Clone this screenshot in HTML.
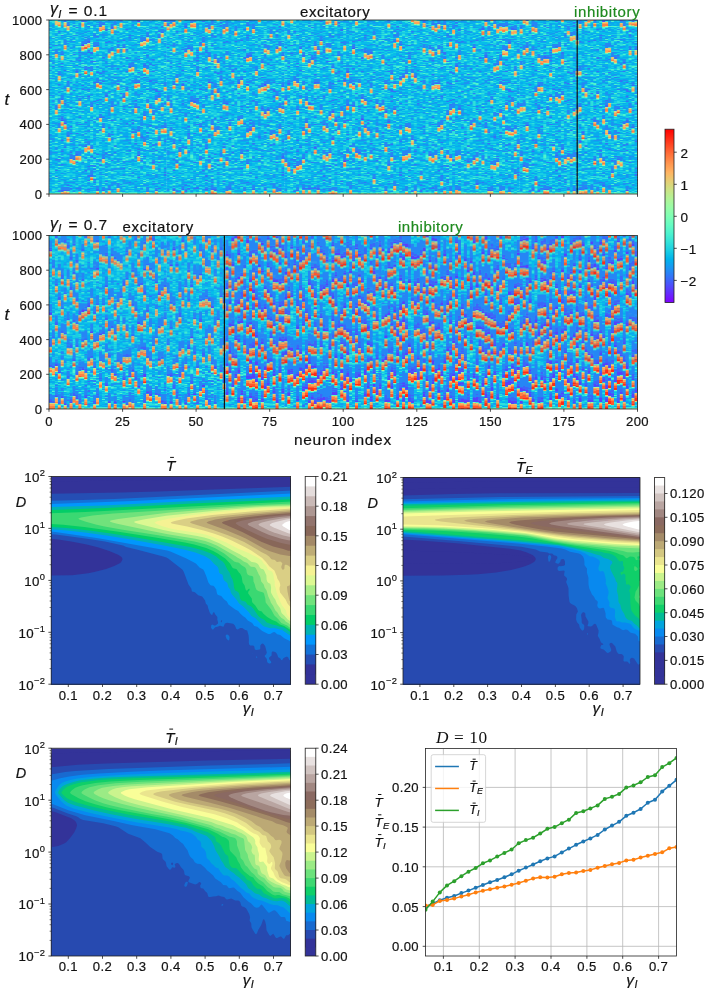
<!DOCTYPE html>
<html><head><meta charset="utf-8"><title>figure</title>
<style>html,body{margin:0;padding:0;background:#fff}svg{display:block}text{font-family:"Liberation Sans",sans-serif;stroke-width:0.2px;paint-order:stroke;letter-spacing:0.35px}</style></head>
<body><svg width="708" height="991" viewBox="0 0 708 991">
<rect width="708" height="991" fill="#fff"/>
<g opacity="0.999">
<defs><g id="nt"><rect x="0" y="0" width="40" height="174" fill="#07bcea"/><g fill="none" stroke-width="1.02"><path stroke="#3472f8" d="M0.5 146v1M1.5 127v1M2.5 17v1m0 5v1m0 10v1m0 105v1m0 7v1M3.5 2v1m0 31v1m0 74v1m0 52v1M4.5 29v1m0 12v1m0 10v1m0 73v1m0 2v1m0 27v1M5.5 46v1m0 43v1m0 32v1m0 20v1M6.5 2v2m0 4v1m0 103v1M7.5 5v1m0 35v1m0 10v1m0 7v1m0 6v1m0 18v1M8.5 14v1m0 88v1m0 35v1M9.5 5v1m0 25v1m0 28v1m0 67v1m0 37v1M10.5 5v2m0 62v1m0 6v1m0 18v1m0 23v1m0 13v1m0 2v1m0 1v1m0 2v1m0 1v1M11.5 104v1m0 3v1M12.5 23v1m0 30v1m0 16v1m0 84v1m0 15v1M13.5 4v1m0 8v1m0 3v2m0 8v1m0 14v1m0 8v1m0 45v1m0 6v1m0 21v1m0 14v1m0 1v1m0 23v1M14.5 28v1m0 8v1m0 94v1m0 2v1m0 4v2M15.5 11v1m0 2v1m0 9v1m0 2v1m0 7v1m0 56v1m0 18v1m0 20v1m0 15v1m0 9v1M16.5 39v1m0 35v1m0 13v1m0 3v1m0 16v1m0 10v1m0 35v1M17.5 28v1m0 4v1m0 29v1m0 7v1m0 22v1m0 25v1M18.5 76v1m0 35v1m0 9v1m0 13v1m0 31v1m0 2v1M19.5 1v1m0 10v1m0 27v1m0 56v1m0 53v1m0 11v2M20.5 66v1m0 35v1m0 49v1M21.5 33v1m0 20v1m0 4v1m0 13v1M22.5 41v1m0 5v1m0 40v1m0 30v1M23.5 104v1m0 20v1m0 26v1M24.5 74v1m0 25v1M25.5 25v1m0 58v1m0 2v1m0 65v1M26.5 70v1m0 51v1m0 12v2m0 7v1m0 19v1M27.5 11v1m0 31v1m0 42v1m0 69v1m0 1v1M28.5 70v1m0 2v1M29.5 50v1m0 10v1m0 31v1M30.5 16v1m0 27v1m0 41v1m0 34v1m0 12v1M31.5 0v1m0 32v1m0 22v2M32.5 37v1m0 42v1m0 35v1M33.5 61v1m0 42v1m0 33v1M34.5 68v1m0 43v2m0 15v1m0 24v1M35.5 48v1m0 55v1m0 17v1m0 5v1m0 5v1M36.5 43v1m0 5v1m0 42v1m0 4v1m0 4v3m0 6v1M37.5 5v1m0 25v1m0 52v1m0 17v1m0 55v1m0 3v1M38.5 83v1m0 80v1m0 2v1M39.5 18v2m0 1v1m0 3v1m0 26v1m0 37v1"/>
<path stroke="#1c92f3" d="M0.5 3v2m0 9v2m0 4v1m0 8v1m0 9v4m0 2v1m0 8v2m0 2v2m0 24v1m0 1v1m0 11v1m0 5v1m0 10v1m0 7v1m0 8v2m0 3v1m0 11v1m0 15v1M1.5 41v1m0 10v1m0 1v2m0 11v1m0 2v1m0 18v1m0 2v2m0 4v1m0 7v1m0 8v1m0 14v2m0 3v1m0 4v1m0 2v1m0 4v1m0 6v1m0 12v1M2.5 0v1m0 29v1m0 2v1m0 7v1m0 2v3m0 17v1m0 5v1m0 9v1m0 3v1m0 27v1m0 25v1m0 2v1m0 16v1M3.5 3v1m0 8v1m0 3v1m0 8v1m0 2v1m0 3v2m0 3v1m0 36v2m0 1v1m0 16v1m0 6v1m0 6v1m0 4v1m0 3v1m0 9v1m0 4v1m0 6v1m0 1v1m0 2v1m0 4v1m0 11v1M4.5 2v1m0 5v1m0 5v1m0 5v1m0 7v1m0 6v2m0 2v1m0 3v2m0 9v1m0 26v1m0 1v1m0 18v1m0 2v1m0 8v1m0 3v2m0 20v1m0 15v1M5.5 0v2m0 7v1m0 1v1m0 1v1m0 15v1m0 17v2m0 17v1m0 14v1m0 2v1m0 3v2m0 2v2m0 11v3m0 38v1m0 7v1m0 7v1M6.5 4v1m0 4v1m0 1v1m0 21v1m0 5v1m0 25v2m0 20v1m0 3v1m0 11v1m0 1v1m0 10v1m0 5v1m0 24v1m0 2v1m0 1v1m0 10v1m0 9v1M7.5 4v1m0 3v1m0 2v1m0 21v1m0 8v1m0 6v1m0 4v1m0 7v1m0 1v1m0 1v1m0 5v1m0 8v1m0 10v1m0 6v2m0 3v3m0 4v1m0 3v1m0 1v1m0 10v1m0 3v1m0 12v1m0 6v1m0 1v1m0 2v1M8.5 2v1m0 8v1m0 16v1m0 3v1m0 12v1m0 2v2m0 3v1m0 2v1m0 23v1m0 10v1m0 17v1m0 7v1m0 14v1m0 8v1m0 4v2m0 4v1m0 2v1m0 2v1m0 8v2m0 1v1M9.5 9v1m0 12v1m0 18v1m0 4v1m0 5v1m0 16v1m0 1v1m0 14v1m0 2v1m0 3v1m0 3v1m0 7v1m0 2v1m0 2v1m0 21v3m0 22v1m0 2v1M10.5 17v1m0 1v1m0 11v1m0 16v2m0 1v1m0 25v1m0 7v1m0 4v1m0 3v1m0 5v1m0 17v1m0 8v1m0 4v1m0 2v1m0 23v1m0 9v1M11.5 0v1m0 7v1m0 12v1m0 9v1m0 5v1m0 5v1m0 3v2m0 9v2m0 9v1m0 12v1m0 8v1m0 4v2m0 7v1m0 7v1m0 3v1m0 8v1m0 3v1m0 8v3m0 1v2m0 12v1m0 2v1M12.5 4v1m0 11v1m0 3v1m0 1v1m0 12v2m0 23v1m0 1v1m0 4v1m0 19v1m0 1v1m0 5v1m0 8v1m0 1v1m0 17v1m0 9v1m0 4v2m0 20v1m0 2v1M13.5 2v1m0 7v1m0 13v2m0 7v1m0 7v1m0 1v1m0 3v1m0 14v2m0 3v2m0 4v1m0 21v2m0 1v1m0 3v1m0 5v1m0 8v2m0 6v1m0 10v2m0 4v1m0 3v2m0 1v1m0 5v1m0 1v1m0 4v1m0 7v1M14.5 5v1m0 1v1m0 4v1m0 10v1m0 12v1m0 16v1m0 12v1m0 6v1m0 2v1m0 22v1m0 6v1m0 8v1m0 1v1m0 9v1m0 3v1M15.5 7v1m0 5v1m0 3v1m0 4v1m0 5v1m0 11v1m0 14v1m0 2v1m0 5v1m0 6v1m0 2v1m0 32v1m0 2v1m0 39v1m0 5v2m0 1v2m0 6v2M16.5 30v1m0 30v1m0 12v1m0 30v1m0 1v1m0 1v1m0 12v1m0 3v2m0 10v1m0 6v1m0 5v1m0 1v1m0 2v1m0 7v1m0 4v1m0 1v1M17.5 11v1m0 7v1m0 1v1m0 7v1m0 4v1m0 38v1m0 13v1m0 19v1m0 1v1m0 7v1m0 3v1m0 3v1m0 20v1m0 12v1m0 7v1m0 4v1M18.5 1v1m0 17v1m0 19v1m0 1v1m0 1v1m0 9v1m0 6v1m0 5v1m0 7v1m0 2v1m0 3v1m0 7v1m0 2v1m0 3v1m0 4v1m0 11v1m0 4v1m0 1v2m0 11v1m0 1v1m0 9v1m0 10v1m0 1v2m0 7v1m0 2v1M19.5 2v1m0 1v1m0 5v1m0 7v1m0 7v2m0 1v2m0 6v1m0 1v1m0 1v1m0 8v1m0 24v1m0 10v1m0 29v1m0 5v1m0 4v1m0 2v3m0 5v2m0 8v1m0 5v1m0 3v1m0 13v1M20.5 29v1m0 6v1m0 1v2m0 13v1m0 11v1m0 7v1m0 1v1m0 2v4m0 1v2m0 3v1m0 20v1m0 4v2m0 3v1m0 7v1m0 23v1m0 20v1M21.5 4v1m0 3v4m0 11v2m0 13v2m0 4v1m0 10v1m0 6v1m0 17v1m0 11v1m0 1v1m0 4v1m0 10v2m0 1v1m0 2v1m0 7v1m0 1v3m0 7v1m0 1v1m0 12v1m0 8v1m0 2v1m0 1v1m0 5v1M22.5 4v1m0 5v2m0 12v2m0 9v1m0 12v1m0 6v1m0 17v1m0 5v1m0 23v1m0 6v3m0 2v2m0 10v2m0 11v1m0 18v1m0 2v1m0 7v1M23.5 0v1m0 7v1m0 16v1m0 3v1m0 2v3m0 29v1m0 3v1m0 21v2m0 24v1m0 7v1m0 36v1M24.5 5v1m0 3v1m0 14v2m0 8v1m0 26v1m0 8v1m0 24v2m0 10v1m0 4v1m0 1v1m0 1v1m0 5v1m0 8v1m0 5v1m0 6v1m0 1v1m0 6v1m0 12v1m0 5v1M25.5 2v1m0 4v1m0 2v1m0 1v2m0 4v2m0 8v1m0 2v2m0 20v1m0 3v1m0 9v1m0 3v1m0 20v1m0 5v1m0 8v1m0 7v1m0 11v2m0 14v1m0 10v1M26.5 10v2m0 20v1m0 7v1m0 2v1m0 3v1m0 5v2m0 2v1m0 9v1m0 1v1m0 18v1m0 7v1m0 12v1m0 23v1m0 9v1M27.5 9v1m0 8v1m0 5v1m0 7v1m0 9v1m0 7v2m0 1v1m0 14v1m0 3v1m0 16v1m0 20v1m0 3v1m0 20v1m0 17v3m0 9v1M28.5 0v1m0 9v1m0 9v2m0 11v1m0 13v1m0 12v2m0 2v2m0 5v1m0 10v3m0 5v1m0 1v1m0 14v1m0 3v3m0 6v1m0 6v1m0 5v1m0 10v1m0 3v1m0 9v1m0 3v1m0 5v2m0 2v2M29.5 6v2m0 4v1m0 11v1m0 7v1m0 3v2m0 7v1m0 3v1m0 2v1m0 9v3m0 7v1m0 19v1m0 6v3m0 8v1m0 2v2m0 2v1m0 8v1m0 6v1m0 1v1m0 5v1m0 7v1m0 5v1m0 9v1m0 6v1M30.5 3v1m0 28v1m0 12v1m0 2v1m0 8v1m0 7v1m0 10v1m0 10v1m0 10v2m0 8v1m0 5v1m0 1v2m0 19v1m0 11v1m0 14v1m0 3v1m0 2v1M31.5 5v1m0 19v3m0 4v1m0 2v1m0 7v1m0 11v1m0 2v2m0 6v1m0 1v4m0 1v2m0 1v1m0 23v1m0 1v1m0 12v1m0 2v1m0 16v1m0 11v2m0 6v1m0 2v1M32.5 1v1m0 6v2m0 21v1m0 3v1m0 7v1m0 5v1m0 5v1m0 13v1m0 9v1m0 26v1m0 1v1m0 10v1m0 6v1m0 14v1m0 2v1m0 4v1m0 6v1M33.5 8v1m0 9v2m0 7v1m0 15v1m0 10v1m0 1v3m0 1v1m0 6v1m0 1v1m0 7v1m0 3v1m0 2v1m0 27v1m0 1v1m0 1v1m0 14v1m0 4v2m0 6v1m0 7v1m0 1v1m0 9v1M34.5 15v1m0 26v1m0 4v1m0 2v1m0 16v1m0 3v1m0 11v1m0 3v1m0 8v1m0 6v1m0 1v1m0 12v1m0 3v1m0 7v1m0 3v1m0 8v1m0 2v1m0 18v1m0 6v1M35.5 9v2m0 1v1m0 2v1m0 4v1m0 11v2m0 6v1m0 1v1m0 1v2m0 3v1m0 5v1m0 7v1m0 8v2m0 11v2m0 23v2m0 1v2m0 18v1m0 9v1m0 3v1m0 5v2m0 2v1m0 8v1M36.5 2v1m0 3v1m0 3v1m0 5v4m0 9v1m0 8v1m0 11v1m0 7v1m0 2v1m0 20v2m0 1v1m0 7v1m0 2v1m0 1v1m0 14v1m0 9v1m0 5v1m0 21v1m0 9v1m0 3v2m0 2v1M37.5 10v1m0 13v2m0 8v4m0 26v1m0 1v1m0 5v1m0 7v1m0 5v2m0 6v1m0 15v1m0 21v1m0 4v1m0 16v1m0 1v2m0 1v1m0 3v1m0 5v1M38.5 8v2m0 27v1m0 10v1m0 14v1m0 2v1m0 11v2m0 7v1m0 5v1m0 8v1m0 7v1m0 4v1m0 35v1m0 2v1m0 6v1m0 4v1m0 6v1M39.5 14v1m0 19v1m0 8v2m0 8v2m0 12v1m0 5v1m0 23v1m0 2v2m0 2v2m0 2v1m0 10v1m0 14v1m0 2v2m0 2v1m0 8v1m0 1v1m0 10v1m0 6v1"/>
<path stroke="#09aaee" d="M0.5 1v1m0 3v1m0 1v1m0 2v1m0 1v2m0 3v2m0 7v2m0 3v1m0 2v3m0 6v1m0 4v2m0 1v1m0 4v2m0 5v1m0 2v1m0 1v1m0 6v2m0 3v1m0 19v2m0 4v2m0 2v2m0 24v1m0 4v1m0 9v1m0 3v2m0 6v2m0 2v2m0 4v1M1.5 1v1m0 4v1m0 3v1m0 1v2m0 2v1m0 3v1m0 5v2m0 2v2m0 1v1m0 1v1m0 4v1m0 12v1m0 3v2m0 9v1m0 2v2m0 23v2m0 2v2m0 2v1m0 12v2m0 2v1m0 3v2m0 5v2m0 17v2m0 11v1m0 1v2m0 1v1M2.5 6v1m0 8v1m0 5v1m0 2v1m0 3v2m0 5v1m0 4v1m0 9v1m0 6v3m0 6v1m0 2v1m0 1v1m0 5v2m0 6v2m0 12v1m0 5v1m0 4v1m0 2v5m0 2v1m0 7v1m0 6v1m0 3v1m0 16v1m0 2v2m0 10v1M3.5 7v1m0 2v1m0 7v1m0 4v1m0 5v1m0 6v1m0 10v1m0 1v1m0 1v1m0 1v1m0 2v1m0 4v1m0 4v3m0 9v1m0 2v1m0 3v1m0 3v1m0 2v1m0 2v1m0 2v1m0 3v1m0 3v1m0 15v1m0 6v1m0 5v1m0 12v1m0 2v2m0 7v1m0 6v1m0 2v1M4.5 3v1m0 3v1m0 32v2m0 6v1m0 1v3m0 3v1m0 2v1m0 2v1m0 14v1m0 1v1m0 2v1m0 1v1m0 3v2m0 1v1m0 3v1m0 1v4m0 8v1m0 2v1m0 4v1m0 2v2m0 2v3m0 5v4m0 5v1m0 6v1m0 6v1m0 6v1m0 3v2m0 4v2M5.5 10v1m0 1v1m0 1v1m0 1v1m0 3v1m0 1v1m0 5v1m0 5v2m0 4v2m0 7v2m0 4v1m0 9v1m0 3v1m0 2v4m0 2v1m0 7v1m0 12v2m0 2v1m0 11v1m0 3v2m0 1v1m0 1v1m0 1v1m0 1v1m0 5v1m0 1v1m0 1v1m0 2v1m0 11v1m0 2v3m0 6v1m0 1v1m0 1v2M6.5 14v1m0 6v1m0 5v1m0 6v3m0 3v1m0 7v2m0 3v1m0 5v2m0 1v1m0 1v1m0 3v2m0 1v2m0 1v1m0 6v1m0 2v1m0 1v1m0 1v2m0 6v2m0 6v1m0 1v1m0 1v1m0 9v1m0 9v1m0 6v1m0 12v1m0 6v1m0 1v1m0 1v3m0 2v1m0 3v2M7.5 1v1m0 5v1m0 4v1m0 2v1m0 8v2m0 1v1m0 6v1m0 8v1m0 4v1m0 1v1m0 10v1m0 1v1m0 4v1m0 2v1m0 2v1m0 5v1m0 2v1m0 1v1m0 4v2m0 1v1m0 1v2m0 19v1m0 16v1m0 4v1m0 4v1m0 2v1m0 4v1m0 1v1m0 9v1m0 7v1m0 1v1M8.5 0v1m0 2v1m0 1v2m0 3v1m0 1v1m0 3v1m0 4v1m0 2v2m0 1v1m0 15v2m0 1v1m0 3v2m0 2v2m0 1v1m0 2v1m0 13v2m0 2v1m0 7v1m0 9v1m0 9v1m0 1v1m0 13v2m0 2v3m0 1v1m0 17v2m0 1v1m0 4v1m0 5v1m0 8v3M9.5 4v1m0 1v1m0 5v1m0 1v5m0 1v1m0 5v1m0 12v1m0 18v1m0 9v1m0 1v1m0 5v2m0 2v1m0 1v2m0 6v1m0 4v2m0 1v1m0 8v1m0 4v1m0 2v1m0 1v1m0 30v1m0 11v1m0 11v1M10.5 2v2m0 3v1m0 19v1m0 2v1m0 4v1m0 2v2m0 1v1m0 2v1m0 13v2m0 2v1m0 8v1m0 6v1m0 3v1m0 9v1m0 12v1m0 3v2m0 5v1m0 6v1m0 5v2m0 3v1m0 2v1m0 1v2m0 3v2m0 2v1m0 8v1m0 2v2m0 1v1m0 1v4m0 1v1m0 2v1M11.5 5v1m0 5v2m0 2v1m0 1v1m0 2v1m0 1v1m0 6v2m0 10v2m0 6v1m0 17v1m0 13v1m0 5v1m0 2v1m0 4v1m0 37v1m0 2v1m0 12v1m0 4v2m0 2v1m0 3v1m0 7v1m0 2v1M12.5 1v1m0 1v1m0 3v2m0 5v2m0 8v1m0 1v3m0 1v1m0 8v1m0 1v1m0 2v1m0 6v3m0 2v2m0 7v2m0 2v2m0 9v1m0 2v2m0 3v1m0 3v1m0 4v1m0 1v1m0 3v1m0 6v2m0 1v1m0 2v2m0 7v1m0 4v3m0 2v1m0 1v1m0 3v1m0 11v2m0 3v1m0 3v1m0 3v4m0 3v1M13.5 3v1m0 1v1m0 2v2m0 1v1m0 2v1m0 1v1m0 3v1m0 5v1m0 1v2m0 1v1m0 2v1m0 3v2m0 8v2m0 2v2m0 2v2m0 11v4m0 2v1m0 5v2m0 6v1m0 3v2m0 8v1m0 1v1m0 4v1m0 2v2m0 8v2m0 5v1m0 3v1m0 3v1m0 5v2m0 5v1m0 1v2m0 10v2m0 2v1m0 1v1m0 1v1M14.5 3v1m0 11v2m0 1v1m0 2v2m0 1v2m0 1v1m0 4v2m0 4v1m0 2v1m0 4v1m0 5v1m0 9v1m0 14v1m0 5v1m0 2v1m0 2v2m0 1v1m0 5v1m0 5v1m0 3v1m0 9v1m0 3v1m0 1v1m0 1v1m0 3v1m0 5v1m0 1v2m0 14v2m0 2v1m0 1v1m0 7v1m0 1v2M15.5 3v1m0 1v1m0 3v1m0 2v1m0 5v1m0 6v1m0 10v1m0 4v1m0 7v1m0 3v2m0 4v1m0 2v2m0 8v1m0 17v1m0 14v2m0 1v1m0 3v1m0 1v1m0 3v2m0 4v1m0 4v1m0 19v1m0 13v1m0 1v1m0 6v1M16.5 0v1m0 1v1m0 11v1m0 8v1m0 2v1m0 5v3m0 5v1m0 6v1m0 8v1m0 5v2m0 3v4m0 5v1m0 8v3m0 3v1m0 2v1m0 3v2m0 3v1m0 2v1m0 4v3m0 16v1m0 1v2m0 5v1m0 4v1m0 1v1m0 1v1m0 5v1m0 5v1m0 1v2m0 1v1M17.5 3v1m0 3v4m0 1v2m0 1v2m0 3v1m0 2v3m0 13v1m0 2v1m0 5v1m0 1v2m0 12v1m0 2v1m0 13v1m0 2v1m0 4v3m0 1v1m0 3v1m0 1v1m0 5v1m0 13v1m0 13v1m0 4v1m0 6v1m0 7v2m0 3v1m0 10v2M18.5 2v1m0 1v1m0 3v1m0 15v2m0 3v2m0 4v2m0 1v1m0 1v1m0 1v1m0 4v1m0 4v1m0 2v1m0 6v1m0 1v1m0 4v1m0 2v1m0 11v2m0 2v1m0 18v1m0 2v1m0 6v1m0 5v3m0 2v1m0 1v1m0 7v4m0 11v1m0 3v1m0 2v1m0 1v1m0 1v1M19.5 0v1m0 4v1m0 3v1m0 3v1m0 5v2m0 1v3m0 6v1m0 12v1m0 2v2m0 12v1m0 10v3m0 2v2m0 1v2m0 7v1m0 5v1m0 4v2m0 3v2m0 3v1m0 1v2m0 12v1m0 7v1m0 2v1m0 7v1m0 4v1m0 1v1m0 3v1m0 2v3m0 3v1m0 1v1M20.5 1v1m0 15v1m0 5v1m0 3v2m0 5v2m0 5v2m0 6v2m0 1v1m0 14v3m0 6v1m0 5v1m0 2v1m0 1v1m0 2v4m0 2v1m0 4v1m0 8v1m0 6v2m0 6v1m0 2v1m0 1v1m0 9v3m0 1v2m0 9v1m0 3v1m0 4v1m0 6v1m0 1v1M21.5 0v4m0 11v5m0 5v1m0 2v1m0 11v1m0 1v1m0 2v1m0 10v1m0 4v1m0 4v1m0 7v1m0 4v1m0 4v1m0 4v1m0 1v1m0 1v1m0 9v1m0 3v3m0 4v1m0 2v1m0 2v1m0 4v1m0 3v3m0 7v3m0 8v1m0 1v1m0 1v1m0 1v3m0 2v2m0 5v2m0 2v1M22.5 9v1m0 2v1m0 2v1m0 2v1m0 3v1m0 7v3m0 1v1m0 5v1m0 1v1m0 25v1m0 5v2m0 2v1m0 4v1m0 9v2m0 2v3m0 2v1m0 2v1m0 16v1m0 11v1m0 3v1m0 4v1m0 3v1m0 5v1m0 7v1m0 5v1m0 1v1M23.5 2v2m0 2v2m0 11v3m0 2v1m0 10v1m0 2v3m0 1v2m0 2v1m0 3v1m0 5v1m0 2v2m0 1v1m0 2v1m0 10v1m0 4v2m0 1v1m0 4v1m0 2v1m0 5v1m0 6v1m0 1v2m0 5v2m0 3v1m0 7v1m0 14v1m0 6v1m0 1v1m0 1v1m0 1v2m0 5v1m0 7v4M24.5 0v4m0 2v2m0 5v2m0 3v1m0 7v1m0 3v1m0 10v1m0 1v2m0 2v1m0 3v3m0 2v2m0 2v1m0 5v2m0 1v1m0 11v1m0 5v1m0 20v1m0 4v1m0 6v1m0 6v1m0 2v1m0 4v1m0 2v2m0 2v2m0 8v1m0 4v1m0 1v2m0 6v3m0 1v1M25.5 1v1m0 9v1m0 2v1m0 7v1m0 1v1m0 1v1m0 3v1m0 10v1m0 2v1m0 1v1m0 2v2m0 1v1m0 5v3m0 2v1m0 5v2m0 1v2m0 6v1m0 1v1m0 3v1m0 1v1m0 4v1m0 1v3m0 7v1m0 5v2m0 3v1m0 6v2m0 9v1m0 2v1m0 6v1m0 3v1m0 6v1m0 1v2m0 1v1m0 5v1m0 1v1m0 2v1M26.5 4v2m0 6v2m0 8v1m0 6v1m0 9v1m0 2v1m0 3v1m0 3v1m0 1v1m0 3v1m0 1v4m0 1v1m0 7v2m0 8v2m0 4v1m0 5v1m0 4v1m0 3v1m0 1v1m0 2v1m0 8v2m0 3v1m0 1v2m0 17v1m0 9v1m0 1v2m0 2v1m0 4v1m0 1v1m0 2v1m0 2v1M27.5 4v1m0 5v1m0 1v1m0 7v1m0 4v1m0 3v1m0 1v1m0 5v1m0 2v1m0 3v1m0 9v1m0 7v1m0 4v1m0 1v1m0 10v2m0 8v1m0 3v1m0 11v1m0 11v2m0 2v1m0 2v1m0 3v1m0 3v1m0 2v1m0 3v1m0 4v2m0 2v1m0 7v1m0 1v1m0 2v1m0 1v1M28.5 1v1m0 2v1m0 1v1m0 2v1m0 1v1m0 5v2m0 9v3m0 1v1m0 1v1m0 10v2m0 1v1m0 5v2m0 10v2m0 1v1m0 4v1m0 5v2m0 5v1m0 1v1m0 3v1m0 1v2m0 3v1m0 2v2m0 10v1m0 3v1m0 2v4m0 2v2m0 1v1m0 6v1m0 4v1m0 1v1m0 7v1m0 1v1m0 7v1m0 2v2m0 3v1M29.5 0v2m0 1v3m0 2v2m0 9v2m0 1v1m0 12v1m0 7v1m0 2v1m0 6v2m0 4v1m0 6v1m0 6v1m0 5v1m0 1v1m0 2v1m0 2v1m0 10v1m0 3v1m0 1v1m0 6v1m0 3v2m0 6v1m0 1v1m0 1v3m0 2v1m0 1v1m0 1v1m0 3v1m0 7v1m0 4v1m0 2v2m0 3v1m0 4v1m0 3v1m0 2v1M30.5 2v1m0 4v2m0 1v1m0 4v1m0 1v1m0 1v1m0 2v1m0 4v1m0 5v2m0 5v1m0 5v1m0 9v1m0 1v1m0 11v1m0 1v2m0 17v1m0 2v1m0 1v2m0 5v1m0 9v1m0 9v1m0 7v2m0 10v3m0 5v2m0 3v2m0 3v1m0 1v1m0 2v1m0 3v1m0 1v1M31.5 4v1m0 2v2m0 1v1m0 2v1m0 5v1m0 4v1m0 15v1m0 3v2m0 7v2m0 5v2m0 3v1m0 6v1m0 6v1m0 11v4m0 4v1m0 6v2m0 1v2m0 3v1m0 4v2m0 1v1m0 7v1m0 13v2m0 7v2m0 2v1m0 2v1m0 1v3m0 4v3M32.5 0v1m0 1v1m0 9v1m0 4v1m0 10v1m0 1v1m0 8v2m0 1v1m0 1v1m0 5v1m0 6v1m0 3v3m0 6v1m0 2v1m0 4v1m0 3v1m0 1v1m0 3v1m0 15v1m0 2v1m0 5v2m0 3v1m0 2v1m0 1v1m0 3v2m0 5v1m0 3v1m0 1v1m0 9v2m0 6v1m0 1v1m0 1v1m0 2v1m0 2v1m0 2v1M33.5 9v2m0 4v1m0 5v1m0 4v1m0 11v1m0 10v1m0 1v1m0 14v1m0 1v1m0 10v2m0 1v1m0 3v1m0 2v1m0 6v1m0 3v1m0 6v1m0 11v2m0 1v1m0 5v1m0 3v1m0 2v1m0 3v1m0 1v1m0 4v1m0 1v1m0 2v1m0 16v4M34.5 2v1m0 3v1m0 2v1m0 4v1m0 2v3m0 5v2m0 4v1m0 3v1m0 1v1m0 5v1m0 7v1m0 1v1m0 1v1m0 4v1m0 2v2m0 4v1m0 3v1m0 1v1m0 1v1m0 24v1m0 1v1m0 1v1m0 1v4m0 2v1m0 9v1m0 6v1m0 3v1m0 11v1m0 5v1m0 2v2m0 3v2m0 4v1m0 3v1M35.5 1v2m0 13v1m0 1v1m0 4v1m0 1v1m0 8v1m0 1v2m0 1v1m0 20v1m0 1v1m0 3v3m0 6v2m0 10v2m0 1v1m0 1v1m0 2v1m0 5v1m0 1v1m0 1v1m0 3v1m0 8v1m0 6v1m0 10v1m0 4v1m0 4v1m0 3v1m0 1v1m0 2v1m0 2v1m0 13v2M36.5 0v1m0 6v1m0 24v1m0 6v1m0 8v1m0 4v2m0 8v1m0 3v1m0 3v1m0 1v1m0 10v1m0 3v1m0 23v1m0 1v2m0 9v3m0 3v1m0 4v1m0 6v1m0 4v1m0 3v1m0 1v1m0 5v1m0 1v1M37.5 1v2m0 3v1m0 4v1m0 1v1m0 1v1m0 1v1m0 1v1m0 2v2m0 3v2m0 9v1m0 2v2m0 11v3m0 1v1m0 1v1m0 6v3m0 1v1m0 3v1m0 2v1m0 2v1m0 7v2m0 5v1m0 4v1m0 6v1m0 10v1m0 11v1m0 20v1m0 11v1M38.5 0v1m0 5v1m0 4v1m0 4v1m0 2v1m0 1v1m0 9v2m0 2v2m0 1v4m0 1v2m0 8v1m0 3v2m0 2v2m0 2v1m0 1v1m0 2v1m0 2v1m0 1v2m0 18v1m0 2v1m0 1v1m0 2v1m0 7v2m0 5v1m0 1v1m0 1v1m0 1v2m0 3v2m0 2v1m0 4v3m0 1v1m0 4v1m0 2v1m0 6v2m0 3v1M39.5 2v1m0 2v1m0 2v1m0 1v1m0 2v1m0 2v1m0 5v3m0 1v1m0 5v1m0 2v2m0 8v1m0 2v4m0 5v2m0 6v1m0 5v1m0 2v1m0 1v1m0 2v2m0 2v2m0 4v1m0 1v1m0 4v1m0 5v1m0 3v1m0 6v2m0 1v2m0 2v1m0 2v1m0 8v1m0 9v1m0 4v3m0 12v1m0 8v2"/>
<path stroke="#18cde4" d="M0.5 16v1m0 2v1m0 2v1m0 1v2m0 4v1m0 13v1m0 15v1m0 3v2m0 1v1m0 1v1m0 2v1m0 8v1m0 1v1m0 1v1m0 2v1m0 1v1m0 3v1m0 2v1m0 4v1m0 2v1m0 7v1m0 2v2m0 3v2m0 1v2m0 3v1m0 5v1m0 2v1m0 3v1m0 5v1m0 3v1m0 7v2M1.5 4v2m0 3v1m0 4v1m0 3v1m0 3v1m0 1v1m0 3v1m0 7v1m0 6v1m0 7v1m0 7v1m0 4v2m0 3v1m0 4v1m0 3v2m0 3v1m0 2v2m0 2v1m0 3v1m0 4v1m0 9v1m0 4v1m0 1v1m0 2v1m0 4v1m0 3v2m0 4v1m0 1v1m0 8v2m0 3v1m0 2v2m0 2v2m0 2v1m0 3v1m0 7v1M2.5 4v1m0 3v1m0 1v1m0 2v1m0 5v1m0 7v1m0 8v2m0 14v1m0 2v1m0 6v1m0 4v1m0 4v2m0 2v1m0 4v1m0 7v2m0 4v1m0 2v1m0 2v2m0 5v1m0 2v1m0 7v1m0 12v3m0 1v2m0 4v2m0 1v3m0 3v1m0 10v1m0 3v2m0 5v1M3.5 4v1m0 4v1m0 7v1m0 13v1m0 11v1m0 4v1m0 8v3m0 10v1m0 2v1m0 6v1m0 6v1m0 2v2m0 1v1m0 5v2m0 2v1m0 1v1m0 1v1m0 10v1m0 6v1m0 5v1m0 1v1m0 2v1m0 1v1m0 8v1m0 2v1m0 6v2m0 5v1m0 7v1M4.5 0v1m0 5v1m0 5v1m0 2v1m0 3v1m0 2v3m0 8v1m0 11v1m0 1v1m0 10v1m0 2v1m0 3v1m0 2v2m0 2v1m0 1v1m0 5v1m0 5v1m0 3v1m0 2v1m0 7v1m0 2v1m0 8v1m0 35v1m0 10v2m0 1v3m0 3v2M5.5 6v1m0 11v1m0 2v1m0 1v1m0 1v1m0 5v1m0 1v1m0 3v1m0 1v1m0 5v1m0 5v1m0 2v1m0 1v3m0 2v2m0 1v1m0 12v1m0 1v1m0 2v1m0 2v1m0 10v1m0 12v1m0 3v2m0 2v1m0 3v1m0 5v1m0 2v2m0 1v1m0 1v1m0 1v1m0 1v1m0 2v2m0 11v1m0 10v1m0 1v1M6.5 0v1m0 12v1m0 2v1m0 1v3m0 2v1m0 2v1m0 3v2m0 5v2m0 3v1m0 1v1m0 1v1m0 5v1m0 17v1m0 2v1m0 4v3m0 9v1m0 1v1m0 5v1m0 2v1m0 8v2m0 2v2m0 3v1m0 1v1m0 3v1m0 3v1m0 6v1m0 6v1m0 1v2m0 4v1m0 1v1m0 4v1m0 6v1m0 4v1M7.5 2v2m0 2v1m0 2v1m0 3v1m0 5v2m0 8v2m0 4v2m0 9v1m0 8v1m0 2v1m0 6v1m0 3v1m0 3v1m0 1v2m0 1v2m0 32v1m0 1v1m0 7v1m0 1v3m0 4v1m0 3v3m0 2v1m0 6v2m0 1v1m0 4v1m0 2v1m0 1v1m0 4v1m0 4v1M8.5 1v1m0 2v1m0 3v2m0 3v1m0 1v1m0 2v2m0 2v2m0 6v1m0 9v2m0 17v1m0 4v1m0 1v1m0 4v2m0 14v2m0 3v1m0 1v2m0 8v2m0 4v3m0 2v1m0 15v1m0 3v1m0 2v1m0 1v1m0 9v1m0 6v1m0 3v1m0 1v1M9.5 1v2m0 5v1m0 2v1m0 12v1m0 5v1m0 1v2m0 1v3m0 5v3m0 1v1m0 1v1m0 1v1m0 9v1m0 1v3m0 1v1m0 4v4m0 5v1m0 2v1m0 2v1m0 14v1m0 13v1m0 8v1m0 3v1m0 14v1m0 4v1m0 4v1m0 1v2m0 1v1m0 2v1m0 1v1m0 5v2M10.5 11v1m0 2v2m0 26v1m0 7v1m0 1v2m0 1v1m0 1v1m0 3v1m0 4v1m0 1v1m0 1v1m0 2v1m0 7v1m0 15v1m0 6v1m0 1v1m0 6v1m0 1v1m0 4v2m0 24v1m0 2v2m0 7v1m0 12v2M11.5 1v2m0 1v1m0 5v1m0 2v2m0 1v1m0 6v1m0 2v3m0 3v2m0 10v1m0 1v1m0 3v1m0 15v1m0 1v1m0 8v1m0 2v1m0 11v1m0 1v1m0 3v2m0 3v1m0 11v1m0 2v1m0 1v1m0 3v2m0 8v1m0 2v2m0 9v1m0 1v1m0 1v1m0 3v1m0 7v2m0 1v1m0 3v1M12.5 5v2m0 2v1m0 15v1m0 7v1m0 3v1m0 4v1m0 3v1m0 1v1m0 1v1m0 8v1m0 1v1m0 2v1m0 3v1m0 4v2m0 11v1m0 3v1m0 10v1m0 6v1m0 3v1m0 7v1m0 6v1m0 14v1m0 2v2m0 1v1m0 1v2m0 5v1m0 2v1m0 10v1M13.5 1v1m0 4v2m0 13v1m0 1v1m0 12v1m0 8v1m0 9v1m0 2v3m0 5v1m0 12v1m0 10v2m0 8v1m0 20v1m0 6v1m0 3v1m0 15v1m0 1v1m0 8v1m0 1v1m0 2v1M14.5 2v1m0 3v1m0 7v1m0 5v1m0 5v1m0 3v1m0 3v1m0 5v1m0 1v1m0 2v1m0 10v1m0 1v1m0 1v1m0 3v2m0 4v3m0 1v1m0 4v1m0 8v1m0 4v1m0 7v3m0 1v1m0 5v1m0 9v1m0 15v1m0 4v3m0 3v1m0 1v1m0 1v2m0 9v1m0 8v2M15.5 0v2m0 18v1m0 2v1m0 9v2m0 2v3m0 2v1m0 2v2m0 1v1m0 30v1m0 1v1m0 1v2m0 2v3m0 4v1m0 1v1m0 1v1m0 1v2m0 1v2m0 16v2m0 3v2m0 7v1m0 3v1m0 30v2M16.5 5v1m0 2v1m0 2v1m0 4v3m0 1v2m0 3v1m0 12v1m0 2v3m0 1v1m0 2v1m0 3v1m0 2v1m0 10v1m0 6v1m0 3v1m0 1v5m0 6v1m0 5v1m0 17v2m0 1v1m0 5v1m0 1v1m0 3v1m0 4v4m0 17v1m0 12v1m0 1v1M17.5 0v2m0 16v1m0 3v1m0 13v1m0 4v1m0 1v1m0 1v1m0 1v1m0 1v1m0 2v1m0 1v1m0 1v1m0 8v1m0 6v1m0 1v1m0 1v1m0 1v1m0 16v2m0 1v1m0 1v1m0 2v1m0 2v1m0 1v1m0 5v1m0 3v1m0 3v2m0 3v4m0 8v2m0 10v2m0 2v2m0 3v1m0 1v1m0 1v1m0 1v1m0 6v1M18.5 0v1m0 6v1m0 3v1m0 1v2m0 1v1m0 3v1m0 1v2m0 3v1m0 28v2m0 10v1m0 10v2m0 10v1m0 3v1m0 1v2m0 9v2m0 1v1m0 3v2m0 9v2m0 3v1m0 10v1m0 3v5m0 1v1m0 1v1m0 10v1m0 3v1m0 2v1M19.5 25v1m0 7v1m0 1v1m0 7v1m0 16v1m0 2v1m0 1v2m0 24v4m0 9v1m0 2v2m0 2v1m0 5v1m0 6v2m0 16v2m0 3v1m0 9v1m0 4v1m0 5v1M20.5 2v1m0 4v1m0 2v1m0 4v1m0 2v1m0 2v1m0 3v2m0 17v4m0 6v1m0 1v1m0 1v2m0 2v2m0 7v1m0 17v1m0 5v1m0 2v1m0 4v1m0 2v3m0 3v1m0 9v2m0 8v2m0 2v2m0 8v2m0 1v1m0 4v1m0 1v1m0 1v1m0 1v1m0 1v1m0 4v4M21.5 5v3m0 6v1m0 7v1m0 6v2m0 17v3m0 12v1m0 3v1m0 8v2m0 4v2m0 1v1m0 2v1m0 1v1m0 7v1m0 2v1m0 4v1m0 8v1m0 5v1m0 10v1m0 1v2m0 1v1m0 5v1m0 3v1m0 1v1m0 9v1m0 7v1M22.5 3v1m0 4v1m0 5v1m0 1v2m0 2v1m0 2v1m0 2v2m0 10v1m0 4v2m0 6v1m0 4v3m0 1v1m0 1v1m0 1v1m0 1v1m0 2v1m0 17v1m0 20v1m0 9v1m0 2v1m0 1v1m0 2v1m0 3v1m0 2v1m0 5v1m0 2v1m0 8v2m0 2v4m0 4v2m0 8v1M23.5 4v1m0 9v1m0 1v1m0 1v1m0 4v1m0 17v1m0 2v1m0 7v2m0 17v3m0 3v2m0 7v1m0 6v1m0 6v1m0 2v1m0 2v1m0 4v1m0 1v1m0 4v1m0 1v1m0 9v1m0 3v2m0 1v1m0 3v1m0 2v1m0 12v1m0 2v1m0 5v1m0 2v1M24.5 8v1m0 1v2m0 4v1m0 4v1m0 1v1m0 3v1m0 1v1m0 3v1m0 2v1m0 5v1m0 2v2m0 1v1m0 5v1m0 7v2m0 4v1m0 2v1m0 4v2m0 5v1m0 1v1m0 11v1m0 1v1m0 1v1m0 3v1m0 3v1m0 7v1m0 1v1m0 5v1m0 2v1m0 7v1m0 12v2m0 7v1m0 2v1m0 2v2m0 7v1M25.5 5v1m0 2v2m0 19v1m0 5v1m0 2v3m0 2v1m0 4v1m0 5v1m0 7v1m0 2v2m0 7v1m0 1v2m0 5v1m0 5v1m0 4v1m0 4v1m0 1v3m0 4v1m0 8v2m0 10v1m0 1v1m0 1v1m0 1v1m0 2v2m0 1v1m0 3v3m0 2v3m0 3v1m0 6v1m0 1v1M26.5 0v1m0 1v1m0 5v2m0 4v1m0 5v1m0 2v1m0 1v1m0 1v1m0 5v1m0 4v1m0 26v1m0 2v1m0 7v1m0 1v1m0 6v1m0 3v1m0 1v2m0 1v1m0 4v1m0 8v1m0 5v1m0 4v1m0 5v2m0 7v1m0 2v4m0 5v1m0 15v1m0 10v1M27.5 0v2m0 1v1m0 1v1m0 9v1m0 1v1m0 1v1m0 10v1m0 3v1m0 1v1m0 4v1m0 13v1m0 2v1m0 4v1m0 1v1m0 4v2m0 3v2m0 1v2m0 3v3m0 6v2m0 1v5m0 1v2m0 2v1m0 1v1m0 4v1m0 2v2m0 9v2m0 4v1m0 8v2m0 4v1m0 4v1m0 10v1m0 3v1m0 1v1M28.5 2v2m0 3v2m0 7v1m0 7v4m0 12v1m0 2v2m0 6v1m0 1v1m0 14v1m0 3v1m0 2v3m0 10v1m0 12v2m0 5v2m0 4v1m0 1v1m0 1v1m0 7v1m0 3v1m0 4v2m0 2v1m0 1v2m0 13v1m0 2v1M29.5 16v1m0 1v1m0 2v1m0 1v1m0 3v1m0 3v1m0 2v1m0 3v2m0 1v2m0 4v1m0 3v1m0 8v1m0 7v3m0 3v2m0 1v1m0 2v1m0 2v1m0 1v1m0 3v3m0 4v2m0 5v1m0 2v1m0 1v2m0 2v1m0 8v2m0 8v1m0 7v1m0 11v1m0 6v1m0 4v2m0 4v1M30.5 1v1m0 11v1m0 9v1m0 1v1m0 2v2m0 6v2m0 1v1m0 2v1m0 6v1m0 1v2m0 1v2m0 4v1m0 1v2m0 3v1m0 7v1m0 2v1m0 9v1m0 1v1m0 2v1m0 10v1m0 1v1m0 3v1m0 11v1m0 2v1m0 3v2m0 7v4m0 5v1m0 5v3M31.5 3v1m0 2v1m0 7v1m0 1v1m0 11v1m0 2v1m0 9v1m0 9v2m0 25v1m0 2v1m0 1v1m0 3v1m0 10v1m0 2v1m0 11v1m0 2v2m0 8v1m0 1v1m0 2v1m0 1v1m0 3v3m0 2v1m0 6v2m0 5v1m0 2v1m0 5v1m0 7v1M32.5 3v2m0 10v1m0 3v1m0 5v1m0 3v1m0 4v1m0 6v1m0 5v1m0 4v1m0 5v1m0 6v1m0 1v1m0 3v2m0 12v2m0 4v2m0 2v1m0 2v2m0 5v1m0 6v1m0 11v1m0 4v1m0 1v1m0 5v1m0 4v1m0 4v1m0 4v1m0 6v1m0 4v1m0 1v1M33.5 13v1m0 8v1m0 1v2m0 2v1m0 3v2m0 2v1m0 9v1m0 15v3m0 10v2m0 6v1m0 6v1m0 2v1m0 1v1m0 1v1m0 1v1m0 2v1m0 14v2m0 8v1m0 1v1m0 4v1m0 5v1m0 1v1m0 7v1m0 7v1m0 1v1m0 1v1m0 9v1M34.5 3v1m0 4v1m0 3v2m0 6v1m0 1v1m0 11v1m0 1v1m0 2v1m0 5v1m0 11v2m0 3v1m0 2v1m0 4v1m0 3v1m0 5v1m0 1v1m0 1v1m0 4v1m0 3v2m0 5v1m0 15v1m0 3v2m0 1v1m0 1v1m0 1v2m0 3v1m0 4v1m0 1v1m0 1v1m0 8v2m0 3v1m0 4v1m0 3v1m0 3v2m0 3v1M35.5 0v1m0 2v1m0 1v1m0 5v1m0 1v1m0 7v2m0 3v1m0 1v2m0 1v1m0 15v1m0 3v2m0 3v1m0 1v2m0 4v1m0 12v1m0 15v1m0 4v1m0 3v1m0 3v2m0 8v1m0 2v3m0 5v1m0 2v1m0 7v1m0 1v1m0 1v1m0 5v1m0 10v1m0 1v1m0 5v1m0 1v1M36.5 3v1m0 1v1m0 6v2m0 1v1m0 4v1m0 9v1m0 11v1m0 2v1m0 5v2m0 9v1m0 2v2m0 1v1m0 1v1m0 3v2m0 1v1m0 1v1m0 28v1m0 1v1m0 5v2m0 2v1m0 9v1m0 1v3m0 5v1m0 9v1m0 2v1m0 10v1m0 3v1m0 4v1M37.5 3v1m0 4v2m0 4v1m0 6v1m0 8v1m0 1v1m0 6v2m0 2v1m0 1v1m0 3v1m0 2v2m0 5v1m0 1v1m0 3v1m0 4v1m0 26v1m0 6v1m0 2v1m0 1v1m0 1v1m0 8v1m0 3v1m0 5v1m0 10v1m0 6v4m0 3v1m0 11v1m0 2v1m0 2v1M38.5 1v1m0 12v1m0 5v1m0 1v3m0 1v1m0 19v2m0 2v2m0 7v2m0 8v1m0 10v1m0 3v2m0 3v1m0 1v1m0 5v1m0 3v1m0 2v1m0 1v2m0 6v1m0 2v1m0 1v1m0 3v1m0 4v1m0 3v1m0 3v2m0 7v1m0 2v1m0 4v1m0 5v2m0 7v2M39.5 6v1m0 21v1m0 12v1m0 5v1m0 14v1m0 5v1m0 1v1m0 6v1m0 3v2m0 2v1m0 38v1m0 3v1m0 4v1m0 6v1m0 2v4m0 7v2m0 2v1m0 2v1m0 6v1"/>
<path stroke="#2fe0db" d="M0.5 23v1m0 8v2m0 13v1m0 2v1m0 2v1m0 24v1m0 16v1m0 18v1m0 11v1m0 3v1m0 13v1m0 13v2m0 2v1m0 3v1m0 5v1M1.5 2v1m0 5v1m0 12v1m0 1v1m0 13v2m0 9v1m0 14v1m0 2v1m0 6v1m0 10v1m0 10v1m0 11v1m0 5v1m0 9v1m0 47v2M2.5 3v1m0 3v1m0 17v1m0 17v1m0 3v2m0 16v1m0 8v1m0 4v1m0 8v1m0 3v2m0 3v1m0 9v1m0 10v1m0 6v1m0 1v1m0 21v2m0 4v1m0 1v1m0 3v1m0 8v1M3.5 5v1m0 5v1m0 12v1m0 5v1m0 7v1m0 1v1m0 3v1m0 9v1m0 8v1m0 15v1m0 2v1m0 5v1m0 7v2m0 14v1m0 2v1m0 7v1m0 18v1m0 3v1m0 12v1m0 6v1m0 1v2M4.5 4v1m0 5v2m0 15v1m0 3v1m0 5v1m0 25v1m0 6v1m0 4v2m0 8v1m0 8v1m0 8v1m0 12v1m0 11v1m0 7v3m0 12v3M5.5 3v1m0 1v1m0 18v1m0 7v1m0 5v1m0 13v1m0 48v2m0 7v1m0 5v1m0 15v1m0 27v1m0 12v1M6.5 17v1m0 4v1m0 20v1m0 1v1m0 1v1m0 3v1m0 5v1m0 5v1m0 11v1m0 1v1m0 7v1m0 14v1m0 19v1m0 11v1m0 1v1m0 2v2m0 3v1m0 11v1M7.5 26v1m0 4v1m0 12v1m0 6v1m0 4v1m0 31v2m0 12v2m0 4v2m0 19v1m0 4v1m0 6v1m0 2v1m0 23v1M8.5 17v1m0 16v2m0 3v1m0 22v1m0 2v1m0 1v3m0 3v1m0 11v1m0 27v2m0 4v2m0 12v2m0 2v1m0 4v1m0 17v1m0 5v1m0 2v1M9.5 0v1m0 6v1m0 17v1m0 2v1m0 5v1m0 15v1m0 4v1m0 22v1m0 12v1m0 9v1m0 16v1m0 4v1m0 13v2m0 3v2m0 2v1m0 8v1m0 9v1m0 1v1m0 1v1M10.5 9v1m0 3v1m0 18v1m0 7v1m0 5v2m0 24v1m0 1v1m0 4v2m0 2v1m0 3v1m0 8v1m0 1v1m0 3v2m0 7v1m0 13v1m0 2v1M11.5 6v1m0 11v1m0 6v1m0 8v2m0 2v1m0 6v1m0 5v1m0 2v1m0 5v1m0 2v1m0 7v2m0 10v1m0 26v1m0 16v2m0 2v1m0 10v1m0 2v1m0 1v1m0 20v1M12.5 11v1m0 6v1m0 15v1m0 5v1m0 17v1m0 37v1m0 3v1m0 1v1m0 23v1m0 2v1m0 6v1m0 6v1m0 5v1m0 5v1M13.5 12v1m0 9v1m0 12v1m0 8v1m0 1v1m0 18v1m0 10v1m0 3v1m0 26v1m0 3v1m0 4v1m0 3v1m0 6v1M14.5 11v1m0 7v1m0 11v1m0 3v1m0 14v1m0 4v1m0 1v1m0 3v1m0 6v1m0 12v2m0 1v1m0 9v2m0 1v1m0 11v2m0 1v1m0 21v1m0 11v2m0 16v1M15.5 2v1m0 5v1m0 6v1m0 3v1m0 9v1m0 2v1m0 33v1m0 6v1m0 1v2m0 3v1m0 44v1m0 2v1m0 4v2m0 8v2m0 1v1m0 4v1m0 10v1M16.5 1v1m0 1v1m0 3v1m0 2v1m0 1v2m0 14v1m0 2v1m0 17v3m0 5v1m0 2v1m0 10v1m0 6v1m0 22v1m0 17v1m0 11v1m0 11v1m0 22v1M17.5 26v2m0 2v2m0 3v1m0 8v1m0 12v1m0 1v4m0 7v1m0 4v1m0 3v2m0 7v1m0 22v1m0 1v1m0 2v1m0 7v1m0 6v2m0 3v1m0 6v1m0 17v1M18.5 18v1m0 7v1m0 10v1m0 29v1m0 3v1m0 10v1m0 7v1m0 52v1m0 7v1M19.5 6v2m0 3v1m0 2v1m0 1v1m0 17v1m0 7v1m0 9v1m0 18v1m0 12v1m0 17v1m0 11v1m0 3v1m0 22v1m0 13v1m0 14v1m0 2v1M20.5 6v1m0 26v1m0 14v1m0 2v1m0 18v1m0 1v1m0 26v1m0 26v1m0 2v1m0 1v1m0 3v1m0 2v1m0 4v1m0 4v1m0 8v1m0 3v1m0 4v1M21.5 13v1m0 6v1m0 5v2m0 8v2m0 9v1m0 9v1m0 10v1m0 1v1m0 4v1m0 29v1m0 12v2m0 3v1M22.5 7v1m0 13v1m0 7v1m0 3v1m0 11v1m0 3v2m0 1v3m0 6v1m0 1v1m0 1v1m0 1v1m0 22v2m0 37v1m0 11v1m0 7v1m0 22v1M23.5 1v1m0 7v1m0 1v1m0 3v1m0 10v1m0 9v1m0 37v2m0 18v1m0 4v1m0 1v2m0 6v1m0 21v1m0 4v1m0 26v3M24.5 17v1m0 13v1m0 17v1m0 5v1m0 3v1m0 24v1m0 1v1m0 1v5m0 5v1m0 4v1m0 7v1m0 12v1m0 8v1m0 6v1m0 6v1m0 15v1M25.5 6v1m0 8v1m0 1v1m0 9v1m0 6v1m0 7v1m0 12v1m0 22v1m0 2v1m0 18v1m0 3v1m0 1v1m0 6v2m0 5v2m0 4v1m0 5v1m0 26v1m0 9v1m0 3v1M26.5 3v1m0 12v2m0 6v1m0 10v1m0 1v1m0 3v1m0 6v1m0 17v1m0 7v1m0 5v1m0 9v1m0 24v1m0 4v1m0 7v1m0 16v1m0 11v1m0 12v1M27.5 7v1m0 6v1m0 1v1m0 4v1m0 1v1m0 4v1m0 6v1m0 9v1m0 2v1m0 12v1m0 29v1m0 8v1m0 2v1m0 24v1m0 1v1m0 6v1m0 1v1m0 3v2m0 26v2M28.5 5v1m0 9v1m0 3v1m0 15v1m0 1v3m0 12v1m0 3v1m0 28v1m0 35v1m0 18v1m0 11v1M29.5 15v1m0 1v1m0 7v1m0 81v1m0 11v1m0 22v1m0 9v1M30.5 24v1m0 43v1m0 5v1m0 4v2m0 26v1m0 3v1m0 3v1m0 2v1m0 5v1m0 21v1m0 3v1m0 11v1M31.5 18v1m0 2v2m0 6v1m0 12v1m0 3v1m0 2v1m0 17v1m0 14v1m0 1v1m0 5v1m0 4v1m0 15v1m0 11v1m0 27v2M32.5 5v2m0 13v1m0 24v2m0 17v1m0 1v1m0 8v3m0 3v1m0 8v1m0 3v1m0 1v1m0 20v1m0 4v1m0 10v1m0 11v1m0 2v1m0 6v1M33.5 4v2m0 8v1m0 15v2m0 3v1m0 17v1m0 5v1m0 31v2m0 5v1m0 2v1m0 1v1m0 5v1m0 1v1m0 13v2m0 22v1m0 5v3m0 1v1m0 1v1m0 1v1m0 1v1m0 1v1M34.5 0v1m0 3v2m0 18v1m0 4v1m0 2v2m0 6v2m0 10v1m0 6v1m0 18v2m0 6v1m0 4v1m0 9v1m0 36v1m0 5v1m0 3v2M35.5 4v1m0 36v1m0 4v1m0 3v1m0 6v1m0 3v1m0 8v1m0 13v1m0 6v1m0 8v1m0 7v1m0 15v1m0 31v1m0 3v1m0 2v1m0 4v1M36.5 11v1m0 10v1m0 4v2m0 4v1m0 3v1m0 2v1m0 23v1m0 15v1m0 28v1m0 8v1m0 3v1m0 32v1m0 15v1M37.5 20v1m0 29v1m0 6v1m0 5v1m0 9v1m0 3v1m0 35v1m0 4v1m0 6v1m0 1v2m0 15v1m0 2v1m0 13v1m0 10v1M38.5 2v1m0 7v1m0 6v1m0 7v1m0 4v1m0 2v1m0 8v1m0 2v1m0 6v1m0 1v2m0 8v1m0 3v1m0 21v1m0 5v1m0 16v1m0 2v1m0 18v1m0 7v1M39.5 0v2m0 1v1m0 33v1m0 21v1m0 1v1m0 13v1m0 2v1m0 7v1m0 1v1m0 4v3m0 13v1m0 1v1m0 6v1m0 3v1m0 2v1m0 25v1m0 1v1m0 13v1m0 1v1"/>
<path stroke="#50f4cd" d="M0.5 77v1m0 41v1m0 11v1M1.5 3v1m0 13v1m0 120v1m0 3v1m0 13v1M2.5 9v1m0 4v1m0 1v1m0 34v1m0 4v1m0 4v1m0 29v1m0 4v1m0 7v1m0 16v1m0 8v1m0 21v1m0 10v1m0 8v1M3.5 27v1m0 7v1m0 19v1m0 97v1m0 19v1M4.5 32v1m0 16v1m0 100v1m0 8v1M5.5 4v1m0 12v1m0 94v1M6.5 24v1m0 30v2m0 19v1m0 18v1m0 27v1m0 3v1m0 28v1M7.5 14v1m0 69v1m0 35v1m0 6v1m0 11v1m0 21v1m0 5v1M8.5 29v1m0 6v3m0 19v1m0 4v1m0 17v1m0 15v1m0 27v1m0 27v1m0 5v1M9.5 53v1m0 12v1m0 21v1m0 3v1m0 37v1m0 16v1m0 25v1M10.5 0v1m0 15v1m0 5v1m0 31v1m0 92v1m0 3v1M11.5 3v1m0 35v1m0 12v1m0 20v1m0 5v1m0 36v1m0 4v1m0 1v1m0 5v1m0 16v1M12.5 31v2m0 16v1m0 44v1m0 33v1M13.5 37v1m0 39v1m0 9v1m0 13v1m0 66v1M14.5 29v1m0 14v1m0 18v1m0 5v1m0 17v1m0 40v1m0 20v1m0 1v1m0 5v1m0 8v2M15.5 16v1m0 9v1m0 4v1m0 12v1m0 78v1m0 7v1m0 29v1M16.5 9v1m0 14v1m0 10v1m0 23v1m0 4v1m0 7v1m0 55v1m0 20v1m0 9v1M17.5 68v1m0 17v1m0 14v1m0 8v1m0 4v1m0 21v1M18.5 9v1m0 48v2m0 3v1M19.5 17v1m0 3v1m0 10v1m0 23v1m0 46v1M20.5 14v1m0 7v1m0 8v1m0 8v1m0 2v1m0 16v1m0 13v1m0 88v1m0 1v1M21.5 21v1m0 47v1m0 26v2m0 2v1m0 32v1M22.5 13v1m0 25v1m0 6v1m0 25v1m0 33v2m0 6v1m0 5v1m0 27v1M23.5 27v1m0 2v1m0 14v1m0 8v2m0 1v1m0 11v1m0 59v1m0 9v1m0 7v1m0 19v1M24.5 15v1m0 42v1m0 23v1m0 27v1m0 7v1m0 26v1m0 9v1m0 6v1M25.5 33v1m0 2v1m0 72v2m0 25v1m0 33v1M26.5 21v1m0 12v1m0 40v1m0 24v1m0 4v1m0 12v1m0 29v1m0 12v1M27.5 26v1m0 37v1m0 17v1m0 5v1M28.5 36v1m0 5v1m0 54v1M29.5 71v1m0 48v1m0 9v1m0 23v1m0 13v1M30.5 6v1m0 54v1m0 33v1m0 16v1m0 29v1m0 15v1m0 8v1M31.5 9v1m0 20v1m0 5v1m0 1v1m0 57v1m0 27v1m0 9v1m0 1v1m0 30v1m0 4v1M32.5 11v1m0 1v1m0 7v1m0 11v1m0 66v1m0 8v1m0 29v1m0 13v1m0 13v1M33.5 2v1m0 9v1m0 16v1m0 14v1m0 2v2m0 1v1m0 37v1m0 17v1m0 17v1m0 28v1M34.5 28v1m0 25v1m0 11v1m0 85v1m0 6v1M35.5 19v1m0 45v1m0 3v1m0 8v2m0 59v1m0 9v1M36.5 4v1m0 18v1m0 17v1m0 15v1m0 11v1m0 36v1m0 56v1M37.5 33v1m0 17v1m0 31v1m0 11v1m0 9v1m0 15v1m0 12v2m0 9v1m0 14v1M38.5 72v1m0 19v1m0 16v1m0 16v2M39.5 40v1m0 25v1m0 32v1m0 27v1m0 3v1m0 25v1"/></g></g></defs>
<clipPath id="hc1"><rect x="49.0" y="20.0" width="588.5" height="174.0"/></clipPath>
<g clip-path="url(#hc1)"><g transform="translate(49.0,194.0) scale(2.94250,-1.00000)">
<use href="#nt" x="0"/>
<use href="#nt" x="40"/>
<use href="#nt" x="80"/>
<use href="#nt" x="120"/>
<use href="#nt" x="160"/>
<g fill="none" stroke-width="1.02"><path stroke="#5542fd" d="M4.5 73v1M5.5 70v1M11.5 148v1M30.5 38v1m0 133v1M54.5 111v1M73.5 80v1m0 28v1M92.5 153v1M100.5 32v1M103.5 145v1M106.5 74v1M143.5 69v1M144.5 146v1M162.5 68v1M188.5 172v1M196.5 3v1"/>
<path stroke="#3d65fa" d="M3.5 119v1M4.5 3v1m0 71v1m0 18v1m0 44v1M5.5 3v1m0 168v1M6.5 3v1m0 54v1m0 109v1M7.5 35v1M8.5 34v1M9.5 39v1m0 82v1M11.5 149v1m0 22v1M12.5 47v1m0 76v1m0 25v1M13.5 151v2M14.5 18v1m0 27v1m0 40v1m0 35v1M15.5 147v1M16.5 3v2m0 106v1m0 36v1M17.5 76v1m0 33v1m0 56v2M18.5 3v1m0 31v1m0 30v1m0 102v1M19.5 97v2M20.5 4v1m0 52v1M21.5 87v1m0 77v2M23.5 109v1M25.5 96v2m0 48v1M26.5 103v1M27.5 126v2M28.5 61v1M29.5 86v1m0 24v1M30.5 63v1m0 47v1m0 61v1M32.5 78v1m0 49v1m0 24v1M33.5 157v1M34.5 86v1M35.5 31v1m0 47v1M36.5 3v1m0 90v1M37.5 53v1m0 43v1m0 58v1M38.5 161v1M39.5 66v1m0 105v2M40.5 93v1m0 74v1M42.5 3v2m0 45v1m0 58v1M43.5 31v1M45.5 4v1m0 103v2M46.5 142v1m0 23v2M47.5 55v1m0 89v1M48.5 93v1m0 49v1M49.5 91v2M50.5 123v1M51.5 34v1m0 32v1M52.5 152v1M53.5 4v1m0 40v1M54.5 137v1m0 27v1M55.5 4v1m0 64v1M56.5 3v2m0 130v1M57.5 101v1m0 29v2M58.5 114v1M59.5 46v1m0 43v1M60.5 33v1m0 56v1M61.5 5v1m0 62v1M62.5 122v1M64.5 74v1m0 35v2M65.5 40v1m0 73v1M67.5 30v1m0 31v1m0 46v1m0 27v2m0 29v1M68.5 63v2m0 73v1M69.5 4v1m0 62v1m0 97v1M70.5 123v1M72.5 85v1m0 21v1m0 23v1M73.5 4v1m0 103v1M74.5 83v2M75.5 59v1M77.5 58v1m0 39v1m0 46v1M78.5 3v1m0 144v1M79.5 36v2m0 47v1m0 21v1m0 30v1M80.5 32v1m0 61v1M81.5 28v1m0 30v1m0 49v2M84.5 3v1m0 24v1m0 55v1m0 26v1M85.5 145v1M86.5 5v1m0 29v1m0 101v2M87.5 71v1m0 22v1M88.5 5v1m0 60v1m0 22v2m0 40v1M89.5 135v1M90.5 45v2m0 63v2m0 36v1M91.5 4v2m0 105v1m0 32v1M93.5 69v1M94.5 38v1m0 27v1M95.5 3v1m0 37v1m0 36v1m0 26v1M96.5 54v2m0 25v2m0 43v1M97.5 3v1m0 68v2M98.5 138v1M100.5 33v1m0 37v1m0 41v1M101.5 89v1m0 31v2M102.5 111v1M103.5 88v1m0 21v1m0 36v1M104.5 42v1m0 130v1M105.5 40v2M106.5 75v1m0 19v2M107.5 67v1m0 25v1m0 48v1M109.5 140v2M110.5 15v1M111.5 62v1m0 27v1M112.5 87v1M114.5 3v1m0 77v2m0 27v1M115.5 29v1m0 41v2M116.5 37v1m0 82v1M117.5 84v1m0 67v1M119.5 115v1m0 33v1M120.5 117v1M121.5 39v1m0 27v1m0 52v1M122.5 66v1m0 68v1M123.5 54v1M124.5 117v1M127.5 172v1M129.5 38v2m0 105v1M130.5 109v1m0 59v1M131.5 3v1m0 106v1M132.5 67v1m0 42v1m0 34v1m0 24v1M133.5 13v1m0 30v1M135.5 79v1M136.5 36v1m0 47v1m0 68v1M138.5 38v1m0 88v2M139.5 4v1m0 79v2M142.5 32v1M144.5 34v2M145.5 9v2M147.5 164v2M148.5 66v1m0 69v3m0 34v1M149.5 3v1M150.5 3v1m0 26v1M151.5 29v1M152.5 32v1m0 96v1M153.5 110v1m0 23v1m0 33v1M154.5 167v1M155.5 64v1m0 24v1m0 53v2m0 23v1M156.5 150v2M157.5 63v1m0 100v2M158.5 20v1m0 22v1m0 120v1M159.5 50v1M160.5 38v1m0 49v1m0 77v1M161.5 27v2M162.5 26v1m0 120v1m0 25v1M164.5 4v1m0 163v1M165.5 13v1m0 37v1m0 50v1M166.5 85v1m0 22v1M167.5 134v1M168.5 4v1m0 131v2M169.5 4v1m0 79v1m0 51v1M170.5 97v1M171.5 48v1M172.5 38v1m0 108v1M173.5 96v1M174.5 45v1m0 53v1M176.5 4v1m0 33v1M177.5 158v1M178.5 3v1m0 33v1m0 45v1M179.5 154v1M180.5 4v1m0 46v2m0 34v1M181.5 61v1m0 44v1M182.5 5v1m0 96v1m0 70v1M185.5 34v1m0 38v1m0 99v1M186.5 100v1M188.5 8v1m0 24v1M189.5 87v2M190.5 60v1M191.5 21v1M192.5 83v1m0 51v2M193.5 34v1m0 50v1M194.5 173v1M195.5 70v1m0 60v1m0 36v1M196.5 72v2M197.5 144v1m0 28v1M198.5 66v1m0 41v1m0 63v1M199.5 144v1m0 28v1"/>
<path stroke="#2686f5" d="M2.5 85v4m0 51v5M3.5 66v5m0 20v4m0 25v3m0 50v1M4.5 2v1m0 1v3m0 67v1m0 1v2m0 17v4m0 41v3M5.5 4v3m0 64v4m0 74v5m0 19v1M6.5 4v3m0 50v1m0 1v3m0 45v5m0 57v3M7.5 36v4M8.5 35v4M9.5 38v1m0 1v3m0 78v1m0 1v2M10.5 3v4m0 32v4m0 50v3m0 1v1M11.5 150v3m0 20v1M12.5 48v2m0 1v1m0 73v3m0 23v4M13.5 49v4m0 100v3M14.5 17v1m0 1v4m0 22v1m0 1v2m0 39v4m0 32v3M15.5 148v4M16.5 5v3m0 104v4m0 33v3M17.5 77v3m0 31v1m0 1v1m0 55v3M18.5 4v3m0 29v4m0 27v4m0 99v2M19.5 99v2M20.5 5v4m0 49v3m0 80v4M21.5 88v5m0 50v4m0 20v3M22.5 169v4M23.5 6v5m0 99v1m0 1v2m0 32v4M24.5 172v2M25.5 98v3m0 46v3M26.5 104v3M27.5 128v3M28.5 62v1m0 1v1m0 62v5M29.5 87v4m0 21v3M30.5 39v4m0 21v4m0 44v2M31.5 152v5M32.5 52v5m0 22v4m0 44v1m0 1v2m0 23v3M33.5 2v5m0 84v4m0 30v4m0 29v4M34.5 87v3M35.5 30v1m0 1v2m0 46v4M36.5 4v2m0 1v1m0 57v3m0 27v4M37.5 54v4m0 40v3m0 56v3M38.5 66v3m0 18v4m0 71v3M39.5 67v4m0 37v4M40.5 94v4m0 71v2m0 1v1M41.5 63v4m0 19v5m0 80v3M42.5 5v1m0 1v1m0 43v4m0 55v3m0 34v4m0 21v2M43.5 32v2m0 82v4M44.5 43v4M45.5 5v3m0 102v1m0 1v1M46.5 45v3m0 29v4m0 62v3m0 22v3M47.5 56v4m0 86v3M48.5 92v1m0 1v4m0 46v3m0 24v3M49.5 93v3m0 76v2M50.5 90v4m0 28v1m0 1v4M51.5 35v3m0 30v3m0 77v4M52.5 86v4m0 63v3M53.5 3v1m0 1v2m0 39v4m0 117v2m0 1v1M54.5 31v4m0 21v4m0 52v3m0 23v4m0 24v4M55.5 5v4m0 61v4m0 25v5m0 65v5M56.5 5v2m0 55v5m0 39v5m0 25v4M57.5 64v4m0 34v4m0 27v3M58.5 37v4m0 72v1m0 1v3M59.5 47v1m0 1v1m0 41v4m0 70v5M60.5 3v5m0 26v3m0 52v1m0 1v2m0 46v4m0 24v5M61.5 4v1m0 1v3m0 60v3M62.5 123v2M63.5 163v5M64.5 75v3m0 34v3M65.5 41v4m0 30v4m0 36v3M66.5 3v4M67.5 31v4m0 28v3m0 42v1m0 2v2m0 23v1m0 2v2m0 28v3M68.5 65v3m0 69v1m0 1v3M69.5 5v4m0 59v4m0 94v4M70.5 88v5m0 31v4M71.5 106v3M72.5 83v2m0 1v2m0 20v3m0 21v3M73.5 5v2m0 74v4m0 25v3m0 33v4M74.5 85v2m0 23v5m0 29v5M75.5 60v4m0 96v5M76.5 6v4m0 51v3M77.5 2v5m0 52v1m0 1v1m0 37v4m0 43v2m0 1v1M78.5 4v2m0 1v1m0 57v5m0 16v5m0 58v4M79.5 35v1m0 2v3m0 45v2m0 1v1m0 18v4m0 27v3m0 31v1M80.5 33v3m0 59v3M81.5 29v3m0 28v4m0 47v3m0 46v4M83.5 26v3m0 1v1m0 82v5M84.5 4v3m0 22v4m0 52v3m0 24v4M85.5 30v4m0 62v3m0 47v2m0 1v1M86.5 6v3m0 27v4m0 23v4m0 42v4m0 26v3M87.5 72v4m0 17v1m0 1v3M88.5 4v1m0 1v3m0 58v3m0 21v1m0 40v3M89.5 89v2m0 43v1m0 1v3M90.5 47v1m0 1v1m0 62v3m0 34v4M91.5 6v3m0 101v1m0 1v3m0 30v3M92.5 84v5m0 65v4M93.5 40v4m0 26v3M94.5 39v3m0 25v4m0 76v4M95.5 4v2m0 36v4m0 33v4m0 23v5m0 35v5M96.5 4v3m0 49v2m0 25v2m0 42v3M97.5 4v3m0 67v3m0 96v1M98.5 64v5m0 70v4M99.5 83v5M100.5 34v4m0 34v2m0 38v1m0 1v2m0 33v4M101.5 41v4m0 43v1m0 1v4m0 29v3M102.5 5v4m0 103v3M103.5 47v4m0 36v1m0 1v3m0 17v1m0 2v2m0 32v1m0 1v2M104.5 41v1m0 1v4M105.5 42v3m0 18v4m0 44v4M106.5 76v3m0 18v3M107.5 37v4m0 25v1m0 1v2m0 24v2m0 1v1m0 43v1m0 1v3M108.5 63v4m0 72v5M109.5 40v4m0 62v5m0 31v3M110.5 16v4m0 139v4M111.5 63v3m0 25v4M112.5 88v3M113.5 89v5m0 41v4M114.5 4v4m0 39v5m0 31v2m0 26v3M115.5 28v1m0 1v3m0 40v2m0 96v3M116.5 38v4m0 79v3M117.5 8v5m0 72v3m0 22v3m0 1v1m0 38v2M118.5 157v4M119.5 65v4m0 45v1m0 1v2m0 32v3M120.5 38v5m0 73v1m0 1v3M121.5 3v5m0 32v4m0 24v3m0 50v4M122.5 41v4m0 22v4m0 65v3M123.5 55v4m0 62v4M124.5 3v5m0 108v1m0 1v3M126.5 19v4M127.5 110v4m0 32v4m0 21v1m0 1v1M129.5 40v3m0 103v3M130.5 37v4m0 69v4m0 29v4m0 23v3M131.5 4v4m0 31v5m0 67v1m0 1v1m0 53v4M132.5 68v4m0 39v4m0 31v3m0 22v3M133.5 14v4m0 27v2m0 22v5M134.5 4v3m0 129v2m0 1v1m0 29v5M135.5 40v4m0 36v4M136.5 3v5m0 29v3m0 45v4m0 65v1m0 1v1M137.5 86v5m0 74v4M138.5 4v5m0 30v4m0 86v2m0 20v3M139.5 5v3m0 31v5m0 42v3m0 50v5M142.5 31v1m0 1v2M143.5 70v4M144.5 36v3m0 33v4m0 71v3M145.5 11v3m0 23v5M146.5 79v4M147.5 34v5m0 127v2M148.5 67v3m0 69v3m0 30v1M149.5 4v3m0 156v5M150.5 4v4m0 23v2m0 61v4M151.5 30v4m0 44v4m0 46v3m0 39v4M152.5 33v3m0 94v4m0 32v4M153.5 3v5m0 73v4m0 26v2m0 1v1m0 20v3m0 31v2M154.5 4v4m0 66v5m0 30v3m0 32v5m0 19v3M155.5 65v3m0 22v2m0 1v1m0 51v3m0 21v3M156.5 2v5m0 56v5m0 84v3M157.5 62v1m0 1v2m0 26v5m0 69v2M158.5 21v4m0 19v3m0 18v4m0 54v5m0 37v4M159.5 51v4m0 31v4m0 51v4M160.5 39v4m0 46v2m0 38v4m0 34v2M161.5 29v3m0 56v4m0 52v5M162.5 27v4m0 38v3m0 74v1m0 1v4M164.5 3v1m0 1v2m0 137v4m0 21v4M165.5 14v4m0 34v3m0 48v4m0 59v6M166.5 60v5m0 21v3m0 18v1m0 1v3m0 24v4M167.5 108v4m0 23v3M168.5 5v4m0 126v1m0 2v1m0 1v1M169.5 5v3m0 77v3m0 47v1m0 1v2M170.5 98v2m0 22v2m0 1v1M171.5 49v1m0 1v1m0 94v4M172.5 36v2m0 1v3m0 55v5m0 44v1m0 1v2M173.5 34v4m0 59v3m0 47v5M174.5 44v1m0 1v4m0 50v3m0 32v5M175.5 35v4M176.5 5v2m0 30v1m0 1v2m0 1v1m0 37v4m0 80v4M177.5 35v5m0 119v3M178.5 4v4m0 30v4m0 42v2m0 73v4M179.5 85v4m0 34v3m0 1v1m0 27v4M180.5 5v2m0 1v1m0 44v1m0 34v3m0 32v5m0 42v4M181.5 4v5m0 51v1m0 1v1m0 44v4M182.5 6v3m0 94v3M184.5 4v5M185.5 33v1m0 1v3m0 34v1m0 1v3m0 94v2M186.5 3v4m0 63v4m0 27v2m0 1v1M187.5 36v5M188.5 7v1m0 1v3m0 22v3m0 38v4m0 94v1M189.5 64v5m0 20v3m0 54v5m0 22v1M190.5 5v4m0 52v2m0 1v1m0 27v4m0 51v4M191.5 22v4m0 111v5M192.5 29v5m0 26v4m0 20v4m0 49v2M193.5 35v3m0 48v2m0 1v1M194.5 33v4m0 135v1M195.5 71v2m0 57v1m0 1v3m0 34v4M196.5 4v4m0 63v1m0 2v2M197.5 86v5m0 54v3M198.5 67v3m0 39v3m0 61v1M199.5 145v3"/>
<path stroke="#18cde4" d="M0.5 1v1M1.5 1v1M2.5 78v1m0 88v1M3.5 60v1m0 57v1M4.5 66v1m0 21v1m0 43v1M5.5 7v1m0 55v1m0 78v1m0 22v1M6.5 7v1m0 42v1m0 111v1m0 9v1M7.5 29v1M8.5 28v1M9.5 32v1m0 82v1m0 9v1M10.5 31v1m0 54v1m0 9v1M11.5 165v1M12.5 40v1m0 9v1m0 67v1M13.5 1v1m0 142v1M14.5 1v1m0 37v1m0 9v1m0 31v1m0 35v1M15.5 1v1m0 138v1M16.5 142v1M17.5 1v1m0 68v1m0 9v1m0 23v1m0 4v1m0 2v1m0 48v1M18.5 7v1m0 21v1m0 29v1m0 102v1m0 9v2M19.5 1v1m0 89v1M20.5 51v1m0 9v1m0 72v1M21.5 1v1m0 78v1m0 55v1m0 10v1m0 10v1M22.5 1v1m0 161v1M23.5 102v1m0 8v1m0 27v1m0 10v1M24.5 165v1m0 5v1M25.5 90v1m0 48v1m0 10v1M26.5 1v1M27.5 120v1M28.5 54v1m0 8v1M29.5 79v1m0 24v1m0 5v1M30.5 1v1m0 29v1m0 24v1m0 5v1m0 51v1m0 51v1M31.5 1v1m0 144v1M32.5 46v1m0 25v1m0 74v1m0 9v1M33.5 84v1m0 10v1m0 22v1M34.5 79v1m0 93v1M35.5 1v1m0 21v1m0 5v1m0 42v1M36.5 6v1m0 51v1m0 9v1m0 19v1M37.5 46v1m0 43v1m0 58v1m0 10v1M38.5 59v1m0 5v1m0 3v1m0 11v1m0 9v1m0 63v1m0 9v1M39.5 59v1m0 106v1M40.5 86v1m0 84v1M41.5 56v1m0 10v1m0 11v1m0 84v1M42.5 6v1m0 96v1m0 9v1m0 26v1M43.5 1v1m0 32v1m0 85v1M44.5 1v1m0 33v1m0 134v1M45.5 102v1m0 8v1M46.5 1v1m0 36v1m0 9v2m0 85v1m0 23v1M47.5 48v1m0 89v1M48.5 1v1m0 84v1m0 49v1M49.5 85v1M50.5 83v1m0 32v1M51.5 27v1m0 5v1m0 26v1m0 5v1m0 74v1M52.5 1v1m0 77v1M53.5 38v1m0 121v1m0 8v1M54.5 1v1m0 22v1m0 90v1m0 43v1M55.5 62v1m0 29v1m0 70v1M56.5 7v1m0 48v1m0 42v1m0 29v1M57.5 1v1m0 56v1m0 9v1m0 55v1m0 46v1M58.5 30v1m0 75v1M59.5 1v1m0 37v1m0 8v1m0 109v1M60.5 26v1m0 10v1m0 44v1m0 50v1M61.5 62v1m0 9v1M62.5 114v1m0 10v1M63.5 1v1m0 154v1M64.5 1v1m0 71v1M65.5 1v1m0 66v1m0 10v1m0 27v1m0 10v1M66.5 7v1M67.5 55v1m0 54v1m0 19v1m0 31v1m0 4v1M68.5 57v1m0 73v1M69.5 60v1m0 98v1M70.5 82v1m0 34v1M71.5 1v1m0 97v1m0 9v2M72.5 76v1m0 34v1M73.5 7v1m0 93v1M74.5 76v1m0 10v1m0 50v1M76.5 5v1m0 48v1m0 9v1M77.5 57v1m0 2v1m0 31v1m0 46v1m0 8v1M78.5 6v1m0 51v1m0 21v1m0 60v1M79.5 1v1m0 27v1m0 49v1m0 8v1m0 12v1m0 30v1m0 9v1M80.5 1v1m0 23v1m0 61v1M81.5 20v1m0 81v1m0 50v1M82.5 1v1m0 167v1M83.5 1v1m0 27v1m0 76v1M84.5 22v1m0 10v1m0 44v1M85.5 1v1m0 86v1m0 10v1m0 48v1M86.5 67v1m0 35v1m0 26v1M87.5 64v1M88.5 59v2m0 9v1m0 11v1m0 9v2m0 31v1m0 9v1M89.5 82v1m0 8v2m0 35v1M90.5 38v1m0 5v1m0 3v1m0 55v1m0 37v1M91.5 104v1m0 33v1m0 9v1M92.5 0v1m0 146v1M93.5 1v1m0 66v1M94.5 31v1m0 10v1m0 17v1m0 85v1m0 21v1M95.5 2v1m0 3v1m0 27v1m0 37v1m0 26v1m0 40v1m0 27v1M96.5 7v1m0 66v1m0 10v1m0 33v1M97.5 7v1m0 58v1M98.5 1v1m0 56v1M99.5 76v1M100.5 25v1m0 38v1m0 9v1m0 31v1m0 9v1M101.5 1v1m0 33v1m0 46v1m0 31v1m0 11v1M102.5 4v1m0 99v1M103.5 40v1m0 39v1m0 30v1m0 26v1M104.5 34v1m0 132v1M105.5 1v1m0 65v1m0 47v1M106.5 68v1m0 4v1m0 15v1M107.5 31v1m0 9v1m0 28v1m0 16v1m0 8v1M108.5 1v1m0 65v1m0 65v1M109.5 99v1m0 34v1M110.5 1v1m0 151v1M111.5 61v1M112.5 81v1m0 9v1M114.5 40v1m0 11v1m0 21v1m0 10v1m0 17v1m0 10v1M115.5 1v1m0 68v1m0 4v1M116.5 31v1m0 80v1M117.5 78v1m0 9v1m0 15v1m0 8v1m0 30v1m0 10v1M118.5 150v1M119.5 1v1m0 55v1m0 6v1m0 77v1M120.5 1v1m0 29v1m0 78v1M121.5 32v1m0 28v1m0 9v1m0 42v1M122.5 1v1m0 32v1m0 24v1m0 69v1M123.5 114v1m0 10v1m0 44v1M124.5 168v1M126.5 1v1m0 21v1M127.5 103v1m0 46v1M129.5 31v1M130.5 1v1m0 134v1m0 10v1m0 14v1M131.5 32v1m0 79v1m0 1v1m0 45v1M132.5 1v1m0 59v1m0 41v1m0 34v1m0 24v1M133.5 7v1m0 30v1m0 8v2M134.5 7v1m0 130v1m0 23v1M135.5 1v1m0 31v1M136.5 30v1m0 9v1m0 36v1m0 67v1m0 6v1m0 2v1M137.5 158v1M138.5 32v1m0 87v1m0 10v1m0 22v1M139.5 78v1m0 53v2M142.5 1v1m0 22v1M143.5 62v1M144.5 1v1m0 69v1m0 68v1m0 9v1M145.5 3v1M146.5 1v1m0 70v1M147.5 28v1m0 128v1m0 10v1M148.5 59v1m0 69v1m0 36v1M149.5 7v1m0 149v1M150.5 23v1m0 9v1m0 64v1M151.5 22v1m0 54v1m0 53v1M152.5 36v1m0 85v1m0 36v1m0 5v1M153.5 75v1m0 9v1m0 18v1m0 8v1m0 47v1m0 9v1M154.5 68v1m0 33v1m0 9v1m0 47v1m0 10v1M155.5 58v1m0 33v1M156.5 155v1M157.5 56v1m0 9v1m0 19v1m0 81v1M158.5 1v1m0 11v1m0 22v1m0 21v1m0 57v1m0 41v1M159.5 133v1m0 6v1M160.5 31v1m0 48v1m0 10v1m0 31v1m0 9v1m0 24v1m0 10v1M161.5 1v1m0 79v1m0 55v1M162.5 1v1m0 18v1m0 40v1m0 10v1m0 67v1m0 26v1M163.5 1v1M165.5 1v1m0 42v1m0 10v1m0 40v1M166.5 54v1m0 46v1m0 10v1m0 16v1m0 10v1M167.5 100v1m0 6v1m0 19v1m0 5v1M168.5 129v1m0 9v1M169.5 8v1m0 68v1m0 51v1m0 9v1M170.5 91v1m0 8v2m0 22v1M171.5 1v1m0 40v1m0 7v1M172.5 30v1m0 60v1m0 48v1m0 9v1M173.5 89v1m0 10v1m0 40v1M174.5 92v1m0 10v1m0 24v1m0 41v1M175.5 1v1m0 26v1m0 10v1M176.5 3v1m0 3v1m0 33v1m0 31v1m0 83v1m0 5v1M177.5 151v1m0 10v1M178.5 31v1m0 44v1m0 9v1m0 65v1M179.5 126v1M180.5 7v1m0 36v1m0 9v1m0 25v1m0 10v1m0 72v1M181.5 63v1m0 36v1M182.5 4v1m0 90v1m0 10v1M183.5 1v1m0 167v1M184.5 171v1M185.5 27v1m0 10v1m0 27v1M186.5 63v1m0 5v1m0 33v1M187.5 29v1M188.5 27v1m0 9v1m0 30v1m0 10v1M189.5 1v1m0 78v1m0 58v1M190.5 54v1m0 8v1m0 21v1m0 54v1M191.5 15v1m0 115v1M192.5 23v1m0 52v1m0 52v1m0 9v1M193.5 38v1m0 45v1m0 3v1M194.5 25v1m0 139v1M195.5 1v1m0 61v1m0 9v2M196.5 65v1m0 10v1M197.5 79v1m0 57v1m0 10v1M198.5 1v1m0 57v1m0 10v1m0 95v1M199.5 137v1m0 10v1m0 17v1"/>
<path stroke="#3dead5" d="M2.5 1v1m0 132v2m0 37v1M3.5 1v1m0 82v1m0 27v1m0 53v1m0 5v1M4.5 133v1M5.5 69v1m0 73v1M6.5 100v1M7.5 1v1M9.5 1v1M10.5 2v1m0 84v1M11.5 1v1m0 140v1M12.5 0v2m0 121v1m0 19v1M13.5 42v1m0 5v1m0 96v1M14.5 12v1m0 27v1m0 81v1M16.5 105v1M17.5 71v1M18.5 60v1M19.5 96v1M20.5 3v1m0 136v1M21.5 137v1m0 21v1M22.5 168v1M23.5 0v1M25.5 1v1m0 138v1M26.5 96v1m0 5v1M27.5 1v1M28.5 1v1m0 58v1m0 60v1M29.5 1v1M30.5 0v1m0 104v1m0 65v1M32.5 0v2m0 45v1m0 25v1m0 46v1M33.5 150v1M34.5 1v1M35.5 73v1M36.5 64v1M37.5 150v1M39.5 1v1m0 100v1M40.5 1v1m0 85v1m0 74v1M41.5 0v2m0 55v1m0 22v1m0 84v1M42.5 44v1m0 59v1m0 61v1M43.5 0v1m0 23v1m0 85v1M44.5 36v1M45.5 3v1m0 99v1M46.5 39v1m0 31v1m0 69v1m0 18v1M47.5 1v1m0 137v1M48.5 137v1m0 27v1M49.5 1v1m0 163v1m0 5v1M50.5 0v2m0 87v1M51.5 147v1M52.5 85v1m0 60v1M53.5 2v1m0 36v1m0 126v1M54.5 0v1m0 29v1m0 19v1m0 4v1m0 48v1m0 26v1M57.5 95v1m0 76v1M58.5 1v1m0 29v1m0 4v1m0 70v1M59.5 45v1m0 37v1m0 5v1m0 69v1M60.5 27v1m0 60v1m0 49v1m0 22v1M62.5 1v1m0 113v1M63.5 157v1M64.5 0v1m0 66v1m0 36v1M65.5 0v1m0 33v1M67.5 1v1m0 22v1m0 77v1m0 28v1M68.5 1v1M69.5 61v1M70.5 1v1M71.5 0v1m0 169v1M72.5 1v1m0 75v1m0 23v1m0 22v1M73.5 74v1m0 32v1m0 32v1m0 4v1M74.5 1v1m0 75v1m0 26v1M75.5 1v1m0 51v1m0 101v1M77.5 52v1m0 40v1M78.5 2v1m0 56v1M79.5 167v1M80.5 26v1m0 66v1M81.5 1v1m0 19v1m0 31v1m0 100v1M83.5 19v1m0 5v1m0 81v1M84.5 2v1m0 80v1m0 21v1M85.5 0v1m0 22v1m0 65v1m0 49v1M86.5 29v1m0 27v1M87.5 1v1m0 85v1M88.5 83v1M89.5 1v1m0 86v1M90.5 1v1M92.5 1v1m0 76v1M93.5 33v1m0 5v1m0 22v1M94.5 1v1m0 138v1M95.5 100v1M96.5 3v1m0 44v1m0 76v1M97.5 167v1M98.5 132v1M99.5 1v1M100.5 1v1m0 63v1m0 76v1M101.5 40v1m0 74v1M102.5 110v1M103.5 1v1m0 39v1m0 4v1m0 56v1M104.5 1v1m0 33v1M105.5 0v1m0 33v1m0 21v1m0 48v1M106.5 1v1M107.5 0v2m0 58v1m0 74v1M108.5 57v1M109.5 1v1m0 32v1M110.5 9v1M111.5 1v1m0 53v1m0 28v1M112.5 1v1M113.5 1v1m0 80v1m0 46v1M114.5 41v1M115.5 22v1m0 41v1m0 100v1m0 4v1M116.5 1v1m0 111v1M117.5 0v3m0 142v1M118.5 1v1M119.5 58v1m0 48v1m0 5v1M122.5 0v1m0 59v1M123.5 47v1M124.5 110v1M125.5 0v1m0 167v1M126.5 13v1m0 4v1M127.5 1v1m0 102v1m0 35v1m0 24v1M128.5 1v1M129.5 1v1m0 137v1m0 4v1M130.5 30v1m0 72v1m0 64v1M131.5 104v1m0 56v1M132.5 0v1m0 143v1m0 19v1M133.5 1v1m0 61v1M134.5 3v1m0 126v1m0 32v1M135.5 34v1m0 37v1M136.5 31v1m0 114v1M137.5 1v1m0 77v1m0 84v1M138.5 144v1m0 5v1M139.5 33v1M140.5 1v1M141.5 1v1M142.5 25v1m0 4v1M143.5 1v1M144.5 28v1m0 37v1M145.5 1v1m0 2v1m0 26v1m0 4v1M146.5 73v1M147.5 1v1m0 31v1M148.5 1v1m0 63v1m0 64v1M150.5 89v1m0 81v1M151.5 1v1m0 70v1m0 48v1m0 5v1m0 36v1M152.5 1v1m0 24v1m0 101v1M153.5 76v1m0 50v1M154.5 3v1m0 104v1m0 28v1M155.5 1v1m0 61v1m0 19v1m0 53v1m0 23v1M156.5 57v1m0 86v1M157.5 1v1m0 55v1m0 100v1M158.5 0v1m0 41v1m0 21v1M159.5 1v1m0 42v1m0 34v1m0 5v1m0 48v1M160.5 1v1m0 35v1m0 43v1m0 77v1M161.5 21v1m0 147v1M163.5 0v1M164.5 2v1m0 134v1m0 23v1M165.5 7v1m0 37v1m0 114v1M166.5 1v1m0 53v1m0 23v1m0 50v1M167.5 1v1m0 99v1m0 26v1M169.5 83v1M170.5 1v1m0 114v1M171.5 47v1m0 92v1M172.5 1v1m0 29v1m0 60v1M173.5 1v1m0 25v1m0 5v1m0 61v1M174.5 1v1m0 37v1M175.5 29v1M176.5 32v1m0 41v1m0 83v1M177.5 1v1m0 28v1M178.5 77v1m0 75v1m0 4v1M179.5 1v1m0 77v1m0 4v1m0 32v1m0 30v1M180.5 50v1m0 30v1m0 35v1M181.5 3v1m0 49v1M182.5 166v1m0 5v1M183.5 170v1M185.5 28v1m0 137v1M186.5 2v1m0 61v1m0 29v1M187.5 1v1m0 28v1M188.5 165v1M189.5 57v2m0 107v1m0 5v1M191.5 0v2M192.5 24v1m0 28v1M193.5 1v1m0 26v1m0 50v1M194.5 1v1m0 24v1m0 5v1M195.5 124v1m0 37v1M197.5 1v1m0 78v1m0 86v1m0 4v1M198.5 65v1m0 35v1m0 5v1m0 59v1M199.5 1v1m0 136v1"/>
<path stroke="#63fbc3" d="M1.5 0v1M2.5 0v1m0 167v1M3.5 0v1M4.5 67v1m0 4v1M6.5 2v1m0 48v1M7.5 0v1m0 29v1M8.5 0v2M9.5 0v1m0 32v1M10.5 32v1M11.5 166v1M12.5 46v1m0 102v1M13.5 0v1M14.5 0v1m0 81v1M15.5 0v1m0 140v1M17.5 0v1M18.5 2v1m0 27v1m0 137v1M20.5 56v1M21.5 0v1m0 80v1m0 60v1M22.5 0v1M23.5 103v1m0 36v1M24.5 1v1M25.5 0v1M27.5 0v1m0 120v1M28.5 0v1M29.5 80v1M30.5 110v1M31.5 147v1M33.5 90v1m0 28v1m0 36v1M34.5 0v1m0 79v1M35.5 0v1M36.5 89v1M37.5 0v2m0 45v1m0 43v1m0 63v1M38.5 0v2m0 80v1M39.5 0v1M40.5 0v1m0 91v1m0 74v1M42.5 141v1M44.5 0v1m0 170v1M46.5 0v1m0 43v1m0 91v1M47.5 0v1m0 53v1M48.5 0v1m0 86v1M49.5 0v1M50.5 84v1m0 32v1M51.5 0v2m0 26v1m0 32v1m0 80v1M52.5 0v1m0 79v1M53.5 161v1M54.5 110v1m0 53v1M55.5 93v1m0 74v1M56.5 2v1m0 54v1m0 42v1m0 4v1M57.5 0v1m0 95v1m0 28v1M58.5 0v1M59.5 0v1M61.5 3v1M63.5 0v1M64.5 68v1M65.5 69v1m0 38v1M66.5 2v1M67.5 0v1m0 28v1M68.5 132v1M70.5 83v1M71.5 105v1m0 65v1M72.5 0v1m0 81v1m0 47v1M73.5 102v1M77.5 140v1M79.5 30v1m0 71v1m0 3v1m0 26v1M80.5 31v1m0 56v1M81.5 0v1M82.5 0v1m0 169v1M83.5 0v1M84.5 23v1m0 82v1M85.5 144v1M86.5 34v1m0 73v1M87.5 0v1m0 64v1M88.5 88v1m0 37v1M89.5 0v1M90.5 0v1m0 38v1M94.5 0v1m0 36v1M95.5 73v1m0 71v1m0 23v1M96.5 53v1m0 21v1M97.5 2v1m0 64v1M98.5 0v1M99.5 77v1M100.5 0v1m0 25v1m0 43v1m0 36v1M101.5 0v1m0 82v1M102.5 105v1M103.5 0v1m0 80v1m0 26v1m0 30v1M104.5 0v1M105.5 62v1m0 43v1M106.5 90v1M107.5 32v1m0 55v1M109.5 0v1m0 38v1m0 60v1m0 4v1M110.5 0v1M112.5 0v1m0 81v1M113.5 134v1M114.5 75v1m0 28v1M115.5 0v1M116.5 0v1M119.5 0v1M120.5 0v1m0 31v1m0 78v1M121.5 2v1m0 30v1m0 4v1m0 80v1M122.5 35v1m0 4v1M123.5 0v2m0 46v1m0 66v1M125.5 1v1M127.5 0v1M128.5 0v1M129.5 32v1M130.5 0v1m0 107v1M131.5 2v1m0 30v1m0 75v1M132.5 109v1M133.5 0v1m0 11v1m0 26v1M135.5 0v1m0 72v1m0 4v1M136.5 78v1M137.5 0v1m0 84v1m0 73v1M138.5 121v1M139.5 38v1M140.5 0v1M142.5 0v1M143.5 0v1m0 62v1M144.5 141v1M145.5 0v1M146.5 0v1M147.5 158v1m0 4v1M148.5 0v1m0 59v1m0 106v1M149.5 158v1M150.5 24v1M151.5 0v1m0 22v1m0 4v1M152.5 0v1m0 159v1M153.5 105v1m0 56v1M154.5 69v1m0 3v1M155.5 0v1M156.5 62v1M157.5 0v1m0 86v1M158.5 14v1m0 4v1m0 39v1m0 57v1m0 41v1M159.5 0v1M160.5 0v1m0 31v1m0 91v1M161.5 0v1m0 137v1M162.5 0v1m0 61v1m0 105v1M165.5 97v1m0 3v1M167.5 0v1M168.5 130v1M169.5 3v1m0 74v1m0 51v1M170.5 92v1M171.5 0v1m0 144v1M173.5 90v1m0 51v1M174.5 0v1m0 92v1m0 77v1M175.5 0v1M177.5 0v1m0 151v1M180.5 3v1m0 41v1M181.5 101v1M182.5 96v1M183.5 0v1M184.5 172v1M185.5 0v2m0 65v1M188.5 0v1m0 5v1m0 62v1m0 96v1M189.5 81v1m0 58v1M190.5 59v1m0 26v1M192.5 0v2m0 75v1M193.5 0v1m0 32v1M194.5 0v1m0 165v1M195.5 0v1m0 128v1M196.5 66v1M197.5 0v1m0 137v1M198.5 0v1m0 59v1M199.5 0v1m0 171v1"/>
<path stroke="#89ffaf" d="M0.5 0v1M2.5 79v1M3.5 61v1M4.5 89v1M5.5 166v1M6.5 101v1m0 4v1m0 56v1M8.5 33v1M9.5 116v1M11.5 0v1M12.5 41v1m0 77v1m0 24v1M13.5 150v1M14.5 118v1M18.5 163v1M19.5 0v1m0 91v1M20.5 52v1m0 82v1M22.5 164v1M23.5 145v1M24.5 0v1M25.5 91v1m0 53v1M26.5 0v1m0 96v1M28.5 55v1M29.5 0v1M30.5 32v1m0 4v1m0 129v1M31.5 0v1M32.5 121v1m0 26v1M33.5 85v1M35.5 24v1M36.5 59v1M37.5 52v1M38.5 60v1m0 95v1M39.5 60v1M40.5 163v1M47.5 49v1M49.5 86v1m0 3v1M54.5 160v1M55.5 63v1M57.5 59v1M59.5 40v1M60.5 83v1m0 50v1M62.5 0v1M64.5 105v1M67.5 25v1m0 30v1m0 50v1M68.5 0v1M69.5 160v1M70.5 0v1M71.5 100v1M74.5 0v1m0 138v1M75.5 0v1M76.5 0v1M78.5 81v1m0 60v1m0 4v1M79.5 0v1m0 79v1M80.5 0v1M81.5 58v1m0 44v1M85.5 140v1M86.5 30v1m0 100v1m0 4v1M88.5 65v1M89.5 83v1M90.5 143v1M91.5 105v1M92.5 148v1M93.5 0v1M94.5 32v1m0 28v1m0 3v1m0 107v1M95.5 40v1M96.5 120v1M98.5 63v1m0 69v1M99.5 0v1M103.5 144v1M104.5 168v1M106.5 0v1M108.5 0v1m0 57v1M111.5 0v1m0 88v1M113.5 0v1M114.5 80v1m0 28v1M116.5 32v1m0 3v1M117.5 79v1m0 25v1M118.5 151v1M119.5 143v1M121.5 62v1m0 52v1M123.5 171v1M124.5 169v1M126.5 0v1M129.5 0v1m0 36v1M130.5 137v1m0 4v1m0 20v1M132.5 66v1m0 72v1m0 29v1M136.5 83v1M137.5 80v1M138.5 33v1m0 3v1m0 107v1M139.5 34v1m0 48v1M141.5 0v1M144.5 0v1m0 32v1M147.5 0v1m0 28v1M150.5 172v1M151.5 165v1M152.5 123v1M154.5 103v1m0 34v1m0 4v1m0 22v1M155.5 59v1m0 102v1M156.5 58v1M158.5 37v1M161.5 26v1m0 55v1M162.5 21v1M165.5 0v1M166.5 0v1M170.5 0v1m0 95v1M172.5 141v1m0 3v1M173.5 0v1M174.5 98v1m0 30v1M178.5 32v1M179.5 0v1m0 152v1M187.5 0v1M189.5 0v1M191.5 20v1M192.5 130v1M195.5 64v1M197.5 143v1"/>
<path stroke="#aff498" d="M3.5 65v1m0 47v1m0 53v1M5.5 64v1m0 106v1M8.5 29v1M11.5 147v1m0 23v1M13.5 43v1M14.5 13v1M15.5 146v1M16.5 2v1m0 103v1m0 3v1m0 32v1M17.5 105v1m0 56v1M18.5 65v1M23.5 1v1m0 3v1m0 102v1M25.5 95v1M27.5 125v1M28.5 122v1M29.5 105v1M30.5 57v1m0 48v1M31.5 151v1M32.5 152v1M33.5 151v1M36.5 2v1m0 90v1M38.5 160v1M39.5 65v1m0 101v1M42.5 2v1m0 42v1m0 3v1m0 58v1m0 58v1M43.5 25v1M46.5 72v1M52.5 147v1M54.5 25v1m0 106v1M55.5 68v1m0 95v1M56.5 130v1M57.5 100v1m0 29v1M61.5 63v1m0 3v1M65.5 39v1m0 34v1m0 38v1M67.5 163v1M68.5 58v1M69.5 3v1m0 58v1M70.5 87v1m0 30v1M72.5 102v1m0 3v1M73.5 75v1m0 3v1M74.5 105v1m0 3v1M75.5 54v1m0 3v1M76.5 55v1M77.5 97v1M79.5 137v1M81.5 54v1M83.5 20v1M84.5 79v1m0 30v1M85.5 24v1M86.5 58v1m0 45v1M88.5 3v1m0 126v1M89.5 129v1M90.5 105v1m0 3v1M91.5 139v1m0 3v1M92.5 79v1m0 72v1M94.5 141v1M95.5 35v1m0 41v1m0 63v1M96.5 49v1m0 30v1M97.5 71v1m0 96v1M98.5 59v1m0 77v1M99.5 82v1M100.5 143v1M101.5 36v1M104.5 172v1M105.5 57v1m0 52v1M106.5 94v1M107.5 140v1M108.5 134v1M109.5 35v1m0 103v1M110.5 14v1m0 139v1M111.5 56v1M113.5 83v1M115.5 23v1m0 142v1M117.5 3v1m0 79v1m0 25v1M118.5 0v1M119.5 59v1M120.5 115v1M121.5 66v1M122.5 65v1m0 64v1M123.5 53v1M124.5 111v1m0 61v1M125.5 169v1M126.5 14v1M127.5 166v1M132.5 62v1m0 41v1M133.5 8v1m0 34v1m0 20v1M134.5 131v1M136.5 32v1M139.5 79v1M143.5 68v1M144.5 29v1M145.5 8v1m0 23v1M150.5 2v1M152.5 31v1M153.5 109v1m0 18v1M154.5 161v1M155.5 142v1M157.5 163v1M159.5 45v1m0 3v1M161.5 22v1m0 120v1M162.5 25v1m0 41v1M165.5 8v1m0 3v1m0 148v1M166.5 80v1m0 21v1M168.5 3v1M170.5 117v1M171.5 43v1M172.5 0v1M173.5 28v1M177.5 157v1M178.5 36v1M179.5 80v1m0 37v1m0 30v1M180.5 118v1m0 3v1m0 42v1M181.5 54v1M182.5 101v1M186.5 95v1m0 3v1M188.5 1v1m0 26v1M189.5 167v1M190.5 55v1m0 85v1M191.5 16v1m0 115v1M192.5 82v1m0 51v1M193.5 29v1m0 50v1M194.5 27v1M195.5 69v1m0 93v1m0 3v1M196.5 2v1M197.5 85v1m0 82v1M199.5 143v1m0 23v1"/>
<path stroke="#d4dd80" d="M2.5 136v1M3.5 85v1M4.5 93v1m0 43v1M5.5 2v1m0 141v1m0 3v1M6.5 167v1M7.5 34v1M9.5 120v1M10.5 33v1m0 58v1M11.5 143v1M14.5 41v1m0 44v1M17.5 75v1M18.5 34v1m0 26v1M20.5 139v1M21.5 86v1m0 51v1M23.5 107v1M24.5 166v1M25.5 141v1M28.5 126v1M29.5 85v1M32.5 48v1m0 28v1M33.5 155v1M38.5 86v1M39.5 103v1m0 67v1M41.5 58v1m0 3v1m0 22v1m0 80v1M42.5 145v1M43.5 111v1m0 3v1M45.5 107v1M46.5 43v1M47.5 140v1M48.5 166v1m0 3v1M49.5 166v1M53.5 40v1M54.5 51v1m0 53v1m0 30v1M55.5 3v1m0 94v1M56.5 134v1M57.5 63v1M58.5 32v1M59.5 84v1m0 79v1M60.5 28v1m0 3v1m0 129v1M63.5 162v1M65.5 35v1M67.5 103v1m0 62v1M68.5 62v1M69.5 66v1m0 97v1M70.5 122v1M72.5 125v1M73.5 141v1M74.5 82v1m0 60v1M75.5 156v1M77.5 1v1m0 51v1M78.5 60v1M79.5 34v1m0 49v1m0 83v1m0 3v1M80.5 27v1M81.5 22v1m0 132v1M83.5 112v1M84.5 27v1M85.5 28v1m0 64v1M87.5 70v1m0 17v1m0 3v1M88.5 61v1M89.5 133v1M90.5 147v1M91.5 3v1M92.5 83v1M93.5 34v1m0 28v1M94.5 145v1m0 23v1M95.5 104v1m0 65v1M100.5 31v1m0 34v1M103.5 82v1m0 3v1m0 17v1M105.5 35v1M106.5 69v1M107.5 61v1m0 30v1m0 43v1M108.5 62v1M109.5 135v1M110.5 10v1M111.5 85v1M112.5 86v1M113.5 130v1M114.5 2v1M115.5 65v1M116.5 114v1M119.5 108v1M122.5 61v1M123.5 116v1m0 3v1M127.5 141v1m0 3v1M129.5 140v1M130.5 31v1m0 72v1M131.5 38v1m0 66v1M132.5 143v1M136.5 147v1M139.5 134v1M142.5 26v1M144.5 67v1m0 77v1M146.5 77v1M149.5 2v1M150.5 90v1M151.5 73v1m0 48v1m0 46v1M152.5 27v1M155.5 84v1m0 3v1m0 49v1M156.5 1v1m0 143v1m0 3v1M157.5 61v1m0 97v1M158.5 41v1m0 80v1m0 40v1M159.5 135v1m0 3v1M160.5 82v1m0 45v1m0 31v1M161.5 86v1m0 83v1M162.5 141v1m0 30v1M164.5 1v1m0 136v1m0 23v1M165.5 46v1M166.5 59v1m0 75v1M167.5 102v1m0 3v1M171.5 141v1M172.5 96v1M174.5 40v1m0 93v1M176.5 33v1m0 2v1m0 38v1m0 83v1M177.5 31v1M178.5 2v1m0 75v1M180.5 49v1m0 36v1m0 82v1M182.5 3v1m0 163v1M185.5 167v1M186.5 65v1M187.5 31v1m0 3v1M188.5 32v1m0 138v1M189.5 86v1M192.5 28v1m0 25v1M194.5 31v1M195.5 125v1M198.5 64v1m0 37v1m0 3v1m0 64v1"/>
<path stroke="#f1c36c" d="M2.5 82v2m0 55v1m0 29v4M3.5 64v1m0 24v1m0 25v3m0 52v2M4.5 1v1m0 69v1m0 63v2M5.5 68v1m0 100v2M6.5 1v1m0 50v1m0 2v2m0 47v2m0 60v1M9.5 37v1m0 81v1M10.5 1v1m0 34v2m0 50v1m0 2v1M11.5 167v1m0 2v1M12.5 147v2M13.5 47v1m0 98v1M14.5 16v1m0 27v1m0 38v1m0 37v1M15.5 145v1M17.5 72v1m0 1v1m0 33v1m0 57v1M18.5 1v1m0 31v1m0 29v2m0 102v1M19.5 95v1M20.5 2v1m0 135v1M21.5 85v1m0 55v1m0 18v1m0 3v1M22.5 167v1M24.5 170v1M26.5 101v1M27.5 124v1M28.5 58v2m0 65v1M29.5 84v1m0 24v1M30.5 61v1m0 47v1m0 60v1M31.5 150v1M32.5 51v1m0 22v1m0 50v1m0 23v1m0 1v1M33.5 0v2m0 87v1m0 32v2M34.5 81v1m0 1v2M35.5 28v1m0 45v1m0 2v1M36.5 63v1m0 26v3M37.5 48v1m0 2v1m0 40v1m0 1v2m0 55v1m0 2v1M38.5 63v1m0 19v1m0 75v1M39.5 64v1m0 41v1M40.5 88v1m0 2v1m0 74v1M41.5 61v1m0 19v1m0 2v1m0 84v1M42.5 48v1m0 95v1m0 26v1M43.5 29v1m0 84v1M44.5 41v1m0 130v1M45.5 2v1m0 101v1m0 1v1M46.5 40v1m0 1v1m0 32v1m0 64v1m0 20v1M47.5 53v1m0 87v3M48.5 91v1m0 46v1m0 2v1M49.5 89v1m0 80v1M50.5 85v1m0 2v1m0 29v1m0 2v1M51.5 29v1m0 1v2m0 29v1m0 2v1M53.5 1v1m0 41v1m0 118v1m0 2v1M54.5 29v1m0 24v1m0 54v1m0 25v1M55.5 67v1m0 26v1m0 2v1M56.5 1v1m0 59v1M57.5 62v1m0 36v1m0 28v1m0 44v1M58.5 34v2m0 72v1m0 3v1M59.5 88v1m0 71v1M60.5 2v1m0 134v1m0 27v2M61.5 2v1m0 63v1M62.5 116v1m0 2v2M63.5 158v1m0 2v1M64.5 72v1m0 36v1M65.5 38v1m0 34v1m0 35v1m0 1v2M66.5 1v1M67.5 27v2m0 30v2m0 45v1m0 25v1m0 2v1M68.5 136v1M69.5 2v1M71.5 103v2M72.5 78v1m0 1v2m0 23v1m0 23v1M73.5 2v1m0 141v1M74.5 81v1m0 26v1m0 32v2M75.5 159v1M76.5 4v1m0 53v2M77.5 56v1m0 37v1m0 46v1m0 2v1M78.5 1v1m0 61v2m0 19v2m0 60v1M79.5 33v1m0 49v1m0 19v1m0 67v1M80.5 89v1m0 2v1M81.5 26v1m0 79v2m0 49v2M82.5 172v2M83.5 23v1m0 84v1m0 1v1M84.5 1v1M85.5 90v1m0 3v1m0 48v1M86.5 3v1m0 29v1m0 28v1m0 44v1m0 26v2M87.5 69v1M88.5 2v1m0 61v1m0 19v1m0 42v1M89.5 87v1m0 44v1M91.5 108v2M93.5 38v1m0 27v2M94.5 36v1m0 26v2m0 77v1m0 1v1m0 27v1M95.5 1v1m0 74v1m0 24v1m0 42v1m0 27v2M96.5 2v1m0 49v1m0 23v1m0 46v1M97.5 1v1m0 68v1m0 101v1M98.5 61v2m0 73v1M100.5 69v1m0 38v1m0 1v2m0 34v2M101.5 39v1m0 80v1M102.5 3v1m0 105v1M103.5 42v1m0 2v1m0 39v1m0 57v1M104.5 40v1M105.5 38v1m0 21v2M106.5 72v1m0 18v1m0 1v1M107.5 33v1m0 2v1m0 28v1m0 73v1M108.5 138v1M109.5 38v1m0 65v1m0 33v1M110.5 11v1m0 145v1M111.5 59v2m0 27v1M113.5 87v1m0 45v1M114.5 42v1m0 3v1m0 32v1m0 28v1M115.5 26v2m0 141v1M116.5 35v1m0 81v2M117.5 6v2m0 74v1m0 63v1m0 3v1M118.5 154v2M119.5 62v2m0 48v1m0 34v1M120.5 37v1m0 74v3M121.5 1v1m0 35v1m0 26v2m0 52v1M122.5 36v1m0 1v2m0 24v1m0 68v1M123.5 49v1m0 1v2m0 66v1M124.5 1v2m0 111v2m0 56v1M125.5 172v1M127.5 105v1m0 2v1m0 35v1m0 25v1M129.5 36v1m0 106v1M130.5 35v1m0 71v1m0 59v1M131.5 1v1m0 34v2m0 69v1m0 54v1m0 2v1M132.5 141v2m0 22v1m0 2v1M133.5 11v1m0 56v1M134.5 164v1m0 2v2M135.5 35v1m0 2v1m0 38v1M136.5 2v1m0 32v1m0 115v1M137.5 84v1m0 75v1M138.5 122v1m0 2v2m0 21v2M139.5 1v2m0 135v1M142.5 28v1M144.5 70v1m0 73v1M145.5 35v1M147.5 32v1M148.5 64v1m0 66v1m0 3v1m0 35v1M149.5 1v1m0 159v2M150.5 1v1m0 26v1m0 64v1M151.5 24v1m0 51v1m0 91v1M152.5 30v1m0 96v1m0 36v1M153.5 2v1m0 74v1m0 1v2m0 51v1m0 32v1M154.5 1v2m0 69v1m0 33v2m0 33v2m0 22v1M155.5 62v1m0 24v1m0 53v1m0 23v2M156.5 61v1M157.5 58v1m0 32v1m0 70v1M158.5 15v1m0 47v1m0 54v1m0 2v1m0 38v1M159.5 80v1m0 2v2m0 53v1M160.5 86v1m0 40v1m0 35v2M161.5 83v1m0 1v1m0 56v1M162.5 66v1m0 78v1m0 23v1m0 1v1M164.5 0v1m0 165v1M165.5 165v1M166.5 56v1m0 1v1m0 24v1m0 22v1m0 24v1m0 2v1M167.5 104v1M168.5 134v1M169.5 2v1m0 131v1M170.5 93v1m0 26v1M171.5 45v2m0 97v1M172.5 35v1m0 57v1M173.5 32v1m0 61v1M174.5 43v1m0 53v1m0 35v1M175.5 30v1m0 1v3M176.5 2v1m0 75v1M177.5 34v1m0 121v1M178.5 1v1m0 33v1m0 45v1m0 72v1m0 1v2M179.5 83v1m0 37v2m0 29v1M180.5 1v2m0 79v1m0 2v1M181.5 2v1m0 54v2m0 46v1M182.5 97v1m0 2v1m0 69v2M183.5 171v1m0 1v1M184.5 3v1M185.5 32v1m0 38v1m0 98v1M186.5 1v1m0 66v1M187.5 34v1M188.5 5v1m0 64v1m0 2v2M189.5 59v1m0 1v3m0 77v1m0 2v2m0 25v1M190.5 3v1m0 53v2m0 31v1m0 53v2M191.5 135v2M192.5 25v1m0 32v1m0 22v1m0 49v1m0 1v1M193.5 31v2m0 50v1M194.5 30v1m0 139v1M195.5 67v2m0 59v1m0 37v1M196.5 67v1m0 2v1M197.5 141v1m0 29v1M198.5 105v1m0 62v1M199.5 139v1m0 1v2m0 28v1"/>
<path stroke="#ffa457" d="M2.5 80v2m0 55v2M3.5 62v2m0 23v2m0 25v1m0 54v1M4.5 0v1m0 67v1m0 1v1m0 20v2m0 41v1M5.5 0v2m0 65v1m0 78v2m0 19v2M6.5 0v1m0 52v1m0 48v1m0 61v2M7.5 31v3M8.5 31v2M9.5 36v1m0 80v2M10.5 0v1m0 33v2m0 53v2M11.5 144v1m0 1v1m0 21v2M12.5 42v4m0 76v1M13.5 44v1m0 1v1m0 101v2M14.5 42v2m0 40v2m0 33v2M15.5 142v3M16.5 1v1m0 107v1m0 34v3M17.5 73v1m0 33v1m0 56v2M18.5 0v1m0 30v2m0 132v2M19.5 94v1M20.5 0v2m0 51v3m0 80v2M21.5 82v1m0 1v1m0 54v2m0 21v2M22.5 165v2M23.5 3v2m0 139v1M24.5 167v3M25.5 94v1m0 47v3M26.5 98v3M27.5 122v1M28.5 123v2M29.5 82v2m0 24v1M30.5 34v3m0 23v1m0 46v1M31.5 149v1M32.5 50v1m0 25v1m0 47v1m0 25v1M33.5 87v2m0 31v2m0 32v1M34.5 82v1M35.5 25v3m0 48v1M36.5 0v2m0 58v3M37.5 49v2m0 42v1m0 58v2M38.5 61v1m0 2v1m0 19v2m0 71v2M39.5 63v1m0 40v2m0 63v2M40.5 90v1m0 74v1M41.5 59v2m0 22v1m0 83v2M42.5 0v2m0 44v2m0 57v1m0 1v1m0 34v2m0 26v1M43.5 28v1m0 84v1M44.5 37v1m0 1v2m0 132v1M45.5 1v1m0 103v1M46.5 41v1m0 31v1m0 65v1m0 24v1M47.5 50v3M48.5 88v3m0 48v2m0 28v1M49.5 88v1m0 79v2M50.5 86v2m0 31v2M51.5 30v1m0 33v1m0 78v4M52.5 81v4m0 65v1M53.5 163v2M54.5 26v3m0 24v1m0 53v2m0 24v2m0 27v2M55.5 2v1m0 61v1m0 1v1m0 28v2m0 68v3M56.5 59v2m0 42v2m0 26v3M57.5 60v2m0 35v2m0 27v2m0 1v1M58.5 110v2M59.5 42v3m0 42v1m0 73v1m0 1v1M60.5 0v2m0 28v2m0 52v4m0 48v1M61.5 1v1m0 63v1M62.5 117v2M64.5 69v3m0 35v2M65.5 36v2m0 33v2m0 37v1M66.5 0v1M67.5 26v1m0 30v2m0 46v1m0 28v1m0 29v2M68.5 59v3m0 71v3M69.5 0v2m0 61v3m0 96v2M70.5 84v3m0 32v3M71.5 101v2m0 70v1M72.5 79v1m0 23v2m0 22v2M73.5 0v2m0 74v3m0 24v1m0 1v2m0 36v1M74.5 78v3m0 26v1m0 32v1M75.5 56v2m0 100v1M76.5 3v1m0 52v2M77.5 0v1m0 54v1m0 40v1m0 45v2M78.5 0v1m0 61v1m0 20v1M79.5 31v2m0 49v1m0 21v2m0 28v1m0 1v1m0 33v1M80.5 29v2m0 60v1M81.5 24v2m0 31v1m0 98v1M82.5 171v1M83.5 21v2m0 1v1m0 84v1m0 1v1M84.5 0v1m0 25v1m0 53v3m0 24v3M85.5 25v3m0 63v2m0 49v1M86.5 0v3m0 29v1m0 28v1m0 44v1m0 25v2M87.5 67v2m0 20v3M88.5 0v2m0 61v1m0 23v1m0 40v2M89.5 84v1m0 1v1m0 44v1M90.5 40v1m0 1v2m0 62v3m0 36v2M91.5 1v2m0 103v2m0 33v2M92.5 80v1m0 1v1m0 67v2M93.5 35v3M94.5 33v3m0 26v1m0 80v1M95.5 0v1m0 35v4m0 34v2m0 27v1m0 67v1M96.5 1v1m0 49v1m0 26v2m0 41v1m0 2v1M97.5 0v1m0 169v2M98.5 135v1M99.5 78v4M100.5 27v1m0 2v1m0 37v1m0 40v1m0 34v2M101.5 37v1m0 48v2m0 28v1m0 2v1M102.5 0v3m0 103v1m0 1v1M103.5 43v2m0 39v1m0 21v2m0 34v1M104.5 36v1m0 2v1m0 129v3M105.5 36v2m0 20v1m0 48v3M106.5 71v1M107.5 35v1m0 26v3m0 24v3m0 45v2M108.5 59v3m0 74v2M109.5 101v3M110.5 12v2m0 141v2M111.5 58v1m0 27v2M112.5 85v1M113.5 85v1m0 46v1M114.5 0v2m0 42v2m0 30v3m0 27v2M115.5 24v2m0 41v1m0 1v1m0 97v2M116.5 33v2m0 81v1M117.5 5v1m0 100v3m0 38v3M119.5 60v2m0 47v1m0 1v1m0 32v3M120.5 33v1m0 1v2M121.5 0v1m0 33v3m0 79v2M122.5 37v1m0 24v2M123.5 50v1m0 67v1m0 54v1M124.5 0v1m0 111v2m0 56v2M125.5 170v2M126.5 15v3M127.5 106v2m0 34v1m0 25v2M129.5 33v3m0 105v2M130.5 34v1m0 70v2m0 33v2m0 23v2M131.5 0v1m0 33v2m0 70v1m0 1v1m0 55v1M132.5 63v3m0 40v3m0 31v1m0 26v1M133.5 9v2m0 29v3m0 23v2M134.5 1v2m0 129v3m0 31v1M135.5 36v2m0 36v1m0 1v1M136.5 0v2m0 31v2m0 46v2m0 66v2M137.5 81v3m0 77v3M138.5 0v4m0 30v3m0 87v1m0 21v2M139.5 0v1m0 34v3m0 44v1m0 52v3M142.5 27v1m0 1v1M143.5 67v1M144.5 31v2m0 35v2m0 72v2M145.5 5v1m0 1v1m0 26v1M146.5 74v1m0 1v1M147.5 30v2m0 130v1M148.5 61v1m0 1v1m0 70v1m0 33v3M149.5 0v1m0 158v2M150.5 0v1m0 24v3m0 63v2M151.5 25v3m0 47v1m0 47v4m0 39v2M152.5 28v2m0 96v1m0 34v3M153.5 0v2m0 76v1m0 28v2m0 20v3m0 31v2m0 1v1M154.5 0v1m0 69v2m0 32v2m0 34v1m0 23v1M155.5 60v1m0 25v1m0 52v2m0 22v2M156.5 0v1m0 59v1m0 86v2M157.5 60v1m0 27v3m0 69v2M158.5 16v3m0 20v2m0 19v1m0 1v1m0 56v2m0 40v2M159.5 47v2m0 87v2M160.5 35v2m0 46v3m0 39v2m0 35v1M161.5 24v2m0 58v1m0 56v1m0 30v2M162.5 24v1m0 39v2m0 77v2m0 25v1M164.5 139v4m0 22v1M165.5 11v1m0 37v1m0 50v1m0 62v2M166.5 105v1m0 26v2M167.5 103v1m0 1v1m0 23v1m0 1v2M168.5 2v1m0 128v1m0 1v1M169.5 79v4m0 48v3M170.5 95v1m0 22v2M171.5 44v1m0 97v2M172.5 34v1m0 59v2m0 46v3M173.5 91v3m0 50v3M174.5 42v1m0 87v1m0 1v1m0 39v2M175.5 31v1M176.5 1v1m0 33v1m0 40v2m0 82v3M177.5 33v1m0 119v3M178.5 0v1m0 32v2m0 44v2m0 74v1M179.5 81v2m0 67v2M180.5 46v3m0 35v1m0 34v3m0 45v2M181.5 0v2m0 100v3M182.5 0v1m0 1v1m0 95v2m0 69v1M184.5 0v1m0 1v1m0 170v1M185.5 29v1m0 1v1m0 38v1M186.5 0v1m0 66v1m0 28v1m0 1v1M187.5 32v2M188.5 3v2m0 24v1m0 1v1m0 39v2m0 94v1m0 2v1M189.5 60v1m0 21v1m0 2v1m0 56v2m0 26v1M190.5 0v3m0 53v1m0 30v3m0 53v1M191.5 18v2m0 114v1M192.5 26v2m0 27v3m0 21v2m0 51v1M193.5 30v1m0 51v1M194.5 28v2m0 137v3M195.5 65v2M196.5 0v2m0 67v1M197.5 81v1m0 1v2m0 54v2m0 1v1m0 26v2M198.5 61v1m0 1v1m0 39v2m0 65v1M199.5 140v1m0 29v1"/>
<path stroke="#ff8042" d="M3.5 86v1m0 81v1M4.5 69v1m0 20v1M5.5 65v2m0 78v1M6.5 54v1m0 48v1M8.5 30v1M9.5 34v2M11.5 145v1M12.5 121v1M13.5 45v1m0 101v1M14.5 15v1M16.5 0v1m0 106v2M17.5 106v1m0 56v1M18.5 62v1m0 101v1M19.5 93v1M21.5 83v1m0 77v1M23.5 2v1m0 101v3m0 34v3M25.5 92v2M27.5 123v1M28.5 56v2M29.5 81v1m0 24v2M30.5 33v1m0 24v2m0 48v1m0 59v2M31.5 148v1M32.5 49v1m0 25v1m0 46v2M33.5 86v1m0 65v2M35.5 75v1M38.5 62v1M39.5 61v2m0 105v1M40.5 89v1m0 74v1M41.5 82v1M42.5 106v1m0 61v2M43.5 26v2m0 84v1M44.5 38v1M45.5 0v1M46.5 74v1m0 62v2m0 23v2M48.5 167v2M49.5 87v1m0 79v1M51.5 63v1M52.5 148v2M53.5 0v1m0 40v2M54.5 52v1m0 53v1m0 54v1M55.5 0v2m0 63v1M56.5 0v1m0 57v1m0 42v2M58.5 33v1m0 75v1M59.5 41v1m0 43v2m0 75v1M60.5 29v1m0 105v1m0 27v2M61.5 0v1m0 63v1M63.5 159v2M64.5 106v1M65.5 70v1M67.5 104v1m0 28v1M69.5 161v1M71.5 172v1M72.5 126v1M73.5 142v1M74.5 106v1M75.5 55v1m0 101v1M76.5 1v2M77.5 54v1m0 40v1M78.5 61v1m0 20v1m0 60v3M79.5 81v1m0 53v1m0 33v1M80.5 28v1m0 61v1M81.5 23v1m0 31v2m0 47v2M84.5 24v2M85.5 141v1M86.5 31v1m0 27v2m0 44v1M87.5 66v1M88.5 62v1m0 22v2M89.5 85v1m0 44v1M90.5 41v1m0 102v1M91.5 0v1m0 139v1M92.5 81v1m0 67v1M93.5 64v2M94.5 170v2M95.5 102v1m0 39v2M96.5 0v1m0 49v1m0 26v1m0 44v1M97.5 68v2m0 99v1M98.5 60v1m0 73v1M100.5 28v2m0 37v1M101.5 38v1m0 45v2m0 31v2M102.5 107v1M103.5 83v1m0 21v1m0 34v2M104.5 37v2M105.5 59v1M106.5 70v1m0 21v1M107.5 34v1M108.5 135v1M109.5 36v2m0 98v2M111.5 57v1M112.5 83v2M113.5 86v1m0 44v1M114.5 43v1m0 61v1M115.5 66v1m0 1v1M116.5 115v1M117.5 4v1m0 75v2M118.5 152v2M119.5 110v1M120.5 34v1M121.5 63v1M122.5 131v2M123.5 117v1m0 54v1M127.5 143v1m0 23v1M130.5 32v2m0 104v2m0 24v1M131.5 163v1M132.5 105v1m0 60v1M133.5 65v1M134.5 0v1m0 164v1M135.5 75v1M136.5 79v2m0 67v1M138.5 123v1M139.5 80v2M143.5 64v1m0 1v1M144.5 30v1M145.5 6v1m0 26v1M146.5 75v1M147.5 159v3M148.5 62v1m0 69v2M150.5 173v1M151.5 74v1M152.5 124v2M153.5 106v1M154.5 139v1m0 22v2M155.5 61v1m0 23v1M156.5 59v1m0 86v1M157.5 59v1M158.5 38v1m0 22v1M159.5 46v1m0 34v2M160.5 33v2m0 126v1M161.5 139v2m0 30v1M162.5 22v2m0 39v1m0 78v1M164.5 163v2M165.5 9v2m0 36v2m0 49v2m0 62v1M166.5 57v1m0 23v2m0 20v2M167.5 130v1M168.5 0v2m0 130v1M169.5 0v2M170.5 94v1M172.5 32v2M173.5 29v3m0 111v1M174.5 41v1m0 52v3m0 34v1M176.5 0v1m0 33v1M177.5 32v1M179.5 119v2M180.5 0v1m0 82v1m0 82v1M181.5 56v1M182.5 1v1m0 166v1M183.5 172v1M184.5 1v1M185.5 68v2m0 98v2M186.5 66v1m0 30v1M188.5 2v1m0 27v1m0 137v2M189.5 83v2m0 83v2M190.5 142v1M191.5 17v1m0 115v1M192.5 78v1M195.5 126v2m0 36v2M196.5 68v1M197.5 82v1M198.5 62v1m0 106v1M199.5 168v2"/>
<path stroke="#ff572c" d="M12.5 120v1m0 24v2M14.5 14v1M73.5 104v1M113.5 84v1M143.5 65v1M161.5 23v1M181.5 55v1M185.5 30v1M193.5 81v1"/></g>
</g></g>
<clipPath id="hc2"><rect x="49.0" y="235.5" width="588.5" height="173.5"/></clipPath>
<g clip-path="url(#hc2)"><g transform="translate(49.0,409.0) scale(2.94250,-0.99713)">
<use href="#nt" x="0"/>
<use href="#nt" x="40"/>
<use href="#nt" x="80"/>
<use href="#nt" x="120"/>
<use href="#nt" x="160"/>
<g fill="none" stroke-width="1.02"><path stroke="#5542fd" d="M0.5 7v1m0 55v1m0 30v3m0 61v2M1.5 141v1M2.5 12v1m0 30v2m0 39v1m0 39v1M3.5 36v1m0 73v1M4.5 11v1m0 64v1m0 55v1m0 34v1M5.5 4v1m0 70v1m0 90v1M6.5 62v1M7.5 6v1m0 112v1m0 29v1M8.5 48v1M9.5 10v1m0 135v1M10.5 95v1M11.5 39v1m0 28v1m0 28v3M12.5 11v1m0 86v1m0 73v1M13.5 49v1m0 52v2M14.5 52v1m0 23v2M16.5 140v2M17.5 74v2m0 79v1M18.5 75v1m0 78v1M19.5 23v1m0 98v1m0 31v1M20.5 6v1m0 71v1m0 31v1m0 30v1M22.5 6v1m0 27v1M23.5 48v1m0 59v1M24.5 45v1m0 66v1m0 33v1M25.5 7v1m0 21v1M26.5 52v1m0 1v1m0 99v1M27.5 32v1m0 76v1M28.5 38v1M30.5 22v1m0 62v2m0 36v1M31.5 84v1M32.5 32v3m0 54v1m0 25v1m0 23v2m0 24v1M33.5 16v1m0 35v1m0 120v1M34.5 13v2m0 34v1m0 89v1M36.5 71v1m0 54v1m0 25v1M37.5 49v2m0 63v2m0 29v1M38.5 7v1m0 43v1m0 31v1m0 35v1m0 41v1M39.5 5v1m0 84v1m0 63v1M40.5 116v1M41.5 6v1m0 26v1m0 47v1m0 24v1m0 36v2M42.5 159v2M44.5 32v1m0 59v1m0 62v1M45.5 61v1M46.5 5v1m0 116v1M47.5 60v2M48.5 71v2m0 49v1M49.5 14v1m0 40v1m0 34v1m0 45v1M50.5 131v1M51.5 87v1m0 46v2M52.5 22v2m0 85v1M53.5 167v1M54.5 108v1m0 62v1M55.5 101v2m0 54v1M56.5 41v1m0 42v1m0 48v1M57.5 89v1m0 60v1M58.5 112v1m0 48v1M60.5 14v3m0 26v3m0 22v1m0 3v1m0 26v2m0 19v2m0 18v2m0 11v3M61.5 36v2m0 18v3m0 24v3m0 19v3m0 22v1m0 2v1m0 17v1m0 1v1M62.5 22v2m0 28v2m0 1v1m0 27v2m0 1v1m0 32v2m0 2v1m0 19v3m0 22v4M63.5 31v1m0 1v2m0 16v2m0 16v2m0 33v1m0 1v1m0 20v1m0 43v3M64.5 7v2m0 1v1m0 25v3m0 28v3m0 16v2m0 17v3m0 2v1m0 19v3m0 21v3M65.5 14v2m0 1v1m0 68v3m0 21v1m0 1v1m0 20v2M66.5 6v1m0 2v1m0 54v2m0 33v3m0 18v1m0 1v1M67.5 30v3m0 22v2m0 25v3m0 23v2m0 56v4M68.5 11v2m0 17v3m0 13v3m0 12v1m0 1v1m0 21v2m0 40v3m0 23v2M69.5 7v1m0 23v4m0 27v2m0 16v2m0 1v1m0 16v1m0 2v1m0 12v4m0 18v1m0 2v1M70.5 9v1m0 17v3m0 14v4m0 24v3m0 35v2m0 19v1m0 22v1m0 2v1M71.5 40v2m0 18v3m0 37v1m0 41v3m0 22v1m0 1v2M72.5 7v1m0 1v1m0 19v3m0 33v3m0 29v3m0 35v1m0 1v2m0 25v3M73.5 20v3m0 16v3m0 17v1m0 2v1m0 37v3m0 17v2m0 37v1M74.5 24v2m0 20v1m0 1v1m0 41v2m0 24v3m0 23v2m0 2v1m0 23v2M75.5 48v2m0 21v2m0 16v2m0 21v2m0 24v1m0 21v1M76.5 16v2m0 15v2m0 2v1m0 27v2m0 16v2m0 20v2m0 1v1m0 18v3m0 27v3M77.5 6v3m0 54v2m0 30v2m0 30v3m0 25v2m0 14v2M78.5 36v1m0 1v1m0 29v3m0 16v1m0 14v3m0 20v3m0 17v2m0 15v2M79.5 16v2m0 1v1m0 34v2m0 12v2m0 1v1m0 13v1m0 1v1m0 15v1m0 1v1m0 20v1m0 1v1m0 30v2M80.5 55v3m0 10v3m0 24v2m0 13v3m0 22v3m0 13v3M81.5 13v3m0 19v4m0 20v3m0 33v1m0 22v2m0 1v1m0 19v1m0 1v1M82.5 35v1m0 1v1m0 1v1m0 18v4m0 50v2m0 1v1m0 20v1m0 2v1m0 21v2M83.5 30v3m0 19v3m0 89v2M84.5 8v2m0 23v2m0 25v2m0 18v3m0 20v2m0 32v1m0 1v1m0 19v2M85.5 39v2m0 14v3m0 41v1m0 1v1m0 17v1m0 1v1m0 26v2M86.5 18v2m0 1v1m0 14v2m0 46v2m0 22v3m0 39v1m0 1v1m0 12v1M87.5 20v2m0 19v4m0 10v1m0 40v2m0 55v1M88.5 6v2m0 18v2m0 17v3m0 16v2m0 1v1m0 22v3m0 31v3m0 31v1m0 1v1M89.5 10v2m0 14v3m0 12v3m0 19v2m0 55v2m0 19v2m0 1v1m0 25v1M90.5 5v3m0 19v1m0 13v2m0 19v1m0 1v1m0 17v1m0 17v2m0 9v2m0 29v1M91.5 9v1m0 20v4m0 44v2m0 59v1m0 1v1m0 21v1m0 1v1M92.5 8v3m0 23v3m0 25v2m0 27v2m0 25v3m0 36v2M93.5 9v3m0 26v1m0 39v3m0 39v3m0 32v2m0 1v1M94.5 7v2m0 32v1m0 1v1m0 1v1m0 32v2m0 42v1m0 1v2m0 22v2M95.5 6v3m0 51v3m0 51v1M96.5 14v3m0 18v2m0 34v1m0 16v3m0 20v3m0 13v4m0 16v3m0 13v2M97.5 14v3m0 14v1m0 2v1m0 16v3m0 25v2m0 22v2m0 26v1m0 1v2m0 19v3M98.5 82v2m0 44v2m0 24v3M99.5 19v2m0 2v1m0 12v3m0 11v3m0 12v2m0 1v1m0 1v1m0 12v2m0 10v2m0 31v1m0 1v1m0 20v3M100.5 17v1m0 11v2m0 32v2m0 15v1m0 20v3m0 31v2m0 15v2M101.5 7v2m0 24v3m0 18v4m0 19v2m0 43v3m0 37v1m0 1v1M102.5 27v3m0 44v1m0 1v1m0 31v1m0 1v2m0 24v3m0 20v1m0 1v1M103.5 66v2m0 1v1m0 25v1m0 1v1m0 24v1m0 1v1m0 23v2M104.5 7v1m0 23v1m0 24v1m0 1v1m0 15v2m0 25v2m0 1v1m0 18v2m0 35v2M105.5 32v3m0 26v2m0 2v1m0 27v1m0 1v1m0 14v1m0 1v2m0 19v2m0 1v1m0 16v3M106.5 56v1m0 29v1m0 1v1m0 18v1m0 19v2m0 2v1m0 17v1M107.5 13v2m0 19v5m0 46v2m0 18v3m0 49v1m0 15v1M108.5 21v2m0 24v1m0 16v3m0 11v1m0 1v3m0 20v3m0 10v2M109.5 8v2m0 1v1m0 37v2m0 12v2m0 53v1m0 25v1m0 15v2M110.5 23v2m0 11v1m0 51v1m0 10v1m0 13v3m0 19v4m0 23v1m0 1v1M111.5 14v2m0 1v1m0 32v2m0 36v2m0 37v1m0 2v1m0 20v2M112.5 20v2m0 1v1m0 106v3m0 30v2m0 1v1M113.5 47v3m0 40v2m0 27v3m0 2v1m0 33v3M114.5 7v2m0 40v4m0 18v3m0 18v3m0 33v3M115.5 7v2m0 20v2m0 1v1m0 61v3m0 23v1m0 20v2m0 13v3M116.5 21v2m0 14v2m0 17v1m0 2v1m0 1v1m0 22v2m0 37v2m0 16v2m0 18v3M117.5 33v2m0 1v1m0 43v2m0 15v3m0 18v2m0 23v2m0 21v2m0 1v1M118.5 9v3m0 41v4m0 16v3m0 13v2m0 76v1M119.5 19v2m0 47v4m0 11v4m0 12v4m0 26v3m0 20v2m0 13v2m0 1v1M120.5 8v3m0 11v2m0 1v1m0 24v2m0 35v3m0 15v3m0 18v2m0 21v4m0 11v2M121.5 20v2m0 32v3m0 23v2m0 20v1m0 1v1m0 57v4M122.5 8v3m0 26v1m0 24v3m0 61v3m0 32v1m0 3v1M123.5 6v2m0 27v2m0 1v2m0 16v3m0 50v1m0 40v4M124.5 37v1m0 43v1m0 22v3m0 16v3m0 24v3M125.5 29v3m0 18v2m0 29v1m0 2v1m0 22v1m0 1v1m0 16v2m0 23v3M126.5 38v3m0 35v2m0 38v2m0 1v1m0 34v2M127.5 12v3m0 1v1m0 30v1m0 12v3m0 14v1m0 16v1m0 27v3m0 33v4M128.5 6v3m0 19v2m0 38v1m0 25v3m0 17v1m0 19v1m0 37v2M129.5 6v2m0 10v3m0 33v2m0 27v4m0 36v3m0 21v3M130.5 10v1m0 14v2m0 1v1m0 16v4m0 19v3m0 15v2m0 19v3m0 12v3m0 16v2m0 26v3M131.5 36v1m0 1v2m0 39v3m0 18v1m0 1v1m0 21v1m0 1v2m0 18v1m0 21v3M132.5 17v2m0 20v2m0 2v1m0 36v3m0 16v2m0 58v2M133.5 33v2m0 1v1m0 39v1m0 1v1m0 25v3m0 24v2M134.5 9v3m0 34v3m0 45v2m0 33v2m0 22v3M135.5 17v3m0 38v3m0 43v3m0 27v2M136.5 11v1m0 17v4m0 21v4m0 27v3m0 21v2m0 1v1m0 16v4m0 14v2m0 1v1M137.5 6v3m0 24v2m0 31v3m0 51v1M138.5 29v2m0 15v1m0 15v1m0 1v1m0 18v2m0 25v1m0 1v1m0 18v3m0 16v1m0 15v2m0 2v1M139.5 7v1m0 16v2m0 10v1m0 1v1m0 11v2m0 1v1m0 23v2m0 10v1m0 1v1m0 63v2M140.5 7v3m0 15v1m0 11v1m0 1v1m0 17v1m0 1v1m0 30v1m0 9v2m0 1v1m0 25v1M141.5 6v3m0 39v1m0 2v1m0 19v3m0 18v3m0 53v3M142.5 7v2m0 20v1m0 56v2m0 49v3M143.5 66v1m0 20v2m0 30v4m0 23v3M144.5 7v4m0 20v2m0 1v1m0 64v1m0 34v4m0 28v3M145.5 7v5m0 15v2m0 15v1m0 35v3m0 16v2m0 21v3M146.5 6v2m0 55v2m0 15v3m0 15v2m0 35v1M147.5 23v3m0 31v3m0 18v1m0 1v2m0 14v2m0 29v2m0 26v3M148.5 11v4m0 16v2m0 22v2m0 3v1m0 13v3m0 16v3m0 18v2m0 14v1m0 39v3M149.5 7v3m0 31v3m0 16v1m0 14v3m0 13v3m0 35v3m0 22v2m0 4v1M150.5 18v4m0 33v3m0 14v1m0 17v2m0 1v1m0 14v2m0 13v3m0 34v1m0 1v1M151.5 34v1m0 1v1m0 26v2m0 23v2m0 1v1m0 44v1m0 22v1M152.5 10v2m0 41v1m0 1v1m0 27v2m0 33v4m0 17v2m0 18v2M153.5 59v2m0 20v2m0 2v1m0 19v2m0 18v1m0 45v2M154.5 32v2m0 28v4m0 16v1m0 2v1m0 44v1m0 1v1m0 17v2M155.5 23v4m0 11v2m0 49v2m0 52v1M156.5 6v3m0 15v4m0 27v1m0 20v2m0 17v1m0 1v1m0 16v4m0 23v2M157.5 5v3m0 18v1m0 14v3m0 11v2m0 20v2m0 18v1m0 1v1m0 14v1m0 2v1m0 23v1M158.5 6v2m0 27v3m0 25v1m0 1v1m0 38v3m0 1v1m0 12v3m0 18v2M159.5 21v2m0 16v3m0 11v1m0 1v1m0 49v2m0 2v1m0 13v1m0 1v1m0 28v3M160.5 6v2m0 10v3m0 42v2m0 16v2m0 36v2m0 21v2m0 24v2M161.5 18v2m0 22v2m0 42v2m0 4v1m0 17v1m0 31v2m0 25v2M162.5 17v2m0 24v2m0 18v4m0 24v2m0 1v1m0 1v1m0 26v2m0 16v4m0 24v3M163.5 12v3m0 1v1m0 18v1m0 2v1m0 17v2m0 28v3m0 17v3m0 17v3M164.5 7v3m0 16v1m0 36v1m0 17v3m0 76v2M165.5 30v2m0 39v1m0 15v3m0 39v2m0 36v2M166.5 6v2m0 65v5m0 23v1m0 1v1m0 46v2m0 1v1M167.5 7v1m0 2v1m0 18v3m0 32v1m0 1v1m0 14v3m0 18v1m0 24v2m0 1v2m0 14v2m0 16v1M168.5 26v2m0 41v1m0 13v3m0 16v3m0 23v3m0 1v1m0 12v4m0 17v1M169.5 46v2m0 22v2m0 1v1m0 16v3m0 32v3m0 31v3M170.5 9v2m0 18v1m0 15v4m0 10v4m0 17v2m0 24v1m0 1v1m0 21v2m0 32v2M171.5 31v4m0 37v2m0 21v2m0 40v2m0 1v1m0 1v1m0 24v1M172.5 18v2m0 26v2m0 2v1m0 24v3m0 22v3m0 18v2m0 1v1m0 46v2M173.5 10v4m0 23v2m0 1v1m0 26v1m0 1v1m0 45v2m0 1v1M174.5 12v1m0 2v1m0 33v1m0 2v1m0 23v3m0 27v2m0 29v3m0 31v3M175.5 31v2m0 23v2m0 2v1m0 18v2m0 1v1m0 11v2m0 1v1m0 55v3M176.5 9v1m0 16v3m0 12v2m0 2v1m0 46v2m0 20v2m0 14v3M177.5 23v1m0 20v2m0 23v3m0 23v3m0 1v1m0 15v3m0 18v2m0 27v2m0 1v1M178.5 6v1m0 25v3m0 37v3m0 39v1m0 1v2m0 10v1m0 1v1m0 12v2m0 23v2M179.5 29v4m0 13v3m0 12v3m0 13v2m0 19v2m0 69v1m0 2v1M180.5 7v4m0 13v3m0 53v1m0 12v1m0 27v3m0 12v3m0 10v2m0 19v2M181.5 39v1m0 26v2m0 25v2m0 68v3M182.5 23v1m0 33v3m0 1v1m0 16v2m0 27v2m0 31v2m0 2v1M183.5 7v2m0 27v2m0 16v2m0 1v1m0 43v2m0 24v2m0 18v3M184.5 7v2m0 42v3m0 19v3m0 23v1m0 1v1m0 20v1m0 18v2m0 22v3M185.5 22v3m0 20v1m0 1v1m0 21v1m0 1v1m0 15v2m0 20v4m0 29v4m0 14v2M186.5 23v1m0 21v3m0 22v3m0 14v3m0 30v2m0 17v3m0 13v1M187.5 7v4m0 23v2m0 18v3m0 19v2m0 47v1m0 39v3M188.5 27v3m0 13v3m0 25v2m0 55v2m0 1v2m0 21v2m0 14v1m0 1v1M189.5 7v3m0 10v4m0 20v3m0 46v2m0 26v2m0 17v2m0 2v1m0 22v1m0 1v1M190.5 13v3m0 13v2m0 10v2m0 20v1m0 1v1m0 1v1m0 24v2m0 18v2m0 12v2m0 18v2m0 1v1M191.5 12v1m0 1v1m0 31v1m0 29v2m0 2v1m0 45v2m0 17v3M192.5 27v2m0 33v3m0 19v4m0 16v2m0 17v2m0 32v3M193.5 6v2m0 26v3m0 19v2m0 28v2m0 1v1m0 15v1m0 1v1m0 40v3m0 16v2M194.5 15v2m0 17v3m0 16v2m0 32v2m0 39v1m0 1v1m0 18v3M195.5 8v2m0 20v2m0 16v2m0 15v2M196.5 21v2m0 17v3m0 40v4m0 27v3m0 38v3M197.5 90v1m0 21v3m0 24v3m0 27v2M198.5 12v3m0 14v1m0 22v2m0 1v1m0 32v2m0 35v4m0 15v1m0 18v3M199.5 17v2m0 37v1m0 1v1m0 61v2m0 31v2"/>
<path stroke="#3d65fa" d="M0.5 8v2m0 32v3m0 19v2m0 32v1m0 61v2M1.5 6v2m0 33v2m0 28v2m0 69v2M2.5 13v1m0 31v1m0 2v1m0 36v3m0 37v1m0 45v3M3.5 5v2m0 31v1m0 33v1m0 36v1m0 1v2m0 27v1m0 25v2m0 1v1M4.5 12v1m0 37v1m0 26v2m0 21v2m0 1v1m0 26v2m0 1v2M5.5 5v1m0 70v1m0 38v2m0 50v3M6.5 31v2m0 32v1m0 23v2m0 40v1m0 29v4M7.5 7v3m0 51v4m0 55v3m0 27v3M8.5 13v3m0 33v2m0 1v1m0 34v3m0 22v1m0 22v3m0 26v2M9.5 11v3m0 20v3m0 25v3m0 20v2m0 1v1m0 19v3m0 16v1m0 19v3M10.5 7v1m0 1v1m0 29v1m0 1v1m0 2v1m0 51v3M11.5 40v2m0 27v1m0 1v1m0 28v1m0 27v3m0 27v3M12.5 12v2m0 23v3m0 29v2m0 28v1m0 1v2m0 68v1m0 1v1M13.5 50v2m0 52v3M14.5 51v1m0 60v1M15.5 5v3m0 33v3m0 24v2m0 25v3m0 46v1m0 22v1M16.5 12v1m0 1v1m0 53v2m0 34v2m0 33v1m0 27v3M17.5 28v1m0 1v1m0 17v2m0 1v1m0 104v1M18.5 47v1m0 28v2m0 26v2M19.5 24v2m0 31v1m0 31v3m0 31v2m0 28v1m0 1v2M20.5 7v1m0 44v3m0 24v2m0 31v1m0 31v1m0 26v2M21.5 37v3m0 41v3m0 29v1m0 39v3M22.5 7v1m0 67v2m0 23v2m0 1v1m0 46v3M23.5 49v1m0 35v1m0 1v1m0 19v1m0 3v1m0 36v2M24.5 46v2m0 1v1m0 61v1M25.5 6v1m0 23v2m0 21v2m0 31v1m0 1v1m0 34v5m0 45v1M26.5 4v2m0 47v1m0 24v2m0 50v2m0 23v1m0 1v2M27.5 8v2m0 25v1m0 17v2m0 57v1m0 47v1M28.5 6v1m0 32v1m0 33v2m0 1v1m0 26v3m0 32v2M29.5 29v3m0 66v3m0 32v2m0 34v3M30.5 21v1m0 36v1m0 28v1m0 1v1m0 34v2m0 26v1M31.5 60v3m0 22v1m0 38v3m0 32v2m0 1v1M32.5 6v3m0 50v4m0 27v1m0 25v3m0 23v1m0 23v2M33.5 17v1m0 33v1m0 1v1m0 43v3m0 44v2M34.5 15v3m0 32v1m0 32v1m0 1v1m0 54v2M35.5 63v2m0 72v1m0 2v1m0 27v4M36.5 14v2m0 58v1m0 52v1M37.5 13v2m0 66v3m0 32v2m0 30v1M38.5 6v1m0 1v1m0 43v1m0 67v1m0 2v1M39.5 6v2m0 84v1m0 29v3m0 31v1M40.5 33v2m0 29v2m0 51v1m0 1v1m0 41v1M41.5 5v1m0 1v1m0 26v2m0 44v1m0 26v1m0 37v1M42.5 20v4m0 21v1m0 1v1m0 56v2m0 1v1m0 53v2M43.5 11v3m0 2v1m0 30v2m0 39v1m0 54v3M44.5 4v1m0 1v1m0 26v2m0 1v1m0 21v3m0 32v4m0 21v1m0 1v1m0 35v1m0 1v1M45.5 38v2m0 1v1m0 67v2m0 1v1m0 54v3M46.5 6v1m0 1v1m0 36v2m0 76v1m0 34v2M47.5 13v3m0 46v3m0 43v3m0 26v3M48.5 25v3m0 95v2m0 1v1M49.5 15v1m0 40v2m0 33v1m0 43v1m0 28v1M50.5 5v2m0 34v2m0 89v1M51.5 18v2m0 68v3m0 17v2m0 1v1m0 46v2M52.5 53v4m0 95v2M53.5 9v2m0 1v1m0 58v2m0 39v2m0 29v2m0 23v2m0 1v1M54.5 5v1m0 1v2m0 46v1m0 3v1m0 16v1m0 32v3m0 60v1M55.5 45v2m0 25v2m0 29v1m0 54v1m0 1v1M56.5 5v2m0 33v1m0 1v1m0 43v1m0 48v1m0 30v1M57.5 90v1m0 60v2M58.5 37v2m0 22v1m0 1v1m0 49v1m0 45v2m0 1v1M59.5 26v3m0 36v2m0 39v4M60.5 17v4m0 25v1m0 22v3m0 1v1m0 24v1m0 2v2m0 1v1m0 17v5m0 12v1m0 2v1m0 13v3M61.5 38v4m0 1v1m0 15v4m0 23v1m0 1v1m0 19v2m0 19v1m0 1v2m0 1v1m0 17v1m0 1v2M62.5 24v4m0 23v1m0 2v1m0 30v1m0 1v2m0 1v1m0 30v1m0 3v1m0 20v2m0 24v1M63.5 32v1m0 3v1m0 16v2m0 1v1m0 14v3m0 1v1m0 29v1m0 1v3m0 18v4M64.5 9v1m0 1v1m0 27v2m0 29v1m0 1v2m0 11v1m0 2v1m0 2v2m0 15v2m0 23v1m0 2v1m0 20v3m0 1v1M65.5 16v1m0 1v1m0 70v2m0 2v1m0 17v1m0 1v5m0 17v2m0 3v1M66.5 7v2m0 1v2m0 2v1m0 51v4m0 32v2m0 17v1m0 2v1m0 1v1m0 14v4M67.5 33v3m0 21v4m0 24v2m0 23v3m0 57v2M68.5 13v3m0 17v2m0 10v1m0 3v1m0 12v1m0 1v2m0 21v1m0 1v2m0 39v2m0 20v1m0 2v4m0 2v1M69.5 8v5m0 22v4m0 25v4m0 14v1m0 1v1m0 16v2m0 1v2m0 14v1m0 1v1m0 14v1m0 1v2m0 2v1m0 12v4M70.5 8v1m0 1v2m0 1v1m0 1v1m0 15v2m0 15v1m0 26v3m0 31v1m0 2v3m0 3v1m0 13v2m0 1v1m0 1v2m0 16v2m0 1v2M71.5 42v1m0 1v1m0 1v1m0 16v3m0 35v6m0 2v1m0 35v1m0 1v1m0 20v1m0 2v1m0 1v1M72.5 8v1m0 1v1m0 1v2m0 18v1m0 1v1m0 2v1m0 30v3m0 1v1m0 3v1m0 23v2m0 1v1m0 32v1m0 2v2m0 26v2M73.5 23v3m0 16v1m0 1v1m0 15v2m0 2v1m0 38v3m0 2v1m0 13v2m0 1v1m0 32v1m0 1v3m0 2v1M74.5 26v4m0 1v1m0 15v1m0 1v2m0 41v3m0 1v1m0 22v2m0 23v2m0 2v1m0 23v2M75.5 50v2m0 21v5m0 13v2m0 1v1m0 19v2m0 21v1m0 1v4m0 16v1m0 1v3m0 2v1M76.5 18v4m0 13v2m0 1v2m0 27v3m0 1v1m0 13v1m0 1v2m0 15v1m0 2v1m0 1v1m0 1v1m0 18v2m0 1v1m0 26v1m0 1v2M77.5 9v2m0 2v1m0 51v3m0 29v5m0 4v1m0 23v1m0 26v4m0 12v1M78.5 37v1m0 1v4m0 1v1m0 26v2m0 1v1m0 13v4m0 13v3m0 20v3m0 13v1m0 2v1m0 1v1m0 14v4M79.5 18v1m0 33v2m0 2v2m0 12v1m0 1v1m0 1v1m0 11v1m0 1v4m0 12v1m0 1v3m0 18v1m0 1v5m0 27v4M80.5 54v1m0 3v1m0 12v2m0 1v1m0 22v4m0 12v3m0 18v1m0 4v2m0 13v3M81.5 16v1m0 2v1m0 19v1m0 22v2m0 1v1m0 28v1m0 1v3m0 21v1m0 1v1m0 1v1m0 17v1m0 1v3M82.5 36v1m0 1v1m0 25v1m0 49v1m0 2v2m0 18v2m0 24v2M83.5 33v2m0 20v3m0 88v5M84.5 10v3m0 22v2m0 25v3m0 2v1m0 15v2m0 20v5m0 26v1m0 1v1m0 1v1m0 1v3m0 16v2m0 1v1M85.5 38v1m0 2v1m0 1v1m0 14v3m0 1v1m0 37v1m0 1v3m0 15v1m0 1v2m0 1v1m0 21v1m0 2v3M86.5 20v1m0 1v1m0 15v3m0 42v1m0 2v2m0 1v1m0 1v2m0 19v3m0 34v1m0 1v1m0 1v2m0 11v3m0 2v1M87.5 22v3m0 1v1m0 18v1m0 10v2m0 1v2m0 37v3m0 53v4m0 2v1M88.5 8v2m0 1v1m0 16v3m0 17v4m0 14v1m0 2v1m0 23v2m0 32v4m0 26v1m0 1v1m0 2v3M89.5 12v2m0 1v1m0 13v2m0 14v1m0 19v1m0 56v4m0 14v1m0 2v1m0 3v1m0 23v3M90.5 8v3m0 15v1m0 1v3m0 12v3m0 17v1m0 1v4m0 14v5m0 25v4m0 1v1m0 22v1m0 1v3m0 1v1M91.5 8v1m0 1v2m0 3v1m0 19v2m0 43v2m0 1v1m0 56v1m0 1v2m0 20v1m0 1v2M92.5 7v1m0 3v4m0 22v2m0 25v5m0 24v3m0 1v1m0 23v4m0 34v2m0 1v2M93.5 39v4m0 2v2m0 35v3m0 38v2m0 1v1m0 2v1m0 24v1m0 4v1M94.5 9v3m0 30v1m0 1v1m0 35v2m0 41v1m0 2v4m0 17v1m0 2v3M95.5 10v1m0 1v1m0 46v1m0 3v3m0 47v1m0 1v5M96.5 18v1m0 1v1m0 16v2m0 33v3m0 3v1m0 12v3m0 1v2m0 13v1m0 3v3m0 14v2m0 17v2m0 13v3M97.5 17v2m0 1v1m0 11v2m0 1v1m0 1v1m0 16v2m0 2v1m0 22v4m0 20v2m0 1v1m0 23v1m0 2v3m0 19v2m0 1v1M98.5 84v5m0 41v2m0 25v4M99.5 21v2m0 1v2m0 13v1m0 13v3m0 11v1m0 17v1m0 11v3m0 3v1m0 25v1m0 1v3m0 2v1m0 17v2m0 1v1M100.5 31v3m0 31v3m0 11v1m0 1v4m0 19v3m0 27v1m0 2v2m0 2v1m0 12v4M101.5 9v5m0 18v1m0 3v2m0 1v1m0 18v1m0 1v1m0 18v2m0 1v1m0 42v2m0 36v1m0 2v2m0 1v1M102.5 30v2m0 41v1m0 1v1m0 1v3m0 29v1m0 6v1m0 22v2m0 1v1m0 4v1m0 12v1m0 1v1m0 1v2M103.5 68v1m0 1v1m0 1v1m0 23v1m0 1v3m0 22v1m0 1v2m0 1v1m0 21v5M104.5 8v3m0 1v1m0 19v5m0 20v1m0 1v1m0 3v1m0 12v5m0 22v1m0 1v2m0 18v3m0 34v4M105.5 35v2m0 2v1m0 23v2m0 1v2m0 26v1m0 1v4m0 11v1m0 2v1m0 17v1m0 2v1m0 21v2M106.5 57v3m0 1v1m0 25v1m0 1v1m0 2v1m0 13v1m0 1v5m0 16v2m0 2v1m0 16v3m0 1v2m0 2v1M107.5 15v2m0 22v1m0 47v4m0 17v2m0 1v1m0 43v2m0 1v4M108.5 23v4m0 21v4m0 15v2m0 10v1m0 3v1m0 3v1m0 18v1m0 11v1m0 1v2M109.5 10v1m0 1v1m0 38v2m0 12v3m0 49v1m0 2v1m0 1v1m0 22v4m0 13v4M110.5 22v1m0 14v3m0 60v3m0 13v3m0 20v3m0 21v1m0 1v2m0 2v1M111.5 16v1m0 1v4m0 30v3m0 1v1m0 33v4m0 1v1m0 32v2m0 1v2m0 2v1m0 17v5M112.5 22v1m0 1v2m0 4v1m0 102v1m0 1v1m0 26v1m0 2v1m0 1v2M113.5 50v1m0 2v2m0 37v2m0 1v1m0 1v1m0 24v2m0 37v1m0 1v1M114.5 9v5m0 39v1m0 22v1m0 18v1m0 35v3m0 1v1M115.5 9v2m0 20v1m0 3v1m0 20v5m0 36v2m0 1v4m0 17v5m0 17v5m0 11v3m0 1v1m0 2v1M116.5 20v1m0 2v3m0 13v3m0 15v2m0 1v1m0 25v1m0 1v2m0 35v2m0 2v1m0 14v1m0 1v1m0 1v1m0 15v4M117.5 35v1m0 1v2m0 1v1m0 38v1m0 2v2m0 16v3m0 4v1m0 9v1m0 2v3m0 3v1m0 15v1m0 2v1m0 1v2m0 19v1m0 1v1m0 1v1M118.5 12v3m0 42v3m0 16v4m0 11v4m0 71v1m0 1v2M119.5 21v3m0 1v1m0 46v2m0 13v2m0 14v3m0 26v3m0 1v1m0 17v3m0 12v1m0 1v3M120.5 7v1m0 3v1m0 12v1m0 1v1m0 25v5m0 33v3m0 15v1m0 3v1m0 2v1m0 12v1m0 24v1m0 12v2m0 2v1M121.5 19v1m0 2v3m0 32v3m0 1v1m0 20v3m0 1v2m0 15v1m0 62v1m0 1v1M122.5 7v1m0 3v4m0 21v1m0 1v1m0 1v1m0 1v1m0 22v2m0 62v2m0 2v1m0 28v3M123.5 8v3m0 2v1m0 23v1m0 2v2m0 17v3m0 46v1m0 1v2m0 1v1m0 40v4M124.5 38v5m0 36v2m0 1v3m0 2v1m0 19v2m0 1v1m0 15v2m0 1v1m0 23v3M125.5 32v5m0 15v2m0 2v1m0 25v2m0 1v2m0 21v1m0 1v4m0 14v4m0 22v1m0 1v1M126.5 41v3m0 31v1m0 2v2m0 1v1m0 2v1m0 33v1m0 1v1m0 35v4M127.5 15v1m0 30v1m0 1v3m0 12v2m0 11v1m0 1v3m0 2v1m0 11v5m0 25v2m0 15v4m0 16v1m0 1v1M128.5 9v2m0 1v1m0 17v3m0 5v1m0 30v6m0 22v2m0 1v2m0 11v1m0 1v5m0 13v1m0 1v5M129.5 8v1m0 12v2m0 1v1m0 31v1m0 1v2m0 3v1m0 23v2m0 37v4m0 20v4M130.5 11v3m0 13v1m0 1v2m0 13v1m0 4v1m0 21v3m0 14v1m0 21v1m0 14v4m0 14v2m0 1v1m0 25v2M131.5 37v1m0 44v2m0 2v1m0 14v1m0 1v3m0 1v1m0 17v1m0 2v1m0 18v5m0 19v1m0 1v1M132.5 16v1m0 2v3m0 19v2m0 1v1m0 38v4m0 14v2m0 1v1m0 56v5m0 1v1M133.5 35v1m0 1v1m0 39v1m0 1v2m0 26v2m0 24v1m0 1v1m0 1v1M134.5 12v2m0 1v1m0 33v3m0 44v1m0 1v2m0 3v1m0 27v3m0 1v1m0 1v1m0 18v4M135.5 20v1m0 1v2m0 37v2m0 1v1m0 42v3m0 26v4M136.5 12v2m0 2v1m0 16v3m0 22v2m0 1v2m0 25v2m0 2v2m0 17v1m0 2v1m0 18v1m0 3v1m0 11v1m0 3v1m0 1v1M137.5 9v2m0 1v1m0 22v4m0 2v1m0 27v3m0 49v4M138.5 31v1m0 15v4m0 10v1m0 1v1m0 1v2m0 18v4m0 22v1m0 1v2m0 19v2m0 15v4m0 1v1m0 11v2M139.5 8v3m0 15v1m0 8v1m0 1v1m0 1v2m0 11v1m0 1v3m0 33v1m0 1v2m0 63v2m0 1v1M140.5 10v1m0 12v2m0 1v1m0 11v1m0 1v1m0 1v2m0 11v2m0 1v1m0 1v2m0 40v1m0 1v2m0 24v3M141.5 9v1m0 39v2m0 1v1m0 1v1m0 1v1m0 19v1m0 18v1m0 1v1m0 53v2m0 2v1M142.5 9v3m0 1v2m0 15v4m0 2v2m0 50v3m0 1v1m0 1v1m0 15v4m0 26v3m0 4v1M143.5 67v3m0 4v1m0 14v4m0 30v4m0 22v3m0 1v1m0 1v1M144.5 11v1m0 21v1m0 1v1m0 62v1m0 1v3m0 35v2m0 1v1m0 27v3M145.5 14v1m0 14v4m0 12v6m0 32v2m0 1v1m0 14v5m0 19v2m0 1v1M146.5 8v4m0 53v5m0 13v1m0 1v1m0 14v3m0 1v1m0 29v1m0 1v4m0 5v1M147.5 22v1m0 3v3m0 31v4m0 15v1m0 2v2m0 2v1m0 11v3m0 2v1m0 25v4m0 25v3m0 1v1M148.5 15v2m0 16v2m0 22v3m0 17v3m0 1v1m0 14v2m0 18v4m0 11v6m0 36v1M149.5 10v2m0 1v1m0 26v1m0 3v1m0 1v1m0 14v5m0 12v3m0 13v3m0 35v1m0 1v1m0 21v4m0 1v1M150.5 23v3m0 33v1m0 11v1m0 1v3m0 16v1m0 1v3m0 10v1m0 2v3m0 13v2m0 1v1m0 31v1m0 1v3m0 1v1M151.5 35v1m0 1v1m0 27v5m0 20v1m0 1v3m0 42v5m0 16v1m0 1v2m0 1v1m0 1v1M152.5 12v3m0 39v1m0 1v3m0 26v3m0 34v3m0 16v4m0 16v3m0 2v1M153.5 61v3m0 2v1m0 16v2m0 2v1m0 19v4m0 16v1m0 45v1M154.5 34v1m0 1v1m0 2v1m0 26v1m0 16v2m0 1v3m0 42v1m0 1v1m0 1v1m0 16v3m0 2v1M155.5 28v1m0 11v4m0 47v3m0 50v3m0 2v2M156.5 9v2m0 2v1m0 14v1m0 4v1m0 22v6m0 16v2m0 1v1m0 14v1m0 1v1m0 1v1m0 17v1m0 24v4m0 1v1M157.5 8v4m0 15v4m0 13v2m0 11v3m0 19v2m0 2v1m0 14v1m0 1v2m0 13v2m0 1v1m0 21v1m0 1v1m0 1v1M158.5 8v3m0 27v4m0 22v1m0 1v2m0 39v1m0 1v2m0 13v2m0 18v3m0 1v1M159.5 23v2m0 1v1m0 27v1m0 1v3m0 48v2m0 1v1m0 13v1m0 1v1m0 30v3M160.5 5v1m0 15v1m0 40v1m0 2v2m0 1v1m0 14v4m0 34v2m0 1v2m0 15v1m0 2v4m0 22v3M161.5 20v3m0 21v6m0 38v3m0 20v4m0 1v2m0 23v1m0 2v1m0 1v1m0 24v3M162.5 16v1m0 2v3m0 23v2m0 20v1m0 2v1m0 22v1m0 1v1m0 29v2m0 2v3m0 14v1m0 25v1M163.5 15v1m0 4v1m0 15v2m0 1v1m0 3v1m0 14v4m0 1v1m0 25v3m0 17v2m0 18v3M164.5 10v1m0 1v1m0 14v5m0 30v1m0 1v5m0 15v3m0 75v4m0 1v1M165.5 29v1m0 2v3m0 37v3m0 11v1m0 3v4m0 37v4m0 34v5M166.5 8v4m0 66v2m0 22v1m0 1v3m0 45v1m0 1v2M167.5 8v2m0 1v1m0 20v2m0 1v2m0 28v1m0 1v2m0 15v2m0 2v1m0 12v1m0 1v5m0 21v1m0 18v5m0 12v4M168.5 28v2m0 1v2m0 37v1m0 1v2m0 12v2m0 17v2m0 1v1m0 22v1m0 1v1m0 16v2m0 2v1m0 10v1m0 1v4M169.5 48v3m0 21v1m0 1v2m0 17v1m0 1v2m0 27v1m0 3v3m0 31v4M170.5 11v4m0 12v2m0 1v3m0 1v1m0 28v2m0 14v1m0 2v4m0 1v1m0 19v1m0 1v2m0 21v2m0 1v3m0 28v4M171.5 35v2m0 3v1m0 34v3m0 16v1m0 2v5m0 37v1m0 1v1m0 24v1m0 1v3m0 1v1M172.5 17v1m0 2v1m0 27v1m0 2v1m0 22v1m0 3v4m0 21v1m0 19v1m0 1v1m0 2v1m0 44v1M173.5 14v1m0 24v1m0 2v2m0 24v1m0 1v1m0 46v1m0 1v1M174.5 13v2m0 1v2m0 32v2m0 2v1m0 24v2m0 1v1m0 25v3m0 3v1m0 25v1m0 1v1M175.5 30v1m0 2v2m0 1v1m0 21v2m0 21v1m0 1v1m0 12v1m0 1v4m0 21v3m0 2v1m0 27v1m0 1v1m0 2v1M176.5 10v3m0 1v1m0 14v2m0 12v2m0 1v2m0 46v3m0 1v1m0 17v3m0 14v3m0 1v1M177.5 22v1m0 1v3m0 1v1m0 17v5m0 21v1m0 25v1m0 2v1m0 1v1m0 14v2m0 18v3m0 26v1M178.5 7v3m0 25v1m0 1v1m0 37v2m0 36v1m0 1v1m0 13v1m0 1v2m0 12v2m0 1v1m0 21v2M179.5 34v1m0 14v2m0 13v3m0 12v4m0 17v4m0 66v2m0 1v1M180.5 11v2m0 14v3m0 51v1m0 10v1m0 1v3m0 27v2m0 13v1m0 11v4m0 17v2M181.5 38v1m0 1v2m0 26v4m0 23v3m0 1v1m0 66v2m0 1v1M182.5 24v2m0 1v1m0 3v1m0 28v1m0 3v1m0 12v1m0 2v1m0 1v3m0 2v1m0 21v1m0 1v2m0 29v2m0 2v1M183.5 9v2m0 1v2m0 1v2m0 18v1m0 2v3m0 15v1m0 46v1m0 25v2m0 3v2m0 14v3m0 1v2M184.5 9v5m0 40v2m0 20v3m0 21v1m0 1v3m0 1v1m0 16v3m0 1v1m0 15v3m0 22v1M185.5 25v3m0 18v1m0 1v2m0 20v1m0 1v3m0 1v1m0 12v5m0 19v2m0 31v1m0 15v3M186.5 22v1m0 1v5m0 19v2m0 1v1m0 21v4m0 13v1m0 1v3m0 27v2m0 18v3m0 11v4m0 1v2M187.5 11v1m0 21v1m0 2v2m0 19v2m0 19v2m0 1v1m0 44v5m0 37v2m0 1v1M188.5 30v2m0 14v1m0 1v1m0 24v2m0 1v1m0 53v1m0 22v1m0 2v2m0 2v1m0 10v1m0 1v1M189.5 10v2m0 14v1m0 1v1m0 18v4m0 41v1m0 2v2m0 26v4m0 15v2m0 2v1m0 21v1m0 1v3M190.5 16v2m0 25v5m0 16v1m0 1v1m0 27v2m0 1v2m0 15v3m0 11v3m0 17v1m0 1v3M191.5 13v1m0 1v1m0 1v2m0 28v3m0 1v1m0 26v2m0 1v2m0 16v6m0 1v1m0 2v1m0 15v1m0 2v3m0 17v2m0 1v1m0 1v1M192.5 29v4m0 5v1m0 26v3m0 20v1m0 1v2m0 14v3m0 1v1m0 1v1m0 12v4m0 31v4m0 1v1M193.5 8v4m0 1v1m0 23v4m0 17v2m0 1v1m0 26v1m0 1v1m0 1v1m0 13v1m0 1v2m0 41v1m0 2v1m0 14v3M194.5 17v3m0 17v1m0 2v2m0 13v4m0 30v3m0 35v1m0 1v1m0 1v3m0 18v2M195.5 10v3m0 19v5m0 13v4m0 13v5m0 100v2M196.5 20v1m0 2v2m0 18v4m0 40v2m0 28v4m0 11v4m0 22v1m0 1v2M197.5 91v2m0 2v1m0 19v4m0 23v5m0 24v2M198.5 11v1m0 3v3m0 12v5m0 19v1m0 2v3m0 30v3m0 36v1m0 13v1m0 1v4m0 17v3M199.5 19v2m0 36v1m0 1v2m0 25v6m0 2v1m0 27v3m0 30v4"/>
<path stroke="#2686f5" d="M0.5 6v1m0 3v5m0 30v7m0 10v1m0 3v6m0 1v1m0 23v1m0 1v6m0 57v7M1.5 8v6m0 29v4m0 26v7m0 64v6M2.5 14v8m0 24v2m0 1v1m0 1v1m0 36v6m0 29v1m0 2v5M3.5 7v8m0 22v1m0 1v7m0 25v1m0 1v8m0 32v4m0 1v1m0 20v1m0 1v5m0 1v1m0 20v1m0 1v2m0 1v1M4.5 13v4m0 1v3m0 28v1m0 1v3m0 1v3m0 21v7m0 16v1m0 1v5m0 26v6m0 27v6M5.5 6v7m0 64v8m0 32v5m0 2v1m0 45v4M6.5 30v1m0 2v5m0 1v1m0 21v1m0 1v2m0 1v5m0 20v7m0 32v1m0 1v8m0 25v3m0 1v2M7.5 10v2m0 1v3m0 49v2m0 1v2m0 53v4m0 1v1m0 24v6M8.5 16v7m0 28v1m0 1v4m0 1v1m0 31v6m0 17v9m0 16v4m0 2v1m0 21v8M9.5 14v4m0 1v1m0 17v7m0 21v6m0 16v1m0 1v5m0 17v6m0 11v8m0 14v6M10.5 6v1m0 1v1m0 1v5m0 23v1m0 1v1m0 1v2m0 1v3m0 46v1m0 4v7M11.5 42v6m0 22v1m0 1v6m0 23v5m0 1v1m0 23v6m0 24v5m0 1v1M12.5 14v7m0 15v1m0 3v6m0 25v8m0 21v1m0 2v3m0 1v1M13.5 52v7m0 48v5M14.5 53v8m0 17v8m0 25v1m0 1v8M15.5 8v6m0 30v4m0 1v2m0 16v1m0 2v6m0 22v5m0 1v1m0 34v5m0 1v3m0 20v6M16.5 11v1m0 1v1m0 1v6m0 49v7m0 29v8m0 28v6m0 2v1m0 19v4M17.5 29v1m0 1v5m0 1v1m0 12v1m0 1v6m0 18v4m0 2v2m0 73v7M18.5 48v7m0 23v5m0 1v1m0 21v6m0 43v9M19.5 26v6m0 26v8m0 26v3m0 2v2m0 26v8m0 24v6M20.5 8v8m0 35v1m0 3v2m0 1v3m0 20v7m0 23v1m0 1v7m0 22v2m0 1v6m0 22v1M21.5 36v1m0 3v4m0 1v1m0 38v5m0 1v1m0 23v7m0 35v6M22.5 5v1m0 2v5m0 1v1m0 18v1m0 1v5m0 1v2m0 34v8m0 17v1m0 1v2m0 1v2m0 44v6M23.5 47v1m0 2v7m0 29v1m0 1v6m0 15v2m0 1v5m0 33v7M24.5 48v1m0 1v6m0 57v8m0 26v8M25.5 8v6m0 18v5m0 1v1m0 13v1m0 2v4m0 1v1m0 24v1m0 1v1m0 1v3m0 1v1m0 34v3m0 1v1M26.5 6v6m0 1v1m0 41v5m0 1v1m0 18v5m0 47v6m0 18v1m0 2v4M27.5 7v1m0 2v7m0 16v2m0 1v6m0 10v1m0 2v7m0 48v2m0 1v4m0 1v1m0 42v8M28.5 7v7m0 1v1m0 21v1m0 2v7m0 28v1m0 1v6m0 23v7m0 24v1m0 2v7M29.5 32v6m0 63v7m0 27v7m0 26v1m0 3v2M30.5 23v8m0 28v6m0 1v1m0 21v1m0 1v5m0 31v6m0 19v1m0 1v4m0 1v1M31.5 63v7m0 16v7m0 34v6m0 28v1m0 1v6M32.5 9v7m0 19v8m0 20v4m0 24v8m0 15v1m0 4v5m0 17v1m0 1v7m0 18v6M33.5 15v1m0 2v7m0 29v7m0 39v5m0 41v7M34.5 18v5m0 25v1m0 2v7m0 24v1m0 1v1m0 1v5m0 51v5m0 1v1M35.5 65v8m0 56v1m0 8v2m0 1v6m0 25v2M36.5 16v7m0 49v2m0 1v6m0 19v5m0 1v1m0 1v1m0 19v8m0 17v9M37.5 15v5m0 28v1m0 2v7m0 26v7m0 27v7m0 21v2m0 1v4M38.5 5v1m0 3v6m0 35v1m0 2v5m0 1v1m0 24v9m0 28v2m0 1v4m0 1v1m0 30v1m0 1v6M39.5 8v7m0 76v1m0 1v4m0 1v2m0 25v7m0 23v1m0 1v3m0 1v3M40.5 35v7m0 24v5m0 47v1m0 1v7m0 32v2m0 1v6M41.5 8v6m0 18v1m0 3v3m0 1v1m0 41v7m0 16v1m0 2v9m0 29v4M42.5 24v4m0 1v1m0 16v1m0 1v3m0 1v2m0 52v1m0 1v5m0 50v6M43.5 10v1m0 3v2m0 1v3m0 29v6m0 34v7m0 50v2m0 1v4M44.5 5v1m0 1v5m0 1v1m0 21v1m0 1v5m0 19v7m0 29v6m0 14v1m0 1v1m0 1v6m0 30v1m0 1v6M45.5 37v1m0 2v1m0 1v5m0 15v7m0 1v1m0 40v1m0 1v6m0 51v4M46.5 7v1m0 1v6m0 32v6m0 71v7m0 29v7M47.5 12v1m0 3v6m0 43v4m0 1v1m0 40v7m0 22v7M48.5 28v7m0 38v8m0 44v1m0 1v4M49.5 16v8m0 34v6m0 1v1m0 26v5m0 1v1m0 38v8m0 20v8M50.5 7v6m0 1v1m0 28v6m0 81v1m0 2v7M51.5 20v8m0 63v6m0 13v1m0 1v2m0 2v1m0 19v8m0 16v6M52.5 24v2m0 1v4m0 21v1m0 4v4m0 49v7m0 1v1m0 32v1m0 2v7M53.5 11v1m0 1v6m0 54v8m0 29v2m0 2v6m0 25v7m0 18v1m0 1v2M54.5 4v1m0 1v1m0 2v1m0 1v3m0 42v3m0 1v4m0 13v8m0 27v1m0 1v1m0 1v1m0 26v7m0 1v1m0 21v1M55.5 47v6m0 1v1m0 19v8m0 22v7m0 48v1m0 1v4M56.5 7v7m0 29v7m0 35v1m0 1v6m0 41v1m0 1v5m0 1v1m0 21v2m0 1v4m0 1v1M57.5 91v8m0 50v1m0 3v7M58.5 39v6m0 1v1m0 15v1m0 1v7m0 43v7m0 42v8M59.5 29v7m0 31v6m0 1v1m0 35v3m0 1v2M60.5 21v10m0 16v11m0 16v9m0 20v1m0 1v5m0 17v2m0 30v11M61.5 42v1m0 1v2m0 9v1m0 7v6m0 1v1m0 11v1m0 4v1m0 1v7m0 14v8m0 17v6m0 15v8m0 1v1M62.5 28v10m0 18v11m0 22v1m0 1v7m0 1v1m0 18v1m0 3v1m0 1v1m0 1v6m0 16v9m0 16v1M63.5 35v1m0 1v4m0 14v1m0 1v3m0 14v1m0 1v9m0 18v1m0 6v7m0 15v12M64.5 6v1m0 5v9m0 1v1m0 12v1m0 5v10m0 20v1m0 2v1m0 14v2m0 2v1m0 17v8m0 1v1m0 13v2m0 1v7m0 16v1m0 1v6M65.5 19v11m0 61v2m0 1v6m0 18v5m0 14v3m0 1v9M66.5 12v2m0 1v3m0 1v4m0 47v5m0 1v4m0 24v6m0 9v1m0 3v1m0 1v1m0 1v4m0 14v9m0 1v1M67.5 36v7m0 1v2m0 15v10m0 16v7m0 1v2m0 16v7m0 1v3m0 48v2M68.5 16v3m0 47v8m0 14v1m0 2v8m0 1v1m0 31v8m0 19v2m0 1v7M69.5 13v7m0 10v1m0 8v8m0 21v3m0 14v4m0 17v1m0 14v1m0 1v4m0 15v1m0 1v2m0 14v11M70.5 7v1m0 4v1m0 1v1m0 1v2m0 12v1m0 2v2m0 14v11m0 11v1m0 6v10m0 27v3m0 1v2m0 13v1m0 1v1m0 2v5m0 16v7M71.5 43v1m0 1v1m0 1v3m0 16v10m0 31v2m0 1v3m0 1v3m0 29v1m0 1v8m0 16v1M72.5 11v1m0 2v4m0 15v1m0 1v2m0 1v8m0 25v1m0 1v3m0 1v5m0 20v1m0 1v6m0 2v2m0 27v8m0 1v2m0 17v5M73.5 26v3m0 14v1m0 1v3m0 10v1m0 4v1m0 1v10m0 31v2m0 16v1m0 1v4m0 1v5m0 27v2m0 1v8M74.5 23v1m0 6v1m0 1v4m0 15v8m0 2v2m0 26v1m0 5v1m0 1v8m0 16v7m0 1v2m0 16v1m0 1v7m0 1v1m0 11v1M75.5 47v1m0 4v5m0 1v2m0 18v1m0 9v1m0 4v1m0 1v6m0 15v7m0 1v2m0 17v6m0 9v1m0 5v2m0 1v5M76.5 15v1m0 24v10m0 20v1m0 1v1m0 13v1m0 2v6m0 15v1m0 1v6m0 14v1m0 1v10m0 17v1m0 2v6M77.5 11v2m0 1v6m0 1v2m0 39v1m0 5v9m0 1v1m0 23v4m0 1v1m0 1v1m0 21v10M78.5 43v1m0 1v6m0 1v1m0 20v1m0 1v2m0 15v1m0 15v7m0 16v4m0 13v1m0 1v3m0 8v1m0 6v6M79.5 15v1m0 4v11m0 36v1m0 5v1m0 18v1m0 16v8m0 17v8M80.5 73v1m0 1v8m0 26v1m0 6v8m0 14v1m0 2v2m0 14v11M81.5 17v2m0 1v4m0 10v1m0 5v9m0 15v1m0 1v8m0 1v1m0 23v10m0 14v1m0 1v6m0 16v11M82.5 40v8m0 14v2m0 1v8m0 1v1m0 41v1m0 2v8m0 13v10m0 10v1m0 4v9M83.5 35v8m0 15v11m0 82v9M84.5 13v10m0 14v9m0 1v2m0 10v1m0 5v2m0 1v3m0 14v9m0 16v10m0 21v1m0 3v3m0 10v1m0 4v1m0 1v7M85.5 42v1m0 1v2m0 15v1m0 1v9m0 33v4m0 15v1m0 1v10m0 17v11M86.5 23v3m0 15v11m0 36v1m0 1v1m0 2v5m0 9v1m0 3v1m0 3v7m0 1v1m0 45v2m0 1v2M87.5 25v1m0 1v4m0 9v1m0 13v1m0 3v1m0 2v9m0 31v11m0 46v2m0 1v6M88.5 10v1m0 1v4m0 15v3m0 18v3m0 8v1m0 4v1m0 1v6m0 1v2m0 16v10m0 26v8m0 22v1m0 3v8M89.5 9v1m0 4v1m0 25v1m0 3v1m0 1v7m0 13v9m0 1v3m0 47v3m0 10v1m0 5v2m0 1v8M90.5 11v6m0 29v7m0 8v1m0 7v4m0 15v2m0 27v1m0 1v3m0 1v5m0 18v1m0 1v9M91.5 7v1m0 4v3m0 1v3m0 1v1m0 13v1m0 2v7m0 1v1m0 36v1m0 1v6m0 1v3m0 50v9m0 15v6M92.5 15v5m0 1v2m0 16v8m0 1v2m0 19v8m0 19v1m0 1v9m0 18v5m0 2v3m0 26v1m0 2v9M93.5 12v9m0 2v2m0 18v2m0 2v7m0 27v1m0 3v10m0 30v1m0 1v2m0 1v7m0 20v1m0 2v11M94.5 6v1m0 5v11m0 23v11m0 25v12m0 36v8m0 15v10M95.5 9v1m0 1v1m0 1v10m0 43v10m0 44v9M96.5 17v1m0 1v1m0 1v3m0 15v12m0 19v1m0 4v3m0 16v1m0 2v2m0 18v1m0 15v4m0 15v2m0 14v6M97.5 19v1m0 16v1m0 1v2m0 16v2m0 1v9m0 17v8m0 14v1m0 1v10m0 19v7m0 14v1m0 1v6m0 1v1m0 1v1M98.5 81v1m0 7v9m0 34v11m0 18v8m0 1v1M99.5 26v1m0 42v1m0 1v1m0 28v3m0 1v4m0 1v1m0 24v2m0 1v4m0 15v1m0 1v6M100.5 28v1m0 5v11m0 23v2m0 15v6m0 16v8m0 24v2m0 17v5m0 1v3M101.5 14v9m0 15v1m0 1v5m0 14v1m0 1v6m0 14v1m0 1v9m0 1v1m0 33v11m0 23v1m0 3v1m0 2v1m0 1v4M102.5 32v10m0 1v1m0 36v10m0 22v4m0 1v8m0 16v1m0 1v4m0 16v1m0 2v4m0 1v2M103.5 71v1m0 1v4m0 1v3m0 1v1m0 18v11m0 15v1m0 1v3m0 2v4m0 17v9M104.5 11v1m0 1v8m0 16v8m0 15v3m0 1v1m0 16v10m0 16v7m0 14v10m0 1v1m0 26v8M105.5 37v2m0 1v5m0 1v2m0 20v10m0 22v1m0 14v8m0 14v5m0 10v1m0 3v1m0 2v10M106.5 60v1m0 1v9m0 19v2m0 1v5m0 15v3m0 16v1m0 1v5m0 14v1m0 2v2m0 1v6M107.5 12v1m0 4v8m0 15v6m0 1v3m0 41v5m0 14v1m0 1v9m0 41v1M108.5 27v9m0 16v2m0 30v3m0 1v1m0 1v2m0 23v1m0 3v1m0 2v10M109.5 7v1m0 5v9m0 1v1m0 24v1m0 13v1m0 5v11m0 40v1m0 1v1m0 1v9m0 34v4M110.5 35v1m0 4v11m0 47v1m0 20v6m0 17v8m0 17v2m0 1v4M111.5 22v7m0 1v1m0 18v1m0 5v1m0 1v9m0 28v1m0 1v6m0 1v1m0 29v2m0 1v4m0 18v10M112.5 26v4m0 1v5m0 98v1m0 1v11m0 22v5M113.5 51v2m0 2v6m0 1v1m0 31v1m0 1v1m0 1v6m0 1v2m0 18v8m0 1v2m0 26v1m0 1v10M114.5 14v9m0 31v7m0 13v2m0 1v5m0 14v8m0 1v1m0 2v1m0 25v1m0 1v3m0 1v5M115.5 11v8m0 14v2m0 1v7m0 1v2m0 15v8m0 30v1m0 4v5m0 10v1m0 6v4m0 32v1m0 1v2m0 1v4M116.5 26v3m0 13v4m0 9v1m0 6v6m0 1v2m0 12v1m0 3v1m0 2v6m0 1v1m0 1v1m0 27v2m0 1v1m0 12v1m0 1v1m0 1v1m0 1v2m0 17v6M117.5 39v1m0 1v4m0 1v4m0 34v4m0 15v4m0 16v3m0 1v6m0 13v1m0 2v6m0 16v1m0 1v1M118.5 15v11m0 34v2m0 10v1m0 22v7m0 1v2m0 60v1m0 4v3M119.5 18v1m0 5v1m0 1v6m0 1v2m0 54v1m0 16v6m0 2v2m0 12v1m0 6v1m0 1v4m0 10v1M120.5 12v1m0 14v11m0 19v9m0 27v1m0 15v3m0 1v2m0 1v1m0 12v12m0 13v1m0 8v1m0 4v2m0 1v3M121.5 25v11m0 24v1m0 1v7m0 16v1m0 2v3m0 10v1m0 3v13m0 49v1m0 1v5M122.5 15v7m0 1v1m0 15v1m0 1v1m0 1v8m0 16v5m0 1v6m0 52v2m0 1v9m0 23v8M123.5 11v2m0 1v8m0 20v4m0 16v9m0 1v1m0 39v1m0 1v8m0 1v1m0 34v8M124.5 43v11m0 31v2m0 1v5m0 16v1m0 1v2m0 15v1m0 1v9m0 17v7m0 1v1M125.5 37v3m0 9v1m0 4v2m0 1v9m0 21v6m0 1v3m0 17v1m0 17v9m0 14v1m0 1v10M126.5 44v10m0 26v1m0 1v2m0 1v7m0 29v12m0 27v10M127.5 17v11m0 37v2m0 14v2m0 17v10m0 17v6m0 13v4m0 13v1m0 1v4M128.5 11v1m0 1v6m0 14v5m0 1v5m0 31v6m0 2v1m0 15v1m0 2v1m0 17v4m0 16v6m0 1v2M129.5 23v1m0 1v9m0 23v1m0 2v3m0 1v5m0 1v1m0 18v10m0 31v6m0 18v6m0 2v2M130.5 14v2m0 15v4m0 15v8m0 16v2m0 13v7m0 33v2m0 14v1m0 1v6m0 1v3M131.5 40v12m0 32v2m0 1v3m0 16v1m0 1v5m0 1v1m0 14v8m0 15v6m0 14v1M132.5 22v6m0 17v10m0 32v3m0 13v1m0 1v8m0 53v1m0 1v6M133.5 38v7m0 1v4m0 31v9m0 1v2m0 16v11m0 14v1m0 1v1m0 1v7m0 1v1M134.5 14v1m0 1v8m0 21v1m0 6v3m0 1v4m0 1v1m0 35v1m0 2v3m0 1v5m0 1v1m0 23v1m0 1v1m0 1v6m0 16v10M135.5 21v1m0 2v8m0 1v1m0 29v1m0 1v10m0 35v6m0 1v1m0 1v2m0 19v11M136.5 14v2m0 1v2m0 9v1m0 7v7m0 17v1m0 2v3m0 2v3m0 19v2m0 2v4m0 15v1m0 1v4m0 15v3m0 14v2m0 1v1m0 1v6m0 1v1M137.5 11v1m0 1v9m0 17v2m0 1v6m0 1v1m0 22v11m0 42v11M138.5 32v4m0 9v1m0 21v7m0 15v10m0 16v6m0 15v5m0 14v1m0 15v2M139.5 11v3m0 9v1m0 33v9m0 22v1m0 5v9m0 51v1m0 4v1m0 1v9M140.5 11v2m0 28v1m0 2v2m0 16v10m0 34v9m0 1v1m0 16v11m0 1v1M141.5 10v7m0 1v2m0 1v2m0 30v1m0 1v1m0 1v4m0 13v2m0 1v6m0 8v1m0 4v1m0 1v10m0 45v2m0 1v9M142.5 12v1m0 2v4m0 15v2m0 2v3m0 1v3m0 46v1m0 1v1m0 1v5m0 14v7m0 1v1m0 20v4m0 1v4M143.5 70v4m0 1v2m0 16v11m0 23v5m0 1v3m0 16v1m0 1v1m0 1v7M144.5 12v8m0 16v5m0 1v2m0 1v2m0 56v12m0 25v1m0 1v6m0 2v1m0 21v2M145.5 12v2m0 1v3m0 15v2m0 16v10m0 24v1m0 1v1m0 18v5m0 10v1m0 5v1m0 1v9M146.5 12v9m0 1v1m0 61v1m0 1v3m0 14v1m0 1v7m0 1v1m0 26v5m0 1v3M147.5 29v3m0 1v3m0 1v1m0 26v5m0 15v2m0 15v2m0 1v9m0 13v1m0 6v10m0 18v1m0 1v1M148.5 17v5m0 13v11m0 15v4m0 15v1m0 1v1m0 15v6m0 9v1m0 23v9m0 23v1M149.5 12v1m0 1v3m0 1v3m0 1v1m0 22v1m0 1v4m0 46v8m0 1v2m0 25v1m0 1v10m0 17v7m0 1v1M150.5 22v1m0 3v5m0 1v3m0 23v1m0 17v4m0 17v1m0 30v1m0 1v6m0 3v1m0 26v1m0 1v6M151.5 38v13m0 19v10m0 15v9m0 38v7m0 13v1m0 1v1m0 1v8M152.5 9v1m0 5v11m0 33v8m0 1v1m0 19v12m0 25v3m0 17v3m0 16v2m0 1v3M153.5 64v2m0 1v5m0 14v1m0 1v7m0 9v1m0 6v4m0 9v1m0 1v1m0 1v11m0 31v1M154.5 31v1m0 3v1m0 1v2m0 1v6m0 1v1m0 19v5m0 17v6m0 39v1m0 1v5m0 14v2m0 1v8M155.5 22v1m0 4v1m0 16v10m0 34v1m0 5v11m0 42v2m0 2v8M156.5 11v2m0 1v1m0 14v4m0 1v3m0 2v2m0 21v5m0 13v1m0 1v4m0 13v1m0 1v2m0 16v11m0 17v1m0 1v9M157.5 12v4m0 9v1m0 14v1m0 13v1m0 5v8m0 13v2m0 1v4m0 14v2m0 15v11m0 9v1m0 3v1m0 1v7m0 1v1m0 1v1M158.5 5v1m0 5v8m0 1v2m0 20v6m0 1v3m0 16v10m0 1v1m0 46v6m0 15v1m0 1v10M159.5 25v1m0 1v1m0 24v1m0 6v10m0 42v1m0 10v1m0 4v10m0 23v10M160.5 17v1m0 4v9m0 36v1m0 1v3m0 15v6m0 1v4m0 25v1m0 2v5m0 17v9m0 16v1M161.5 23v9m0 18v3m0 1v5m0 26v1m0 5v1m0 1v7m0 9v1m0 5v1m0 2v5m0 1v1m0 20v1m0 1v10M162.5 22v11m0 14v6m0 15v2m0 1v6m0 1v1m0 18v11m0 19v2m0 16v1m0 1v11m0 15v1M163.5 17v3m0 1v5m0 14v3m0 1v2m0 16v1m0 1v7m0 21v5m0 14v6m0 15v11M164.5 11v1m0 1v4m0 15v9m0 28v3m0 15v10m0 69v1m0 1v6M165.5 35v11m0 24v1m0 4v3m0 16v9m0 32v8m0 1v1M166.5 12v8m0 2v1m0 57v4m0 1v2m0 1v1m0 18v8m0 41v9m0 1v1M167.5 12v8m0 14v1m0 2v7m0 25v3m0 8v1m0 5v2m0 1v3m0 16v7m0 17v5m0 16v2m0 14v2M168.5 30v1m0 2v7m0 1v1m0 26v1m0 2v1m0 16v3m0 16v1m0 1v6m0 1v1m0 17v1m0 14v1m0 2v2m0 1v2m0 14v1M169.5 51v8m0 17v5m0 13v1m0 2v10m0 24v10m0 25v8M170.5 15v2m0 16v1m0 1v1m0 29v6m0 15v1m0 1v4m0 1v1m0 1v1m0 15v9m0 14v1m0 3v4m0 1v4m0 23v4M171.5 37v3m0 1v3m0 1v3m0 23v1m0 2v1m0 3v6m0 18v9m0 32v8m0 1v2m0 17v1m0 1v1M172.5 16v1m0 4v8m0 1v1m0 1v1m0 16v1m0 2v9m0 1v1m0 19v8m0 14v7m0 15v2m0 1v6m0 1v2m0 32v1M173.5 15v12m0 14v1m0 2v9m0 13v1m0 4v12m0 37v12M174.5 18v11m0 24v1m0 1v10m0 16v1m0 1v9m0 19v3m0 1v4m0 1v1m0 20v1m0 1v11M175.5 35v1m0 1v8m0 1v1m0 14v7m0 10v1m0 23v8m0 16v2m0 1v8m0 20v1m0 1v2m0 1v4m0 1v2M176.5 13v1m0 34v9m0 40v1m0 1v5m0 9v1m0 5v1m0 16v1m0 1v5m0 1v2M177.5 27v1m0 1v4m0 18v6m0 1v1m0 14v10m0 17v1m0 1v1m0 1v1m0 15v7m0 8v1m0 5v9m0 1v1m0 17v5M178.5 5v1m0 4v9m0 1v1m0 10v1m0 4v1m0 1v9m0 30v10m0 31v1m0 14v1m0 13v1m0 1v10m0 8v1m0 4v2M179.5 33v1m0 49v4m0 10v1m0 6v9M180.5 13v1m0 16v7m0 2v2m0 38v1m0 17v9m0 1v1m0 18v1m0 21v1m0 6v5m0 9v1M181.5 42v6m0 1v3m0 20v8m0 1v1m0 16v1m0 1v5m0 1v1m0 1v2m0 58v1m0 1v4M182.5 22v1m0 3v1m0 1v3m0 1v7m0 23v2m0 1v2m0 14v1m0 3v2m0 1v6m0 16v1m0 2v11m0 21v1m0 1v9M183.5 11v1m0 2v1m0 2v7m0 17v4m0 13v13m0 33v11m0 16v3m0 2v2m0 15v1m0 2v6m0 1v1M184.5 14v10m0 32v7m0 16v9m0 10v1m0 6v1m0 1v5m0 14v1m0 1v5m0 13v8m0 10v1m0 4v5M185.5 28v8m0 14v9m0 16v1m0 1v1m0 16v6m0 15v5m0 1v1m0 1v3m0 21v3m0 15v9M186.5 29v6m0 15v1m0 1v8m0 17v1m0 13v1m0 3v9m0 20v5m0 16v1m0 14v1m0 2v5m0 2v1M187.5 12v12m0 14v7m0 14v6m0 15v1m0 1v11m0 31v1m0 6v10m0 23v1m0 5v1m0 1v2M188.5 42v1m0 4v1m0 1v6m0 1v3m0 16v1m0 1v8m0 1v2m0 39v1m0 5v6m0 1v3m0 15v2m0 1v1M189.5 24v2m0 1v1m0 1v4m0 18v7m0 1v2m0 36v5m0 1v4m0 1v1m0 18v2m0 16v1m0 1v6m0 1v2m0 17v1M190.5 18v1m0 9v1m0 19v5m0 15v12m0 11v1m0 4v1m0 2v2m0 1v1m0 28v6m0 16v7m0 1v1M191.5 16v1m0 2v10m0 16v1m0 4v1m0 1v9m0 22v6m0 16v1m0 1v2m0 1v5m0 16v5m0 14v1m0 1v1m0 1v6m0 1v1M192.5 33v5m0 1v1m0 1v1m0 26v5m0 16v1m0 2v2m0 15v1m0 1v1m0 17v9m0 1v1m0 24v1m0 1v3M193.5 12v1m0 1v9m0 10v1m0 7v5m0 9v1m0 4v1m0 1v5m0 1v4m0 19v1m0 1v1m0 16v12m0 30v2m0 1v3m0 14v2M194.5 20v4m0 14v2m0 2v2m0 15v10m0 17v1m0 5v10m0 32v6m0 8v1m0 5v9m0 1v1M195.5 7v1m0 5v8m0 16v1m0 9v1m0 6v2m0 16v9M196.5 25v6m0 16v10m0 32v9m0 1v1m0 21v1m0 14v9m0 14v1m0 2v4m0 1v4M197.5 93v2m0 1v6m0 17v4m0 1v4m0 19v9m0 12v1m0 4v1M198.5 18v2m0 15v8m0 13v1m0 3v9m0 24v10m0 27v3m0 16v4m0 16v1M199.5 16v1m0 4v10m0 1v1m0 22v1m0 5v5m0 1v5m0 13v1m0 6v2m0 1v5m0 25v7m0 1v2m0 1v1m0 22v9"/>
<path stroke="#18cde4" d="M0.5 15v1m0 18v1m0 20v1m0 16v1m0 13v1M1.5 14v2m0 31v3m0 12v1m0 7v1m0 9v1m0 51v1m0 17v1M2.5 1v1m0 33v2m0 13v1m0 1v1m0 23v1m0 38v1m0 15v2m0 28v1M3.5 4v1m0 23v1m0 34v1m0 53v1m0 13v1m0 14v1m0 10v1m0 7v1m0 6v1M4.5 3v1m0 13v1m0 23v1m0 12v1m0 13v1m0 23v1m0 16v1M5.5 13v1m0 108v2M6.5 1v1m0 20v1m0 15v1m0 14v1m0 27v1m0 16v1m0 22v1m0 31v1m0 6v1m0 7v1M7.5 12v1m0 39v1m0 14v1m0 42v1m0 16v1m0 12v1m0 7v1M8.5 1v1m0 2v1m0 52v1m0 20v1m0 17v1m0 6v1m0 24v1m0 13v2M9.5 1v2m0 15v1m0 7v1m0 28v1m0 15v1m0 4v1m0 17v1m0 4v1m0 7v1m0 9v2m0 18v1M10.5 15v1m0 70v1m0 84v1M11.5 48v1m0 29v1m0 27v1m0 13v1m0 16v1m0 11v1m0 16v1M12.5 1v1m0 26v1m0 32v1m0 29v1m0 14v1m0 55v1M13.5 1v1m0 91v1m0 18v1m0 56v1M14.5 68v1m0 17v1m0 78v1M15.5 14v1m0 17v1m0 15v1m0 9v1m0 17v1m0 26v1m0 26v1M16.5 77v1m0 17v1m0 36v1m0 15v2m0 9v1M17.5 36v1m0 29v1m0 13v2m0 64v1m0 17v1M18.5 39v1m0 15v1m0 27v1m0 28v1m0 32v1m0 7v1m0 15v1M19.5 49v1m0 30v1m0 14v2m0 16v1m0 30v1M20.5 42v1m0 14v1m0 11v1m0 32v1m0 6v1m0 23v1m0 29v1M21.5 44v1m0 27v1m0 16v1m0 14v1m0 39v1m0 17v1M22.5 13v1m0 12v1m0 13v1m0 50v1m0 14v1m0 2v1m0 49v1M23.5 40v1m0 35v1m0 64v1M24.5 1v1m0 101v1m0 34v1M25.5 14v2m0 4v1m0 16v1m0 7v1m0 13v1m0 1v1m0 15v1m0 14v1m0 22v1m0 15v1m0 33v1m0 6v1M26.5 12v1m0 47v1m0 24v2m0 35v1m0 40v1M27.5 23v1m0 77v1m0 15v1m0 52v1M28.5 14v1m0 50v1m0 28v1m0 35v1M29.5 20v1m0 7v1m0 61v1m0 33v1m0 7v1m0 9v1M30.5 13v1m0 6v1m0 29v1m0 14v1m0 1v1m0 8v1m0 18v1m0 19v1m0 6v1m0 18v1m0 15v1M31.5 52v1m0 6v1m0 16v1m0 16v1m0 21v1m0 17v1m0 17v1M32.5 51v1m0 15v2m0 37v1m0 24v1M33.5 42v1m0 46v1m0 15v2m0 30v1m0 15v1M34.5 6v1m0 16v1m0 108v1m0 14v1m0 19v1M35.5 159v1M36.5 1v1m0 5v1m0 55v1m0 41v1m0 1v1m0 9v1m0 26v1M37.5 4v1m0 7v1m0 7v1m0 20v1m0 31v1m0 32v1m0 46v1M38.5 43v1m0 14v1m0 15v1m0 36v1m0 6v1m0 9v1m0 23v1m0 15v1M39.5 82v1m0 14v1m0 15v1m0 31v1m0 14v1M40.5 1v1m0 22v1m0 31v1m0 14v2m0 34v1m0 43v1M41.5 14v1m0 24v1m0 1v1m0 30v1m0 6v1m0 9v1m0 7v1m0 52v3M42.5 1v1m0 10v1m0 15v1m0 22v1m0 61v1m0 55v2M43.5 1v1m0 37v1m0 6v1m0 8v2m0 23v1m0 15v1m0 38v1m0 12v1M44.5 12v1m0 11v1m0 17v1m0 8v1m0 58v1m0 36v1m0 22v1M45.5 29v1m0 23v1m0 15v1m0 30v1M46.5 53v1m0 61v1m0 15v1m0 18v1M47.5 1v1m0 3v1m0 63v1m0 30v1m0 27v1m0 37v1M48.5 18v1m0 44v1m0 49v1m0 17v2m0 35v1M49.5 1v1m0 4v1m0 6v1m0 32v1m0 17v1m0 32v1m0 29v1m0 27v1M50.5 13v1m0 18v1m0 16v1M51.5 11v1m0 66v1m0 21v1m0 13v2m0 35v1m0 14v1M52.5 14v1m0 6v1m0 4v1m0 4v1m0 29v1m0 38v1m0 16v1m0 24v1m0 22v1M53.5 0v2m0 156v1M54.5 10v1m0 56v1m0 17v1m0 14v1m0 12v1m0 1v1m0 1v1m0 15v1m0 8v1m0 7v1m0 12v1M55.5 1v1m0 51v1m0 9v1m0 28v1m0 55v1m0 16v2M56.5 14v1m0 18v1m0 41v1m0 17v1m0 30v1m0 16v1m0 13v1m0 15v1M57.5 80v1m0 59v1m0 19v1m0 10v1M58.5 1v1m0 43v1m0 6v1m0 51v1M59.5 1v1m0 16v1m0 54v1m0 24v1m0 14v1M60.5 5v1m0 52v1m0 8v1m0 15v1m0 5v1m0 20v1m0 18v1M61.5 25v1m0 20v1m0 22v1m0 1v2m0 23v1m0 21v1m0 22v1m0 22v1m0 1v2M62.5 11v1m0 26v1m0 2v1m0 25v1m0 6v1m0 23v1m0 33v1m0 24v2M63.5 1v1m0 39v1m0 18v1m0 24v1m0 9v1M64.5 21v1m0 4v1m0 24v1m0 5v1m0 8v1m0 8v1m0 18v1m0 24v1m0 1v1m0 7v1m0 14v1m0 23v1M65.5 30v1m0 45v1m0 46v1m0 42v1M66.5 18v1m0 34v1m0 21v1m0 4v1m0 7v1m0 21v1m0 43v1M67.5 21v1m0 21v1m0 50v1m0 2v1m0 22v1m0 35v1M68.5 19v1m0 9v1m0 20v1m0 23v2m0 8v1m0 14v1m0 40v4m0 25v1M69.5 20v1m0 30v1m0 37v1m0 37v1m0 44v1M70.5 18v1m0 24v1m0 17v1m0 38v1m0 20v1m0 45v1M71.5 29v1m0 20v1m0 38v1m0 23v1m0 19v1m0 22v2M72.5 18v1m0 36v1m0 31v1m0 22v2m0 12v1m0 24v1m0 13v1M73.5 1v1m0 8v1m0 18v1m0 18v1m0 41v1m0 18v1m0 20v1m0 5v1M74.5 14v1m0 21v1m0 22v2m0 18v1m0 25v1m0 22v1m0 2v1m0 24v1m0 1v1M75.5 1v1m0 35v1m0 19v1m0 2v1m0 18v1m0 21v1m0 21v1m0 2v2m0 21v1m0 22v1M76.5 1v1m0 4v1m0 15v1m0 31v1m0 18v1m0 21v1m0 51v1M77.5 20v1m0 32v1m0 23v1m0 8v1m0 21v1m0 1v2m0 6v1m0 22v2m0 2v1m0 8v1M78.5 25v1m0 25v1m0 5v1m0 19v1m0 15v1m0 21v1m0 19v1M79.5 31v1m0 26v1m0 16v1m0 8v1m0 32v1m0 24v1m0 7v1M80.5 44v1m0 14v1m0 23v2m0 39v1M81.5 1v1m0 1v1m0 20v1m0 24v1m0 24v1m0 9v1m0 24v1m0 21v1M82.5 1v1m0 23v1m0 22v2m0 23v1m0 53v1m0 22v1M83.5 1v1m0 41v1m0 90v1m0 25v1m0 9v1M84.5 46v1m0 4v1m0 19v1m0 54v1m0 21v1m0 23v2M85.5 46v1m0 43v1m0 78v1M86.5 1v1m0 6v1m0 17v1m0 71v2m0 22v1m0 16v1m0 15v1M87.5 1v1m0 8v1m0 20v1m0 38v1m0 14v1m0 26v1m0 30v1M88.5 16v1m0 17v1m0 20v1m0 20v1m0 2v2m0 24v2m0 8v1m0 23v2m0 32v1M89.5 16v1m0 8v1m0 5v1m0 21v1m0 21v1m0 53v1m0 29v1M90.5 31v1m0 21v1m0 36v1m0 11v1m0 19v1m0 34v1M91.5 19v1m0 1v1m0 22v1m0 1v1m0 22v1m0 20v1m0 3v1m0 34v1m0 23v1M92.5 20v1m0 2v1m0 9v1m0 13v1m0 5v1m0 23v2m0 2v1m0 25v2m0 21v2m0 15v1M93.5 21v2m0 4v1m0 26v1m0 89v1M94.5 31v1m0 25v1m0 36v1m0 17v1M95.5 49v1m0 53v1m0 25v1M96.5 5v1m0 18v1m0 9v1m0 26v1m0 17v1m0 19v2m0 17v1m0 18v1m0 16v1M97.5 4v1m0 35v1m0 29v1m0 51v1m0 22v1m0 21v1m0 1v1M98.5 72v1m0 45v1m0 8v1m0 15v1m0 25v1M99.5 1v1m0 7v1m0 17v1m0 28v1m0 15v1m0 13v1m0 21v1m0 1v2m0 7v1M100.5 1v1m0 16v1m0 35v1m0 15v1m0 44v3m0 6v1m0 38v1m0 3v1M101.5 23v1m0 21v1m0 21v1m0 24v1m0 45v1m0 13v1M102.5 42v1m0 20v1m0 35v1m0 25v1m0 44v1M103.5 77v1m0 3v1m0 2v1m0 47v2M104.5 21v1m0 43v1m0 48v1m0 23v1M105.5 1v1m0 19v1m0 23v1m0 2v1m0 52v1M106.5 1v1m0 44v1m0 24v2m0 2v1m0 40v1m0 22v1m0 8v1m0 16v1M107.5 2v1m0 22v1m0 20v1m0 3v1m0 24v1m0 45v1m0 41v1M108.5 1v1m0 8v1m0 25v1m0 17v1m0 14v1m0 19v1m0 2v1m0 14v1M109.5 22v1m0 16v1m0 13v1m0 52v1m0 27v1m0 14v1m0 9v1m0 10v1M110.5 25v1m0 25v1m0 26v1m0 10v1m0 13v1m0 8v1m0 12v1m0 24v2m0 1v1M111.5 1v1m0 27v1m0 10v1m0 37v1m0 23v1m0 1v1m0 11v1m0 23v2M112.5 10v1m0 25v1m0 116v1M113.5 1v1m0 59v1m0 1v1m0 17v1m0 22v1m0 4v1m0 23v1M114.5 23v1m0 16v1m0 29v1m0 11v1m0 21v1m0 1v2m0 31v1m0 32v1M115.5 43v1m0 2v1m0 8v1m0 13v2m0 38v1m0 20v1m0 40v2M116.5 10v1m0 57v1m0 2v1m0 2v1m0 21v1m0 1v1m0 13v1m0 18v1m0 19v1M117.5 24v1m0 20v1m0 25v1m0 36v1m0 24v1m0 21v1M118.5 44v1m0 35v1m0 21v1m0 2v1m0 67v1M119.5 9v1m0 22v1m0 24v1m0 9v1m0 6v1m0 15v1m0 21v2m0 4v1m0 22v2m0 14v1M120.5 13v1m0 7v1m0 18v1m0 25v1m0 10v1m0 16v1m0 22v1m0 23v1m0 13v1M121.5 1v1m0 8v1m0 33v1m0 24v1m0 21v1M122.5 22v1m0 28v3m0 18v1m0 43v1m0 34v1M123.5 24v1m0 21v1m0 24v1m0 26v1m0 23v1m0 1v1m0 16v1m0 24v1M124.5 1v1m0 91v1m0 9v1m0 9v1m0 25v1m0 23v1m0 1v1M125.5 1v1m0 78v1m0 12v1m0 4v1m0 16v2m0 24v1m0 8v1m0 20v1M126.5 27v1m0 26v1m0 10v1m0 40v1m0 36v1m0 26v1M127.5 3v1m0 24v1m0 6v1m0 15v1m0 15v1m0 16v1m0 25v1m0 2v1m0 19v1m0 35v1M128.5 19v1m0 24v1m0 36v2m0 1v2m0 17v1m0 20v1m0 21v1m0 2v1m0 13v1M129.5 9v1m0 24v1m0 9v1m0 24v1m0 2v1m0 26v1m0 36v3m0 21v2M130.5 1v1m0 33v1m0 40v1m0 19v1m0 14v1m0 41v1m0 4v1M131.5 1v1m0 23v1m0 26v1m0 15v1m0 21v1m0 22v1m0 1v1m0 7v1m0 13v1m0 20v2M132.5 1v1m0 5v1m0 20v1m0 26v1m0 13v1m0 28v1m0 14v2m0 35v1M133.5 23v1m0 21v1m0 21v1m0 22v1m0 4v1m0 25v1m0 23v1M134.5 24v2m0 10v1m0 18v1m0 4v1m0 24v1m0 23v1m0 34v1M135.5 1v1m0 4v1m0 25v1m0 14v1m0 47v1m0 20v1m0 1v1M136.5 1v1m0 17v1m0 23v3m0 20v2m0 7v1m0 22v1m0 9v1m0 10v1m0 18v1m0 23v1m0 1v1M137.5 24v1m0 23v1m0 8v1m0 52v1M138.5 1v1m0 16v1m0 17v1m0 93v1m0 10v1m0 7v1M139.5 14v1m0 12v1m0 38v1m0 12v1m0 23v2m0 39v1m0 25v1M140.5 13v1m0 13v1m0 18v1m0 32v1m0 11v1m0 23v1m0 2v1m0 25v1M141.5 17v1m0 2v1m0 17v1m0 22v1m0 77v1M142.5 19v1m0 21v1m0 35v1m0 22v1m0 20v1m0 1v2m0 1v1m0 9v1m0 15v1m0 15v1M143.5 1v1m0 55v1m0 19v1m0 54v1m0 34v1M144.5 20v1m0 9v1m0 10v1m0 2v1m0 45v1m0 34v1m0 22v2M145.5 18v1m0 7v1m0 43v1m0 17v1m0 22v1m0 53v1M146.5 21v1m0 48v1m0 41v1m0 12v1m0 23v2M147.5 1v1m0 10v1m0 19v1m0 3v1m0 1v1m0 48v1m0 28v1m0 47v1m0 8v1M148.5 1v1m0 20v1m0 23v1m0 18v1m0 17v1m0 36v1m0 8v1m0 29v1M149.5 17v1m0 3v1m0 29v1m0 7v1m0 21v1m0 23v1m0 39v1m0 23v1M150.5 1v1m0 6v1m0 22v1m0 14v1m0 7v1m0 5v1m0 19v1m0 17v1m0 37v3m0 11v1M151.5 24v1m0 27v1m0 51v1m0 20v1m0 9v1m0 13v1M152.5 67v1m0 1v1m0 3v1m0 33v1m0 20v1m0 19v1m0 21v1M153.5 1v1m0 47v1m0 22v1m0 87v1M154.5 21v1m0 24v1m0 5v1m0 19v1m0 22v4m0 20v1m0 21v1m0 24v1M155.5 12v1m0 65v1m0 55v1m0 34v1M156.5 15v1m0 21v2m0 7v1m0 20v1m0 18v1m0 16v1m0 26v2M157.5 16v1m0 14v1m0 36v1m0 19v1m0 41v1m0 21v1m0 1v1M158.5 19v1m0 5v1m0 22v1m0 4v1m0 24v1m0 14v1m0 17v1m0 8v1M159.5 10v1m0 17v1m0 13v1m0 53v1m0 15v1m0 24v2m0 4v1m0 9v1m0 16v1m0 1v1M160.5 8v1m0 22v3m0 19v1m0 39v1m0 15v1m0 21v2m0 24v2M161.5 1v1m0 5v1m0 45v1m0 23v1m0 45v1m0 1v1m0 31v1m0 1v1M162.5 1v1m0 5v1m0 25v1m0 19v1m0 23v1m0 1v1m0 32v1m0 19v1m0 25v1M163.5 2v1m0 23v1m0 19v1m0 8v1m0 15v1m0 3v1m0 21v1m0 19v1M164.5 17v1m0 23v2m0 10v1m0 43v1m0 51v1M165.5 19v1m0 58v1m0 39v1m0 24v1m0 12v1M166.5 20v2m0 50v1m0 11v1m0 2v1m0 3v1m0 23v2m0 48v1m0 7v1M167.5 20v1m0 23v2m0 9v1m0 36v1m0 22v2m0 20v1m0 17v1m0 15v1M168.5 1v1m0 14v2m0 22v1m0 1v1m0 15v1m0 32v1m0 23v1m0 1v1m0 17v1m0 36v1M169.5 59v1m0 55v1m0 32v1M170.5 17v1m0 31v1m0 21v1m0 20v1m0 1v1m0 2v1m0 22v1m0 21v1M171.5 21v1m0 22v1m0 16v1m0 22v1m0 42v1m0 23v1m0 4v1M172.5 8v1m0 20v1m0 1v1m0 5v1m0 23v1m0 3v1m0 24v1m0 20v1m0 23v1m0 25v1M173.5 27v1m0 25v1M174.5 1v2m0 35v1m0 26v2m0 8v1m0 20v1m0 22v1m0 1v1m0 5v1m0 33v1M175.5 21v1m0 23v1m0 22v1m0 15v1m0 8v1m0 43v1m0 4v1m0 23v1M176.5 15v1m0 15v1m0 8v1m0 63v1m0 15v1m0 22v1m0 2v1M177.5 1v1m0 9v1m0 21v1m0 23v1m0 25v1m0 21v1m0 21v1m0 22v1m0 3v1m0 9v1M178.5 19v1m0 1v1m0 25v1m0 14v1m0 8v1m0 15v1m0 16v1m0 14v1m0 14v1m0 24v1M179.5 20v1m0 14v1m0 31v1m0 19v2m0 24v1m0 45v1M180.5 14v1m0 22v2m0 43v1m0 23v1m0 1v1m0 2v1m0 48v1M181.5 1v1m0 26v1m0 19v1m0 3v2m0 3v1m0 22v1m0 1v1m0 22v1m0 1v1m0 45v1M182.5 46v1m0 109v1M183.5 26v1m0 18v1m0 44v1m0 24v2m0 21v1m0 23v1m0 9v1M184.5 41v1m0 91v1M185.5 13v1m0 22v1m0 41v1m0 21v1m0 19v1m0 1v1m0 10v1M186.5 11v1m0 48v1m0 17v1m0 31v1m0 18v1m0 24v1m0 13v2M187.5 24v1m0 20v1m0 19v1m0 50v1m0 38v1M188.5 1v1m0 16v1m0 7v1m0 5v1m0 22v1m0 5v1m0 23v1m0 32v1m0 20v1m0 3v1M189.5 33v1m0 24v1m0 23v1m0 19v1m0 4v1m0 31v1m0 13v1m0 2v1M190.5 3v1m0 15v1m0 11v1m0 69v1m0 15v1m0 19v1m0 22v1m0 1v1m0 7v1M191.5 1v2m0 58v1m0 4v1m0 22v1m0 25v1m0 20v1m0 23v1M192.5 17v1m0 22v1m0 1v2m0 29v1m0 29v1m0 9v1m0 24v1m0 30v1M193.5 23v1m0 22v1m0 20v1m0 7v1m0 18v1m0 63v1M194.5 1v1m0 4v1m0 69v1m0 25v1m0 14v1m0 22v1m0 22v1M195.5 21v1m0 34v1m0 105v1M196.5 31v1m0 66v1m0 67v1m0 4v1M197.5 81v1m0 41v1M198.5 20v1m0 7v1m0 14v1m0 33v1m0 25v2m0 10v1m0 37v1m0 16v1M199.5 1v1m0 4v1m0 24v1m0 13v1m0 20v1m0 9v1m0 23v2m0 9v1m0 20v1m0 2v1m0 6v1m0 9v1m0 15v1"/>
<path stroke="#3dead5" d="M0.5 35v1m0 5v1m0 45v1m0 63v1M1.5 32v1m0 30v1M2.5 4v1m0 72v1m0 84v1m0 7v1M3.5 35v1m0 28v1m0 36v1m0 56v1M4.5 0v2m0 67v1m0 53v1m0 34v1M5.5 67v1m0 6v1m0 32v1m0 49v1M6.5 82v1M7.5 53v1m0 87v1M8.5 0v1m0 4v1m0 35v1m0 44v1m0 24v1m0 44v1M9.5 9v1m0 67v1m0 22v1m0 37v1M10.5 30v1M11.5 1v1m0 28v1m0 29v1m0 28v1m0 37v1m0 29v1M12.5 2v1m0 7v1m0 51v1M13.5 41v1M14.5 1v1m0 40v1m0 60v1M15.5 87v1m0 6v1m0 43v1m0 20v1M16.5 1v1m0 1v1m0 56v1m0 99v1M17.5 1v1m0 17v1m0 21v1m0 25v1M18.5 1v1m0 65v1m0 28v1m0 6v1m0 42v1M19.5 1v1m0 14v1m0 39v1M20.5 43v1M21.5 1v1m0 26v1m0 44v1m0 71v1M22.5 67v1m0 6v1m0 68v1m0 5v1M23.5 1v1m0 98v1M24.5 0v1m0 36v1m0 130v1M25.5 5v1m0 110v1M26.5 44v1m0 25v1m0 76v1M27.5 31v1m0 13v1m0 106v1M28.5 30v1m0 71v1M29.5 1v1m0 159v1M30.5 1v1m0 12v1m0 155v1M31.5 1v1M32.5 24v1m0 55v1m0 7v1m0 49v1m0 18v1M33.5 1v1m0 5v1m0 88v1m0 69v1M34.5 1v1m0 38v1m0 34v1m0 92v1M35.5 1v1m0 53v1m0 74v1m0 29v1M36.5 0v1m0 63v1m0 27v1m0 32v1M37.5 1v1m0 72v1m0 62v1M38.5 75v1M39.5 153v1M40.5 108v1m0 6v1M41.5 25v1m0 110v1M42.5 19v1m0 18v1m0 57v1m0 54v1M43.5 0v1m0 1v1m0 84v1M44.5 84v1m0 63v1m0 22v1M45.5 1v1m0 99v1m0 57v1M46.5 38v1M47.5 53v1m0 113v1M48.5 1v1m0 62v1m0 49v1m0 6v1m0 47v1M49.5 47v1m0 35v1m0 44v1m0 5v1m0 21v1M50.5 123v1M51.5 1v1m0 77v1m0 21v1m0 24v1M52.5 0v2m0 43v1m0 55v1m0 6v1m0 34v1m0 22v1M53.5 63v1m0 38v1m0 32v1m0 23v1M54.5 46v1m0 87v1M55.5 36v1m0 27v1m0 28v1M56.5 83v1m0 41v1m0 30v1M57.5 1v1M58.5 29v1m0 6v1m0 16v1m0 97v1M59.5 56v1m0 42v1M60.5 1v1m0 4v1m0 26v1m0 8v1m0 47v1m0 52v1M61.5 1v1m0 45v1m0 56v1m0 14v1m0 22v1M62.5 1v1m0 10v1m0 29v1m0 67v1m0 22v1m0 25v1M63.5 22v2m0 18v1m0 7v1m0 66v1m0 42v2M64.5 76v1m0 18v1m0 8v1M65.5 1v1m0 2v1m0 8v1m0 63v1m0 22v1M66.5 5v1m0 48v1m0 34v1m0 41v1M67.5 1v1m0 44v1m0 7v1m0 18v1m0 83v1M68.5 1v1m0 8v1m0 9v1m0 14v1m0 15v1m0 64v1m0 9v1m0 17v1M69.5 71v1m0 18v1m0 16v1m0 38v1M70.5 35v1m0 26v1m0 59v1m0 7v1m0 13v1m0 8v1M71.5 1v1m0 28v1m0 8v1m0 11v1m0 7v1m0 39v1m0 34v1m0 23v1M72.5 19v1m0 44v1m0 69v1m0 20v1M73.5 148v1M74.5 1v1m0 104v1m0 34v1m0 18v1M75.5 61v1m0 40v1m0 8v1m0 38v1m0 22v1M76.5 7v1m0 56v1m0 31v1m0 21v1m0 51v1M77.5 126v1m0 34v1M78.5 1v1m0 24v1m0 89v1m0 7v1m0 18v1m0 9v1M79.5 1v1m0 5v1m0 35v1m0 15v1m0 33v1m0 71v1M80.5 85v1m0 15v1m0 41v1M81.5 167v1M82.5 50v1m0 51v1m0 8v1m0 16v1M83.5 21v1m0 113v1M84.5 23v1m0 70v1m0 32v1M85.5 1v1m0 28v1m0 16v1m0 61v1m0 8v1m0 19v1M86.5 0v1m0 26v1m0 47v1m0 88v1M87.5 0v1m0 18v1m0 12v1m0 13v1m0 39v1m0 65v1m0 14v1M88.5 17v1m0 17v1m0 45v1m0 7v1m0 57v1M89.5 1v1m0 60v1m0 47v1m0 58v1M90.5 17v1m0 22v1m0 32v1m0 25v1m0 32v1M91.5 154v1m0 7v1M92.5 148v1M93.5 8v1m0 19v1m0 39v1m0 8v1m0 34v1m0 32v1m0 25v1M94.5 40v1m0 28v1m0 7v1m0 35v1m0 7v1m0 16v1m0 29v1M95.5 104v1m0 7v1m0 54v1M96.5 1v1m0 78v1M97.5 1v1m0 3v1m0 15v2m0 7v1m0 10v1m0 51v1m0 8v1m0 43v1M98.5 1v1m0 117v1m0 24v1m0 27v1M99.5 10v1m0 29v1m0 8v1m0 37v1m0 53v1m0 22v1M100.5 7v1m0 8v1m0 2v1m0 71v1m0 50v1m0 8v1M101.5 112v1m0 8v1M102.5 17v1m0 46v1m0 61v1m0 8v1m0 12v2m0 23v1M103.5 56v1m0 28v1m0 27v1m0 25v1m0 7v1M104.5 6v1m0 38v1m0 9v1m0 36v1m0 57v1m0 8v1M105.5 0v1m0 52v1m0 31v1m0 37v2m0 17v1M106.5 47v1m0 50v1m0 41v1m0 31v1M107.5 1v1m0 1v1m0 92v1m0 49v1M108.5 37v1m0 17v1m0 37v1M109.5 54v1m0 88v1m0 6v1M110.5 1v1m0 12v1m0 75v1m0 35v1M111.5 6v1m0 34v1m0 37v1m0 37v1M112.5 0v2m0 9v1m0 109v1M113.5 37v1m0 72v1m0 36v1m0 9v1M114.5 41v1m0 19v1m0 57v1m0 7v1M115.5 6v1m0 12v1m0 65v1m0 7v1m0 46v1m0 7v1M116.5 1v1m0 27v1m0 16v1m0 66v1m0 18v1M117.5 1v1m0 30v1m0 55v1m0 20v1m0 24v1m0 21v1M118.5 0v1m0 7v1m0 36v1m0 16v1m0 92v1M119.5 1v1m0 8v1m0 64v1m0 15v1m0 51v1M121.5 0v1m0 52v1m0 16v1m0 8v1m0 12v1m0 58v1m0 9v1M122.5 26v1m0 27v1m0 62v1m0 42v1M123.5 25v1m0 116v1M124.5 27v1m0 43v1m0 68v1m0 8v1M125.5 19v1m0 20v1m0 31v1m0 33v1m0 35v1m0 29v1M126.5 1v1m0 26v1m0 115v1m0 8v1M127.5 0v2m0 34v1m0 22v1m0 8v1m0 16v1m0 7v1m0 20v1m0 26v1m0 8v1m0 19v1M128.5 20v1m0 38v1m0 44v1M129.5 10v1m0 34v1m0 7v1m0 59v1M130.5 0v1m0 1v1m0 13v1m0 41v1m0 38v1m0 14v1m0 8v1m0 9v1M132.5 0v1m0 37v1m0 51v1m0 67v1M133.5 1v1m0 73v1m0 46v1M134.5 37v1m0 83v1M135.5 7v1m0 49v1m0 67v1m0 7v1M136.5 2v1m0 17v1m0 144v1M137.5 5v1m0 105v1m0 7v1M138.5 28v1m0 22v1m0 22v1m0 25v1m0 20v1m0 35v1m0 15v1M139.5 6v1m0 34v1m0 25v1m0 103v1M140.5 6v1m0 21v1m0 18v1m0 32v1m0 11v1m0 35v1M141.5 39v1m0 43v1m0 56v1M142.5 101v1m0 67v1M143.5 109v1m0 27v1m0 7v1M144.5 21v1m0 104v1m0 30v1m0 7v1M145.5 6v1m0 28v1m0 53v1m0 76v1M146.5 5v1m0 48v1m0 34v1m0 7v1M147.5 47v1m0 21v1m0 7v1m0 68v1M148.5 104v1m0 16v1M149.5 32v1m0 33v1m0 7v1m0 7v1m0 36v1m0 26v1M150.5 9v1m0 37v1m0 13v1m0 8v1m0 18v1m0 23v1m0 8v1M151.5 1v1m0 23v1m0 27v1m0 8v1m0 17v1m0 69v1M152.5 44v1m0 7v1m0 29v1m0 25v1m0 20v1m0 19v1M153.5 50v1m0 44v1m0 19v1M154.5 1v1m0 51v1m0 19v1m0 68v1m0 6v1M155.5 1v1m0 27v1m0 7v1M156.5 47v1m0 27v1m0 28v1m0 64v1M157.5 32v1m0 13v1m0 22v1m0 26v1m0 7v1m0 26v1M158.5 26v1m0 27v1m0 77v1M159.5 0v2m0 9v1m0 8v1m0 22v1m0 69v1M160.5 72v1m0 60v1M161.5 0v1m0 7v1m0 23v1m0 67v1m0 31v1M162.5 0v1m0 7v1m0 45v1m0 27v1m0 57v1M163.5 1v1m0 74v1m0 28v1m0 19v1M164.5 18v1m0 53v1m0 7v1m0 69v1m0 8v1M165.5 1v1m0 18v1m0 41v1m0 65v1m0 37v1M166.5 63v1m0 28v1m0 47v1M167.5 6v1m0 21v1m0 43v1m0 90v1M168.5 25v1m0 48v1m0 82v1m0 15v1M169.5 1v1m0 36v1m0 21v1m0 20v1M170.5 36v1m0 61v1m0 22v1m0 7v1m0 25v1M171.5 0v2m0 60v1m0 22v1M172.5 1v1m0 43v1m0 45v1m0 20v1M173.5 57v1m0 47v1M175.5 1v1m0 20v1m0 24v1m0 7v1m0 57v1M176.5 16v1m0 15v1m0 50v1m0 37v1M177.5 12v1m0 21v1m0 8v1m0 15v1m0 8v1m0 15v1m0 29v1m0 40v1M178.5 127v1M179.5 1v1m0 49v1m0 24v1m0 12v1m0 70v1m0 7v1M180.5 69v1m0 57v1m0 7v1m0 4v1M181.5 58v1m0 24v1m0 70v1M182.5 1v1m0 12v1m0 32v1m0 19v1m0 30v1m0 32v1m0 40v1M183.5 46v1M184.5 63v1m0 24v1m0 23v1m0 8v1m0 32v1M185.5 1v1m0 57v1m0 19v1m0 21v1m0 48v1M186.5 0v2m0 10v1m0 22v1m0 25v1m0 57v1m0 26v1M187.5 6v1m0 59v1m0 8v1M188.5 33v1m0 28v1m0 99v1M189.5 12v1m0 98v1m0 17v1m0 36v1M190.5 1v1m0 30v1m0 20v1m0 29v1m0 19v1m0 14v1m0 6v1M191.5 3v1m0 7v1m0 23v1m0 80v1m0 20v1M192.5 1v1m0 24v1m0 26v1m0 20v1m0 19v1m0 54v1m0 20v1M193.5 76v1m0 18v1m0 8v1m0 34v1m0 19v1M194.5 0v1m0 6v1m0 16v1m0 19v1M195.5 38v1m0 132v1M196.5 1v1m0 10v1m0 26v1m0 35v1m0 28v1m0 17v1m0 22v1m0 8v1M197.5 1v1m0 80v1m0 19v1m0 26v1m0 8v1m0 21v1M198.5 1v2m0 75v1m0 8v1m0 45v1M199.5 46v1m0 72v1"/>
<path stroke="#63fbc3" d="M1.5 40v1m0 99v1M2.5 0v1m0 10v1m0 104v1M3.5 70v1m0 31v1M4.5 4v1m0 88v1m0 72v1M5.5 68v1m0 96v1M6.5 0v1m0 53v1m0 33v1m0 33v1m0 31v1M8.5 47v1M9.5 0v1m0 2v1M10.5 172v1M11.5 38v1m0 82v1M12.5 0v1m0 169v1M13.5 170v1M14.5 0v1m0 49v1m0 53v1m0 61v1M15.5 4v1m0 28v1m0 25v1m0 106v1M16.5 0v1m0 66v1m0 28v1M17.5 0v1m0 19v1M18.5 0v1m0 39v1m0 5v1M19.5 0v1m0 49v1m0 30v1m0 6v1m0 25v1m0 30v1M20.5 70v1m0 32v1m0 30v1m0 29v1m0 5v1M21.5 80v1m0 24v1M22.5 27v1M24.5 139v1M25.5 21v1m0 24v1M26.5 123v1M27.5 0v1M28.5 95v1M29.5 0v1m0 20v1m0 69v1m0 5v1M30.5 57v1m0 58v1m0 25v1M31.5 0v1m0 115v1m0 35v1m0 5v1M32.5 52v1m0 54v1m0 50v1M33.5 43v1m0 46v1M35.5 0v1M36.5 118v1m0 26v1M37.5 0v1m0 41v1m0 64v1M38.5 82v1M39.5 83v1m0 30v1m0 31v1M40.5 25v1m0 37v1m0 88v1M41.5 73v1m0 24v1M42.5 0v1m0 12v1m0 138v1M43.5 40v1m0 40v1m0 54v1M44.5 31v1m0 122v1M45.5 0v1m0 53v1m0 5v1m0 47v1m0 57v1M46.5 121v1m0 29v1M47.5 0v1m0 5v1m0 94v1m0 27v1M48.5 0v1m0 69v1M49.5 7v1m0 155v1M50.5 33v1M51.5 0v1m0 106v1M53.5 2v1m0 67v1M54.5 47v1M56.5 76v1M57.5 141v1M58.5 0v1m0 59v1m0 50v1m0 40v1M59.5 0v1m0 18v1m0 5v1M60.5 0v1m0 151v1M61.5 0v1m0 25v1m0 8v1m0 37v1m0 76v1M63.5 61v1m0 34v1m0 73v1M64.5 122v1m0 22v1m0 23v1M65.5 0v1m0 84v1m0 38v1M66.5 111v1M67.5 0v1m0 97v1M68.5 0v1m0 59v1m0 56v1m0 52v1M69.5 21v1m0 30v1m0 75v1m0 26v1M70.5 19v1m0 81v1m0 66v1M71.5 0v1m0 89v1M72.5 56v1m0 68v1M73.5 0v1m0 48v1m0 41v1M74.5 0v1m0 14v1m0 29v1m0 34v1M75.5 38v1m0 41v1m0 47v1M76.5 23v1m0 50v1M77.5 54v1m0 91v1M78.5 58v1m0 19v1m0 7v1M79.5 44v1m0 57v1m0 48v1M80.5 0v2m0 58v1m0 64v1M81.5 0v1m0 3v1m0 20v1m0 24v1m0 59v1M82.5 0v1m0 25v1M83.5 0v1m0 43v1m0 126v1M84.5 72v1M85.5 0v1m0 90v1M86.5 9v1m0 130v1m0 15v1M87.5 11v1m0 156v1M88.5 116v1m0 6v1M89.5 0v1m0 31v1m0 86v1m0 40v1M91.5 22v1m0 47v1m0 6v1m0 52v1M92.5 24v1m0 84v1M96.5 0v1m0 12v1m0 11v1m0 36v1m0 38v1m0 36v1m0 16v1M97.5 13v1m0 109v1M98.5 0v1m0 72v1M99.5 0v1m0 56v1m0 92v1m0 22v1M100.5 0v1m0 99v1M101.5 68v1m0 84v1M102.5 0v2m0 24v1M103.5 0v2m0 55v1m0 36v1M104.5 22v1m0 7v1m0 42v1M105.5 22v1m0 8v1m0 70v1M106.5 0v1m0 116v1M107.5 76v1M108.5 0v1m0 10v1m0 34v1m0 61v1M109.5 107v1m0 27v1m0 35v1M110.5 0v1m0 153v1m0 6v1M114.5 173v1M115.5 47v1m0 83v1M116.5 152v1M117.5 0v1m0 71v1m0 92v1M118.5 88v1M119.5 0v1m0 57v1M120.5 14v1m0 26v1m0 36v1m0 25v1m0 13v1m0 6v1M121.5 45v1M122.5 27v1M123.5 47v1m0 51v1M124.5 0v1m0 113v1M126.5 0v1m0 106v1M127.5 134v1M128.5 60v1m0 6v1m0 18v1m0 38v1M129.5 73v1m0 8v1m0 56v1m0 6v1M130.5 9v1M131.5 0v1m0 25v1m0 42v1m0 21v1m0 7v1M132.5 8v1m0 20v1m0 61v1m0 59v1M133.5 0v1m0 23v1M135.5 0v1m0 47v1M136.5 53v1m0 30v1m0 14v1M137.5 25v1m0 32v1M138.5 0v1m0 36v1m0 63v1M139.5 15v1m0 129v1M140.5 14v1m0 7v1m0 96v1M141.5 5v1m0 56v1M142.5 109v1m0 17v1M143.5 58v1m0 19v1m0 89v1M145.5 79v1m0 32v1M146.5 71v1m0 7v1m0 46v1M147.5 88v1m0 76v1M148.5 0v1m0 22v1M149.5 52v1m0 75v1M150.5 0v1m0 98v1M151.5 0v1m0 125v1M152.5 0v1m0 73v1m0 42v1m0 20v1m0 32v1M153.5 0v1m0 72v1m0 6v1M155.5 30v1m0 139v1M156.5 16v1m0 37v1m0 13v1m0 44v1M157.5 89v1M158.5 94v1m0 8v1m0 8v1M159.5 29v1m0 67v1m0 6v1m0 39v1m0 28v1M160.5 9v1m0 44v1M161.5 17v1m0 15v1m0 126v1M162.5 42v1m0 70v1m0 19v1m0 25v1M163.5 0v1m0 2v1m0 43v1m0 37v1m0 12v1m0 19v1M165.5 0v1m0 118v1M166.5 149v1M167.5 117v1m0 38v1M168.5 0v1m0 58v1m0 22v1m0 9v1m0 25v1m0 17v1m0 7v1M169.5 0v1m0 148v1M170.5 50v1m0 105v1M171.5 30v1M172.5 0v1m0 37v1m0 27v1m0 32v1m0 20v1m0 41v1M174.5 0v1m0 10v1m0 27v1m0 8v1M175.5 0v1m0 84v1m0 36v1m0 20v1M176.5 0v1m0 104v1M177.5 0v1m0 84v1M178.5 63v1m0 41v1m0 29v1m0 6v1m0 17v1M179.5 0v1m0 27v1m0 7v1M180.5 15v1m0 7v1m0 88v1m0 48v1M181.5 65v1M182.5 0v1M183.5 91v1m0 25v1m0 55v1M184.5 50v1m0 21v1m0 16v1M185.5 14v1m0 22v1m0 6v1m0 15v1m0 73v1M186.5 130v1M187.5 117v1m0 38v1M188.5 0v1m0 18v1M189.5 34v1m0 48v1m0 73v1M190.5 0v1m0 110v1m0 26v1m0 32v1M191.5 0v1M192.5 0v1m0 17v1m0 42v1M194.5 25v1m0 7v1m0 43v1m0 40v1M195.5 22v1m0 16v1m0 17v1M196.5 0v1M197.5 0v1m0 88v1M198.5 116v1m0 37v1m0 7v1M199.5 77v1m0 34v1"/>
<path stroke="#89ffaf" d="M1.5 133v1M3.5 29v1m0 102v1M4.5 10v1m0 31v1m0 56v1M5.5 3v1m0 104v1m0 5v1M6.5 23v1M7.5 60v1m0 50v1M9.5 27v1m0 33v1m0 57v1M10.5 31v1m0 55v1M11.5 0v1m0 30v1M12.5 97v1M13.5 0v1m0 100v1M15.5 131v1m0 28v1M16.5 103v1m0 29v1M17.5 147v1M18.5 74v1M19.5 121v1M21.5 0v1m0 151v1M23.5 0v1m0 76v1M24.5 169v1M25.5 84v1m0 81v1M26.5 153v1M27.5 46v1m0 55v1m0 68v1M28.5 31v1M30.5 0v1m0 76v1M31.5 53v1m0 23v1m0 5v1M32.5 5v1M33.5 0v1m0 137v1m0 33v1M34.5 0v1M36.5 151v1M37.5 5v1M38.5 44v1m0 67v1M39.5 89v1M40.5 0v1m0 56v1M41.5 142v1M44.5 25v1m0 85v1M46.5 44v1m0 112v1M47.5 59v1M49.5 0v1M51.5 86v1m0 65v1M52.5 15v1M53.5 136v1m0 29v1M54.5 54v1m0 13v1m0 6v1m0 25v1m0 5v1m0 56v1M55.5 0v1m0 148v1M56.5 4v1m0 127v1M57.5 0v1m0 80v1m0 6v1m0 83v1M58.5 105v1M60.5 59v1m0 59v1M62.5 0v1m0 110v1M63.5 0v1m0 29v1m0 95v1M64.5 58v1M66.5 98v1M67.5 22v1M69.5 6v1M70.5 123v1M71.5 141v1m0 24v1M72.5 6v1m0 81v1M73.5 19v1m0 10v1m0 79v1m0 8v1M74.5 115v1m0 16v1m0 28v1M75.5 0v1M76.5 0v1m0 31v1m0 22v1m0 26v1m0 65v1m0 7v1M77.5 87v1m0 31v1M78.5 0v1m0 66v1m0 26v1m0 6v1m0 34v1M79.5 0v1m0 75v1m0 89v1m0 6v1M80.5 45v1m0 48v1M81.5 12v1m0 72v1m0 46v1m0 7v1M82.5 34v1m0 116v1M83.5 29v1M84.5 52v1m0 42v1M85.5 98v1M87.5 144v1M88.5 25v1m0 18v1M89.5 17v1m0 36v1M90.5 32v1m0 48v1m0 9v1M92.5 54v1M93.5 0v1M94.5 32v1m0 106v1M96.5 6v1m0 119v1M97.5 0v1m0 70v1M99.5 73v1M100.5 55v1m0 15v1m0 53v1M101.5 6v1m0 17v1m0 21v1M102.5 100v1m0 57v1M103.5 140v1M104.5 46v1m0 75v1M106.5 55v1m0 20v1M107.5 0v1m0 163v1m0 7v1M108.5 63v1M110.5 26v1M111.5 0v1m0 125v1m0 23v1M112.5 19v1M113.5 0v1m0 45v1m0 35v1m0 65v1M114.5 83v1m0 36v1M115.5 28v1M116.5 0v1m0 10v1m0 110v1M117.5 25v1M118.5 1v1m0 79v1M119.5 158v1m0 7v1M120.5 95v1m0 60v1M121.5 152v1M122.5 152v1M123.5 55v1M124.5 36v1m0 57v1M125.5 0v1m0 98v1M126.5 66v1M127.5 45v1m0 75v1M128.5 164v1M129.5 17v1m0 96v1M130.5 36v1m0 30v1m0 91v1M131.5 138v1m0 21v1M132.5 70v1M133.5 32v1m0 35v1m0 27v1M134.5 0v1m0 92v1M135.5 16v1M136.5 0v1m0 45v1M137.5 65v1M138.5 19v1M139.5 80v1M140.5 36v1m0 52v1M141.5 84v1m0 62v1M142.5 20v1m0 57v1M143.5 0v1M144.5 6v1m0 126v1M145.5 36v1m0 6v1m0 27v1M147.5 0v1m0 94v1M148.5 47v1m0 36v1m0 7v1m0 67v1M150.5 151v1M153.5 161v1M154.5 0v1m0 80v1m0 38v1M155.5 0v1m0 78v1m0 55v1M156.5 5v1M157.5 17v1m0 29v1M158.5 141v1M160.5 110v1m0 48v1M161.5 78v1M162.5 34v1m0 27v1M163.5 27v1M164.5 6v1M165.5 79v1m0 77v1M167.5 56v1m0 6v1m0 29v1m0 32v1M168.5 101v1M170.5 0v2m0 6v1m0 28v1M171.5 157v1M173.5 0v2m0 7v1m0 18v1m0 85v1M174.5 3v1m0 63v1m0 94v1m0 7v1M176.5 8v1M178.5 22v1m0 97v1M179.5 21v1m0 46v1M180.5 70v1m0 12v1m0 36v1M181.5 0v1m0 28v1m0 62v1m0 69v1M183.5 34v1m0 104v1M184.5 6v1m0 35v1M185.5 0v1m0 140v1m0 9v1M186.5 44v1m0 66v1M187.5 46v1M188.5 119v1m0 24v1M189.5 6v1M190.5 40v1m0 13v1m0 7v1M191.5 75v1m0 14v1m0 53v1M192.5 114v1M193.5 24v1M196.5 76v1M197.5 103v1m0 57v1M198.5 0v1m0 20v1m0 22v1m0 89v1m0 36v1M199.5 0v1m0 142v1"/>
<path stroke="#aff498" d="M0.5 56v1m0 36v1m0 58v1M1.5 33v1M2.5 42v1m0 40v1M3.5 138v1M4.5 159v1M5.5 158v1M7.5 118v1M8.5 12v1m0 66v1m0 24v1m0 24v1m0 4v1M9.5 56v1m0 69v1M11.5 96v1m0 53v1M12.5 3v1m0 25v1m0 38v1m0 23v1m0 70v1M13.5 42v1m0 51v1M14.5 69v1m0 5v1M15.5 40v1M17.5 47v1m0 106v1M18.5 68v1m0 28v1M19.5 22v1M20.5 5v1M22.5 68v1m0 23v1M23.5 41v1m0 42v1m0 16v1m0 4v1m0 35v1m0 4v1M24.5 145v1M25.5 28v1M26.5 3v1m0 41v1m0 31v1M27.5 24v1m0 83v1m0 50v1M28.5 5v1m0 60v1m0 64v1M29.5 125v1m0 36v1M30.5 84v1M32.5 31v1m0 49v1m0 50v1M33.5 143v1M34.5 7v1m0 4v1m0 28v1m0 91v1M35.5 56v1m0 79v1M36.5 8v1m0 4v1m0 56v1M37.5 113v1m0 30v1M38.5 153v1M39.5 4v1M40.5 32v1M41.5 4v1m0 21v1M42.5 97v1M44.5 3v1m0 81v1m0 5v1M45.5 160v1M47.5 54v1M48.5 19v1m0 4v1M49.5 89v1M50.5 40v1m0 83v1M51.5 12v1m0 4v1m0 115v1M53.5 103v1M54.5 170v1M55.5 37v1m0 62v1m0 55v1M56.5 34v1m0 4v1M59.5 57v1M60.5 34v1m0 76v1m0 18v1M61.5 97v1M62.5 21v1m0 53v1m0 66v1m0 24v1M63.5 68v1m0 49v1M65.5 101v1m0 30v1M66.5 63v1m0 68v1m0 7v1M67.5 47v1m0 26v1m0 6v1M69.5 79v1m0 35v1m0 57v1M70.5 36v1M72.5 28v1M73.5 38v1m0 110v1M75.5 70v1M76.5 171v1M77.5 94v1m0 67v1m0 7v1M78.5 154v1M79.5 118v1m0 6v1M80.5 150v1M81.5 117v1m0 50v1M82.5 57v1M83.5 22v1m0 28v1M84.5 24v1m0 124v1M85.5 54v1M86.5 76v1m0 23v1M87.5 47v1M88.5 5v1m0 50v1M89.5 111v1m0 18v1M90.5 54v1m0 48v1M91.5 29v1m0 108v1M92.5 61v1m0 28v1m0 26v1M93.5 1v1m0 67v1m0 49v1M95.5 5v1m0 44v1M96.5 87v1m0 31v1m0 42v1M97.5 94v1m0 58v1M98.5 153v1M99.5 64v1m0 29v1m0 25v1M100.5 92v1M101.5 53v1m0 22v1M102.5 18v1M103.5 65v1M104.5 93v1m0 6v1m0 14v1M105.5 60v1m0 31v1M107.5 26v1m0 57v1m0 19v1m0 42v1M108.5 70v1m0 31v1M109.5 40v1M110.5 87v1m0 16v1m0 29v1M111.5 13v1m0 128v1M113.5 38v1m0 50v1M114.5 48v1m0 13v1m0 28v1M115.5 20v1m0 65v1m0 23v1M116.5 160v1M118.5 52v1M119.5 98v1m0 20v1M120.5 49v1m0 17v1M121.5 11v1M122.5 61v1m0 63v1M123.5 34v1M124.5 72v1m0 49v1M125.5 28v1m0 12v1m0 31v1m0 51v1M126.5 37v1M127.5 11v1m0 139v1M128.5 5v1m0 21v1m0 65v1m0 77v1M129.5 122v1M130.5 59v1M131.5 35v1m0 80v1m0 50v1M134.5 8v1m0 77v1m0 35v1m0 5v1m0 16v1M135.5 96v1M136.5 120v1m0 18v1m0 6v1M137.5 32v1M138.5 52v1m0 56v1m0 32v1M139.5 42v1m0 6v1M143.5 118v1M144.5 91v1m0 66v1M145.5 19v1m0 78v1M146.5 62v1M147.5 13v1m0 34v1m0 68v1m0 36v1M148.5 2v1m0 51v1M149.5 33v1m0 56v1m0 62v1M150.5 81v1M151.5 33v1M152.5 158v1M156.5 87v1m0 44v1m0 7v1M157.5 113v1M158.5 34v1M159.5 38v1M160.5 73v1m0 6v1m0 37v1M163.5 34v1M164.5 25v1m0 28v1M166.5 5v1M167.5 73v1m0 64v1m0 33v1M168.5 75v1m0 51v1M169.5 39v1m0 29v1m0 46v1M170.5 18v1m0 53v1m0 32v1m0 57v1M171.5 22v1m0 105v1M172.5 9v1M173.5 106v1M174.5 97v1m0 38v1M176.5 25v1M177.5 94v1m0 11v1M179.5 52v1M180.5 6v1m0 121v1M182.5 99v1m0 6v1m0 25v1M183.5 6v1m0 20v1m0 25v1m0 72v1M184.5 155v1M185.5 21v1m0 46v1m0 17v1m0 72v1M186.5 21v1m0 57v1m0 6v1m0 51v1M187.5 25v1M188.5 70v1M189.5 130v1M190.5 12v1m0 7v1m0 124v1M191.5 36v1m0 30v1M192.5 54v1m0 28v1m0 72v1M193.5 5v1m0 41v1m0 99v1m0 18v1M194.5 45v1M195.5 29v1m0 133v1M196.5 32v1M198.5 124v1"/>
<path stroke="#d4dd80" d="M0.5 5v1m0 30v1m0 120v1M1.5 5v1M2.5 5v1m0 31v1M3.5 108v1m0 50v1M4.5 75v1m0 53v1M6.5 29v1M7.5 5v1M8.5 42v1m0 114v1M9.5 84v1m0 60v1M10.5 37v1M11.5 61v1M12.5 63v1M14.5 43v1m0 66v1m0 62v1M16.5 4v1m0 56v1M17.5 42v1m0 30v1M18.5 170v1M19.5 17v1m0 134v1M20.5 77v1m0 62v1m0 28v1M21.5 29v1m0 44v1M22.5 32v1m0 111v1M24.5 38v1m0 5v1m0 59v1m0 5v1M25.5 78v1M26.5 51v1m0 19v1m0 76v1M27.5 153v1M28.5 136v1M29.5 27v1M30.5 51v1m0 119v1M31.5 123v1M32.5 25v1m0 138v1M33.5 8v1m0 158v1M34.5 47v1m0 28v1m0 4v1m0 56v1M35.5 62v1M36.5 93v1m0 5v1M37.5 75v1m0 4v1m0 57v1M39.5 121v1M41.5 31v1m0 105v1M42.5 39v1m0 4v1M43.5 3v1M44.5 52v1m0 4v1M45.5 30v1M46.5 3v1m0 35v1m0 76v1M48.5 65v1M49.5 84v1M51.5 127v1m0 29v1M52.5 46v1m0 120v1M53.5 8v1m0 55v1m0 77v1M54.5 3v1m0 131v1M56.5 126v1M58.5 158v1M60.5 13v1m0 130v1M61.5 120v1M62.5 50v1m0 31v1M64.5 27v1m0 56v1m0 68v1M65.5 5v1m0 103v1m0 57v1M67.5 165v1M68.5 2v1M69.5 147v1m0 6v1M70.5 26v1m0 43v1M72.5 96v1m0 59v1M73.5 11v1m0 87v1m0 57v1M74.5 37v1m0 102v1M76.5 126v1M77.5 5v1M78.5 35v1M79.5 8v1m0 85v1M80.5 53v1m0 13v1m0 34v1m0 30v1m0 10v1M81.5 58v1m0 34v1M82.5 135v1M83.5 143v1M84.5 58v1m0 20v1m0 22v1M85.5 37v1m0 72v1M86.5 82v1m0 65v1M87.5 95v1M88.5 148v1M90.5 4v1m0 13v1m0 91v1m0 29v1M92.5 82v1M93.5 37v1M94.5 169v1M95.5 168v1M96.5 109v1M97.5 50v1m0 50v1m0 28v1M98.5 173v1M99.5 18v1m0 9v1m0 6v1m0 5v1m0 123v1M100.5 133v1m0 9v1M102.5 107v1M104.5 66v1m0 84v1M105.5 86v1m0 22v1m0 33v1M106.5 99v1M107.5 33v1M108.5 77v1M110.5 15v1m0 18v1m0 44v1M111.5 87v1M112.5 122v1m0 6v1m0 24v1M114.5 6v1M115.5 149v1m0 5v1M116.5 19v1m0 10v1m0 5v1m0 38v1M117.5 89v1M118.5 63v1m0 92v1M119.5 17v1m0 64v1m0 67v1M120.5 86v1m0 55v1m0 5v1M121.5 71v1M123.5 149v1M126.5 115v1M127.5 4v1m0 47v1m0 39v1m0 64v1M128.5 132v1M130.5 24v1m0 18v1m0 33v1M131.5 122v1M135.5 103v1m0 22v1M136.5 76v1m0 51v1M138.5 122v1m0 35v1m0 6v1M139.5 28v1m0 47v1M140.5 99v1M141.5 47v1M142.5 6v1m0 78v1M143.5 86v1m0 23v1M146.5 90v1M147.5 21v1m0 34v1m0 13v1M148.5 10v1m0 55v1m0 38v1m0 6v1m0 55v1M149.5 67v1m0 52v1M150.5 17v1m0 88v1m0 52v1M151.5 87v1M153.5 96v1m0 19v1M155.5 13v1M156.5 23v1m0 146v1M157.5 24v1m0 51v1M158.5 62v1m0 70v1M160.5 167v1M161.5 41v1m0 59v1m0 66v1M162.5 15v1m0 74v1M163.5 11v1M164.5 73v1M165.5 69v1M166.5 64v1m0 76v1M167.5 145v1M169.5 82v1m0 6v1m0 68v1M170.5 26v1m0 17v1m0 13v1m0 63v1M171.5 136v1M173.5 36v1M174.5 128v1M175.5 69v1m0 44v1M176.5 91v1m0 37v1M177.5 21v1m0 38v1M178.5 30v1M179.5 45v1m0 14v1M181.5 36v1M182.5 15v1m0 40v1m0 82v1m0 33v1M183.5 146v1M184.5 64v1m0 69v1m0 5v1m0 22v1M185.5 108v1M186.5 147v1M187.5 163v1M188.5 163v1m0 5v1M189.5 43v1m0 76v1M190.5 4v1m0 99v1M192.5 122v1m0 27v1M193.5 32v1m0 107v1M194.5 14v1m0 70v1m0 40v1m0 14v1M195.5 46v1M196.5 13v1m0 91v1m0 7v1m0 9v1m0 22v1M197.5 130v1m0 36v1M198.5 10v1M199.5 7v1m0 143v1"/>
<path stroke="#f1c36c" d="M0.5 39v1m0 21v1M1.5 38v2m0 29v1m0 69v1M2.5 10v1m0 110v2m0 40v1m0 5v1M3.5 2v2m0 30v1m0 30v1m0 3v1m0 67v1m0 25v2M4.5 9v1m0 37v2m0 49v1m0 25v1m0 3v1m0 34v1m0 1v1M5.5 2v1m0 70v1m0 38v2m0 49v2M6.5 27v2m0 30v2m0 22v1m0 3v1m0 41v1m0 29v1M7.5 54v1m0 4v1m0 57v1m0 24v1m0 3v2M8.5 46v1m0 38v1m0 24v1m0 22v1m0 28v1M9.5 8v1m0 23v2m0 26v1m0 45v1m0 18v1m0 13v1m0 4v1M10.5 93v1M11.5 37v1m0 27v2m0 23v1m0 35v1m0 28v2M12.5 9v1m0 24v2m0 31v1m0 28v1m0 72v1M13.5 46v2m0 52v1M14.5 49v1m0 117v1m0 4v1M15.5 3v1m0 34v2m0 26v1m0 21v1m0 4v1m0 41v3M16.5 10v1m0 86v1m0 40v1m0 22v1m0 3v2M17.5 25v2m0 19v1m0 21v1m0 84v1M18.5 45v1m0 56v1m0 44v1m0 4v1M19.5 21v1m0 33v1m0 30v1m0 64v1M20.5 4v1m0 39v1m0 5v1m0 20v1m0 4v1m0 62v1M21.5 33v1m0 1v1m0 43v1m0 31v1m0 34v1M22.5 4v1m0 68v1m0 23v2M23.5 46v1m0 36v1m0 62v1M24.5 144v1m0 28v1M25.5 3v2m0 46v1m0 31v1m0 38v1m0 48v1M26.5 2v1m0 46v2m0 25v1m0 51v1m0 23v1M27.5 1v1m0 4v1m0 23v1m0 20v1m0 55v1m0 50v1M28.5 4v1m0 31v1m0 35v1m0 27v2M29.5 130v2m0 35v1M30.5 19v1m0 36v1m0 64v1m0 26v2M31.5 58v1m0 63v1m0 34v1M32.5 58v1m0 27v2m0 24v2m0 23v1m0 25v1M33.5 14v1m0 34v2m0 44v1m0 75v1M34.5 46v1m0 33v1m0 56v1M35.5 135v1m0 25v1m0 5v1M36.5 12v1m0 83v1m0 1v1m0 25v1M37.5 11v1m0 35v1m0 31v1m0 62v2M38.5 3v2m0 44v1m0 30v2m0 75v1m0 1v1M39.5 3v1m0 84v1m0 31v1m0 31v1M40.5 31v1m0 30v1m0 51v1m0 43v1M41.5 3v1m0 26v1m0 73v1M42.5 18v1m0 24v1m0 58v1m0 55v1M43.5 9v1m0 35v1m0 39v1M44.5 90v1m0 25v1m0 36v1m0 18v1M45.5 36v1m0 65v1m0 62v1M46.5 2v1m0 117v1M47.5 11v1m0 94v1m0 23v1m0 4v2m0 31v1m0 4v1M48.5 23v1m0 45v1m0 50v1M49.5 12v1m0 35v1m0 39v1m0 40v1m0 3v1m0 23v1m0 3v2M50.5 3v1m0 34v2m0 89v1M51.5 80v1m0 25v1m0 25v1m0 23v1M52.5 50v2m0 55v1m0 36v1m0 4v2m0 21v2M53.5 7v1m0 61v1m0 38v1m0 32v1m0 18v1m0 4v1M54.5 53v1m0 20v1m0 66v1m0 27v1M55.5 43v1m0 21v1m0 4v1m0 28v1m0 55v1M56.5 3v1m0 78v1m0 48v1m0 25v1m0 5v1M57.5 86v2m0 60v1M58.5 30v1m0 4v1m0 18v1m0 4v1m0 49v2M59.5 24v1m0 37v2m0 40v2M60.5 41v1m0 24v1m0 30v1m0 20v1m0 18v2M61.5 34v1m0 13v1m0 5v1m0 25v2m0 21v1m0 23v2M62.5 13v1m0 6v1m0 22v1m0 73v1m0 16v1m0 6v1M63.5 29v1m0 19v1m0 52v1m0 22v1m0 43v1M64.5 5v1m0 27v2m0 30v1m0 17v1m0 44v1M65.5 12v1m0 65v1m0 5v1m0 88v1M66.5 4v1m0 50v1m0 6v1m0 34v1m0 20v1m0 20v1M67.5 28v1m0 24v1m0 51v2m0 51v1M68.5 9v1m0 18v1m0 7v1m0 7v1m0 7v1m0 6v1m0 16v1m0 6v1m0 41v1m0 25v1M69.5 4v2m0 23v1m0 29v2m0 30v1m0 5v2m0 36v2M70.5 6v1m0 35v1m0 26v1m0 38v1m0 20v1m0 15v1m0 6v1M71.5 38v1m0 19v1m0 39v1m0 36v1m0 23v1m0 5v1M72.5 5v1m0 57v1m0 69v1m0 28v1M73.5 18v1m0 38v1m0 60v1m0 37v1M74.5 22v1m0 21v1m0 43v1m0 25v1m0 53v1M75.5 46v1m0 22v1m0 17v1m0 22v1m0 25v1m0 20v1M76.5 14v1m0 16v1m0 49v1m0 20v2m0 15v1m0 35v1M77.5 93v1m0 58v1M78.5 34v1m0 31v1m0 33v1m0 16v1m0 42v1M79.5 14v1m0 36v1m0 31v1m0 17v1m0 22v1m0 32v1M80.5 86v1m0 6v1m0 14v1m0 40v1M81.5 33v1m0 105v1M82.5 33v1m0 69v1m0 6v1m0 48v1M83.5 28v1M84.5 31v1m0 103v1m0 20v2M85.5 31v1m0 64v1m0 20v1m0 21v1m0 6v1m0 23v1M86.5 16v1m0 11v1m0 5v1m0 112v1m0 15v1M87.5 18v1m0 20v1m0 47v1m0 63v1M88.5 4v1m0 13v1m0 17v1m0 6v1m0 18v1m0 59v1m0 33v1M89.5 2v1m0 5v1m0 30v1m0 21v1m0 75v2m0 28v1M90.5 24v2m0 13v1m0 20v1m0 13v1m0 5v1m0 17v1m0 10v1m0 23v1m0 5v1M91.5 6v1m0 69v1m0 60v1m0 17v1m0 5v1M92.5 5v2m0 25v1m0 27v1m0 55v1M93.5 7v1m0 28v1m0 39v1m0 36v1m0 32v1m0 6v1m0 18v1M94.5 5v1m0 33v1m0 30v1m0 3v1m0 1v1m0 37v1m0 30v1M95.5 58v1M96.5 33v1m0 34v2m0 11v1m0 26v1m0 36v1m0 15v1M97.5 12v1m0 16v1m0 12v1m0 34v1m0 74v1M98.5 80v1m0 45v1M99.5 17v1m0 16v1m0 13v1m0 32v1m0 44v1m0 15v1m0 6v1m0 22v1M100.5 8v1m0 6v1m0 11v1m0 33v1m0 16v1m0 71v1M101.5 5v1m0 25v1m0 20v1m0 22v1m0 37v1m0 6v1m0 39v1M102.5 25v1m0 46v1m0 61v1m0 22v1M103.5 64v1m0 21v1m0 6v1m0 20v1m0 5v1m0 25v1M104.5 29v1m0 24v1m0 17v1m0 48v1M105.5 30v1m0 23v1m0 4v1m0 71v1m0 18v2M106.5 54v1m0 29v1m0 20v1m0 19v1m0 21v1m0 25v1M107.5 4v1m0 6v1m0 20v1m0 64v1m0 5v1m0 50v1m0 16v1M108.5 45v1m0 48v1m0 5v2m0 12v1M109.5 6v1m0 40v1m0 7v1m0 4v2m0 53v1m0 26v1m0 8v1m0 6v1M110.5 21v1m0 69v1m0 5v1m0 13v1m0 15v1m0 32v1M111.5 7v1m0 40v1m0 76v1m0 23v1M112.5 12v1m0 148v1M113.5 45v1m0 42v1m0 22v1m0 6v1m0 37v1M114.5 42v1m0 26v1m0 20v1m0 35v1M115.5 5v1m0 21v1m0 26v1m0 37v1m0 25v1m0 20v1M116.5 18v1m0 28v1m0 6v1m0 26v1m0 57v1m0 19v1M117.5 31v1m0 46v1m0 31v1m0 5v1m0 24v1m0 22v1M118.5 7v1m0 63v1m0 91v2M119.5 65v2m0 14v1m0 10v1m0 4v1m0 27v3M120.5 6v1m0 13v1m0 27v1m0 26v1m0 27v1m0 20v1m0 37v1M121.5 17v2m0 32v2m0 25v1m0 14v1m0 5v2M122.5 35v1m0 123v1M123.5 4v1m0 28v1m0 73v1M124.5 28v1m0 49v1m0 23v1m0 38v1m0 6v1M125.5 20v1m0 6v1m0 20v1m0 29v2m0 25v1m0 11v1m0 6v1M126.5 74v1m0 70v1M127.5 44v1m0 13v1m0 16v1m0 10v1m0 4v1m0 47v2m0 15v1M128.5 21v1m0 43v2m0 25v1m0 19v1m0 18v1m0 38v1M129.5 4v1m0 41v1m0 5v1m0 28v1m0 39v1m0 23v1M130.5 8v1m0 33v1m0 23v1m0 16v2m0 20v1m0 26v1m0 6v1m0 27v1M131.5 77v1m0 20v1m0 45v1m0 21v1M132.5 14v2m0 21v1m0 40v1m0 18v1M133.5 31v1m0 70v1m0 20v1m0 5v1M134.5 7v1m0 84v1m0 59v1M135.5 15v1m0 40v1M136.5 27v1m0 24v1m0 30v1m0 23v1m0 37v1m0 20v1m0 5v1M137.5 4v1M138.5 27v1m0 16v1m0 15v1m0 14v1m0 5v1m0 26v1m0 39v1M139.5 21v2m0 11v1m0 40v1m0 11v1m0 64v1m0 19v1M140.5 5v1m0 15v1m0 13v1m0 12v1m0 5v1m0 38v1M141.5 4v1m0 63v2m0 20v1M142.5 27v1m0 56v1m0 17v1m0 5v1m0 26v1m0 34v1M143.5 64v1m0 20v1m0 31v1m0 20v1m0 5v1M144.5 29v1m0 67v1m0 66v1M145.5 5v1m0 19v1m0 16v1m0 35v1m0 11v1m0 6v1m0 22v1m0 52v1M146.5 4v1m0 50v1m0 22v1m0 17v1m0 35v2M147.5 20v1m0 34v1m0 20v1m0 17v1m0 30v1m0 21v1m0 24v1M148.5 30v1m0 97v1M149.5 5v1m0 33v1m0 18v1m0 30v1m0 57v1M150.5 53v1m0 8v1m0 6v1m0 18v1m0 25v1m0 6v1M151.5 26v1m0 34v1m0 19v1m0 52v1m0 16v1m0 5v1M152.5 8v1m0 36v1m0 5v1m0 57v1m0 6v1m0 40v1M153.5 51v1m0 5v1m0 45v1m0 18v2m0 44v2M154.5 22v1m0 7v1m0 29v1m0 66v2M155.5 21v1m0 65v1m0 53v1M156.5 4v1m0 17v1m0 51v1m0 18v1m0 18v1m0 26v1M157.5 4v1m0 34v1m0 12v2m0 41v1m0 9v1m0 6v1m0 19v1m0 5v1M158.5 4v1m0 22v1m0 5v1m0 21v1m0 5v1m0 40v1m0 36v2M159.5 19v1m0 16v1m0 14v1m0 69v1m0 30v1M160.5 4v1m0 11v1m0 44v1m0 72v1m0 5v1m0 25v1M161.5 108v1m0 24v1m0 6v1M162.5 14v1m0 46v1m0 21v1m0 37v1m0 45v1M163.5 33v1m0 20v1m0 29v1m0 19v1M164.5 61v1m0 16v2m0 78v1M165.5 21v1m0 5v2m0 34v1m0 4v1m0 16v1m0 41v1m0 37v1M166.5 71v1m0 21v1m0 4v2M167.5 5v1m0 15v1m0 5v1m0 34v1m0 16v1m0 19v2m0 24v1m0 36v1M168.5 66v2m0 32v1m0 42v1m0 14v1m0 5v1M169.5 45v1m0 22v1m0 53v2m0 33v1M170.5 7v1m0 17v1m0 52v1M171.5 29v1m0 40v1m0 15v1m0 5v2m0 70v1M172.5 15v1m0 28v1m0 28v1m0 45v1m0 49v1M173.5 8v1m0 49v1m0 6v1M174.5 47v1m0 26v1m0 60v1m0 33v1M175.5 23v1m0 5v1m0 18v1m0 28v1m0 14v1m0 27v2m0 28v2M176.5 7v1m0 16v1m0 8v1m0 50v1m0 27v1M177.5 13v1m0 28v1m0 24v1m0 45v1m0 14v1m0 4v2m0 28v1M178.5 4v1m0 106v2m0 13v1m0 39v1M179.5 27v1m0 31v1m0 15v1m0 20v1m0 64v1M180.5 77v2m0 12v1m0 42v1m0 6v1m0 5v1m0 20v1M181.5 64v1m0 26v1m0 69v1M182.5 21v1m0 26v1m0 19v1m0 7v1m0 28v1M183.5 5v1m0 93v1m0 25v1M184.5 49v1m0 20v1m0 26v1m0 15v1m0 6v1m0 18v1m0 22v1M185.5 42v1m0 97v1M186.5 36v1m0 6v1m0 25v1m0 15v1M187.5 5v1m0 26v1m0 19v1m0 21v1m0 48v1M188.5 25v1m0 15v1m0 27v1m0 56v1m0 25v1M189.5 13v1m0 5v1m0 71v1m0 20v1m0 25v1m0 26v1M190.5 11v1m0 15v1m0 11v1m0 44v1m0 5v1m0 19v1m0 13v1m0 14v1m0 4v1M191.5 43v2m0 29v1m0 23v1m0 18v1m0 6v1M192.5 25v1m0 34v1m0 14v1m0 6v1M193.5 54v1m0 29v1m0 11v1m0 5v2m0 42v1M194.5 32v1m0 51v1m0 62v1M195.5 6v1m0 38v1m0 17v1m0 105v2M196.5 18v2m0 61v2m0 29v1m0 16v2M197.5 88v1m0 21v1m0 26v1M198.5 8v1m0 18v1m0 23v1m0 33v2m0 36v1m0 17v2M199.5 15v1m0 38v1m0 29v1"/>
<path stroke="#ffa457" d="M0.5 3v2m0 35v1m0 19v1m0 27v1m0 3v1m0 63v1M1.5 3v2m0 30v3m0 26v1m0 2v2m0 69v1M2.5 7v3m0 31v1m0 36v1m0 2v2m0 36v2m0 45v1m0 1v1M3.5 33v1m0 34v1m0 37v2m0 25v1m0 1v2M4.5 8v1m0 34v1m0 1v2m0 23v1m0 2v2m0 22v1m0 66v1M5.5 1v1m0 69v2m0 89v1M6.5 26v1m0 28v1m0 2v1m0 27v1m0 36v1m0 2v3m0 26v1m0 2v1M7.5 3v2m0 50v1m0 1v2m0 57v1M8.5 6v1m0 3v2m0 72v1m0 23v2m0 22v1m0 27v2M9.5 31v1m0 27v1m0 18v1m0 3v2m0 17v1m0 2v2m0 15v1m0 1v2m0 17v2M10.5 3v2m0 30v2m0 55v1M11.5 35v2m0 57v2m0 29v1m0 27v2M12.5 7v2m0 23v2m0 32v1m0 28v1m0 70v3M13.5 45v1m0 53v1m0 73v1M14.5 47v2m0 24v2m0 34v1m0 59v3M15.5 2v1m0 31v1m0 2v1m0 22v1m0 2v3m0 25v2m0 41v1m0 29v2M16.5 7v3m0 56v1m0 33v1m0 1v1m0 34v1m0 26v1M17.5 21v1m0 2v1m0 20v1m0 25v2m0 79v1M18.5 41v1m0 2v1m0 27v2m0 27v1m0 48v2M19.5 20v1m0 30v1m0 1v2m0 32v1m0 32v1m0 29v1M20.5 3v1m0 44v2m0 24v2m0 31v2m0 26v1m0 29v4M21.5 34v1m0 42v2m0 27v1m0 2v2m0 40v1M22.5 2v1m0 28v1m0 40v1m0 23v1m0 50v2M23.5 45v1m0 35v2m0 21v2m0 38v2M24.5 42v2m0 63v3m0 30v1m0 1v2m0 28v1M25.5 22v1m0 3v2m0 21v2m0 30v2m0 34v1m0 3v1m0 47v2M26.5 1v1m0 123v3m0 23v1M27.5 5v1m0 23v1m0 19v2m0 54v2m0 50v1M28.5 3v1m0 31v1m0 34v2m0 27v1m0 35v1M29.5 22v1m0 1v2m0 69v2m0 69v1M30.5 15v1m0 2v1m0 35v2m0 27v1m0 33v1m0 1v2m0 22v1m0 3v1M31.5 57v1m0 24v1m0 38v1m0 34v1M32.5 3v2m0 25v1m0 25v2m0 26v2m0 25v1m0 24v1m0 25v1M33.5 12v2m0 30v1m0 2v2m0 45v1m0 45v3m0 27v1M34.5 11v1m0 32v2m0 31v2m0 57v1M35.5 60v2m0 69v1m0 33v2M36.5 9v3m0 53v1m0 3v1m0 24v2m0 1v1m0 24v2m0 25v2M37.5 8v3m0 32v1m0 2v1m0 31v1m0 33v1m0 26v1m0 1v1M38.5 48v1m0 27v1m0 2v1m0 37v1m0 38v1m0 1v1M39.5 87v1m0 27v1m0 2v2m0 27v1m0 3v1M40.5 26v1m0 1v3m0 29v2m0 47v1m0 2v2m0 39v1m0 2v2M41.5 2v1m0 26v1m0 47v2m0 20v1m0 3v1m0 36v2M42.5 17v1m0 82v2m0 55v1M43.5 7v2m0 34v2m0 37v1m0 1v1m0 1v1m0 53v2M44.5 1v2m0 26v2m0 24v2m0 58v1m0 33v1M45.5 35v1m0 19v1m0 2v2m0 45v3m0 55v2M46.5 42v2m0 75v1m0 32v5M47.5 9v2m0 46v2m0 43v1m0 1v2m0 65v2M48.5 67v1m0 47v1m0 3v1m0 50v1m0 2v1M49.5 11v1m0 40v2m0 32v2m0 72v1M50.5 2v1m0 31v1m0 92v2M51.5 15v2m0 67v2m0 16v1m0 1v2m0 25v1M52.5 19v2m0 27v1m0 53v1m0 3v1m0 40v1m0 22v1M53.5 3v1m0 1v2m0 61v1m0 36v1m0 1v1m0 1v1m0 29v2m0 23v1M54.5 1v2m0 46v1m0 1v2m0 20v1m0 31v2m0 30v1m0 1v2M55.5 42v1m0 25v2m0 24v1m0 3v1m0 55v1M56.5 1v2m0 34v2m0 38v1m0 2v2m0 76v1m0 1v3M57.5 146v2M58.5 34v1m0 22v2m0 47v3m0 48v1M59.5 22v2m0 37v1m0 38v1M60.5 12v1m0 26v2m0 24v1m0 25v1m0 4v1m0 19v2m0 18v1m0 12v3M61.5 33v1m0 19v1m0 48v1m0 22v1m0 17v1m0 4v2M62.5 19v1m0 28v2m0 31v1m0 33v2m0 22v1m0 20v1m0 5v1M63.5 48v1m0 13v1m0 3v2m0 33v1m0 21v2m0 43v1M64.5 4v1m0 59v1m0 17v1m0 13v1m0 5v2m0 23v1m0 23v2M65.5 11v1m0 71v1m0 23v2m0 21v2m0 40v1M66.5 61v1m0 28v1m0 5v1m0 40v2M67.5 52v1m0 27v1m0 23v1m0 58v2M68.5 8v1m0 12v1m0 4v2m0 13v1m0 1v1m0 14v1m0 23v1m0 41v1m0 20v1m0 4v1M69.5 28v1m0 43v1m0 4v2m0 29v1m0 5v1m0 19v1m0 17v2M70.5 4v2m0 19v1m0 15v1m0 21v1m0 4v1m0 37v2m0 20v1m0 21v2m0 21v1M71.5 31v1m0 4v2m0 19v1m0 39v1m0 41v2M72.5 4v1m0 15v1m0 5v2m0 34v1m0 32v1m0 36v1m0 28v1M73.5 36v2m0 17v2m0 40v2m0 18v1m0 37v1M74.5 43v1m0 37v1m0 5v1m0 24v2m0 23v3m0 27v1M75.5 45v1m0 16v1m0 5v1m0 40v1m0 24v2m0 15v1m0 4v1M76.5 12v2m0 14v3m0 31v2m0 16v1m0 20v1m0 22v2m0 28v1M77.5 4v1m0 55v2m0 30v1m0 31v2m0 25v1m0 1v1m0 13v3M78.5 33v1m0 31v1m0 18v2m0 13v1m0 22v2m0 17v2m0 16v1M79.5 12v1m0 37v1m0 14v2m0 15v1m0 17v1m0 70v2M80.5 52v1m0 8v1m0 4v1m0 24v2m0 14v1m0 40v1M81.5 10v2m0 19v2m0 18v1m0 5v1m0 33v2m0 23v1m0 21v1M82.5 32v1m0 18v1m0 4v1m0 52v1m0 19v1m0 4v1m0 22v2M83.5 27v1m0 22v1m0 91v1M84.5 5v2m0 50v1m0 19v2m0 22v1m0 26v1m0 5v1M85.5 36v1m0 11v1m0 4v1m0 43v1m0 18v1m0 28v1M86.5 14v2m0 17v1m0 47v1m0 24v1m0 55v1M87.5 17v1m0 15v1m0 4v1m0 13v2m0 40v1m0 55v1M88.5 3v1m0 20v1m0 17v1m0 17v2m0 25v2m0 32v1m0 32v2M89.5 7v1m0 15v2m0 8v1m0 3v2m0 21v1m0 56v2m0 17v1m0 29v1m0 1v1M90.5 2v2m0 19v1m0 14v1m0 40v1m0 16v2M91.5 5v1m0 21v2m0 131v1M92.5 4v1m0 26v1m0 55v3m0 59v1m0 3v3M93.5 6v1m0 22v1m0 5v1m0 39v1m0 42v1m0 32v2M94.5 4v1m0 33v1m0 36v1m0 43v2m0 23v1M95.5 3v2m0 52v1m0 47v1m0 4v2m0 61v1M96.5 12v1m0 18v2m0 52v2m0 37v2m0 18v1m0 15v1M97.5 6v1m0 4v1m0 11v1m0 3v2m0 20v1m0 26v1m0 23v1m0 27v2m0 17v1M98.5 79v1m0 40v1m0 4v1m0 19v1m0 5v2M99.5 16v1m0 16v1m0 13v1m0 15v1m0 15v2m0 7v1m0 3v1m0 32v1m0 22v1m0 22v1M100.5 13v2m0 5v1m0 5v1m0 33v1m0 15v2m0 21v1m0 32v1m0 16v1M101.5 30v1m0 20v1m0 67v1m0 38v2M102.5 24v1m0 40v1m0 3v1m0 1v1m0 34v1m0 20v1m0 5v1m0 16v1m0 5v1M103.5 62v2m0 55v1m0 25v1M104.5 4v2m0 22v1m0 24v1m0 17v1m0 27v1m0 20v1m0 37v1M105.5 29v1m0 61v1m0 16v1m0 20v2m0 17v2M106.5 48v1m0 4v1m0 28v2m0 18v1m0 1v1m0 36v1m0 4v1M107.5 31v1m0 51v1m0 69v1m0 16v1M108.5 18v2m0 18v1m0 5v1m0 11v1m0 5v1m0 12v2m0 36v1M109.5 4v2m0 40v1m0 12v1m0 53v2m0 41v2M110.5 20v1m0 11v2m0 51v2m0 9v1m0 13v1m0 20v3m0 25v1M111.5 12v1m0 34v1m0 32v1m0 4v2m0 37v1M112.5 18v1m0 108v2m0 30v2M113.5 44v1m0 42v1m0 29v1m0 37v1M114.5 5v1m0 41v1m0 20v1m0 20v1m0 35v1M115.5 3v2m0 21v1m0 25v2m0 36v2m0 24v2m0 20v1m0 15v1M116.5 15v1m0 1v1m0 16v2m0 17v1m0 28v1m0 31v1m0 5v2m0 11v1m0 24v1M117.5 30v1m0 46v1m0 16v2m0 18v2m0 19v1m0 3v2m0 16v1m0 5v1M118.5 6v1m0 44v1m0 17v2m0 15v2m0 74v1M119.5 11v1m0 4v1m0 47v1m0 11v1m0 3v1m0 15v1m0 47v1m0 4v1m0 14v2M120.5 5v1m0 13v1m0 27v1m0 26v1m0 9v2m0 16v1m0 20v1m0 23v1m0 13v1M121.5 77v1m0 80v3M122.5 4v3m0 26v2m0 20v1m0 4v1m0 57v1m0 5v1m0 33v1M123.5 3v1m0 22v1m0 5v1m0 20v2m0 50v2m0 41v1M124.5 33v3m0 41v1m0 22v2m0 18v2m0 25v1M125.5 26v1m0 20v1m0 75v1m0 19v1m0 5v1M126.5 34v3m0 35v2m0 40v1m0 36v2M127.5 9v2m0 26v1m0 19v1m0 11v1m0 4v1m0 44v2m0 14v1m0 35v1M128.5 3v2m0 20v2m0 64v1m0 19v1M129.5 3v1m0 7v1m0 4v1m0 34v1m0 26v3M130.5 7v1m0 9v1m0 4v2m0 58v1m0 15v1m0 5v1m0 8v1m0 5v2m0 17v1m0 26v2M131.5 33v2m0 41v1m0 20v1m0 23v1m0 21v1m0 21v1M132.5 76v2m0 18v1m0 60v1M133.5 73v2m0 26v1m0 26v1M134.5 44v1m0 46v1m0 34v2m0 23v1M135.5 14v1m0 39v2m0 45v2m0 28v2M136.5 3v1m0 4v2m0 16v1m0 55v1m0 23v1m0 20v1m0 43v1M137.5 3v1m0 27v1m0 32v1m0 52v2M138.5 42v2m0 15v1m0 20v1m0 47v2m0 17v1m0 15v2M139.5 4v2m0 14v1m0 12v1m0 34v1m0 5v1m0 9v1m0 1v1m0 66v1M140.5 4v1m0 14v2m0 8v1m0 4v1m0 17v2m0 27v1m0 6v1m0 9v1m0 28v1M141.5 3v1m0 41v2m0 42v1m0 51v1m0 4v1M142.5 5v1m0 20v1m0 80v1m0 26v1M143.5 63v1m0 20v1m0 31v1m0 26v1m0 29v1M144.5 4v2m0 16v1m0 5v1m0 102v2M145.5 4v1m0 19v1m0 16v1m0 35v1m0 17v2m0 22v1m0 47v1M146.5 3v1m0 56v2m0 15v1m0 16v2m0 35v1M147.5 19v1m0 34v1m0 20v1m0 47v2m0 28v1m0 17v1M148.5 9v1m0 18v2m0 23v1m0 18v1m0 17v2m0 19v1m0 10v1m0 4v1m0 38v2M149.5 4v1m0 33v1m0 18v1m0 15v1m0 9v1m0 4v1m0 38v1m0 24v1M150.5 16v1m0 51v1m0 18v1m0 17v1m0 14v1m0 37v1M151.5 31v2m0 21v1m0 5v1m0 25v1m0 45v2m0 21v2M152.5 6v2m0 42v1m0 29v2m0 32v2m0 20v2m0 12v1M153.5 56v1m0 22v1m0 22v1m0 17v1M154.5 28v2m0 24v1m0 4v1m0 14v1m0 4v2m0 45v1m0 20v2M155.5 20v1m0 14v2m0 49v1m0 53v1M156.5 21v1m0 26v1m0 3v2m0 19v1m0 18v1m0 17v2m0 25v2M157.5 2v2m0 19v1m0 13v2m0 36v1m0 14v1m0 3v1m0 16v1m0 25v1M158.5 2v2m0 28v1m0 27v1m0 39v2m0 17v1M159.5 12v1m0 5v1m0 18v1m0 12v1m0 47v1m0 4v1m0 10v1m0 4v2m0 29v2M160.5 3v1m0 56v1m0 17v2m0 36v2m0 47v1M161.5 9v1m0 5v2m0 22v2m0 42v2m0 21v2m0 31v1m0 21v1m0 5v1M162.5 40v2m0 13v1m0 3v1m0 29v1m0 30v1m0 17v2m0 26v1M163.5 9v2m0 21v1m0 20v1m0 29v1m0 18v2m0 20v1M164.5 4v2m0 13v1m0 4v1m0 35v1m0 95v2M165.5 84v1m0 40v2m0 37v1M166.5 3v2m0 65v1m0 26v1m0 49v2M167.5 4v1m0 21v1m0 34v1m0 16v1m0 19v1m0 25v1m0 19v1m0 16v1M168.5 18v1m0 4v2m0 40v1m0 14v2m0 17v1m0 25v2m0 15v1m0 20v1M169.5 44v1m0 42v2m0 61v1m0 5v1M170.5 6v1m0 17v1m0 18v1m0 12v2m0 19v1m0 25v2m0 22v2m0 33v1M171.5 28v1m0 40v1m0 21v1m0 42v2m0 26v1M172.5 14v1m0 28v1m0 28v1m0 24v2m0 69v1M173.5 7v1m0 26v2m0 28v1m0 48v1M174.5 8v3m0 34v2m0 26v1m0 29v2m0 29v1m0 33v1M175.5 28v1m0 24v2m0 20v2m0 14v1m0 27v1M176.5 1v1m0 21v1m0 14v2m0 49v2m0 19v2m0 15v2M177.5 20v1m0 20v1m0 24v1m0 26v1m0 17v2m0 49v1M178.5 3v1m0 24v2m0 39v2m0 54v1m0 14v2m0 23v1M179.5 26v1m0 10v1m0 5v2m0 13v1m0 15v1m0 20v1m0 70v2M180.5 4v2m0 10v1m0 5v1m0 52v2m0 13v1m0 27v2m0 13v1m0 12v1m0 20v1M181.5 34v2m0 53v2m0 64v1M182.5 20v1m0 33v2m0 18v2m0 28v1m0 33v1M183.5 33v1m0 13v1m0 4v1m0 44v2m0 46v1M184.5 5v1m0 41v1m0 21v1m0 1v1m0 23v2m0 22v1m0 41v1M185.5 15v1m0 4v1m0 22v1m0 22v2m0 12v1m0 4v1m0 16v1m0 4v1m0 49v2M186.5 19v2m0 21v1m0 25v1m0 15v1m0 32v2m0 17v2m0 14v2M187.5 4v1m0 26v1m0 35v1m0 4v2m0 48v1m0 39v1M188.5 24v1m0 9v1m0 4v2m0 27v1m0 55v2m0 23v1m0 1v1m0 15v2M189.5 5v1m0 36v1m0 46v2m0 27v2m0 17v1m0 25v2M190.5 26v1m0 6v1m0 27v1m0 27v1m0 19v1m0 9v1m0 23v1M191.5 9v2m0 86v1m0 25v1m0 18v2M192.5 24v1m0 56v1m0 13v1m0 5v2m0 18v1m0 32v2M193.5 3v2m0 26v1m0 21v1m0 28v2m0 17v1m0 58v1m0 4v1M194.5 8v1m0 4v1m0 17v1m0 18v2m0 67v1m0 4v2M195.5 5v1m0 21v2m0 33v1M196.5 38v1m0 72v1m0 16v1m0 23v2M197.5 87v1m0 21v1m0 25v2m0 29v1M198.5 3v1m0 5v1m0 16v1m0 23v1m0 33v1m0 37v1m0 37v2M199.5 14v1m0 38v1m0 63v2m0 31v1"/>
<path stroke="#ff8042" d="M0.5 0v3m0 34v2m0 20v1m0 29v3m0 63v1M1.5 0v3m0 31v1m0 31v1m0 68v3M2.5 6v1m0 31v3m0 39v1m0 36v1m0 49v1M3.5 0v2m0 28v1m0 1v1m0 33v2m0 35v3m0 28v1m0 26v2M4.5 5v3m0 36v1m0 27v1m0 21v3m0 30v1m0 32v3M5.5 0v1m0 68v2m0 38v3m0 47v3M6.5 25v1m0 30v2m0 26v2m0 38v2m0 30v2M7.5 0v3m0 53v1m0 56v3m0 27v3M8.5 7v3m0 35v1m0 34v4m0 21v3m0 22v2m0 26v2M9.5 4v4m0 20v1m0 1v1m0 27v1m0 21v2m0 21v1m0 16v1m0 1v1m0 18v1M10.5 1v2m0 30v2m0 56v1m0 81v1M11.5 32v3m0 29v1m0 28v1m0 28v1m0 1v1m0 26v2M12.5 5v2m0 24v1m0 33v1m0 27v2m0 69v2M13.5 43v2m0 53v1m0 72v2M14.5 44v3m0 24v1m0 33v1m0 1v2m0 59v1M15.5 0v2m0 33v2m0 25v1m0 27v1m0 41v2m0 27v1m0 1v1M16.5 5v2m0 57v2m0 33v1m0 1v1m0 34v1m0 26v1M17.5 22v2m0 19v2m0 24v2m0 78v3M18.5 42v2m0 25v3m0 26v3m0 47v2m0 21v3M19.5 18v2m0 32v1m0 29v4m0 29v1m0 2v2m0 26v1m0 1v2M20.5 0v3m0 42v3m0 24v2m0 31v2m0 29v3M21.5 30v3m0 42v2m0 30v2m0 39v3M22.5 1v1m0 1v1m0 24v3m0 40v1m0 21v3m0 49v2M23.5 42v3m0 33v3m0 21v2m0 39v1M24.5 41v1m0 63v2m0 34v1m0 28v2M25.5 0v3m0 21v2m0 21v2m0 30v2m0 37v3m0 47v1M26.5 0v1m0 45v3m0 24v3m0 48v1m0 24v2M27.5 3v2m0 22v2m0 18v2m0 54v2m0 49v3m0 15v2M28.5 0v3m0 30v2m0 32v3m0 26v3m0 35v1M29.5 23v1m0 2v1m0 65v1m0 1v1m0 32v3m0 33v3M30.5 16v2m0 63v2m0 35v1m0 26v2m0 26v1M31.5 54v3m0 23v2m0 35v4m0 32v1m0 1v1M32.5 1v2m0 25v2m0 23v3m0 27v1m0 24v3m0 23v1m0 24v3M33.5 9v3m0 33v2m0 44v1m0 1v1m0 45v1m0 28v2M34.5 10v1m0 31v2m0 35v1m0 54v1m0 34v1m0 2v2M35.5 58v2m0 73v2m0 29v1M36.5 66v1m0 1v1m0 50v3m0 24v3M37.5 6v2m0 37v1m0 30v2m0 30v1m0 2v1m0 28v1M38.5 0v3m0 43v2m0 29v2m0 36v2m0 37v2M39.5 1v2m0 81v3m0 29v2m0 30v3M40.5 27v1m0 30v2m0 50v2m0 42v2M41.5 0v2m0 25v2m0 45v1m0 1v1m0 25v1m0 35v2M42.5 14v3m0 23v3m0 56v1m0 53v1m0 2v1M43.5 4v3m0 35v1m0 40v1m0 53v1m0 1v1M44.5 0v1m0 27v1m0 24v2m0 33v2m0 23v2m0 36v2M45.5 31v4m0 21v2m0 46v1m0 56v2M46.5 0v2m0 38v2m0 75v2M47.5 7v2m0 47v1m0 46v1m0 29v2m0 34v2M48.5 21v2m0 43v1m0 1v1m0 49v1m0 53v1M49.5 10v1m0 39v2m0 33v1m0 45v2m0 26v1M50.5 0v2m0 33v3m0 87v2M51.5 14v1m0 68v1m0 19v1m0 24v3m0 22v3M52.5 17v2m0 28v1m0 1v1m0 53v3m0 40v1m0 1v1m0 19v2m0 1v1M53.5 4v1m0 61v2m0 36v1m0 1v1m0 30v2m0 22v3M54.5 0v1m0 47v1m0 1v1m0 18v4m0 29v1m0 1v1m0 31v1m0 1v1m0 27v3M55.5 38v1m0 1v2m0 25v1m0 28v2m0 53v3M56.5 0v1m0 35v1m0 41v2m0 48v3m0 28v1M57.5 82v1m0 1v2m0 56v1m0 1v2m0 27v1M58.5 32v2m0 21v2m0 96v1m0 1v2M59.5 20v2m0 37v2m0 40v3M60.5 7v1m0 2v2m0 26v1m0 25v1m0 30v1m0 38v2M61.5 27v1m0 3v2m0 19v1m0 25v2m0 20v2m0 22v1m0 1v1m0 20v1M62.5 18v1m0 61v1m0 33v1m0 25v1m0 23v2M63.5 24v1m0 3v1m0 18v1m0 17v1m0 34v1m0 21v1m0 39v1m0 3v2M64.5 2v2m0 28v1m0 30v1m0 13v1m0 2v2m0 19v1m0 21v1m0 2v1m0 23v1M65.5 9v1m0 72v1m0 23v1m0 22v1m0 41v1M66.5 1v3m0 54v3m0 34v1m0 20v2m0 18v1M67.5 26v2m0 23v1m0 26v2m0 81v2M68.5 7v1m0 17v1m0 16v1m0 13v2m0 63v1m0 1v1M69.5 3v1m0 21v1m0 1v1m0 25v1m0 3v2m0 35v3m0 16v1m0 19v1m0 15v3M70.5 20v1m0 2v2m0 15v1m0 85v1m0 22v1m0 22v1M71.5 56v1m0 39v1m0 66v2M72.5 3v1m0 20v2m0 31v1m0 36v1m0 31v1m0 3v2m0 27v2M73.5 15v3m0 14v1m0 2v1m0 18v1m0 41v1m0 19v1M74.5 16v1m0 3v2m0 20v1m0 42v2m0 20v1m0 57v2M75.5 42v3m0 21v2m0 17v2m0 16v1m0 3v2m0 20v1m0 3v1m0 21v1M76.5 8v1m0 15v1m0 2v1m0 33v1m0 13v1m0 2v2m0 17v1m0 2v1m0 20v3m0 29v1M77.5 3v1m0 54v2m0 30v2m0 31v1m0 41v2M78.5 27v1m0 4v1m0 30v2m0 18v1m0 37v1m0 18v1m0 17v1M79.5 11v1m0 1v1m0 33v1m0 12v1m0 2v2m0 15v2m0 16v1m0 23v2m0 31v2m0 13v1M80.5 50v2m0 11v3m0 22v3m0 14v2m0 19v1m0 3v3M81.5 9v1m0 20v1m0 24v2m0 33v1m0 24v1m0 57v1M82.5 31v1m0 22v2m0 51v2m0 24v1m0 22v1M83.5 26v1m0 18v1m0 2v2m0 86v1m0 4v1M84.5 0v1m0 2v2m0 24v2m0 24v2m0 42v2m0 31v2m0 19v3M85.5 35v1m0 15v2m0 39v1m0 2v1m0 19v1m0 28v1M86.5 13v1m0 66v1m0 22v3m0 35v1m0 3v2m0 14v1M87.5 16v1m0 20v1m0 54v2m0 54v2m0 19v1m0 3v1M88.5 2v1m0 19v2m0 16v2m0 40v1m0 2v2m0 33v1m0 30v3M89.5 6v1m0 15v1m0 13v1m0 22v1m0 56v1m0 17v2m0 25v1m0 2v1M90.5 21v2m0 14v1m0 20v2m0 18v1m0 15v1m0 12v2m0 28v2M91.5 4v1m0 18v1m0 50v2m0 60v1m0 21v2M92.5 3v1m0 21v1m0 3v2m0 26v3m0 26v1m0 27v2m0 36v1M93.5 5v1m0 27v2m0 38v2m0 42v1m0 32v1M94.5 2v2m0 32v2m0 35v1m0 43v2m0 23v2M95.5 1v2m0 52v2m0 52v1m0 62v1M96.5 10v2m0 14v1m0 3v1m0 36v1m0 16v1m0 21v2m0 14v2m0 18v2m0 12v1m0 1v2M97.5 9v2m0 36v2m0 26v1m0 21v3m0 24v1m0 26v1M98.5 78v1m0 45v1m0 24v2M99.5 11v1m0 3v1m0 16v1m0 13v1m0 15v1m0 15v1m0 14v1m0 30v1m0 22v1m0 22v1M100.5 12v1m0 12v1m0 33v1m0 15v1m0 21v2m0 31v2m0 16v1M101.5 3v2m0 23v2m0 20v1m0 18v1m0 3v2m0 42v2M102.5 23v1m0 46v1m0 32v3m0 23v2m0 1v1m0 20v2M103.5 61v1m0 29v2m0 25v1m0 25v1M104.5 3v1m0 19v1m0 1v3m0 22v1m0 1v1m0 17v1m0 26v2m0 20v1m0 35v3M105.5 28v1m0 28v2m0 30v2m0 14v3m0 17v1M106.5 51v2m0 28v1m0 18v2m0 1v1m0 19v2m0 19v2M107.5 8v3m0 19v1m0 46v1m0 4v1m0 18v2m0 48v2m0 15v2M108.5 16v2m0 25v1m0 17v1m0 12v1m0 21v1m0 1v2m0 9v1m0 2v1M109.5 45v1m0 12v1m0 49v1m0 1v3m0 26v3m0 12v2M110.5 19v1m0 9v3m0 52v1m0 10v1m0 12v2m0 48v1M111.5 11v1m0 30v1m0 2v2m0 37v1m0 33v1m0 3v2m0 23v2M112.5 16v2m0 140v1M113.5 42v2m0 42v1m0 28v2m0 37v1M114.5 3v2m0 40v2m0 18v1m0 1v1m0 20v1m0 34v2M115.5 2v1m0 22v1m0 22v1m0 1v2m0 61v1m0 1v1m0 16v1m0 4v1M116.5 16v1m0 15v1m0 19v1m0 27v1m0 38v1m0 17v2m0 17v2M117.5 29v1m0 46v1m0 16v1m0 67v2M118.5 5v1m0 40v1m0 3v1m0 16v1m0 93v1M119.5 14v2m0 47v1m0 14v2m0 14v2m0 27v2m0 23v1m0 14v1M120.5 3v2m0 13v1m0 25v3m0 26v1m0 5v1m0 2v2m0 17v1m0 17v1m0 26v1m0 13v1M121.5 15v2m0 33v1m0 23v3m0 20v2m0 58v1M122.5 3v1m0 24v1m0 1v1m0 1v1m0 25v2m0 63v1M123.5 2v1m0 28v1m0 16v1m0 1v3m0 47v1m0 3v1m0 38v1m0 2v2M124.5 75v2m0 21v2m0 15v1m0 2v2m0 25v2M125.5 23v3m0 19v2m0 30v1m0 24v3m0 16v2m0 24v2m0 24v1M126.5 29v1m0 3v1m0 36v2m0 36v1m0 4v1m0 34v1m0 1v1M127.5 41v3m0 12v1m0 15v2m0 14v3m0 24v1m0 2v1m0 17v3m0 16v1M128.5 2v1m0 21v1m0 38v2m0 40v1m0 3v2m0 15v1m0 2v2m0 37v2M129.5 2v1m0 11v2m0 34v1m0 23v1m0 44v2m0 23v1M130.5 3v1m0 2v1m0 14v1m0 19v1m0 22v2m0 14v2m0 19v3m0 13v2m0 45v1M131.5 27v1m0 4v1m0 40v3m0 16v1m0 2v2m0 23v1m0 21v1m0 21v1M132.5 12v2m0 16v1m0 4v2m0 37v1m0 19v2m0 56v1m0 1v3M133.5 29v2m0 40v2m0 27v1m0 25v2M134.5 4v3m0 31v1m0 3v2m0 46v1m0 34v1m0 23v2M135.5 8v1m0 3v2m0 35v1m0 3v1m0 46v1m0 28v2M136.5 7v1m0 13v1m0 2v2m0 25v1m0 29v1m0 23v1m0 18v3m0 17v1m0 24v2M137.5 2v1m0 27v1m0 31v2m0 48v1m0 3v1M138.5 25v2m0 14v1m0 14v3m0 20v1m0 25v3m0 18v2m0 18v1m0 15v1M139.5 3v1m0 12v1m0 2v1m0 12v1m0 13v3m0 24v1m0 11v1m0 65v1M140.5 3v1m0 11v1m0 2v1m0 13v2m0 16v2m0 33v3m0 9v1m0 26v3M141.5 2v1m0 37v1m0 3v1m0 22v1m0 20v1m0 55v2M142.5 2v1m0 1v1m0 20v1m0 57v1m0 20v3m0 26v1m0 39v1M143.5 115v1m0 26v1m0 26v1m0 2v1M144.5 3v1m0 22v2m0 66v3m0 33v1m0 31v2M145.5 3v1m0 19v1m0 70v1m0 23v1m0 52v2M146.5 2v1m0 56v1m0 12v1m0 2v2m0 16v1m0 33v1m0 2v1M147.5 18v1m0 33v2m0 20v1m0 17v2m0 28v1m0 28v2m0 17v1M148.5 8v1m0 15v1m0 1v2m0 24v1m0 17v2m0 15v1m0 1v1m0 19v2m0 54v1M149.5 3v1m0 33v1m0 15v1m0 2v1m0 14v2m0 13v2m0 36v3m0 24v1M150.5 10v1m0 4v1m0 35v2m0 14v1m0 17v2m0 16v2m0 13v2m0 36v2M151.5 30v1m0 27v2m0 25v1m0 45v1m0 20v2M152.5 5v1m0 43v1m0 29v1m0 32v2m0 16v1m0 3v2m0 20v1m0 15v1M153.5 55v1m0 18v1m0 3v1m0 22v1m0 15v3m0 1v1m0 44v2M154.5 27v1m0 50v1m0 45v2m0 17v1m0 2v1M155.5 19v1m0 64v2m0 53v1M156.5 2v2m0 16v1m0 30v1m0 20v1m0 18v1m0 13v1m0 2v2m0 25v2m0 36v1M157.5 1v1m0 20v1m0 27v2m0 22v1m0 35v1m0 24v2M158.5 1v1m0 29v1m0 27v1m0 35v1m0 2v2m0 18v1m0 19v1M159.5 16v2m0 16v2m0 8v1m0 3v2m0 51v2m0 15v1m0 30v1M160.5 1v2m0 10v3m0 39v1m0 2v2m0 15v1m0 1v1m0 37v1m0 21v3m0 23v2M161.5 14v1m0 23v1m0 43v1m0 22v1m0 32v1m0 26v2M162.5 9v1m0 2v2m0 24v2m0 18v1m0 1v1m0 26v2m0 28v3m0 14v1m0 29v2M163.5 8v1m0 22v1m0 20v1m0 24v1m0 2v3m0 16v1m0 1v1m0 17v1m0 3v1M164.5 3v1m0 19v1m0 34v2m0 16v2m0 73v1m0 3v1M165.5 24v3m0 40v1m0 15v1m0 40v1m0 36v3M166.5 2v1m0 66v1m0 25v1m0 50v1M167.5 3v1m0 20v1m0 52v1m0 18v2m0 25v1m0 19v1m0 15v2M168.5 22v1m0 37v1m0 1v3m0 14v1m0 18v1m0 23v3m0 12v1m0 2v2m0 20v1M169.5 43v1m0 17v1m0 3v3m0 18v1m0 33v2m0 31v1m0 1v1M170.5 5v1m0 17v1m0 18v1m0 8v1m0 24v1m0 22v1m0 2v1m0 23v1m0 34v1M171.5 26v2m0 35v1m0 3v2m0 21v1m0 42v1m0 27v1m0 1v1M172.5 13v1m0 28v1m0 27v2m0 24v1m0 16v1m0 3v2m0 48v1M173.5 6v1m0 26v1m0 28v2m0 48v1M174.5 44v1m0 27v1m0 28v2m0 29v2m0 32v2M175.5 25v3m0 24v1m0 18v1m0 2v1m0 11v1m0 3v1m0 24v4m0 28v3M176.5 4v3m0 10v1m0 3v2m0 13v2m0 68v1m0 2v1m0 12v1m0 3v1M177.5 17v3m0 20v1m0 22v3m0 25v2m0 38v2m0 23v1m0 4v1M178.5 0v1m0 1v1m0 24v1m0 40v1m0 37v1m0 2v2m0 13v1m0 39v1M179.5 42v1m0 13v2m0 15v1m0 16v1m0 3v1m0 70v1M180.5 20v2m0 52v1m0 14v1m0 23v1m0 1v1m0 1v1m0 13v2m0 12v1m0 20v1M181.5 32v2m0 25v1m0 2v2m0 20v1m0 2v2m0 70v2M182.5 19v1m0 32v2m0 18v1m0 30v1m0 33v1M183.5 3v2m0 26v2m0 18v1m0 40v1m0 3v1m0 21v1m0 5v1m0 18v2M184.5 3v2m0 41v1m0 1v1m0 18v2m0 21v1m0 3v1m0 22v2m0 19v1m0 21v1M185.5 18v2m0 21v1m0 23v1m0 17v2m0 21v1m0 31v2m0 16v1M186.5 13v1m0 27v1m0 20v1m0 3v2m0 14v2m0 32v1m0 14v1m0 3v1m0 15v1M187.5 3v1m0 25v2m0 19v2m0 19v1m0 48v2m0 35v1m0 3v1M188.5 23v1m0 13v2m0 28v1m0 54v2m0 26v1m0 15v1M189.5 3v2m0 12v2m0 16v1m0 4v2m0 42v1m0 3v1m0 47v1m0 25v1M190.5 10v1m0 13v2m0 10v3m0 20v2m0 26v2m0 18v2m0 14v1m0 16v3M191.5 8v1m0 31v3m0 30v1m0 20v1m0 1v1m0 25v1M192.5 23v1m0 34v2m0 19v2m0 18v2m0 18v2m0 32v1M193.5 29v2m0 21v1m0 28v1m0 17v1m0 43v3m0 18v1M194.5 11v2m0 16v2m0 17v2m0 28v1m0 3v2m0 38v1m0 22v2M195.5 3v2m0 35v1m0 2v2m0 16v1m0 106v1M196.5 17v1m0 18v2m0 42v1m0 29v1m0 14v1m0 1v1M197.5 83v1m0 2v1m0 19v3m0 56v1M198.5 24v2m0 23v1m0 29v1m0 3v1m0 33v1m0 2v2m0 16v3m0 14v1m0 3v1M199.5 13v1m0 36v3m0 28v3m0 32v1m0 31v2"/>
<path stroke="#ff572c" d="M0.5 57v2m0 94v2M1.5 65v1m0 68v1M2.5 79v1m0 38v1m0 45v2M3.5 31v1m0 128v1M4.5 71v1m0 53v2M6.5 24v1M7.5 112v1M8.5 43v2M9.5 29v1m0 27v1m0 21v1m0 22v1m0 37v1M10.5 0v1m0 31v1m0 55v3M11.5 63v1m0 27v2m0 30v1M12.5 4v1m0 25v1m0 33v1M13.5 96v2M14.5 70v1m0 1v1m0 33v1M15.5 61v1m0 100v1M16.5 62v2m0 34v1m0 35v2m0 26v1M17.5 148v1M19.5 116v2m0 29v1M20.5 104v1M21.5 147v1M22.5 0v1m0 68v2M24.5 40v1M25.5 23v1m0 143v1M26.5 72v1M27.5 2v1m0 22v2M28.5 32v1m0 99v2M29.5 93v1m0 32v1M30.5 52v2m0 25v2m0 63v1m0 27v1M31.5 78v2m0 74v1M32.5 0v1m0 26v1m0 54v1m0 50v1m0 1v1M33.5 92v1M34.5 8v2m0 125v1m0 35v1M35.5 57v1m0 74v1m0 29v2M36.5 67v1M37.5 44v1m0 64v2M38.5 45v1m0 67v2M39.5 0v1M41.5 75v1m0 24v2M42.5 98v1m0 55v2M43.5 41v1m0 96v1M44.5 26v2m0 58v2m0 24v1m0 37v1m0 22v1M45.5 103v1M47.5 55v1m0 75v2M48.5 20v1m0 95v2m0 53v1M49.5 8v2m0 39v1m0 80v1m0 27v1M51.5 13v1m0 67v2M52.5 16v1m0 128v1M53.5 65v1M54.5 103v1m0 61v1M55.5 39v1m0 26v1m0 28v1m0 54v1M56.5 35v1m0 91v1M57.5 83v1m0 59v1M58.5 31v1m0 122v1M59.5 58v1M60.5 8v2m0 50v4m0 29v2m0 18v3m0 16v2m0 12v3M61.5 29v2m0 18v3m0 23v3m0 20v2m0 21v1m0 1v1m0 21v2M62.5 16v2m0 27v3m0 64v2m0 22v3m0 22v3M63.5 25v3m0 15v1m0 2v1m0 16v2m0 32v1m0 1v1m0 20v2m0 42v2M64.5 1v1m0 26v4m0 29v2m0 16v1m0 20v1m0 23v2m0 20v1m0 2v1m0 20v1m0 2v1M65.5 7v2m0 1v1m0 68v3m0 21v3m0 19v1m0 2v1m0 41v1M66.5 56v2m0 35v2m0 17v1m0 2v1m0 17v3M67.5 23v3m0 24v1m0 24v3m0 21v1m0 2v2m0 55v2M68.5 3v1m0 1v2m0 16v2m0 14v2m0 12v3m0 23v3m0 40v1m0 26v1m0 21v1m0 1v1M69.5 0v3m0 19v3m0 1v1m0 28v2m0 19v1m0 16v1m0 18v1m0 17v3m0 15v1M70.5 0v1m0 1v2m0 18v1m0 15v2m0 24v1m0 1v2m0 34v1m0 1v2m0 18v2m0 1v1m0 19v2m0 20v3M71.5 34v2m0 16v1m0 1v2m0 35v1m0 2v2m0 40v3m0 22v2M72.5 0v3m0 20v1m0 35v3m0 29v3m0 33v3m0 28v1M73.5 13v2m0 18v2m0 18v1m0 38v1m0 1v2m0 15v1m0 1v3m0 34v5M74.5 18v2m0 21v1m0 41v2m0 23v4m0 21v4m0 25v3M75.5 41v1m0 22v2m0 18v1m0 21v1m0 24v2m0 21v1M76.5 10v2m0 14v1m0 29v1m0 1v3m0 16v1m0 20v2m0 49v4M77.5 0v3m0 52v2m0 32v1m0 30v3m0 24v4m0 13v1M78.5 31v1m0 27v1m0 1v2m0 16v1m0 1v2m0 13v3m0 20v2m0 18v1m0 16v2M79.5 9v2m0 34v1m0 2v2m0 11v2m0 15v2m0 16v1m0 2v1m0 21v1m0 30v3m0 12v3M80.5 49v1m0 12v1m0 40v2m0 23v2m0 16v2M81.5 5v1m0 20v1m0 1v2m0 22v3m0 34v1m0 23v2m0 19v4m0 33v2M82.5 27v1m0 1v2m0 22v1m0 50v1m0 1v1m0 25v1M83.5 23v3m0 20v2m0 92v1m0 31v1M84.5 1v2m0 23v3m0 24v2m0 18v4m0 19v3m0 31v2m0 19v1M85.5 33v2m0 58v2m0 17v3m0 28v1m0 29v1M86.5 10v1m0 1v1m0 17v3m0 44v3m0 21v2m0 40v2m0 12v1m0 1v2M87.5 14v2m0 18v3m0 14v1m0 38v2m0 53v3m0 23v2M88.5 0v2m0 17v1m0 1v1m0 16v2m0 18v2m0 23v2m0 32v3m0 29v2M89.5 4v2m0 15v1m0 13v1m0 19v4m0 54v3m0 15v3m0 29v1m0 1v1M90.5 0v2m0 17v1m0 16v1m0 18v1m0 1v1m0 18v2m0 17v1m0 10v1m0 27v3M91.5 0v1m0 2v1m0 20v3m0 44v1m0 1v1m0 57v1m0 2v2m0 20v2M92.5 2v1m0 24v2m0 26v2m0 26v1m0 1v1m0 24v1m0 2v1m0 37v1M93.5 2v3m0 27v1m0 38v2m0 43v1m0 31v2M94.5 0v2m0 32v2m0 35v2m0 42v2m0 23v2m0 30v2M95.5 53v2m0 114v1m0 1v1M96.5 7v1m0 1v1m0 19v1m0 33v1m0 1v2m0 15v2m0 19v1m0 1v1m0 15v1m0 17v1m0 1v1m0 15v1M97.5 7v2m0 16v2m0 18v2m0 25v1m0 1v1m0 20v2m0 29v2m0 22v1M98.5 74v1m0 1v2m0 43v3m0 23v2M99.5 12v1m0 1v1m0 14v3m0 10v4m0 12v1m0 1v2m0 15v1m0 13v1m0 30v2m0 21v2m0 22v1M100.5 9v3m0 11v2m0 33v1m0 13v3m0 20v2m0 31v2m0 16v2M101.5 1v2m0 22v3m0 20v2m0 22v1m0 42v2m0 37v1m0 1v2M102.5 21v2m0 44v2m0 32v1m0 26v1m0 2v1m0 19v2m0 2v1M103.5 58v3m0 26v4m0 25v2m0 25v1M104.5 0v3m0 46v1m0 1v1m0 16v2m0 26v1m0 20v2m0 34v2M105.5 23v1m0 1v3m0 27v2m0 31v1m0 14v1m0 22v1m0 1v1m0 15v4M106.5 50v1m0 29v1m0 37v1m0 1v3m0 20v1M107.5 6v2m0 19v3m0 51v1m0 18v1m0 49v1m0 14v3M108.5 12v1m0 2v1m0 26v1m0 16v2m0 11v2m0 23v1m0 12v2M109.5 2v2m0 40v1m0 11v2m0 78v1m0 15v2M110.5 17v2m0 8v2m0 52v3m0 8v3m0 10v3m0 20v3m0 24v3M111.5 10v1m0 32v2m0 38v1m0 36v1m0 24v2M112.5 13v3m0 108v3m0 29v2M113.5 40v2m0 41v3m0 28v1m0 37v2M114.5 1v2m0 41v1m0 21v1m0 17v1m0 1v2m0 33v2M115.5 0v2m0 19v1m0 2v1m0 24v1m0 37v3m0 21v2m0 1v1m0 19v3m0 15v2M116.5 12v3m0 16v1m0 1v1m0 16v2m0 26v2m0 38v1m0 16v2m0 16v1m0 1v1M117.5 27v2m0 44v3m0 15v2m0 20v1m0 23v2m0 20v2M118.5 4v1m0 44v1m0 14v3m0 1v1m0 14v3m0 74v1M119.5 12v2m0 45v2m0 1v1m0 14v1m0 42v3m0 23v2m0 12v3M120.5 2v1m0 12v1m0 1v1m0 24v2m0 27v2m0 7v2m0 17v2m0 21v1m0 22v1m0 12v2M121.5 48v2m0 23v1m0 20v3m0 58v2M122.5 0v1m0 1v1m0 26v1m0 1v1m0 25v1m0 64v1m0 30v5M123.5 0v2m0 26v3m0 18v1m0 51v3M124.5 31v2m0 40v2m0 20v3m0 19v1m0 25v2M125.5 21v2m0 20v2m0 29v3m0 41v1m0 1v1m0 24v2M126.5 32v1m0 34v3m0 40v3m0 36v1M127.5 7v2m0 31v1m0 12v3m0 15v1m0 15v1m0 29v1m0 36v1m0 18v1M128.5 0v2m0 21v1m0 37v1m0 25v1m0 1v2m0 17v1m0 18v2m0 36v1m0 1v1M129.5 0v2m0 10v2m0 35v1m0 25v3m0 39v2m0 21v1m0 1v2M130.5 5v1m0 12v3m0 16v1m0 1v2m0 20v1m0 1v1m0 14v2m0 19v2m0 15v1m0 17v4m0 24v1M131.5 31v1m0 38v1m0 1v1m0 20v2m0 22v1m0 1v1m0 21v1m0 19v1m0 1v1M132.5 9v1m0 24v1m0 38v1m0 1v1m0 16v1M133.5 25v4m0 68v1m0 1v1M134.5 40v2m0 45v3m0 33v2m0 23v1M135.5 10v2m0 39v2m0 44v1m0 1v1m0 27v2M136.5 6v1m0 15v2m0 23v4m0 29v1m0 19v1m0 3v1m0 17v2m0 17v1m0 1v1m0 24v1M137.5 0v2m0 24v1m0 2v1m0 29v3m0 51v3M138.5 23v2m0 13v2m0 14v2m0 21v2m0 23v1m0 1v1m0 20v1m0 18v2m0 14v2M139.5 0v3m0 15v1m0 11v2m0 13v1m0 24v3m0 9v2m0 62v1m0 2v2M140.5 1v2m0 13v2m0 12v2m0 17v1m0 34v1m0 10v2m0 23v1m0 1v2M141.5 0v2m0 40v2m0 22v1m0 20v1m0 54v2M142.5 1v1m0 1v1m0 19v2m0 57v1m0 20v1m0 27v2M143.5 61v2m0 16v1m0 1v3m0 30v1m0 26v1m0 28v2M144.5 1v2m0 22v1m0 101v1m0 1v1m0 30v2M145.5 0v3m0 18v2m0 14v1m0 1v2m0 34v2m0 14v3m0 19v1m0 1v3m0 51v2M146.5 0v2m0 56v1m0 14v2m0 16v2m0 35v2M147.5 16v2m0 31v3m0 19v3m0 15v3m0 26v1m0 1v2m0 28v1m0 15v1m0 1v2M148.5 6v2m0 42v2m0 16v2m0 16v1m0 1v1m0 19v1m0 17v1m0 34v4M149.5 0v3m0 33v1m0 17v2m0 13v2m0 13v2m0 64v1M150.5 13v2m0 33v1m0 16v2m0 15v1m0 1v1m0 15v1m0 1v1m0 13v2m0 36v2M151.5 28v2m0 26v2m0 26v1m0 42v1m0 1v2m0 23v1M152.5 1v2m0 1v1m0 41v3m0 29v1m0 31v2m0 21v1m0 19v3m0 17v1M153.5 52v3m0 21v2m0 21v2m0 61v1m0 1v2M154.5 24v3m0 28v4m0 18v1m0 43v3m0 21v1M155.5 15v4m0 15v1m0 103v1m0 32v1m0 1v1M156.5 1v1m0 15v2m0 30v2m0 18v3m0 18v1m0 15v2m0 25v2m0 37v1M157.5 0v1m0 19v2m0 11v4m0 33v1m0 2v1m0 18v2m0 14v2m0 23v2M158.5 29v2m0 25v3m0 37v2m0 18v2m0 18v2M159.5 15v1m0 14v1m0 1v2m0 13v1m0 52v1m0 15v2m0 27v4M160.5 0v1m0 9v3m0 43v2m0 16v1m0 1v1m0 36v2m0 20v2m0 25v1M161.5 11v3m0 20v2m0 1v1m0 43v1m0 22v1m0 31v2m0 26v1M162.5 11v1m0 23v1m0 1v1m0 19v1m0 27v2m0 27v1m0 1v1m0 18v3m0 22v1M163.5 4v1m0 1v2m0 21v2m0 17v1m0 1v2m0 27v1m0 20v1m0 21v1M164.5 0v3m0 19v1m0 33v2m0 16v2m0 77v2M165.5 64v3m0 13v1m0 1v1m0 37v4m0 34v1m0 1v1M166.5 1v1m0 65v2m0 25v1m0 1v1m0 45v1m0 1v2M167.5 2v1m0 20v1m0 1v1m0 33v2m0 14v2m0 17v2m0 22v1m0 1v3m0 19v1m0 14v1m0 15v1M168.5 21v1m0 39v1m0 15v1m0 15v1m0 2v2m0 40v2m0 20v2M169.5 42v1m0 20v2m0 20v1m0 33v1m0 31v1m0 2v1M170.5 2v3m0 17v1m0 15v1m0 2v1m0 12v2m0 19v1m0 24v2m0 22v2m0 34v1M171.5 65v2m0 21v2m0 41v2m0 26v2M172.5 39v3m0 25v1m0 24v1m0 1v2m0 19v2m0 46v1m0 1v2M173.5 2v4m0 24v3m0 28v1m0 48v2M174.5 7v1m0 32v4m0 26v2m0 26v3m0 30v1m0 31v3M175.5 24v1m0 26v1m0 18v1m0 2v1m0 14v2m0 54v3M176.5 2v2m0 16v1m0 13v2m0 51v2m0 19v1m0 15v1M177.5 16v1m0 18v1m0 2v2m0 21v2m0 23v1m0 3v1m0 18v2m0 19v1m0 29v1M178.5 1v1m0 22v1m0 1v1m0 37v4m0 54v2m0 12v1m0 2v1m0 23v1M179.5 23v3m0 12v4m0 12v2m0 15v2m0 20v1m0 69v2M180.5 1v3m0 15v1m0 51v3m0 13v2m0 27v1m0 12v1m0 13v2m0 17v1m0 1v2M181.5 30v2m0 54v1m0 71v1M182.5 17v2m0 30v1m0 1v1m0 19v1m0 1v1m0 26v3m0 30v4M183.5 0v1m0 1v1m0 25v1m0 21v1m0 43v2m0 26v2m0 18v1M184.5 0v3m0 40v3m0 19v2m0 24v3m0 41v3m0 18v4M185.5 16v2m0 20v3m0 20v1m0 2v1m0 17v1m0 20v3m0 48v2M186.5 16v3m0 18v1m0 1v2m0 23v2m0 15v1m0 32v2m0 16v3m0 13v1m0 1v1M187.5 1v2m0 24v2m0 18v1m0 1v1m0 20v1m0 47v2m0 40v1M188.5 20v3m0 12v2m0 26v1m0 1v2m0 81v1m0 15v2M189.5 2v1m0 36v1m0 47v1m0 28v2m0 13v2m0 1v2m0 22v1m0 1v2M190.5 8v2m0 13v1m0 11v1m0 22v1m0 27v1m0 18v2m0 15v1m0 49v2M191.5 4v4m0 31v1m0 31v2m0 18v1m0 1v1m0 1v1m0 22v4m0 16v1m0 2v1M192.5 21v2m0 34v1m0 18v1m0 1v1m0 19v1m0 19v1m0 32v2m0 18v1M193.5 1v2m0 47v2m0 25v1m0 1v2m0 17v1m0 1v1m0 40v2m0 19v2M194.5 9v1m0 16v2m0 19v1m0 33v1m0 38v1m0 2v1m0 20v1M195.5 0v3m0 20v1m0 1v2m0 14v2m0 15v1m0 1v1m0 103v1m0 1v2M196.5 15v2m0 18v1m0 42v2m0 28v2m0 14v1m0 1v1m0 20v5M197.5 85v1m0 18v2m0 26v3m0 28v2M198.5 5v3m0 14v2m0 21v4m0 32v2m0 36v1m0 15v2m0 20v2m0 14v1M199.5 11v2m0 34v2m0 30v2m0 66v1"/>
<path stroke="#ff2c16" d="M11.5 62v1M13.5 95v1M15.5 89v1M24.5 39v1M30.5 78v1M32.5 26v1M34.5 170v1M60.5 35v3m0 54v1m0 19v1m0 18v1m0 13v1M61.5 28v1m0 45v1m0 47v1m0 21v1M62.5 14v2m0 28v1m0 31v4m0 55v1M63.5 44v2m0 52v1m0 20v1m0 43v1M64.5 0v1m0 58v2m0 17v1m0 18v3m0 47v2m0 22v2M65.5 6v1m0 95v1m0 23v2m0 40v2M66.5 0v1m0 90v2m0 20v2M67.5 48v2m0 50v2M68.5 4v1m0 17v1m0 14v2m0 38v2m0 39v3m0 25v3m0 23v1M69.5 54v1m0 18v3m0 16v1m0 16v3m0 17v1M70.5 1v1m0 19v1m0 15v1m0 27v1m0 37v1m0 42v1M71.5 32v2m0 19v1m0 38v2m0 66v1M72.5 21v2m0 35v1m0 30v2m0 66v1M73.5 12v1m0 18v1m0 18v3m0 40v1m0 18v1M74.5 17v1m0 20v3m0 41v1M75.5 39v2m0 22v1m0 17v3m0 20v2m0 24v1m0 21v2M76.5 9v1m0 15v1m0 31v1m0 18v1m0 43v1m0 51v2M77.5 57v1m0 30v1m0 74v1M78.5 28v3m0 29v1m0 19v1m0 14v1m0 22v1m0 18v2m0 16v1M79.5 46v1m0 30v1m0 17v1m0 1v1m0 21v2M80.5 46v3m0 38v1m0 39v1m0 17v1M81.5 6v3m0 18v1m0 58v3m0 22v2m0 20v1m0 35v2M82.5 28v1m0 23v1m0 52v1m0 24v2m0 20v4M83.5 137v3m0 33v1M84.5 25v1m0 103v1m0 20v1m0 1v1M85.5 32v1m0 16v2m0 60v1m0 28v3m0 28v2M86.5 11v1m0 17v1m0 112v1m0 15v1M87.5 12v2m0 34v3m0 37v2m0 80v1M88.5 20v1m0 16v1m0 19v1M89.5 3v1m0 14v3m0 13v1m0 77v1m0 49v1M90.5 20v1m0 12v3m0 20v1m0 18v1m0 16v2m0 10v2M91.5 1v2m0 69v1m0 59v2M92.5 0v2m0 24v1m0 57v1m0 26v2m0 37v1M93.5 30v2m0 38v1m0 43v2m0 31v1m0 25v1M94.5 33v1m0 136v2M95.5 0v1m0 50v2m0 53v3m0 61v1M96.5 8v1m0 18v2m0 35v1m0 37v1m0 1v1m0 15v1m0 19v1M97.5 24v1m0 18v2m0 28v1m0 51v1m0 22v2M98.5 75v1m0 70v1M99.5 13v1m0 45v1m0 14v3m0 12v2m0 30v1m0 21v2m0 21v3M100.5 21v2m0 33v2m0 35v2m0 31v2m0 16v2M101.5 0v1m0 46v1m0 22v2m0 42v1m0 40v1M102.5 19v2m0 45v1m0 35v1M103.5 115v1m0 25v2M104.5 24v1m0 22v2m0 18v1m0 26v2m0 20v1m0 35v1M105.5 24v1m0 62v1m0 16v1m0 22v1M106.5 49v1m0 27v3m0 39v1m0 22v1M107.5 5v1m0 72v3m0 17v2m0 48v2M108.5 13v2m0 24v3m0 15v2m0 12v1m0 23v1M109.5 0v2m0 39v3m0 65v1m0 27v2m0 33v2M110.5 16v1m0 63v1M111.5 8v2m0 71v2m0 36v1m0 1v1m0 21v2M112.5 123v1m0 31v1M113.5 39v1m0 72v2m0 35v3M114.5 0v1m0 42v1m0 19v2m0 20v1M115.5 22v2m0 109v1m0 16v2M116.5 48v2m0 26v2m0 37v3m0 16v1m0 19v1M117.5 26v1m0 63v1m0 20v2m0 23v1m0 21v1M118.5 2v2m0 43v2m0 33v1m0 74v3M119.5 61v1m0 31v1m0 51v1m0 13v1M120.5 0v2m0 14v1m0 51v3m0 25v3m0 21v2m0 21v2m0 12v1M121.5 12v3m0 31v2m0 24v1m0 80v2M122.5 1v1m0 54v1m0 62v3M123.5 27v1m0 116v2M124.5 29v2m0 85v1m0 25v1M125.5 42v1m0 57v2m0 17v1m0 24v1M126.5 30v2m0 77v1m0 36v2M127.5 5v2m0 31v2m0 30v1m0 45v1m0 35v2m0 18v1M128.5 22v1m0 39v1m0 25v1m0 17v2m0 58v1M129.5 47v2m0 66v2m0 24v1M130.5 4v1m0 33v1m0 21v1m0 1v1m0 51v2m0 17v1m0 26v2m0 1v1M131.5 28v3m0 40v1m0 46v1m0 20v2m0 21v1M132.5 10v2m0 19v3m0 37v2m0 20v1m0 59v1M133.5 69v2m0 27v1m0 25v2M134.5 1v3m0 35v1m0 106v2M135.5 9v1m0 40v1m0 47v1M136.5 4v2m0 71v3m0 21v3m0 17v1m0 18v1m0 1v1m0 24v1M137.5 27v2M138.5 20v3m0 17v1m0 12v1m0 22v1m0 26v1m0 19v2m0 18v1m0 15v1M139.5 17v1m0 11v1m0 13v2m0 24v1m0 11v1m0 65v2m0 24v1M140.5 0v1m0 81v2m0 10v1m0 26v1M141.5 41v1m0 21v3m0 19v2M142.5 0v1m0 20v2m0 56v3m0 46v3m0 40v2M143.5 59v2m0 19v1m0 30v3m0 25v2M144.5 0v1m0 22v2m0 67v2m0 34v1m0 30v1M145.5 20v1m0 17v1m0 33v3m0 39v1m0 53v1M146.5 56v2M147.5 14v2m0 103v1m0 28v2m0 17v1M148.5 3v3m0 19v1m0 22v2m0 17v1m0 17v1m0 20v2m0 15v3M149.5 34v2m0 32v1m0 52v3m0 24v2M150.5 11v2m0 36v2m0 12v2m0 18v1m0 17v1m0 13v1m0 36v2M151.5 27v1m0 27v1m0 26v2m0 44v1M152.5 3v1m0 71v3m0 53v2m0 18v2M153.5 75v1m0 21v2m0 64v1M154.5 23v1m0 51v2m0 67v1M155.5 14v1m0 16v3m0 46v4m0 52v2m0 34v1M156.5 0v1m0 18v1m0 68v2m0 81v1M157.5 18v2m0 28v2m0 21v2m0 18v1m0 14v2M158.5 0v1m0 27v1m0 84v3m0 18v2M159.5 13v2m0 16v1m0 13v2m0 52v1m0 15v1M160.5 111v2m0 47v2M161.5 10v1m0 25v1m0 42v2m0 21v2m0 30v2m0 26v2M162.5 10v1m0 25v1m0 19v1m0 27v1m0 30v1m0 45v3M163.5 5v1m0 22v1m0 20v1m0 28v1m0 41v2M164.5 20v2m0 33v1m0 96v1M165.5 22v2m0 57v1m0 77v1M166.5 0v1m0 64v2m0 76v1M167.5 0v2m0 20v1m0 34v2m0 15v1m0 44v1m0 19v3m0 16v1M168.5 19v2m0 55v1m0 1v1m0 15v2m0 23v3m0 37v1M169.5 40v2m0 20v1m0 20v2m0 32v2m0 33v1M170.5 19v3m0 17v2m0 11v2m0 19v2m0 48v1m0 33v3M171.5 23v3m0 38v1m0 22v1m0 41v2m0 27v1M172.5 10v3m0 55v2m0 23v1m0 20v1m0 49v1M173.5 29v1m0 29v2m0 46v3M174.5 4v3m0 61v2m0 59v2M175.5 49v2m0 21v1m0 14v1M176.5 18v2m0 65v2m0 20v1m0 15v1m0 1v1M177.5 14v2m0 20v2m0 49v3m0 17v2m0 20v1m0 27v3M178.5 23v1m0 1v1m0 81v2m0 12v1m0 15v2m0 22v2M179.5 22v1m0 30v1m0 15v2m0 20v2m0 69v1M180.5 0v1m0 16v2m0 65v3m0 27v1m0 15v1m0 11v1m0 20v1M181.5 60v2m0 23v1m0 70v2M182.5 16v1m0 33v1m0 18v2M183.5 1v1m0 27v2m0 17v2m0 43v1m0 25v3m0 18v2M184.5 114v3M185.5 62v2m0 17v1m0 53v3m0 14v2M186.5 14v2m0 22v1m0 24v1m0 16v1m0 31v2m0 35v1M187.5 0v1m0 25v1m0 21v1m0 19v2m0 88v2M188.5 64v1m0 55v2m0 23v3M189.5 0v2m0 12v3m0 19v3m0 46v2m0 26v3m0 17v1m0 25v1M190.5 5v3m0 13v2m0 11v1m0 20v3m0 27v1m0 34v2M191.5 37v2m0 29v3m0 21v1m0 46v2M192.5 19v2m0 34v2m0 20v1m0 18v2m0 17v3m0 54v2M193.5 0v1m0 24v4m0 19v2m0 28v1m0 18v1m0 63v1M194.5 10v1m0 17v1m0 17v1m0 32v2m0 40v1m0 20v2M195.5 24v1m0 34v1m0 105v1M196.5 14v1m0 18v2m0 42v1m0 28v2M197.5 84v1m0 46v1m0 30v1M198.5 4v1m0 75v1m0 37v1m0 18v1m0 18v1m0 15v1M199.5 8v3m0 38v1m0 28v1m0 34v3m0 28v3"/></g>
</g></g>
<rect x="49.0" y="20.0" width="588.5" height="174.0" stroke="#222" stroke-width="0.8" fill="none"/>
<path d="M46.2 194.0L49.0 194.0" stroke="#222" stroke-width="0.8" fill="none"/>
<text x="42.5" y="198.9" font-size="13.1" text-anchor="end" fill="#111" stroke="#111" >0</text>
<path d="M46.2 159.2L49.0 159.2" stroke="#222" stroke-width="0.8" fill="none"/>
<text x="42.5" y="164.1" font-size="13.1" text-anchor="end" fill="#111" stroke="#111" >200</text>
<path d="M46.2 124.4L49.0 124.4" stroke="#222" stroke-width="0.8" fill="none"/>
<text x="42.5" y="129.3" font-size="13.1" text-anchor="end" fill="#111" stroke="#111" >400</text>
<path d="M46.2 89.6L49.0 89.6" stroke="#222" stroke-width="0.8" fill="none"/>
<text x="42.5" y="94.5" font-size="13.1" text-anchor="end" fill="#111" stroke="#111" >600</text>
<path d="M46.2 54.8L49.0 54.8" stroke="#222" stroke-width="0.8" fill="none"/>
<text x="42.5" y="59.7" font-size="13.1" text-anchor="end" fill="#111" stroke="#111" >800</text>
<path d="M46.2 20.0L49.0 20.0" stroke="#222" stroke-width="0.8" fill="none"/>
<text x="42.5" y="24.9" font-size="13.1" text-anchor="end" fill="#111" stroke="#111" >1000</text>
<path d="M49.0 194.0L49.0 196.8" stroke="#222" stroke-width="0.8" fill="none"/>
<path d="M122.6 194.0L122.6 196.8" stroke="#222" stroke-width="0.8" fill="none"/>
<path d="M196.1 194.0L196.1 196.8" stroke="#222" stroke-width="0.8" fill="none"/>
<path d="M269.7 194.0L269.7 196.8" stroke="#222" stroke-width="0.8" fill="none"/>
<path d="M343.2 194.0L343.2 196.8" stroke="#222" stroke-width="0.8" fill="none"/>
<path d="M416.8 194.0L416.8 196.8" stroke="#222" stroke-width="0.8" fill="none"/>
<path d="M490.4 194.0L490.4 196.8" stroke="#222" stroke-width="0.8" fill="none"/>
<path d="M563.9 194.0L563.9 196.8" stroke="#222" stroke-width="0.8" fill="none"/>
<path d="M637.5 194.0L637.5 196.8" stroke="#222" stroke-width="0.8" fill="none"/>
<text x="4.5" y="104.5" font-size="17" text-anchor="start" fill="#111" stroke="#111" font-style="italic" >t</text>
<rect x="49.0" y="235.5" width="588.5" height="173.5" stroke="#222" stroke-width="0.8" fill="none"/>
<path d="M46.2 409.0L49.0 409.0" stroke="#222" stroke-width="0.8" fill="none"/>
<text x="42.5" y="413.9" font-size="13.1" text-anchor="end" fill="#111" stroke="#111" >0</text>
<path d="M46.2 374.3L49.0 374.3" stroke="#222" stroke-width="0.8" fill="none"/>
<text x="42.5" y="379.2" font-size="13.1" text-anchor="end" fill="#111" stroke="#111" >200</text>
<path d="M46.2 339.6L49.0 339.6" stroke="#222" stroke-width="0.8" fill="none"/>
<text x="42.5" y="344.5" font-size="13.1" text-anchor="end" fill="#111" stroke="#111" >400</text>
<path d="M46.2 304.9L49.0 304.9" stroke="#222" stroke-width="0.8" fill="none"/>
<text x="42.5" y="309.8" font-size="13.1" text-anchor="end" fill="#111" stroke="#111" >600</text>
<path d="M46.2 270.2L49.0 270.2" stroke="#222" stroke-width="0.8" fill="none"/>
<text x="42.5" y="275.1" font-size="13.1" text-anchor="end" fill="#111" stroke="#111" >800</text>
<path d="M46.2 235.5L49.0 235.5" stroke="#222" stroke-width="0.8" fill="none"/>
<text x="42.5" y="240.4" font-size="13.1" text-anchor="end" fill="#111" stroke="#111" >1000</text>
<path d="M49.0 409.0L49.0 411.8" stroke="#222" stroke-width="0.8" fill="none"/>
<text x="49.0" y="426.4" font-size="13.1" text-anchor="middle" fill="#111" stroke="#111" >0</text>
<path d="M122.6 409.0L122.6 411.8" stroke="#222" stroke-width="0.8" fill="none"/>
<text x="122.6" y="426.4" font-size="13.1" text-anchor="middle" fill="#111" stroke="#111" >25</text>
<path d="M196.1 409.0L196.1 411.8" stroke="#222" stroke-width="0.8" fill="none"/>
<text x="196.1" y="426.4" font-size="13.1" text-anchor="middle" fill="#111" stroke="#111" >50</text>
<path d="M269.7 409.0L269.7 411.8" stroke="#222" stroke-width="0.8" fill="none"/>
<text x="269.7" y="426.4" font-size="13.1" text-anchor="middle" fill="#111" stroke="#111" >75</text>
<path d="M343.2 409.0L343.2 411.8" stroke="#222" stroke-width="0.8" fill="none"/>
<text x="343.2" y="426.4" font-size="13.1" text-anchor="middle" fill="#111" stroke="#111" >100</text>
<path d="M416.8 409.0L416.8 411.8" stroke="#222" stroke-width="0.8" fill="none"/>
<text x="416.8" y="426.4" font-size="13.1" text-anchor="middle" fill="#111" stroke="#111" >125</text>
<path d="M490.4 409.0L490.4 411.8" stroke="#222" stroke-width="0.8" fill="none"/>
<text x="490.4" y="426.4" font-size="13.1" text-anchor="middle" fill="#111" stroke="#111" >150</text>
<path d="M563.9 409.0L563.9 411.8" stroke="#222" stroke-width="0.8" fill="none"/>
<text x="563.9" y="426.4" font-size="13.1" text-anchor="middle" fill="#111" stroke="#111" >175</text>
<path d="M637.5 409.0L637.5 411.8" stroke="#222" stroke-width="0.8" fill="none"/>
<text x="637.5" y="426.4" font-size="13.1" text-anchor="middle" fill="#111" stroke="#111" >200</text>
<text x="4.5" y="319.75" font-size="17" text-anchor="start" fill="#111" stroke="#111" font-style="italic" >t</text>
<path d="M577.2 20.0L577.2 194.0" stroke="#111" stroke-width="1.2" fill="none"/>
<path d="M224.4 235.5L224.4 409.0" stroke="#111" stroke-width="1.2" fill="none"/>
<text x="50" y="14.0" font-size="16" fill="#111" stroke="#111" font-style="italic">γ<tspan font-size="11.2" dy="3.5">I</tspan></text>
<text x="68.5" y="15.5" font-size="15.5" text-anchor="start" fill="#111" stroke="#111"  textLength="39" lengthAdjust="spacing">= 0.1</text>
<text x="300" y="17" font-size="15" text-anchor="start" fill="#111" stroke="#111"  textLength="70" lengthAdjust="spacing">excitatory</text>
<text x="574" y="17" font-size="15" text-anchor="start" fill="#1e8a1e" stroke="#1e8a1e"  textLength="66" lengthAdjust="spacing">inhibitory</text>
<text x="50" y="228.5" font-size="16" fill="#111" stroke="#111" font-style="italic">γ<tspan font-size="11.2" dy="3.5">I</tspan></text>
<text x="68.5" y="230" font-size="15.5" text-anchor="start" fill="#111" stroke="#111"  textLength="39" lengthAdjust="spacing">= 0.7</text>
<text x="122.5" y="231.5" font-size="15" text-anchor="start" fill="#111" stroke="#111"  textLength="71" lengthAdjust="spacing">excitatory</text>
<text x="398" y="231.5" font-size="15" text-anchor="start" fill="#1e8a1e" stroke="#1e8a1e"  textLength="65" lengthAdjust="spacing">inhibitory</text>
<text x="294" y="444.5" font-size="15.5" text-anchor="start" fill="#111" stroke="#111"  textLength="97.5" lengthAdjust="spacing">neuron index</text>
<defs><linearGradient id="rb" x1="0" y1="0" x2="0" y2="1"><stop offset="0.00" stop-color="#ff0000"/><stop offset="0.05" stop-color="#ff2814"/><stop offset="0.10" stop-color="#ff4f28"/><stop offset="0.15" stop-color="#ff743c"/><stop offset="0.20" stop-color="#ff964f"/><stop offset="0.25" stop-color="#ffb462"/><stop offset="0.30" stop-color="#e5ce74"/><stop offset="0.35" stop-color="#cce385"/><stop offset="0.40" stop-color="#b2f396"/><stop offset="0.45" stop-color="#99fca6"/><stop offset="0.50" stop-color="#80ffb4"/><stop offset="0.55" stop-color="#66fcc2"/><stop offset="0.60" stop-color="#4df3ce"/><stop offset="0.65" stop-color="#33e3d9"/><stop offset="0.70" stop-color="#1acee3"/><stop offset="0.75" stop-color="#00b4ec"/><stop offset="0.80" stop-color="#1a96f3"/><stop offset="0.85" stop-color="#3374f8"/><stop offset="0.90" stop-color="#4d4ffc"/><stop offset="0.95" stop-color="#6628fe"/><stop offset="1.00" stop-color="#8000ff"/></linearGradient></defs>
<rect x="665.0" y="129.2" width="9.0" height="173.40000000000003" stroke="#222" stroke-width="0.8" fill="url(#rb)"/>
<path d="M674.0 152.2L676.8 152.2" stroke="#222" stroke-width="0.8" fill="none"/>
<text x="680.5" y="157.8" font-size="13.5" text-anchor="start" fill="#111" stroke="#111" >2</text>
<path d="M674.0 184.3L676.8 184.3" stroke="#222" stroke-width="0.8" fill="none"/>
<text x="680.5" y="189.9" font-size="13.5" text-anchor="start" fill="#111" stroke="#111" >1</text>
<path d="M674.0 216.3L676.8 216.3" stroke="#222" stroke-width="0.8" fill="none"/>
<text x="680.5" y="221.9" font-size="13.5" text-anchor="start" fill="#111" stroke="#111" >0</text>
<path d="M674.0 248.3L676.8 248.3" stroke="#222" stroke-width="0.8" fill="none"/>
<text x="680.5" y="253.9" font-size="13.5" text-anchor="start" fill="#111" stroke="#111" >−1</text>
<path d="M674.0 280.4L676.8 280.4" stroke="#222" stroke-width="0.8" fill="none"/>
<text x="680.5" y="286.0" font-size="13.5" text-anchor="start" fill="#111" stroke="#111" >−2</text>
<clipPath id="cc1"><rect x="51.2" y="476.5" width="239.40000000000003" height="207.70000000000005"/></clipPath>
<g clip-path="url(#cc1)">
<rect x="51.2" y="476.5" width="239.40000000000003" height="207.70000000000005" fill="#333399"/>
<path fill="#333399" fill-rule="evenodd" d="M292.2 685.5 49.2 685.5 49.2 481.2 152.2 480.4 292.2 478.6 292.2 685.5Z"/>
<path fill="#254eb4" fill-rule="evenodd" d="M292.2 685.5 49.2 685.5 49.2 575.4 72.2 575.2 88.2 573.2 94.2 572.1 106.2 569.1 114.2 566.1 120.2 563.1 121.2 562.1 122.5 559.5 122.2 557.9 121.2 556.7 118.2 554.8 109.2 550.9 98.6 547.5 86.8 544.5 71.2 541.5 58.3 539.5 49.2 538.7 49.2 493.8 121.5 492.5 158.4 491.5 292.2 486.8 292.2 685.5Z"/>
<path fill="#1372d8" fill-rule="evenodd" d="M270.2 663.6 269.0 663.5 267.5 662.5 267.1 661.5 266.9 659.5 266.5 658.5 264.8 656.5 264.8 655.5 266.2 654.2 266.8 652.5 265.2 646.3 264.2 644.7 263.2 643.8 262.2 643.6 261.2 644.3 260.3 645.5 260.3 648.5 259.7 649.5 256.2 650.0 254.8 649.5 254.3 646.5 253.2 645.5 250.2 645.4 249.2 644.5 248.8 642.5 248.9 639.5 248.6 635.5 247.2 630.5 245.2 630.1 242.2 627.9 240.2 628.1 238.2 629.2 237.2 629.4 236.2 628.8 234.9 625.5 233.2 623.8 227.2 622.8 226.2 622.9 224.9 623.5 223.6 626.5 223.2 626.8 220.2 625.7 219.2 625.9 218.1 626.5 215.2 627.3 213.2 629.5 212.2 629.4 211.0 627.5 211.2 625.2 212.2 624.4 214.2 625.4 215.2 625.5 216.2 625.1 218.0 623.5 218.1 622.5 217.3 619.5 217.4 617.5 217.0 616.5 215.3 614.5 214.2 612.3 213.1 612.5 212.2 615.0 211.0 614.5 209.7 612.5 208.3 608.5 207.6 605.5 205.8 603.5 205.1 600.5 202.2 596.6 198.2 595.2 195.2 592.5 194.2 592.0 191.9 591.5 191.3 588.5 188.5 584.5 184.2 573.0 183.2 570.7 182.3 569.5 168.2 558.5 166.5 557.5 163.3 556.5 136.7 549.5 126.2 547.1 123.1 545.5 105.0 541.5 92.2 539.4 70.9 536.5 55.6 534.5 49.2 534.0 49.2 500.8 82.2 500.1 114.2 499.1 292.2 490.6 292.2 652.9 291.1 653.5 290.4 654.5 290.3 655.5 290.5 656.5 292.2 658.3 292.2 660.5 290.1 660.5 289.0 659.5 288.3 657.5 287.2 656.7 286.2 656.7 284.2 657.7 283.1 658.5 282.2 660.3 281.2 660.1 280.4 658.5 278.2 657.3 277.3 654.5 276.2 652.8 275.2 652.0 273.2 651.4 272.2 651.6 271.7 652.5 271.6 655.5 269.2 657.5 269.0 658.5 269.4 659.5 271.0 661.5 271.3 662.5 270.2 663.6ZM221.9 621.5 222.2 620.5 221.2 620.3 220.8 621.5 221.2 622.4 221.9 621.5ZM229.2 640.1 228.2 640.4 226.4 638.5 225.7 636.5 225.7 635.5 226.2 634.7 227.2 634.6 228.2 635.0 229.2 636.0 229.6 637.5 229.2 640.1ZM252.2 654.2 252.0 653.5 252.2 652.9 252.2 654.2ZM257.2 657.7 256.0 657.5 256.1 656.5 257.2 656.7 257.2 657.7Z"/>
<path fill="#0197fd" fill-rule="evenodd" d="M292.2 642.9 288.8 640.5 284.2 638.2 280.2 635.1 277.2 634.2 275.2 632.5 274.2 632.1 273.2 632.2 270.2 634.1 268.2 634.0 262.2 630.9 257.2 626.8 254.2 625.9 252.2 623.0 247.8 620.5 245.2 617.4 243.2 616.2 240.2 613.6 238.2 610.9 235.2 609.4 228.4 604.5 226.9 601.5 224.2 599.4 221.2 595.9 218.2 595.0 217.5 594.5 217.0 593.5 216.2 589.6 214.2 586.5 213.2 585.7 211.2 585.4 210.2 584.9 208.4 582.5 206.2 576.1 204.2 571.3 203.2 569.6 199.5 567.5 195.9 563.5 186.4 558.5 170.4 551.5 167.2 550.5 98.2 538.2 55.2 531.9 49.2 531.3 49.2 504.1 132.2 501.1 292.2 493.4 292.2 642.9Z"/>
<path fill="#00b3b2" fill-rule="evenodd" d="M292.2 636.4 289.2 635.0 282.2 630.0 274.2 628.0 270.2 628.2 264.2 626.6 262.5 625.5 255.2 618.1 252.2 616.6 251.2 615.7 249.1 612.5 243.2 606.5 239.1 603.5 236.4 599.5 232.0 594.5 230.8 592.5 230.2 589.4 228.2 587.1 227.5 583.5 226.7 582.5 224.2 580.6 223.5 579.5 222.7 575.5 222.2 574.6 220.2 573.7 219.1 572.5 218.4 568.5 217.3 566.5 214.2 563.9 210.2 559.4 205.2 556.2 195.4 552.5 183.8 549.5 163.9 545.5 131.0 539.5 106.4 535.5 84.8 532.5 67.3 530.5 49.2 529.0 49.2 507.1 104.2 505.4 200.5 500.5 292.2 496.5 292.2 636.4Z"/>
<path fill="#03cd67" fill-rule="evenodd" d="M292.2 631.8 290.2 631.7 289.2 631.3 285.5 628.5 283.2 627.2 279.2 626.4 276.2 625.2 272.2 624.4 266.7 622.5 264.2 619.7 260.2 617.7 258.2 615.7 253.2 608.5 251.3 606.5 247.3 604.5 246.2 602.5 245.2 601.5 242.2 600.8 241.2 600.2 240.1 598.5 239.4 594.5 238.6 592.5 237.4 591.5 235.2 590.4 234.7 589.5 234.0 587.5 233.6 583.5 232.6 579.5 230.9 576.5 229.6 572.5 227.4 569.5 224.4 563.5 222.6 561.5 219.2 559.2 216.3 556.5 210.9 553.5 203.2 550.5 190.2 546.9 139.2 537.9 114.2 534.0 91.2 530.8 66.2 528.1 49.2 526.8 49.2 510.0 106.2 508.1 192.2 503.5 292.2 499.2 292.2 631.8Z"/>
<path fill="#3ad872" fill-rule="evenodd" d="M292.2 630.0 290.2 629.7 284.2 626.1 279.9 624.5 276.2 621.5 272.2 620.1 267.2 617.1 263.2 613.5 261.8 611.5 259.2 610.7 258.2 610.0 255.3 605.5 252.4 602.5 252.0 601.5 251.8 598.5 248.2 593.5 248.2 591.8 249.4 590.5 249.7 589.5 249.2 588.5 248.2 589.2 247.2 590.6 246.2 590.4 245.6 589.5 244.6 585.5 242.6 582.5 241.6 576.5 240.2 573.7 238.9 572.5 236.8 569.5 236.2 569.1 233.2 568.2 232.3 567.5 230.0 563.5 225.2 558.6 217.7 553.5 213.2 550.9 206.2 547.9 194.2 544.4 184.9 542.5 155.5 537.5 116.8 531.5 84.2 527.0 63.2 524.8 49.2 523.9 49.2 513.3 85.2 512.1 199.2 505.9 292.2 501.5 292.2 630.0Z"/>
<path fill="#70e27c" fill-rule="evenodd" d="M292.2 628.2 290.2 627.9 287.2 625.6 281.2 622.9 278.6 619.5 274.2 615.2 271.1 609.5 265.7 602.5 265.3 598.5 264.0 593.5 263.2 592.4 258.2 591.1 256.3 589.5 255.5 587.5 254.8 584.5 253.5 581.5 253.2 577.0 252.2 576.1 249.2 575.6 247.6 574.5 246.7 572.5 246.3 569.5 245.2 567.4 241.2 565.1 239.2 563.1 238.2 562.5 236.2 562.3 234.2 561.4 224.2 553.6 215.2 548.3 206.2 544.5 194.4 541.5 158.2 535.2 121.4 529.5 104.6 526.5 95.7 524.5 85.1 521.5 79.4 519.5 78.3 518.5 81.1 517.5 92.6 515.5 113.3 513.5 240.2 505.8 292.2 503.5 292.2 628.2Z"/>
<path fill="#a7ed87" fill-rule="evenodd" d="M292.2 625.9 291.0 625.5 288.2 622.9 285.7 621.5 284.1 619.5 281.2 617.7 279.2 615.5 277.4 612.5 275.2 610.3 273.2 605.9 270.8 602.5 270.2 600.4 268.2 596.3 266.6 590.5 264.6 587.5 263.7 584.5 261.2 581.5 260.2 576.8 258.8 574.5 256.0 568.5 255.2 567.5 254.2 567.0 251.2 566.7 250.2 566.2 247.2 563.0 243.7 561.5 241.0 559.5 237.3 557.5 235.2 556.0 217.2 545.8 210.2 542.8 205.2 541.1 195.2 538.8 169.2 534.5 149.0 530.5 117.2 523.7 112.4 522.5 109.8 521.5 110.5 520.5 118.2 519.1 155.2 514.2 170.2 512.6 207.6 509.5 243.2 507.0 266.2 505.8 292.2 505.0 292.2 625.9Z"/>
<path fill="#ddf892" fill-rule="evenodd" d="M292.2 622.2 287.7 619.5 284.2 615.5 282.0 613.5 281.4 612.5 280.2 608.3 276.8 603.5 275.3 599.5 273.7 597.5 271.2 592.9 270.9 591.5 271.1 587.5 270.5 584.5 270.2 583.8 268.2 582.7 267.2 581.5 266.6 579.5 266.4 575.5 264.2 570.5 263.2 569.3 261.2 568.7 260.2 568.0 258.3 564.5 257.2 563.4 255.2 562.5 252.2 562.1 251.2 561.7 246.2 557.8 243.2 556.4 240.2 554.4 234.2 551.6 219.8 543.5 209.2 539.0 204.2 537.5 197.2 536.0 173.2 532.1 163.2 530.0 137.2 523.5 134.4 522.5 134.4 521.5 143.4 519.5 166.2 515.8 212.2 510.9 254.4 507.5 274.2 506.6 292.2 506.2 292.2 622.2Z"/>
<path fill="#f5f293" fill-rule="evenodd" d="M292.2 618.9 290.7 618.5 289.2 617.5 287.2 615.0 286.6 613.5 286.0 610.5 282.1 605.5 280.2 601.5 276.6 592.5 275.8 588.5 274.7 585.5 274.8 581.5 273.9 578.5 273.6 575.5 272.6 572.5 271.2 570.9 268.2 569.9 266.2 565.9 263.7 563.5 261.8 560.5 260.2 559.2 255.8 556.5 252.2 555.1 249.2 553.3 237.7 548.5 226.2 542.5 212.2 536.7 206.2 534.8 198.2 533.1 174.9 529.5 169.2 528.3 160.2 525.5 155.6 523.5 154.5 522.5 157.2 521.2 169.6 518.5 191.2 515.3 214.4 512.5 234.1 510.5 256.2 508.8 275.2 507.8 292.2 507.3 292.2 618.9Z"/>
<path fill="#dacf85" fill-rule="evenodd" d="M292.2 609.2 287.5 603.5 285.6 599.5 280.1 592.5 279.5 589.5 279.6 587.5 280.3 585.5 280.0 583.5 279.3 581.5 277.3 578.5 276.9 576.5 274.4 570.5 269.2 566.3 266.2 562.3 262.2 558.0 251.2 550.6 245.2 547.3 231.7 540.5 222.1 536.5 213.7 533.5 203.6 530.5 187.2 526.5 171.7 523.5 170.7 522.5 173.0 521.5 176.8 520.5 186.4 518.5 212.2 515.0 256.2 510.9 292.2 508.6 292.2 609.2Z"/>
<path fill="#beac76" fill-rule="evenodd" d="M283.2 569.8 282.2 569.4 281.3 567.5 281.3 566.5 282.4 563.5 281.2 562.1 280.2 561.6 277.2 561.9 276.2 561.5 275.2 560.2 274.2 559.7 272.2 559.4 271.2 558.9 269.1 556.5 266.3 554.5 261.2 552.0 257.2 549.4 244.2 542.1 237.2 538.9 227.2 534.9 213.2 530.1 192.0 523.5 190.0 522.5 190.8 521.5 198.2 519.5 217.4 516.5 248.2 513.4 292.2 510.0 292.2 568.4 291.2 568.0 288.2 565.5 286.2 564.7 285.2 564.7 284.6 565.5 284.4 568.5 284.2 569.1 283.2 569.8ZM292.2 602.3 290.2 601.6 289.4 600.5 287.5 591.5 287.0 587.5 287.2 586.3 289.5 585.5 290.3 583.5 292.2 581.3 292.2 602.3Z"/>
<path fill="#a38967" fill-rule="evenodd" d="M292.2 556.1 289.2 556.1 280.2 554.5 269.2 551.0 264.2 548.7 246.2 538.8 240.2 535.9 225.2 529.7 207.9 523.5 206.5 522.5 208.2 521.5 215.2 519.6 227.7 517.5 254.6 514.5 292.2 511.4 292.2 556.1Z"/>
<path fill="#886759" fill-rule="evenodd" d="M292.2 550.8 288.2 550.7 283.2 549.1 273.2 546.6 261.2 541.7 242.2 532.1 222.7 523.5 221.9 522.5 223.7 521.5 230.2 519.8 244.5 517.5 269.2 514.8 292.2 512.9 292.2 550.8Z"/>
<path fill="#92746d" fill-rule="evenodd" d="M292.2 544.9 288.2 544.5 280.2 542.8 266.2 538.6 260.2 536.1 248.3 530.5 238.5 525.5 235.7 523.5 236.2 522.5 238.8 521.5 242.5 520.5 253.2 518.6 269.4 516.5 292.2 514.3 292.2 544.9Z"/>
<path fill="#ad9792" fill-rule="evenodd" d="M292.2 540.5 288.2 540.2 281.2 538.7 269.2 535.1 262.2 532.0 249.0 525.5 247.7 524.5 248.0 523.5 253.1 521.5 262.7 519.5 279.2 517.1 292.2 515.8 292.2 540.5Z"/>
<path fill="#c9b9b6" fill-rule="evenodd" d="M292.2 537.1 289.2 536.8 283.4 535.5 273.2 532.3 269.0 530.5 261.1 526.5 259.2 525.5 258.4 524.5 259.6 523.5 262.0 522.5 270.2 520.5 281.6 518.5 292.2 517.2 292.2 537.1Z"/>
<path fill="#e4dcdb" fill-rule="evenodd" d="M292.2 534.2 288.2 533.3 273.7 527.5 269.9 525.5 269.8 524.5 272.2 523.1 277.7 521.5 286.1 519.5 292.2 518.6 292.2 534.2Z"/>
<path fill="#ffffff" fill-rule="evenodd" d="M292.2 530.8 289.2 529.9 283.4 526.5 282.2 525.5 282.4 524.5 285.2 522.5 287.6 521.5 292.2 520.5 292.2 530.8Z"/>
</g>
<clipPath id="cc2"><rect x="403.0" y="477.6" width="237.0" height="206.60000000000002"/></clipPath>
<g clip-path="url(#cc2)">
<rect x="403.0" y="477.6" width="237.0" height="206.60000000000002" fill="#333399"/>
<path fill="#333399" fill-rule="evenodd" d="M642.0 685.6 401.0 685.6 401.0 475.6 642.0 475.6 642.0 685.6Z"/>
<path fill="#333399" fill-rule="evenodd" d="M642.0 685.6 401.0 685.6 401.0 482.5 497.0 481.6 642.0 481.6 642.0 685.6Z"/>
<path fill="#333399" fill-rule="evenodd" d="M642.0 685.6 401.0 685.6 401.0 563.7 470.0 563.9 497.0 563.3 511.0 562.5 524.0 561.3 532.0 559.7 532.4 559.6 533.0 558.6 531.0 557.5 525.0 556.3 508.0 554.8 454.0 552.1 401.0 550.4 401.0 489.2 497.0 487.5 642.0 487.4 642.0 685.6Z"/>
<path fill="#274ab0" fill-rule="evenodd" d="M642.0 685.6 401.0 685.6 401.0 575.7 443.0 575.4 468.0 574.7 478.0 574.3 496.0 572.4 511.0 570.0 519.0 568.1 525.0 566.2 530.0 564.2 534.0 562.1 535.0 561.0 535.7 559.6 535.7 558.6 535.0 557.2 533.0 555.3 527.0 552.4 520.8 550.6 510.0 548.8 459.1 543.6 420.6 540.6 401.0 539.5 401.0 495.6 454.0 494.0 498.0 493.2 642.0 492.9 642.0 685.6Z"/>
<path fill="#186ad0" fill-rule="evenodd" d="M640.0 663.7 639.0 664.5 638.0 664.4 634.1 658.6 632.0 657.8 631.0 658.0 629.9 659.6 629.8 660.6 630.3 662.6 630.0 663.7 629.0 663.5 628.0 661.9 627.0 661.4 624.0 661.5 623.4 660.6 623.8 656.6 623.3 655.6 622.0 654.2 621.0 653.9 619.0 654.0 618.0 653.6 616.7 651.6 615.3 646.6 612.0 643.0 611.0 642.8 609.7 643.6 609.5 644.6 609.7 645.6 611.2 649.6 611.2 650.6 610.6 651.6 609.0 652.5 608.0 653.0 607.0 652.8 604.0 649.7 600.6 648.6 600.3 647.6 601.0 645.4 602.0 644.8 603.0 644.9 603.3 644.6 602.7 643.6 601.0 642.6 599.4 638.6 598.1 636.6 597.8 635.6 598.5 632.6 598.6 630.6 596.1 624.6 595.0 623.8 594.0 624.1 592.0 626.0 591.0 626.4 588.0 626.2 587.5 625.6 588.3 623.6 588.4 621.6 585.5 616.6 585.3 613.6 585.0 613.0 584.0 612.3 583.0 612.3 582.0 613.0 581.2 614.6 581.1 615.6 581.7 619.6 581.7 622.6 582.2 623.6 583.6 624.6 584.3 625.6 584.2 628.6 583.9 629.6 583.0 630.6 582.0 630.5 580.4 628.6 579.7 627.6 579.1 624.6 577.0 622.2 576.1 619.6 576.3 614.6 577.9 611.6 577.0 608.6 576.0 606.7 575.0 605.7 571.0 603.8 569.8 602.6 569.4 601.6 568.6 595.6 568.5 588.6 568.0 586.6 566.3 582.6 566.2 581.6 567.0 579.7 567.0 578.6 566.4 577.6 564.1 575.6 564.2 573.6 564.7 571.6 564.0 570.6 559.0 570.9 558.0 570.3 557.6 569.6 557.6 567.6 559.0 565.9 561.0 566.3 562.0 566.1 564.0 565.7 565.0 564.8 565.0 561.5 564.0 559.2 563.0 558.9 560.8 559.6 560.4 561.6 559.0 563.6 558.0 563.8 557.0 563.6 555.1 562.6 556.0 560.3 557.2 558.6 557.4 557.6 557.1 556.6 556.0 555.8 554.0 555.2 552.1 553.6 549.0 553.4 547.7 552.6 540.0 551.5 535.8 549.6 521.0 546.8 458.0 541.0 401.0 536.4 401.0 499.2 501.0 497.0 642.0 496.1 642.0 650.7 641.0 651.2 640.5 652.6 641.0 654.6 642.0 655.5 642.0 661.8 640.0 663.7ZM549.0 561.8 548.6 561.6 548.3 560.6 548.0 557.6 548.1 556.6 549.0 554.7 550.0 554.9 550.6 555.6 551.2 556.6 551.3 557.6 550.0 561.2 549.0 561.8ZM588.0 634.6 586.9 634.6 587.0 633.2 588.0 633.6 588.0 634.6Z"/>
<path fill="#0889ef" fill-rule="evenodd" d="M641.0 640.9 640.0 641.3 639.0 641.2 638.4 640.6 637.9 636.6 635.0 633.7 631.0 632.7 630.0 632.2 628.0 630.2 627.0 629.7 625.9 629.6 623.0 630.2 622.0 629.8 619.0 627.8 617.0 627.3 612.4 624.6 612.1 621.6 611.6 620.6 611.0 620.1 607.5 619.6 606.0 617.8 605.6 616.6 605.6 613.6 604.0 608.3 603.0 607.7 600.0 608.4 599.0 608.2 598.0 607.4 597.2 605.6 597.8 602.6 597.6 601.6 597.0 600.7 595.3 599.6 594.0 596.8 592.0 594.6 589.3 588.6 588.5 584.6 588.4 577.6 586.9 572.6 587.0 568.6 584.7 565.6 584.4 564.6 584.4 561.6 584.0 558.8 583.0 556.6 581.0 554.6 579.0 553.6 570.0 551.8 565.2 549.6 561.6 548.6 546.1 546.6 517.6 543.6 401.0 534.2 401.0 501.6 464.0 500.0 515.0 499.1 642.0 498.0 642.0 638.6 641.7 640.6 641.0 640.9Z"/>
<path fill="#00a4dd" fill-rule="evenodd" d="M642.0 630.9 639.0 630.8 635.0 629.1 633.3 627.6 631.1 624.6 629.3 623.6 625.0 622.5 622.0 622.4 619.0 621.2 617.0 621.5 616.0 620.4 614.8 616.6 615.1 611.6 614.9 609.6 614.0 608.4 611.0 607.8 610.0 607.2 609.1 605.6 609.5 602.6 607.6 598.6 607.5 597.6 608.5 593.6 608.6 591.6 607.0 586.4 605.6 583.6 605.9 581.6 605.8 579.6 604.4 573.6 604.0 572.4 603.0 571.1 600.0 571.5 598.9 570.6 598.5 569.6 598.4 567.6 599.7 563.6 599.8 561.6 599.0 560.0 596.7 558.6 592.5 556.6 590.0 556.4 585.2 553.6 580.0 551.3 559.0 546.3 519.8 542.6 401.0 533.0 401.0 503.1 520.0 500.6 642.0 499.2 642.0 630.9Z"/>
<path fill="#00bc96" fill-rule="evenodd" d="M642.0 628.0 640.0 628.2 639.0 627.9 636.8 625.6 634.0 623.6 632.0 621.1 631.0 620.4 628.0 619.7 626.5 618.6 625.6 617.6 624.0 613.5 622.0 610.5 621.0 608.0 620.3 604.6 619.0 603.0 618.5 601.6 618.1 595.6 616.8 590.6 617.3 586.6 617.4 583.6 617.0 582.5 616.0 581.6 615.1 578.6 611.4 571.6 610.0 567.6 610.5 565.6 612.1 563.6 612.3 562.6 612.1 561.6 611.0 560.4 608.0 558.9 604.0 558.0 600.3 555.6 596.0 554.5 590.0 552.5 573.0 548.1 559.0 545.2 513.0 541.0 401.0 532.0 401.0 504.4 527.0 501.8 642.0 500.4 642.0 628.0Z"/>
<path fill="#0fcf69" fill-rule="evenodd" d="M642.0 621.7 640.5 620.6 638.0 617.8 635.0 615.4 632.0 611.6 631.0 609.6 630.3 603.6 630.1 593.6 629.2 590.6 630.6 587.6 630.5 586.6 629.0 584.4 628.0 584.3 627.0 584.8 626.0 583.7 626.0 581.6 625.3 579.6 625.5 575.6 625.0 574.5 624.0 573.7 623.0 573.7 622.0 574.7 621.0 574.8 620.5 573.6 620.6 572.6 621.0 572.1 623.0 571.4 624.2 568.6 624.0 567.0 623.1 565.6 623.0 561.6 622.0 561.0 620.0 561.5 619.0 560.9 615.5 556.6 612.2 554.6 609.0 553.5 605.0 552.9 601.0 551.8 595.0 551.1 590.0 549.7 584.0 548.9 561.0 544.4 549.0 543.0 519.0 540.0 481.0 536.9 418.0 531.9 401.0 530.9 401.0 505.9 505.0 503.8 642.0 501.7 642.0 621.7Z"/>
<path fill="#3ed872" fill-rule="evenodd" d="M642.0 569.8 640.0 569.5 639.2 568.6 640.6 564.6 640.8 562.6 640.0 560.7 639.0 559.7 638.1 559.6 639.0 559.2 639.2 558.6 640.3 557.6 640.0 556.6 639.0 556.2 637.7 556.6 637.2 557.6 638.0 559.6 636.0 560.3 634.7 557.6 633.0 556.8 629.9 556.6 627.0 558.2 626.0 557.9 624.0 555.9 623.0 555.3 620.0 554.5 616.0 552.8 610.0 551.0 604.0 549.9 577.0 546.1 553.0 542.3 533.1 538.6 517.7 536.6 482.9 533.6 453.6 531.6 433.3 530.6 401.0 529.7 401.0 508.3 506.0 505.3 642.0 503.0 642.0 569.8ZM634.0 564.9 633.3 564.6 634.0 564.5 634.0 564.9ZM636.0 570.9 635.0 571.0 634.1 569.6 634.2 566.6 635.0 566.2 636.0 566.8 637.7 568.6 637.8 569.6 636.0 570.9ZM642.0 608.9 641.0 608.4 640.3 607.6 638.5 603.6 635.5 600.6 634.5 597.6 635.6 591.6 637.0 589.5 639.0 585.6 639.2 584.6 639.0 581.5 639.9 580.6 642.0 580.2 642.0 608.9Z"/>
<path fill="#6ce27c" fill-rule="evenodd" d="M642.0 552.8 639.0 551.9 633.0 552.6 627.0 552.3 623.0 551.1 610.0 548.7 592.0 546.4 583.0 545.6 567.0 543.5 553.0 541.2 529.5 536.6 522.4 535.6 488.0 532.6 458.9 530.6 427.0 529.2 401.0 528.8 401.0 509.7 504.0 506.7 642.0 504.3 642.0 552.8ZM642.0 597.9 640.0 598.3 638.9 597.6 638.9 596.6 640.0 595.0 641.0 594.4 642.0 594.2 642.0 597.9Z"/>
<path fill="#9beb85" fill-rule="evenodd" d="M642.0 548.4 630.0 548.1 620.0 547.4 576.0 543.6 556.0 540.8 527.0 535.2 503.0 532.9 473.3 530.6 448.0 529.1 424.0 528.3 401.0 528.0 401.0 510.9 498.0 508.2 642.0 505.6 642.0 548.4Z"/>
<path fill="#caf48e" fill-rule="evenodd" d="M642.0 546.6 615.0 545.4 575.0 542.3 554.4 539.6 526.0 534.1 503.0 531.9 476.0 529.9 446.0 528.2 423.0 527.4 401.0 527.2 401.0 512.0 496.9 509.6 642.0 506.8 642.0 546.6Z"/>
<path fill="#f9fe98" fill-rule="evenodd" d="M642.0 545.3 615.0 544.0 572.0 540.6 555.5 538.6 533.0 534.2 525.0 532.9 493.0 530.1 463.0 528.1 443.0 527.1 401.0 526.2 401.0 513.5 477.4 511.6 642.0 508.3 642.0 545.3Z"/>
<path fill="#eae58e" fill-rule="evenodd" d="M642.0 543.8 615.0 542.4 575.0 539.2 557.0 537.0 523.0 531.7 482.0 528.0 438.0 525.3 401.0 524.4 401.0 516.6 516.0 513.0 642.0 510.1 642.0 543.8Z"/>
<path fill="#d3c781" fill-rule="evenodd" d="M642.0 542.6 615.0 541.1 573.0 537.4 555.0 535.3 522.0 530.6 441.0 521.5 435.5 520.6 435.0 519.6 441.6 518.6 454.9 517.6 513.0 514.9 570.0 513.2 642.0 512.0 642.0 542.6Z"/>
<path fill="#bca975" fill-rule="evenodd" d="M642.0 541.6 610.0 539.6 576.1 536.6 563.0 535.2 471.9 522.6 466.3 521.6 464.0 520.6 468.0 519.6 477.0 518.7 518.0 516.2 563.0 514.8 642.0 513.2 642.0 541.6Z"/>
<path fill="#a48b68" fill-rule="evenodd" d="M642.0 540.6 611.0 538.4 558.4 533.6 543.1 531.6 510.5 526.6 492.4 523.6 487.4 522.6 484.7 521.6 487.5 520.6 494.0 519.8 522.0 517.6 596.0 515.2 642.0 514.2 642.0 540.6Z"/>
<path fill="#8d6d5b" fill-rule="evenodd" d="M642.0 539.5 554.9 531.6 541.1 529.6 524.5 526.6 515.0 524.6 511.2 523.6 509.0 522.6 511.0 521.6 518.6 520.6 553.0 518.1 600.0 516.0 642.0 515.0 642.0 539.5Z"/>
<path fill="#8a6962" fill-rule="evenodd" d="M642.0 538.3 606.6 534.6 570.0 530.1 543.0 526.2 533.9 524.6 530.7 523.6 531.9 522.6 537.0 521.6 555.0 519.6 570.0 518.5 602.0 516.9 642.0 515.8 642.0 538.3Z"/>
<path fill="#a18781" fill-rule="evenodd" d="M642.0 537.1 638.0 536.8 561.0 526.2 551.2 524.6 549.0 523.6 551.2 522.6 556.7 521.6 574.7 519.6 609.3 517.6 642.0 516.6 642.0 537.1Z"/>
<path fill="#b9a5a1" fill-rule="evenodd" d="M642.0 535.6 639.0 535.5 602.6 529.6 573.8 525.6 567.9 524.6 567.1 523.6 571.1 522.6 576.0 521.9 594.0 520.1 625.0 518.1 642.0 517.4 642.0 535.6Z"/>
<path fill="#d0c3c0" fill-rule="evenodd" d="M642.0 534.1 637.0 533.6 587.8 525.6 583.4 524.6 584.3 523.6 596.0 521.9 620.8 519.6 642.0 518.2 642.0 534.1Z"/>
<path fill="#e8e1e0" fill-rule="evenodd" d="M642.0 532.5 638.0 532.0 610.3 526.6 605.8 525.6 603.7 524.6 605.6 523.6 610.7 522.6 625.9 520.6 642.0 519.2 642.0 532.5Z"/>
<path fill="#ffffff" fill-rule="evenodd" d="M642.0 530.0 638.5 529.6 627.0 526.6 623.7 525.6 622.5 524.6 624.2 523.6 628.2 522.6 633.6 521.6 642.0 520.7 642.0 530.0Z"/>
</g>
<clipPath id="cc3"><rect x="51.2" y="748.2" width="239.40000000000003" height="207.79999999999995"/></clipPath>
<g clip-path="url(#cc3)">
<rect x="51.2" y="748.2" width="239.40000000000003" height="207.79999999999995" fill="#333399"/>
<path fill="#333399" fill-rule="evenodd" d="M292.2 957.2 49.2 957.2 49.2 753.6 77.2 752.7 119.2 752.0 292.2 750.4 292.2 957.2Z"/>
<path fill="#274ab0" fill-rule="evenodd" d="M292.2 957.2 49.2 957.2 49.2 847.1 54.2 846.8 58.2 845.9 64.2 843.6 66.2 842.3 69.9 838.2 74.2 832.6 76.2 828.2 77.1 825.2 76.2 822.5 75.2 821.0 73.2 819.4 71.2 818.3 55.7 812.2 52.2 811.2 49.2 810.9 49.2 767.3 78.2 764.7 106.2 763.4 207.2 760.6 292.2 758.8 292.2 957.2Z"/>
<path fill="#186ad0" fill-rule="evenodd" d="M284.2 938.7 283.2 938.7 281.2 936.6 280.2 936.4 277.2 938.0 276.2 937.9 275.2 937.0 274.2 934.9 273.2 933.8 270.2 936.0 269.2 935.0 266.5 930.2 266.1 925.2 265.2 921.6 264.2 919.6 263.2 919.3 261.2 925.0 258.2 930.0 257.2 932.8 256.2 934.2 255.2 933.7 251.9 928.2 251.5 927.2 251.2 923.3 249.9 921.2 249.6 920.2 250.1 917.2 249.2 914.1 246.2 908.4 244.2 906.9 242.2 906.6 241.2 905.5 240.3 902.2 239.5 901.2 238.2 900.6 235.2 900.6 231.2 898.6 227.2 899.5 226.2 899.2 224.2 897.0 221.2 896.5 219.2 895.7 218.2 895.5 216.2 896.3 213.2 896.4 210.2 897.1 209.2 897.0 208.2 896.5 207.3 893.2 206.5 892.2 205.2 891.3 203.2 888.6 201.2 888.2 200.3 887.2 200.2 885.3 201.0 884.2 201.2 883.2 200.3 882.2 199.2 881.9 197.2 883.7 195.2 884.4 188.8 882.2 188.2 881.2 189.7 878.2 189.8 877.2 188.8 876.2 185.4 875.2 184.5 874.2 184.1 871.2 183.2 869.5 181.0 867.2 179.2 864.2 178.2 863.3 177.2 863.0 176.0 863.2 174.7 864.2 175.4 866.2 175.2 867.4 174.2 867.7 172.2 867.3 170.9 869.2 170.2 869.7 169.2 869.6 166.6 866.2 165.8 862.2 165.1 861.2 162.9 859.2 162.5 858.2 162.2 854.6 161.3 853.2 157.2 851.7 150.2 847.1 145.2 842.2 140.4 838.2 128.2 833.7 118.3 827.2 115.5 826.2 103.3 823.2 83.2 819.9 80.2 818.7 78.3 817.2 76.3 816.2 67.2 813.2 53.2 807.8 49.2 807.1 49.2 774.5 52.2 774.3 65.2 772.0 75.2 770.9 108.2 768.9 210.2 765.6 292.2 763.3 292.2 932.8 290.2 933.4 288.2 935.3 286.2 935.3 284.2 938.7ZM172.2 865.2 173.1 864.2 173.1 863.2 172.2 862.4 171.2 863.0 171.1 864.2 171.2 864.6 172.2 865.2ZM186.2 886.8 185.2 886.8 184.5 886.2 184.2 885.2 185.2 882.7 186.2 881.8 187.2 881.8 188.0 882.2 187.2 885.2 186.2 886.8ZM223.2 905.3 222.2 905.8 221.1 905.2 222.2 904.1 223.2 904.2 223.2 905.3Z"/>
<path fill="#0889ef" fill-rule="evenodd" d="M292.2 922.6 286.2 920.7 285.2 917.6 284.2 917.0 281.2 916.9 280.2 916.2 277.1 912.2 275.2 910.5 274.2 910.3 273.2 910.5 269.2 912.8 268.2 912.5 262.2 905.1 261.2 904.6 259.2 907.0 258.2 907.5 256.2 907.8 254.2 906.8 251.2 903.5 248.2 901.6 243.4 897.2 240.2 892.8 237.2 890.8 234.2 887.8 233.2 887.6 229.2 888.2 228.2 887.6 227.2 886.0 226.2 885.2 223.2 885.1 220.9 882.2 215.2 878.4 213.2 875.5 209.2 872.0 207.2 870.6 205.2 868.1 201.2 864.5 200.2 864.0 197.2 863.7 194.7 862.2 193.1 859.2 191.2 857.7 189.9 856.2 188.9 854.2 187.5 850.2 184.5 846.2 183.2 843.9 180.2 841.7 177.7 839.2 175.2 838.1 172.7 835.2 169.5 833.2 155.4 829.2 131.2 824.9 114.8 821.2 85.2 815.2 68.2 810.2 53.2 804.3 51.2 803.7 49.2 803.6 49.2 781.0 52.2 780.6 60.3 778.2 69.2 776.4 82.2 774.7 99.2 773.4 131.2 771.8 161.2 770.6 292.2 766.7 292.2 922.6Z"/>
<path fill="#00a4dd" fill-rule="evenodd" d="M292.2 913.8 290.2 913.3 289.2 912.6 284.5 908.2 283.2 907.3 280.2 906.4 277.7 905.2 273.2 904.9 269.2 903.7 262.2 900.8 258.2 900.1 253.2 897.8 251.2 896.2 249.2 893.6 246.2 892.4 243.2 889.5 241.2 888.2 234.2 880.9 231.4 879.2 229.2 876.5 227.2 875.5 224.2 875.4 223.2 874.9 220.2 871.5 218.2 868.2 216.2 867.7 215.2 867.1 213.7 865.2 211.2 863.2 209.2 860.3 207.2 858.6 206.5 857.2 206.1 853.2 205.4 851.2 204.3 849.2 201.8 847.2 201.1 846.2 201.1 843.2 200.3 841.2 197.3 839.2 196.3 837.2 195.3 836.2 191.3 833.2 184.6 831.2 181.2 830.8 177.2 829.2 169.2 827.4 137.2 822.5 115.0 818.2 91.2 813.2 73.2 808.4 66.2 805.5 64.2 804.1 61.2 801.2 57.0 796.2 55.0 793.2 54.9 792.2 55.8 790.2 58.3 786.2 60.2 784.2 62.2 782.8 65.2 781.5 71.2 779.8 77.2 778.5 92.2 776.7 123.2 774.7 159.2 773.2 220.5 771.2 292.2 769.4 292.2 913.8Z"/>
<path fill="#00bc96" fill-rule="evenodd" d="M292.2 906.9 291.2 906.9 290.2 906.5 285.2 902.0 283.2 900.9 281.2 900.4 277.2 901.3 274.2 901.1 270.2 900.1 266.2 898.3 263.2 897.4 261.2 896.2 259.2 894.4 256.2 893.8 254.9 893.2 251.2 889.9 248.2 888.2 246.1 884.2 239.2 877.6 236.2 875.5 233.9 873.2 231.2 871.6 228.2 868.9 225.2 866.9 223.2 863.2 221.2 860.6 219.2 856.2 215.5 850.2 214.2 846.2 211.2 840.6 207.2 836.4 206.2 835.7 196.2 832.1 191.2 829.5 185.2 827.6 181.2 827.0 177.2 825.9 167.2 823.9 136.2 819.1 110.8 814.2 94.2 810.5 75.2 805.6 68.2 802.9 64.2 800.2 58.9 794.2 58.3 793.2 58.2 792.2 58.6 791.2 60.2 788.8 62.2 786.6 64.3 785.2 67.2 783.9 74.2 781.7 80.2 780.3 95.2 778.5 109.2 777.5 133.2 776.4 292.2 771.8 292.2 906.9Z"/>
<path fill="#0fcf69" fill-rule="evenodd" d="M292.2 902.2 290.2 902.0 289.2 901.5 286.6 899.2 284.2 898.3 280.2 897.9 276.2 898.4 274.0 898.2 263.9 893.2 260.8 889.2 260.2 888.9 257.2 888.8 256.2 888.0 253.3 885.2 251.2 881.7 250.2 881.0 248.2 880.3 246.6 879.2 244.5 876.2 241.2 873.5 237.2 869.0 236.2 868.2 235.2 867.9 233.2 868.1 232.2 867.8 231.2 867.1 229.9 865.2 229.2 863.2 228.2 856.4 227.2 855.2 225.2 854.1 220.9 845.2 219.2 843.2 216.2 841.5 215.1 837.2 214.0 836.2 207.9 832.2 201.2 830.0 197.2 829.1 192.7 827.2 185.2 824.8 162.7 820.2 129.2 814.7 104.2 809.6 88.2 805.7 76.3 802.2 68.8 799.2 66.2 797.7 63.3 795.2 61.5 793.2 61.4 792.2 63.2 789.8 66.1 787.2 67.9 786.2 73.2 784.2 81.5 782.2 97.5 780.2 111.6 779.2 133.2 778.2 292.2 773.5 292.2 902.2Z"/>
<path fill="#3ed872" fill-rule="evenodd" d="M292.2 899.4 290.2 898.9 286.2 896.9 281.2 895.8 279.2 895.0 277.2 894.9 275.2 895.4 274.2 895.3 272.2 894.4 267.2 891.0 263.2 886.6 261.2 885.2 258.2 883.6 255.2 880.5 253.2 877.6 250.1 876.2 243.9 871.2 240.9 867.2 239.9 864.2 237.9 861.2 236.2 857.3 230.2 851.1 229.6 849.2 229.1 842.2 228.5 840.2 226.2 838.2 224.2 837.3 222.2 836.8 217.2 833.4 208.2 829.3 186.2 823.0 169.0 819.2 120.2 810.3 107.2 807.4 95.0 804.2 85.5 801.2 78.6 798.2 71.5 794.2 70.3 793.2 70.1 792.2 71.9 790.2 75.2 787.8 79.2 786.2 82.9 785.2 95.2 783.0 110.2 781.5 139.2 779.9 292.2 774.7 292.2 899.4Z"/>
<path fill="#6ce27c" fill-rule="evenodd" d="M292.2 897.0 289.2 895.9 282.6 894.2 279.2 891.9 275.2 892.0 273.2 891.4 270.2 888.8 267.8 887.2 263.2 882.3 258.6 879.2 256.2 876.9 254.2 874.4 251.4 872.2 247.2 866.7 245.2 865.3 243.2 860.7 240.8 858.2 240.4 857.2 240.0 853.2 237.0 845.2 236.9 841.2 236.0 839.2 235.2 838.2 234.2 837.7 229.2 836.4 219.2 831.6 215.2 830.2 209.2 827.5 184.2 820.6 166.2 816.6 152.8 814.2 123.1 808.2 110.1 805.2 103.0 803.2 94.9 800.2 88.5 797.2 82.9 794.2 81.6 793.2 81.5 792.2 82.3 791.2 85.0 789.2 89.5 787.2 98.5 785.2 115.2 783.2 141.2 781.7 292.2 775.8 292.2 897.0Z"/>
<path fill="#9beb85" fill-rule="evenodd" d="M292.2 893.5 290.2 893.3 285.2 892.0 283.9 891.2 282.2 888.9 280.2 887.7 275.2 887.6 273.2 886.8 267.2 881.7 264.2 878.1 261.2 876.7 258.2 874.2 257.7 873.2 257.2 869.8 254.2 868.6 251.7 865.2 249.2 860.2 248.1 857.2 247.6 854.2 245.2 850.2 244.1 840.2 243.9 839.2 243.1 838.2 240.2 837.3 235.2 834.4 231.2 833.5 228.2 832.0 224.2 830.8 219.2 828.5 215.2 827.4 212.2 825.8 208.2 824.5 181.2 817.2 137.2 807.7 122.2 804.0 109.0 800.2 103.2 798.2 98.6 796.2 95.0 794.2 93.8 793.2 93.7 792.2 94.8 791.2 98.3 789.2 102.2 787.8 113.2 785.9 125.2 784.7 146.2 783.4 292.2 776.8 292.2 893.5Z"/>
<path fill="#caf48e" fill-rule="evenodd" d="M292.2 890.3 290.2 890.5 286.2 889.6 283.2 887.0 280.2 885.5 276.2 884.2 271.2 881.8 267.7 879.2 265.2 875.3 261.7 873.2 260.7 871.2 259.7 867.2 259.2 866.2 258.2 865.5 256.2 864.9 255.6 864.2 255.3 863.2 254.7 855.2 254.2 854.6 253.2 854.4 252.2 852.9 251.5 851.2 251.4 850.2 252.2 847.2 251.5 845.2 250.2 842.9 248.0 841.2 246.7 837.2 246.1 836.2 245.0 835.2 241.2 833.1 238.2 832.0 235.2 830.2 226.2 827.5 222.2 825.7 217.2 824.6 211.2 822.1 185.2 815.7 139.8 805.2 128.7 802.2 122.5 800.2 115.2 797.2 109.5 794.2 108.3 793.2 108.2 792.2 109.3 791.2 112.2 789.5 116.0 788.2 122.0 787.2 131.6 786.2 233.2 780.7 292.2 777.9 292.2 890.3Z"/>
<path fill="#f9fe98" fill-rule="evenodd" d="M292.2 887.6 288.2 887.1 285.2 885.6 282.2 884.5 276.2 881.3 273.2 878.6 270.2 877.6 269.7 877.2 269.0 876.2 267.1 870.2 267.1 867.2 266.8 866.2 263.2 861.5 260.2 862.1 259.0 861.2 258.7 859.2 259.0 855.2 258.8 853.2 257.8 850.2 257.4 847.2 255.5 844.2 255.2 843.2 255.3 841.2 254.7 839.2 253.1 837.2 242.2 829.8 238.2 828.0 233.2 825.2 209.2 817.7 171.9 809.2 134.7 799.2 128.6 797.2 124.0 795.2 120.8 793.2 121.0 792.2 125.3 790.2 129.2 789.3 148.2 787.3 232.2 782.1 292.2 779.0 292.2 887.6Z"/>
<path fill="#eae58e" fill-rule="evenodd" d="M292.2 885.2 289.2 884.9 287.2 884.3 282.2 882.2 278.2 880.1 277.2 879.3 274.9 876.2 273.3 872.2 271.1 869.2 270.9 868.2 271.1 867.2 272.5 864.2 272.2 862.1 271.2 861.9 270.2 863.5 269.2 863.9 268.2 863.4 267.3 862.2 267.1 861.2 267.4 857.2 266.5 854.2 265.3 848.2 264.2 847.5 263.2 847.8 262.2 847.3 260.2 843.9 259.5 842.2 259.9 838.2 258.8 836.2 257.2 834.7 253.2 833.2 249.2 830.8 245.2 827.4 241.1 825.2 237.2 822.4 226.9 818.2 214.3 814.2 181.2 806.8 162.2 801.6 142.4 795.2 140.1 794.2 139.6 793.2 142.2 791.7 146.2 790.6 166.2 788.3 238.2 783.0 292.2 780.3 292.2 885.2Z"/>
<path fill="#d3c781" fill-rule="evenodd" d="M292.2 882.7 289.5 882.2 286.2 879.5 284.2 878.8 280.9 878.2 279.2 877.1 277.9 872.2 277.2 871.0 275.2 869.3 274.8 868.2 275.1 863.2 273.7 857.2 271.2 854.3 269.3 851.2 269.5 850.2 271.2 847.2 271.0 845.2 270.2 843.6 267.7 841.2 266.2 836.3 265.2 835.6 263.2 835.2 262.2 834.7 259.2 831.8 254.2 829.4 246.2 822.9 234.2 816.8 224.6 813.2 213.9 810.2 187.2 804.6 175.2 801.7 157.7 796.2 154.8 795.2 153.1 794.2 154.0 793.2 157.0 792.2 162.1 791.2 194.2 787.8 240.6 784.2 273.2 782.3 292.2 781.5 292.2 882.7Z"/>
<path fill="#bca975" fill-rule="evenodd" d="M292.2 877.0 286.2 876.2 284.3 875.2 281.8 871.2 279.4 866.2 279.4 865.2 281.2 861.2 282.5 854.2 282.2 852.2 279.6 849.2 279.4 848.2 281.5 843.2 281.6 841.2 280.9 840.2 279.2 839.8 276.2 840.3 275.2 839.9 273.3 837.2 271.2 835.9 268.2 833.1 266.2 831.8 264.2 830.9 260.2 827.1 256.2 824.9 251.2 821.0 245.2 817.7 236.2 813.8 228.2 810.9 219.2 808.4 188.3 802.2 180.3 800.2 174.3 798.2 170.2 796.3 168.9 795.2 169.4 794.2 172.4 793.2 181.9 791.2 201.2 788.8 242.2 785.5 292.2 782.8 292.2 877.0Z"/>
<path fill="#a48b68" fill-rule="evenodd" d="M292.2 835.7 291.2 835.6 287.4 833.2 286.7 832.2 286.6 831.2 287.8 828.2 287.3 827.2 283.2 825.2 276.2 823.6 272.2 821.2 263.2 818.8 256.4 816.2 229.2 807.8 210.2 802.7 184.2 796.4 181.4 795.2 182.8 794.2 191.1 792.2 197.1 791.2 213.2 789.4 253.2 786.2 292.2 784.0 292.2 835.7ZM292.2 873.4 290.1 873.2 289.2 872.7 286.1 868.2 285.5 866.2 285.2 862.8 286.2 860.4 287.2 859.9 289.2 860.6 290.2 860.4 292.2 859.0 292.2 873.4Z"/>
<path fill="#8d6d5b" fill-rule="evenodd" d="M292.2 823.4 286.2 822.1 278.2 818.9 241.2 807.2 219.9 801.2 200.2 796.2 198.5 795.2 200.2 794.2 208.2 792.3 223.7 790.2 254.2 787.6 292.2 785.2 292.2 823.4Z"/>
<path fill="#8a6962" fill-rule="evenodd" d="M292.2 819.4 286.2 818.5 263.2 811.8 215.2 796.2 213.9 795.2 215.8 794.2 223.2 792.5 239.2 790.3 266.2 787.9 292.2 786.2 292.2 819.4Z"/>
<path fill="#a18781" fill-rule="evenodd" d="M292.2 815.9 283.2 815.1 270.7 812.2 263.9 810.2 249.6 805.2 237.0 800.2 230.4 797.2 228.9 796.2 228.6 795.2 230.6 794.2 234.0 793.2 245.5 791.2 264.6 789.2 292.2 787.2 292.2 815.9Z"/>
<path fill="#b9a5a1" fill-rule="evenodd" d="M292.2 812.6 288.2 812.0 248.2 798.5 241.9 796.2 241.2 795.2 243.1 794.2 246.9 793.2 259.9 791.2 278.8 789.2 292.2 788.2 292.2 812.6Z"/>
<path fill="#d0c3c0" fill-rule="evenodd" d="M292.2 809.4 290.2 809.2 288.2 808.5 262.2 797.8 258.6 796.2 257.9 795.2 259.4 794.2 261.2 793.6 267.8 792.2 282.2 790.2 292.2 789.3 292.2 809.4Z"/>
<path fill="#e8e1e0" fill-rule="evenodd" d="M292.2 805.4 289.2 804.7 274.8 798.2 270.7 796.2 270.0 795.2 271.4 794.2 274.9 793.2 285.6 791.2 292.2 790.5 292.2 805.4Z"/>
<path fill="#ffffff" fill-rule="evenodd" d="M292.2 799.8 289.2 799.1 285.3 797.2 283.7 796.2 283.3 795.2 284.4 794.2 286.7 793.2 292.2 792.2 292.2 799.8Z"/>
</g>
<rect x="51.2" y="476.5" width="239.40000000000003" height="207.70000000000005" stroke="#222" stroke-width="0.8" fill="none"/>
<path d="M68.3 684.2L68.3 687.0" stroke="#222" stroke-width="0.8" fill="none"/>
<text x="68.3" y="699.5" font-size="13.1" text-anchor="middle" fill="#111" stroke="#111" >0.1</text>
<path d="M102.5 684.2L102.5 687.0" stroke="#222" stroke-width="0.8" fill="none"/>
<text x="102.5" y="699.5" font-size="13.1" text-anchor="middle" fill="#111" stroke="#111" >0.2</text>
<path d="M136.7 684.2L136.7 687.0" stroke="#222" stroke-width="0.8" fill="none"/>
<text x="136.7" y="699.5" font-size="13.1" text-anchor="middle" fill="#111" stroke="#111" >0.3</text>
<path d="M170.9 684.2L170.9 687.0" stroke="#222" stroke-width="0.8" fill="none"/>
<text x="170.9" y="699.5" font-size="13.1" text-anchor="middle" fill="#111" stroke="#111" >0.4</text>
<path d="M205.1 684.2L205.1 687.0" stroke="#222" stroke-width="0.8" fill="none"/>
<text x="205.1" y="699.5" font-size="13.1" text-anchor="middle" fill="#111" stroke="#111" >0.5</text>
<path d="M239.3 684.2L239.3 687.0" stroke="#222" stroke-width="0.8" fill="none"/>
<text x="239.3" y="699.5" font-size="13.1" text-anchor="middle" fill="#111" stroke="#111" >0.6</text>
<path d="M273.5 684.2L273.5 687.0" stroke="#222" stroke-width="0.8" fill="none"/>
<text x="273.5" y="699.5" font-size="13.1" text-anchor="middle" fill="#111" stroke="#111" >0.7</text>
<path d="M48.400000000000006 684.2L51.2 684.2" stroke="#222" stroke-width="0.8" fill="none"/>
<text x="45.400000000000006" y="689.6" font-size="13.3" text-anchor="end" fill="#111" stroke="#111">10<tspan font-size="9.3" dy="-5.5">−2</tspan></text>
<path d="M49.6 668.6L51.2 668.6" stroke="#222" stroke-width="0.6" fill="none"/>
<path d="M49.6 659.4L51.2 659.4" stroke="#222" stroke-width="0.6" fill="none"/>
<path d="M49.6 652.9L51.2 652.9" stroke="#222" stroke-width="0.6" fill="none"/>
<path d="M49.6 647.9L51.2 647.9" stroke="#222" stroke-width="0.6" fill="none"/>
<path d="M49.6 643.8L51.2 643.8" stroke="#222" stroke-width="0.6" fill="none"/>
<path d="M49.6 640.3L51.2 640.3" stroke="#222" stroke-width="0.6" fill="none"/>
<path d="M49.6 637.3L51.2 637.3" stroke="#222" stroke-width="0.6" fill="none"/>
<path d="M49.6 634.7L51.2 634.7" stroke="#222" stroke-width="0.6" fill="none"/>
<path d="M48.400000000000006 632.3L51.2 632.3" stroke="#222" stroke-width="0.8" fill="none"/>
<text x="45.400000000000006" y="637.7" font-size="13.3" text-anchor="end" fill="#111" stroke="#111">10<tspan font-size="9.3" dy="-5.5">−1</tspan></text>
<path d="M49.6 616.6L51.2 616.6" stroke="#222" stroke-width="0.6" fill="none"/>
<path d="M49.6 607.5L51.2 607.5" stroke="#222" stroke-width="0.6" fill="none"/>
<path d="M49.6 601.0L51.2 601.0" stroke="#222" stroke-width="0.6" fill="none"/>
<path d="M49.6 596.0L51.2 596.0" stroke="#222" stroke-width="0.6" fill="none"/>
<path d="M49.6 591.9L51.2 591.9" stroke="#222" stroke-width="0.6" fill="none"/>
<path d="M49.6 588.4L51.2 588.4" stroke="#222" stroke-width="0.6" fill="none"/>
<path d="M49.6 585.4L51.2 585.4" stroke="#222" stroke-width="0.6" fill="none"/>
<path d="M49.6 582.7L51.2 582.7" stroke="#222" stroke-width="0.6" fill="none"/>
<path d="M48.400000000000006 580.4L51.2 580.4" stroke="#222" stroke-width="0.8" fill="none"/>
<text x="45.400000000000006" y="585.8" font-size="13.3" text-anchor="end" fill="#111" stroke="#111">10<tspan font-size="9.3" dy="-5.5">0</tspan></text>
<path d="M49.6 564.7L51.2 564.7" stroke="#222" stroke-width="0.6" fill="none"/>
<path d="M49.6 555.6L51.2 555.6" stroke="#222" stroke-width="0.6" fill="none"/>
<path d="M49.6 549.1L51.2 549.1" stroke="#222" stroke-width="0.6" fill="none"/>
<path d="M49.6 544.1L51.2 544.1" stroke="#222" stroke-width="0.6" fill="none"/>
<path d="M49.6 539.9L51.2 539.9" stroke="#222" stroke-width="0.6" fill="none"/>
<path d="M49.6 536.5L51.2 536.5" stroke="#222" stroke-width="0.6" fill="none"/>
<path d="M49.6 533.5L51.2 533.5" stroke="#222" stroke-width="0.6" fill="none"/>
<path d="M49.6 530.8L51.2 530.8" stroke="#222" stroke-width="0.6" fill="none"/>
<path d="M48.400000000000006 528.4L51.2 528.4" stroke="#222" stroke-width="0.8" fill="none"/>
<text x="45.400000000000006" y="533.8" font-size="13.3" text-anchor="end" fill="#111" stroke="#111">10<tspan font-size="9.3" dy="-5.5">1</tspan></text>
<path d="M49.6 512.8L51.2 512.8" stroke="#222" stroke-width="0.6" fill="none"/>
<path d="M49.6 503.7L51.2 503.7" stroke="#222" stroke-width="0.6" fill="none"/>
<path d="M49.6 497.2L51.2 497.2" stroke="#222" stroke-width="0.6" fill="none"/>
<path d="M49.6 492.1L51.2 492.1" stroke="#222" stroke-width="0.6" fill="none"/>
<path d="M49.6 488.0L51.2 488.0" stroke="#222" stroke-width="0.6" fill="none"/>
<path d="M49.6 484.5L51.2 484.5" stroke="#222" stroke-width="0.6" fill="none"/>
<path d="M49.6 481.5L51.2 481.5" stroke="#222" stroke-width="0.6" fill="none"/>
<path d="M49.6 478.9L51.2 478.9" stroke="#222" stroke-width="0.6" fill="none"/>
<path d="M48.400000000000006 476.5L51.2 476.5" stroke="#222" stroke-width="0.8" fill="none"/>
<text x="45.400000000000006" y="481.9" font-size="13.3" text-anchor="end" fill="#111" stroke="#111">10<tspan font-size="9.3" dy="-5.5">2</tspan></text>
<text x="15.700000000000003" y="506.7" font-size="14.5" text-anchor="start" fill="#111" stroke="#111" font-style="italic" >D</text>
<text x="242.7" y="712.7" font-size="15.5" fill="#111" stroke="#111" font-style="italic">γ<tspan font-size="10.8" dy="3.4">I</tspan></text>
<text x="170.9" y="470.9" font-size="15.2" fill="#111" stroke="#111" font-style="italic" text-anchor="middle" letter-spacing="0">T</text><path d="M170.1 457.4h3.8" stroke="#111" stroke-width="1"/>
<rect x="305.2" y="476.50" width="10.6" height="207.70" fill="#333399"/>
<rect x="305.2" y="476.50" width="10.6" height="197.81" fill="#333399"/>
<rect x="305.2" y="476.50" width="10.6" height="187.92" fill="#254eb4"/>
<rect x="305.2" y="476.50" width="10.6" height="178.03" fill="#1372d8"/>
<rect x="305.2" y="476.50" width="10.6" height="168.14" fill="#0197fd"/>
<rect x="305.2" y="476.50" width="10.6" height="158.25" fill="#00b3b2"/>
<rect x="305.2" y="476.50" width="10.6" height="148.36" fill="#03cd67"/>
<rect x="305.2" y="476.50" width="10.6" height="138.47" fill="#3ad872"/>
<rect x="305.2" y="476.50" width="10.6" height="128.58" fill="#70e27c"/>
<rect x="305.2" y="476.50" width="10.6" height="118.69" fill="#a7ed87"/>
<rect x="305.2" y="476.50" width="10.6" height="108.80" fill="#ddf892"/>
<rect x="305.2" y="476.50" width="10.6" height="98.90" fill="#f5f293"/>
<rect x="305.2" y="476.50" width="10.6" height="89.01" fill="#dacf85"/>
<rect x="305.2" y="476.50" width="10.6" height="79.12" fill="#beac76"/>
<rect x="305.2" y="476.50" width="10.6" height="69.23" fill="#a38967"/>
<rect x="305.2" y="476.50" width="10.6" height="59.34" fill="#886759"/>
<rect x="305.2" y="476.50" width="10.6" height="49.45" fill="#92746d"/>
<rect x="305.2" y="476.50" width="10.6" height="39.56" fill="#ad9792"/>
<rect x="305.2" y="476.50" width="10.6" height="29.67" fill="#c9b9b6"/>
<rect x="305.2" y="476.50" width="10.6" height="19.78" fill="#e4dcdb"/>
<rect x="305.2" y="476.50" width="10.6" height="9.89" fill="#ffffff"/>
<rect x="305.2" y="476.5" width="10.600000000000023" height="207.70000000000005" stroke="#222" stroke-width="0.8" fill="none"/>
<path d="M315.8 684.2L318.6 684.2" stroke="#222" stroke-width="0.8" fill="none"/>
<text x="321.1" y="689.1" font-size="13.1" text-anchor="start" fill="#111" stroke="#111" >0.00</text>
<path d="M315.8 654.5L318.6 654.5" stroke="#222" stroke-width="0.8" fill="none"/>
<text x="321.1" y="659.4" font-size="13.1" text-anchor="start" fill="#111" stroke="#111" >0.03</text>
<path d="M315.8 624.9L318.6 624.9" stroke="#222" stroke-width="0.8" fill="none"/>
<text x="321.1" y="629.8" font-size="13.1" text-anchor="start" fill="#111" stroke="#111" >0.06</text>
<path d="M315.8 595.2L318.6 595.2" stroke="#222" stroke-width="0.8" fill="none"/>
<text x="321.1" y="600.1" font-size="13.1" text-anchor="start" fill="#111" stroke="#111" >0.09</text>
<path d="M315.8 565.5L318.6 565.5" stroke="#222" stroke-width="0.8" fill="none"/>
<text x="321.1" y="570.4" font-size="13.1" text-anchor="start" fill="#111" stroke="#111" >0.12</text>
<path d="M315.8 535.8L318.6 535.8" stroke="#222" stroke-width="0.8" fill="none"/>
<text x="321.1" y="540.7" font-size="13.1" text-anchor="start" fill="#111" stroke="#111" >0.15</text>
<path d="M315.8 506.2L318.6 506.2" stroke="#222" stroke-width="0.8" fill="none"/>
<text x="321.1" y="511.1" font-size="13.1" text-anchor="start" fill="#111" stroke="#111" >0.18</text>
<path d="M315.8 476.5L318.6 476.5" stroke="#222" stroke-width="0.8" fill="none"/>
<text x="321.1" y="481.4" font-size="13.1" text-anchor="start" fill="#111" stroke="#111" >0.21</text>
<rect x="403.0" y="477.6" width="237.0" height="206.60000000000002" stroke="#222" stroke-width="0.8" fill="none"/>
<path d="M419.9 684.2L419.9 687.0" stroke="#222" stroke-width="0.8" fill="none"/>
<text x="419.9" y="699.5" font-size="13.1" text-anchor="middle" fill="#111" stroke="#111" >0.1</text>
<path d="M453.8 684.2L453.8 687.0" stroke="#222" stroke-width="0.8" fill="none"/>
<text x="453.8" y="699.5" font-size="13.1" text-anchor="middle" fill="#111" stroke="#111" >0.2</text>
<path d="M487.6 684.2L487.6 687.0" stroke="#222" stroke-width="0.8" fill="none"/>
<text x="487.6" y="699.5" font-size="13.1" text-anchor="middle" fill="#111" stroke="#111" >0.3</text>
<path d="M521.5 684.2L521.5 687.0" stroke="#222" stroke-width="0.8" fill="none"/>
<text x="521.5" y="699.5" font-size="13.1" text-anchor="middle" fill="#111" stroke="#111" >0.4</text>
<path d="M555.4 684.2L555.4 687.0" stroke="#222" stroke-width="0.8" fill="none"/>
<text x="555.4" y="699.5" font-size="13.1" text-anchor="middle" fill="#111" stroke="#111" >0.5</text>
<path d="M589.2 684.2L589.2 687.0" stroke="#222" stroke-width="0.8" fill="none"/>
<text x="589.2" y="699.5" font-size="13.1" text-anchor="middle" fill="#111" stroke="#111" >0.6</text>
<path d="M623.1 684.2L623.1 687.0" stroke="#222" stroke-width="0.8" fill="none"/>
<text x="623.1" y="699.5" font-size="13.1" text-anchor="middle" fill="#111" stroke="#111" >0.7</text>
<path d="M400.2 684.2L403.0 684.2" stroke="#222" stroke-width="0.8" fill="none"/>
<text x="397.2" y="689.6" font-size="13.3" text-anchor="end" fill="#111" stroke="#111">10<tspan font-size="9.3" dy="-5.5">−2</tspan></text>
<path d="M401.4 668.7L403.0 668.7" stroke="#222" stroke-width="0.6" fill="none"/>
<path d="M401.4 659.6L403.0 659.6" stroke="#222" stroke-width="0.6" fill="none"/>
<path d="M401.4 653.1L403.0 653.1" stroke="#222" stroke-width="0.6" fill="none"/>
<path d="M401.4 648.1L403.0 648.1" stroke="#222" stroke-width="0.6" fill="none"/>
<path d="M401.4 644.0L403.0 644.0" stroke="#222" stroke-width="0.6" fill="none"/>
<path d="M401.4 640.6L403.0 640.6" stroke="#222" stroke-width="0.6" fill="none"/>
<path d="M401.4 637.6L403.0 637.6" stroke="#222" stroke-width="0.6" fill="none"/>
<path d="M401.4 634.9L403.0 634.9" stroke="#222" stroke-width="0.6" fill="none"/>
<path d="M400.2 632.6L403.0 632.6" stroke="#222" stroke-width="0.8" fill="none"/>
<text x="397.2" y="638.0" font-size="13.3" text-anchor="end" fill="#111" stroke="#111">10<tspan font-size="9.3" dy="-5.5">−1</tspan></text>
<path d="M401.4 617.0L403.0 617.0" stroke="#222" stroke-width="0.6" fill="none"/>
<path d="M401.4 607.9L403.0 607.9" stroke="#222" stroke-width="0.6" fill="none"/>
<path d="M401.4 601.5L403.0 601.5" stroke="#222" stroke-width="0.6" fill="none"/>
<path d="M401.4 596.4L403.0 596.4" stroke="#222" stroke-width="0.6" fill="none"/>
<path d="M401.4 592.4L403.0 592.4" stroke="#222" stroke-width="0.6" fill="none"/>
<path d="M401.4 588.9L403.0 588.9" stroke="#222" stroke-width="0.6" fill="none"/>
<path d="M401.4 585.9L403.0 585.9" stroke="#222" stroke-width="0.6" fill="none"/>
<path d="M401.4 583.3L403.0 583.3" stroke="#222" stroke-width="0.6" fill="none"/>
<path d="M400.2 580.9L403.0 580.9" stroke="#222" stroke-width="0.8" fill="none"/>
<text x="397.2" y="586.3" font-size="13.3" text-anchor="end" fill="#111" stroke="#111">10<tspan font-size="9.3" dy="-5.5">0</tspan></text>
<path d="M401.4 565.4L403.0 565.4" stroke="#222" stroke-width="0.6" fill="none"/>
<path d="M401.4 556.3L403.0 556.3" stroke="#222" stroke-width="0.6" fill="none"/>
<path d="M401.4 549.8L403.0 549.8" stroke="#222" stroke-width="0.6" fill="none"/>
<path d="M401.4 544.8L403.0 544.8" stroke="#222" stroke-width="0.6" fill="none"/>
<path d="M401.4 540.7L403.0 540.7" stroke="#222" stroke-width="0.6" fill="none"/>
<path d="M401.4 537.3L403.0 537.3" stroke="#222" stroke-width="0.6" fill="none"/>
<path d="M401.4 534.3L403.0 534.3" stroke="#222" stroke-width="0.6" fill="none"/>
<path d="M401.4 531.6L403.0 531.6" stroke="#222" stroke-width="0.6" fill="none"/>
<path d="M400.2 529.2L403.0 529.2" stroke="#222" stroke-width="0.8" fill="none"/>
<text x="397.2" y="534.6" font-size="13.3" text-anchor="end" fill="#111" stroke="#111">10<tspan font-size="9.3" dy="-5.5">1</tspan></text>
<path d="M401.4 513.7L403.0 513.7" stroke="#222" stroke-width="0.6" fill="none"/>
<path d="M401.4 504.6L403.0 504.6" stroke="#222" stroke-width="0.6" fill="none"/>
<path d="M401.4 498.2L403.0 498.2" stroke="#222" stroke-width="0.6" fill="none"/>
<path d="M401.4 493.1L403.0 493.1" stroke="#222" stroke-width="0.6" fill="none"/>
<path d="M401.4 489.1L403.0 489.1" stroke="#222" stroke-width="0.6" fill="none"/>
<path d="M401.4 485.6L403.0 485.6" stroke="#222" stroke-width="0.6" fill="none"/>
<path d="M401.4 482.6L403.0 482.6" stroke="#222" stroke-width="0.6" fill="none"/>
<path d="M401.4 480.0L403.0 480.0" stroke="#222" stroke-width="0.6" fill="none"/>
<path d="M400.2 477.6L403.0 477.6" stroke="#222" stroke-width="0.8" fill="none"/>
<text x="397.2" y="483.0" font-size="13.3" text-anchor="end" fill="#111" stroke="#111">10<tspan font-size="9.3" dy="-5.5">2</tspan></text>
<text x="367.5" y="507.8" font-size="14.5" text-anchor="start" fill="#111" stroke="#111" font-style="italic" >D</text>
<text x="592.6" y="712.7" font-size="15.5" fill="#111" stroke="#111" font-style="italic">γ<tspan font-size="10.8" dy="3.4">I</tspan></text>
<text x="520.7" y="472.0" font-size="15.2" fill="#111" stroke="#111" font-style="italic" text-anchor="middle" letter-spacing="0">T</text><text x="525.4" y="474.3" font-size="10.6" fill="#111" stroke="#111" font-style="italic" letter-spacing="0">E</text><path d="M519.9 458.5h3.8" stroke="#111" stroke-width="1"/>
<rect x="654.6" y="477.60" width="10.1" height="206.60" fill="#333399"/>
<rect x="654.6" y="477.60" width="10.1" height="198.65" fill="#333399"/>
<rect x="654.6" y="477.60" width="10.1" height="190.71" fill="#333399"/>
<rect x="654.6" y="477.60" width="10.1" height="182.76" fill="#333399"/>
<rect x="654.6" y="477.60" width="10.1" height="174.82" fill="#274ab0"/>
<rect x="654.6" y="477.60" width="10.1" height="166.87" fill="#186ad0"/>
<rect x="654.6" y="477.60" width="10.1" height="158.92" fill="#0889ef"/>
<rect x="654.6" y="477.60" width="10.1" height="150.98" fill="#00a4dd"/>
<rect x="654.6" y="477.60" width="10.1" height="143.03" fill="#00bc96"/>
<rect x="654.6" y="477.60" width="10.1" height="135.08" fill="#0fcf69"/>
<rect x="654.6" y="477.60" width="10.1" height="127.14" fill="#3ed872"/>
<rect x="654.6" y="477.60" width="10.1" height="119.19" fill="#6ce27c"/>
<rect x="654.6" y="477.60" width="10.1" height="111.25" fill="#9beb85"/>
<rect x="654.6" y="477.60" width="10.1" height="103.30" fill="#caf48e"/>
<rect x="654.6" y="477.60" width="10.1" height="95.35" fill="#f9fe98"/>
<rect x="654.6" y="477.60" width="10.1" height="87.41" fill="#eae58e"/>
<rect x="654.6" y="477.60" width="10.1" height="79.46" fill="#d3c781"/>
<rect x="654.6" y="477.60" width="10.1" height="71.52" fill="#bca975"/>
<rect x="654.6" y="477.60" width="10.1" height="63.57" fill="#a48b68"/>
<rect x="654.6" y="477.60" width="10.1" height="55.62" fill="#8d6d5b"/>
<rect x="654.6" y="477.60" width="10.1" height="47.68" fill="#8a6962"/>
<rect x="654.6" y="477.60" width="10.1" height="39.73" fill="#a18781"/>
<rect x="654.6" y="477.60" width="10.1" height="31.78" fill="#b9a5a1"/>
<rect x="654.6" y="477.60" width="10.1" height="23.84" fill="#d0c3c0"/>
<rect x="654.6" y="477.60" width="10.1" height="15.89" fill="#e8e1e0"/>
<rect x="654.6" y="477.60" width="10.1" height="7.95" fill="#ffffff"/>
<rect x="654.6" y="477.6" width="10.100000000000023" height="206.60000000000002" stroke="#222" stroke-width="0.8" fill="none"/>
<path d="M664.7 684.2L667.5 684.2" stroke="#222" stroke-width="0.8" fill="none"/>
<text x="670.0" y="689.1" font-size="13.1" text-anchor="start" fill="#111" stroke="#111" >0.000</text>
<path d="M664.7 660.4L667.5 660.4" stroke="#222" stroke-width="0.8" fill="none"/>
<text x="670.0" y="665.3" font-size="13.1" text-anchor="start" fill="#111" stroke="#111" >0.015</text>
<path d="M664.7 636.5L667.5 636.5" stroke="#222" stroke-width="0.8" fill="none"/>
<text x="670.0" y="641.4" font-size="13.1" text-anchor="start" fill="#111" stroke="#111" >0.030</text>
<path d="M664.7 612.7L667.5 612.7" stroke="#222" stroke-width="0.8" fill="none"/>
<text x="670.0" y="617.6" font-size="13.1" text-anchor="start" fill="#111" stroke="#111" >0.045</text>
<path d="M664.7 588.8L667.5 588.8" stroke="#222" stroke-width="0.8" fill="none"/>
<text x="670.0" y="593.7" font-size="13.1" text-anchor="start" fill="#111" stroke="#111" >0.060</text>
<path d="M664.7 565.0L667.5 565.0" stroke="#222" stroke-width="0.8" fill="none"/>
<text x="670.0" y="569.9" font-size="13.1" text-anchor="start" fill="#111" stroke="#111" >0.075</text>
<path d="M664.7 541.2L667.5 541.2" stroke="#222" stroke-width="0.8" fill="none"/>
<text x="670.0" y="546.1" font-size="13.1" text-anchor="start" fill="#111" stroke="#111" >0.090</text>
<path d="M664.7 517.3L667.5 517.3" stroke="#222" stroke-width="0.8" fill="none"/>
<text x="670.0" y="522.2" font-size="13.1" text-anchor="start" fill="#111" stroke="#111" >0.105</text>
<path d="M664.7 493.5L667.5 493.5" stroke="#222" stroke-width="0.8" fill="none"/>
<text x="670.0" y="498.4" font-size="13.1" text-anchor="start" fill="#111" stroke="#111" >0.120</text>
<rect x="51.2" y="748.2" width="239.40000000000003" height="207.79999999999995" stroke="#222" stroke-width="0.8" fill="none"/>
<path d="M68.3 956.0L68.3 958.8" stroke="#222" stroke-width="0.8" fill="none"/>
<text x="68.3" y="971.3" font-size="13.1" text-anchor="middle" fill="#111" stroke="#111" >0.1</text>
<path d="M102.5 956.0L102.5 958.8" stroke="#222" stroke-width="0.8" fill="none"/>
<text x="102.5" y="971.3" font-size="13.1" text-anchor="middle" fill="#111" stroke="#111" >0.2</text>
<path d="M136.7 956.0L136.7 958.8" stroke="#222" stroke-width="0.8" fill="none"/>
<text x="136.7" y="971.3" font-size="13.1" text-anchor="middle" fill="#111" stroke="#111" >0.3</text>
<path d="M170.9 956.0L170.9 958.8" stroke="#222" stroke-width="0.8" fill="none"/>
<text x="170.9" y="971.3" font-size="13.1" text-anchor="middle" fill="#111" stroke="#111" >0.4</text>
<path d="M205.1 956.0L205.1 958.8" stroke="#222" stroke-width="0.8" fill="none"/>
<text x="205.1" y="971.3" font-size="13.1" text-anchor="middle" fill="#111" stroke="#111" >0.5</text>
<path d="M239.3 956.0L239.3 958.8" stroke="#222" stroke-width="0.8" fill="none"/>
<text x="239.3" y="971.3" font-size="13.1" text-anchor="middle" fill="#111" stroke="#111" >0.6</text>
<path d="M273.5 956.0L273.5 958.8" stroke="#222" stroke-width="0.8" fill="none"/>
<text x="273.5" y="971.3" font-size="13.1" text-anchor="middle" fill="#111" stroke="#111" >0.7</text>
<path d="M48.400000000000006 956.0L51.2 956.0" stroke="#222" stroke-width="0.8" fill="none"/>
<text x="45.400000000000006" y="961.4" font-size="13.3" text-anchor="end" fill="#111" stroke="#111">10<tspan font-size="9.3" dy="-5.5">−2</tspan></text>
<path d="M49.6 940.4L51.2 940.4" stroke="#222" stroke-width="0.6" fill="none"/>
<path d="M49.6 931.2L51.2 931.2" stroke="#222" stroke-width="0.6" fill="none"/>
<path d="M49.6 924.7L51.2 924.7" stroke="#222" stroke-width="0.6" fill="none"/>
<path d="M49.6 919.7L51.2 919.7" stroke="#222" stroke-width="0.6" fill="none"/>
<path d="M49.6 915.6L51.2 915.6" stroke="#222" stroke-width="0.6" fill="none"/>
<path d="M49.6 912.1L51.2 912.1" stroke="#222" stroke-width="0.6" fill="none"/>
<path d="M49.6 909.1L51.2 909.1" stroke="#222" stroke-width="0.6" fill="none"/>
<path d="M49.6 906.4L51.2 906.4" stroke="#222" stroke-width="0.6" fill="none"/>
<path d="M48.400000000000006 904.0L51.2 904.0" stroke="#222" stroke-width="0.8" fill="none"/>
<text x="45.400000000000006" y="909.4" font-size="13.3" text-anchor="end" fill="#111" stroke="#111">10<tspan font-size="9.3" dy="-5.5">−1</tspan></text>
<path d="M49.6 888.4L51.2 888.4" stroke="#222" stroke-width="0.6" fill="none"/>
<path d="M49.6 879.3L51.2 879.3" stroke="#222" stroke-width="0.6" fill="none"/>
<path d="M49.6 872.8L51.2 872.8" stroke="#222" stroke-width="0.6" fill="none"/>
<path d="M49.6 867.7L51.2 867.7" stroke="#222" stroke-width="0.6" fill="none"/>
<path d="M49.6 863.6L51.2 863.6" stroke="#222" stroke-width="0.6" fill="none"/>
<path d="M49.6 860.1L51.2 860.1" stroke="#222" stroke-width="0.6" fill="none"/>
<path d="M49.6 857.1L51.2 857.1" stroke="#222" stroke-width="0.6" fill="none"/>
<path d="M49.6 854.5L51.2 854.5" stroke="#222" stroke-width="0.6" fill="none"/>
<path d="M48.400000000000006 852.1L51.2 852.1" stroke="#222" stroke-width="0.8" fill="none"/>
<text x="45.400000000000006" y="857.5" font-size="13.3" text-anchor="end" fill="#111" stroke="#111">10<tspan font-size="9.3" dy="-5.5">0</tspan></text>
<path d="M49.6 836.5L51.2 836.5" stroke="#222" stroke-width="0.6" fill="none"/>
<path d="M49.6 827.3L51.2 827.3" stroke="#222" stroke-width="0.6" fill="none"/>
<path d="M49.6 820.8L51.2 820.8" stroke="#222" stroke-width="0.6" fill="none"/>
<path d="M49.6 815.8L51.2 815.8" stroke="#222" stroke-width="0.6" fill="none"/>
<path d="M49.6 811.7L51.2 811.7" stroke="#222" stroke-width="0.6" fill="none"/>
<path d="M49.6 808.2L51.2 808.2" stroke="#222" stroke-width="0.6" fill="none"/>
<path d="M49.6 805.2L51.2 805.2" stroke="#222" stroke-width="0.6" fill="none"/>
<path d="M49.6 802.5L51.2 802.5" stroke="#222" stroke-width="0.6" fill="none"/>
<path d="M48.400000000000006 800.2L51.2 800.2" stroke="#222" stroke-width="0.8" fill="none"/>
<text x="45.400000000000006" y="805.6" font-size="13.3" text-anchor="end" fill="#111" stroke="#111">10<tspan font-size="9.3" dy="-5.5">1</tspan></text>
<path d="M49.6 784.5L51.2 784.5" stroke="#222" stroke-width="0.6" fill="none"/>
<path d="M49.6 775.4L51.2 775.4" stroke="#222" stroke-width="0.6" fill="none"/>
<path d="M49.6 768.9L51.2 768.9" stroke="#222" stroke-width="0.6" fill="none"/>
<path d="M49.6 763.8L51.2 763.8" stroke="#222" stroke-width="0.6" fill="none"/>
<path d="M49.6 759.7L51.2 759.7" stroke="#222" stroke-width="0.6" fill="none"/>
<path d="M49.6 756.2L51.2 756.2" stroke="#222" stroke-width="0.6" fill="none"/>
<path d="M49.6 753.2L51.2 753.2" stroke="#222" stroke-width="0.6" fill="none"/>
<path d="M49.6 750.6L51.2 750.6" stroke="#222" stroke-width="0.6" fill="none"/>
<path d="M48.400000000000006 748.2L51.2 748.2" stroke="#222" stroke-width="0.8" fill="none"/>
<text x="45.400000000000006" y="753.6" font-size="13.3" text-anchor="end" fill="#111" stroke="#111">10<tspan font-size="9.3" dy="-5.5">2</tspan></text>
<text x="15.700000000000003" y="778.4000000000001" font-size="14.5" text-anchor="start" fill="#111" stroke="#111" font-style="italic" >D</text>
<text x="242.7" y="984.5" font-size="15.5" fill="#111" stroke="#111" font-style="italic">γ<tspan font-size="10.8" dy="3.4">I</tspan></text>
<text x="170.1" y="742.6" font-size="15.2" fill="#111" stroke="#111" font-style="italic" text-anchor="middle" letter-spacing="0">T</text><text x="174.8" y="744.9" font-size="10.6" fill="#111" stroke="#111" font-style="italic" letter-spacing="0">I</text><path d="M169.3 729.1h3.8" stroke="#111" stroke-width="1"/>
<rect x="305.2" y="748.20" width="10.6" height="207.80" fill="#333399"/>
<rect x="305.2" y="748.20" width="10.6" height="199.14" fill="#333399"/>
<rect x="305.2" y="748.20" width="10.6" height="190.48" fill="#274ab0"/>
<rect x="305.2" y="748.20" width="10.6" height="181.82" fill="#186ad0"/>
<rect x="305.2" y="748.20" width="10.6" height="173.17" fill="#0889ef"/>
<rect x="305.2" y="748.20" width="10.6" height="164.51" fill="#00a4dd"/>
<rect x="305.2" y="748.20" width="10.6" height="155.85" fill="#00bc96"/>
<rect x="305.2" y="748.20" width="10.6" height="147.19" fill="#0fcf69"/>
<rect x="305.2" y="748.20" width="10.6" height="138.53" fill="#3ed872"/>
<rect x="305.2" y="748.20" width="10.6" height="129.88" fill="#6ce27c"/>
<rect x="305.2" y="748.20" width="10.6" height="121.22" fill="#9beb85"/>
<rect x="305.2" y="748.20" width="10.6" height="112.56" fill="#caf48e"/>
<rect x="305.2" y="748.20" width="10.6" height="103.90" fill="#f9fe98"/>
<rect x="305.2" y="748.20" width="10.6" height="95.24" fill="#eae58e"/>
<rect x="305.2" y="748.20" width="10.6" height="86.58" fill="#d3c781"/>
<rect x="305.2" y="748.20" width="10.6" height="77.92" fill="#bca975"/>
<rect x="305.2" y="748.20" width="10.6" height="69.27" fill="#a48b68"/>
<rect x="305.2" y="748.20" width="10.6" height="60.61" fill="#8d6d5b"/>
<rect x="305.2" y="748.20" width="10.6" height="51.95" fill="#8a6962"/>
<rect x="305.2" y="748.20" width="10.6" height="43.29" fill="#a18781"/>
<rect x="305.2" y="748.20" width="10.6" height="34.63" fill="#b9a5a1"/>
<rect x="305.2" y="748.20" width="10.6" height="25.98" fill="#d0c3c0"/>
<rect x="305.2" y="748.20" width="10.6" height="17.32" fill="#e8e1e0"/>
<rect x="305.2" y="748.20" width="10.6" height="8.66" fill="#ffffff"/>
<rect x="305.2" y="748.2" width="10.600000000000023" height="207.79999999999995" stroke="#222" stroke-width="0.8" fill="none"/>
<path d="M315.8 956.0L318.6 956.0" stroke="#222" stroke-width="0.8" fill="none"/>
<text x="321.1" y="960.9" font-size="13.1" text-anchor="start" fill="#111" stroke="#111" >0.00</text>
<path d="M315.8 930.0L318.6 930.0" stroke="#222" stroke-width="0.8" fill="none"/>
<text x="321.1" y="934.9" font-size="13.1" text-anchor="start" fill="#111" stroke="#111" >0.03</text>
<path d="M315.8 904.0L318.6 904.0" stroke="#222" stroke-width="0.8" fill="none"/>
<text x="321.1" y="908.9" font-size="13.1" text-anchor="start" fill="#111" stroke="#111" >0.06</text>
<path d="M315.8 878.1L318.6 878.1" stroke="#222" stroke-width="0.8" fill="none"/>
<text x="321.1" y="883.0" font-size="13.1" text-anchor="start" fill="#111" stroke="#111" >0.09</text>
<path d="M315.8 852.1L318.6 852.1" stroke="#222" stroke-width="0.8" fill="none"/>
<text x="321.1" y="857.0" font-size="13.1" text-anchor="start" fill="#111" stroke="#111" >0.12</text>
<path d="M315.8 826.1L318.6 826.1" stroke="#222" stroke-width="0.8" fill="none"/>
<text x="321.1" y="831.0" font-size="13.1" text-anchor="start" fill="#111" stroke="#111" >0.15</text>
<path d="M315.8 800.2L318.6 800.2" stroke="#222" stroke-width="0.8" fill="none"/>
<text x="321.1" y="805.1" font-size="13.1" text-anchor="start" fill="#111" stroke="#111" >0.18</text>
<path d="M315.8 774.2L318.6 774.2" stroke="#222" stroke-width="0.8" fill="none"/>
<text x="321.1" y="779.1" font-size="13.1" text-anchor="start" fill="#111" stroke="#111" >0.21</text>
<path d="M315.8 748.2L318.6 748.2" stroke="#222" stroke-width="0.8" fill="none"/>
<text x="321.1" y="753.1" font-size="13.1" text-anchor="start" fill="#111" stroke="#111" >0.24</text>
<rect x="425.5" y="748.6" width="251.0" height="207.39999999999998" fill="#fff"/>
<path d="M443.4 748.6L443.4 956.0" stroke="#b8b8b8" stroke-width="0.8" fill="none"/>
<path d="M443.4 956.0L443.4 958.8" stroke="#222" stroke-width="0.8" fill="none"/>
<text x="443.4" y="971.3" font-size="13.1" text-anchor="middle" fill="#111" stroke="#111" >0.1</text>
<path d="M479.3 748.6L479.3 956.0" stroke="#b8b8b8" stroke-width="0.8" fill="none"/>
<path d="M479.3 956.0L479.3 958.8" stroke="#222" stroke-width="0.8" fill="none"/>
<text x="479.3" y="971.3" font-size="13.1" text-anchor="middle" fill="#111" stroke="#111" >0.2</text>
<path d="M515.1 748.6L515.1 956.0" stroke="#b8b8b8" stroke-width="0.8" fill="none"/>
<path d="M515.1 956.0L515.1 958.8" stroke="#222" stroke-width="0.8" fill="none"/>
<text x="515.1" y="971.3" font-size="13.1" text-anchor="middle" fill="#111" stroke="#111" >0.3</text>
<path d="M551.0 748.6L551.0 956.0" stroke="#b8b8b8" stroke-width="0.8" fill="none"/>
<path d="M551.0 956.0L551.0 958.8" stroke="#222" stroke-width="0.8" fill="none"/>
<text x="551.0" y="971.3" font-size="13.1" text-anchor="middle" fill="#111" stroke="#111" >0.4</text>
<path d="M586.9 748.6L586.9 956.0" stroke="#b8b8b8" stroke-width="0.8" fill="none"/>
<path d="M586.9 956.0L586.9 958.8" stroke="#222" stroke-width="0.8" fill="none"/>
<text x="586.9" y="971.3" font-size="13.1" text-anchor="middle" fill="#111" stroke="#111" >0.5</text>
<path d="M622.7 748.6L622.7 956.0" stroke="#b8b8b8" stroke-width="0.8" fill="none"/>
<path d="M622.7 956.0L622.7 958.8" stroke="#222" stroke-width="0.8" fill="none"/>
<text x="622.7" y="971.3" font-size="13.1" text-anchor="middle" fill="#111" stroke="#111" >0.6</text>
<path d="M658.6 748.6L658.6 956.0" stroke="#b8b8b8" stroke-width="0.8" fill="none"/>
<path d="M658.6 956.0L658.6 958.8" stroke="#222" stroke-width="0.8" fill="none"/>
<text x="658.6" y="971.3" font-size="13.1" text-anchor="middle" fill="#111" stroke="#111" >0.7</text>
<path d="M425.5 946.3L676.5 946.3" stroke="#b8b8b8" stroke-width="0.8" fill="none"/>
<path d="M422.7 946.3L425.5 946.3" stroke="#222" stroke-width="0.8" fill="none"/>
<text x="419.0" y="951.2" font-size="13.1" text-anchor="end" fill="#111" stroke="#111" >0.00</text>
<path d="M425.5 906.6L676.5 906.6" stroke="#b8b8b8" stroke-width="0.8" fill="none"/>
<path d="M422.7 906.6L425.5 906.6" stroke="#222" stroke-width="0.8" fill="none"/>
<text x="419.0" y="911.5" font-size="13.1" text-anchor="end" fill="#111" stroke="#111" >0.05</text>
<path d="M425.5 866.8L676.5 866.8" stroke="#b8b8b8" stroke-width="0.8" fill="none"/>
<path d="M422.7 866.8L425.5 866.8" stroke="#222" stroke-width="0.8" fill="none"/>
<text x="419.0" y="871.7" font-size="13.1" text-anchor="end" fill="#111" stroke="#111" >0.10</text>
<path d="M425.5 827.1L676.5 827.1" stroke="#b8b8b8" stroke-width="0.8" fill="none"/>
<path d="M422.7 827.1L425.5 827.1" stroke="#222" stroke-width="0.8" fill="none"/>
<text x="419.0" y="832.0" font-size="13.1" text-anchor="end" fill="#111" stroke="#111" >0.15</text>
<path d="M425.5 787.4L676.5 787.4" stroke="#b8b8b8" stroke-width="0.8" fill="none"/>
<path d="M422.7 787.4L425.5 787.4" stroke="#222" stroke-width="0.8" fill="none"/>
<text x="419.0" y="792.3" font-size="13.1" text-anchor="end" fill="#111" stroke="#111" >0.20</text>
<clipPath id="lpc"><rect x="425.5" y="748.6" width="251.0" height="207.39999999999998"/></clipPath>
<g clip-path="url(#lpc)"><polyline points="425.5,906.6 432.7,903.7 439.8,900.2 447.0,897.8 454.2,896.0 461.4,893.1 468.5,890.6 475.7,887.8 482.9,885.0 490.0,882.3 497.2,880.0 504.4,877.3 511.6,874.3 518.7,870.7 525.9,867.6 533.1,864.5 540.2,861.3 547.4,858.4 554.6,856.4 561.8,852.4 568.9,848.6 576.1,844.8 583.3,841.5 590.4,838.4 597.6,834.9 604.8,829.5 612.0,825.6 619.1,821.8 626.3,815.8 633.5,812.7 640.6,809.0 647.8,802.7 655.0,799.8 662.2,791.4 669.3,785.8 676.5,779.8" fill="none" stroke="#1f77b4" stroke-width="1.5" stroke-linejoin="round"/>
<circle cx="425.5" cy="906.6" r="2" fill="#1f77b4"/><circle cx="432.7" cy="903.7" r="2" fill="#1f77b4"/><circle cx="439.8" cy="900.2" r="2" fill="#1f77b4"/><circle cx="447.0" cy="897.8" r="2" fill="#1f77b4"/><circle cx="454.2" cy="896.0" r="2" fill="#1f77b4"/><circle cx="461.4" cy="893.1" r="2" fill="#1f77b4"/><circle cx="468.5" cy="890.6" r="2" fill="#1f77b4"/><circle cx="475.7" cy="887.8" r="2" fill="#1f77b4"/><circle cx="482.9" cy="885.0" r="2" fill="#1f77b4"/><circle cx="490.0" cy="882.3" r="2" fill="#1f77b4"/><circle cx="497.2" cy="880.0" r="2" fill="#1f77b4"/><circle cx="504.4" cy="877.3" r="2" fill="#1f77b4"/><circle cx="511.6" cy="874.3" r="2" fill="#1f77b4"/><circle cx="518.7" cy="870.7" r="2" fill="#1f77b4"/><circle cx="525.9" cy="867.6" r="2" fill="#1f77b4"/><circle cx="533.1" cy="864.5" r="2" fill="#1f77b4"/><circle cx="540.2" cy="861.3" r="2" fill="#1f77b4"/><circle cx="547.4" cy="858.4" r="2" fill="#1f77b4"/><circle cx="554.6" cy="856.4" r="2" fill="#1f77b4"/><circle cx="561.8" cy="852.4" r="2" fill="#1f77b4"/><circle cx="568.9" cy="848.6" r="2" fill="#1f77b4"/><circle cx="576.1" cy="844.8" r="2" fill="#1f77b4"/><circle cx="583.3" cy="841.5" r="2" fill="#1f77b4"/><circle cx="590.4" cy="838.4" r="2" fill="#1f77b4"/><circle cx="597.6" cy="834.9" r="2" fill="#1f77b4"/><circle cx="604.8" cy="829.5" r="2" fill="#1f77b4"/><circle cx="612.0" cy="825.6" r="2" fill="#1f77b4"/><circle cx="619.1" cy="821.8" r="2" fill="#1f77b4"/><circle cx="626.3" cy="815.8" r="2" fill="#1f77b4"/><circle cx="633.5" cy="812.7" r="2" fill="#1f77b4"/><circle cx="640.6" cy="809.0" r="2" fill="#1f77b4"/><circle cx="647.8" cy="802.7" r="2" fill="#1f77b4"/><circle cx="655.0" cy="799.8" r="2" fill="#1f77b4"/><circle cx="662.2" cy="791.4" r="2" fill="#1f77b4"/><circle cx="669.3" cy="785.8" r="2" fill="#1f77b4"/><circle cx="676.5" cy="779.8" r="2" fill="#1f77b4"/></g>
<g clip-path="url(#lpc)"><polyline points="425.5,905.6 432.7,904.9 439.8,900.9 447.0,900.0 454.2,898.6 461.4,896.4 468.5,894.7 475.7,892.4 482.9,890.8 490.0,889.3 497.2,887.8 504.4,886.4 511.6,884.8 518.7,883.0 525.9,880.8 533.1,878.6 540.2,877.2 547.4,877.5 554.6,876.8 561.8,874.2 568.9,873.0 576.1,872.6 583.3,870.9 590.4,869.9 597.6,867.7 604.8,866.0 612.0,864.3 619.1,862.9 626.3,860.5 633.5,859.8 640.6,857.6 647.8,855.8 655.0,854.0 662.2,852.3 669.3,848.3 676.5,847.0" fill="none" stroke="#ff7f0e" stroke-width="1.5" stroke-linejoin="round"/>
<circle cx="425.5" cy="905.6" r="2" fill="#ff7f0e"/><circle cx="432.7" cy="904.9" r="2" fill="#ff7f0e"/><circle cx="439.8" cy="900.9" r="2" fill="#ff7f0e"/><circle cx="447.0" cy="900.0" r="2" fill="#ff7f0e"/><circle cx="454.2" cy="898.6" r="2" fill="#ff7f0e"/><circle cx="461.4" cy="896.4" r="2" fill="#ff7f0e"/><circle cx="468.5" cy="894.7" r="2" fill="#ff7f0e"/><circle cx="475.7" cy="892.4" r="2" fill="#ff7f0e"/><circle cx="482.9" cy="890.8" r="2" fill="#ff7f0e"/><circle cx="490.0" cy="889.3" r="2" fill="#ff7f0e"/><circle cx="497.2" cy="887.8" r="2" fill="#ff7f0e"/><circle cx="504.4" cy="886.4" r="2" fill="#ff7f0e"/><circle cx="511.6" cy="884.8" r="2" fill="#ff7f0e"/><circle cx="518.7" cy="883.0" r="2" fill="#ff7f0e"/><circle cx="525.9" cy="880.8" r="2" fill="#ff7f0e"/><circle cx="533.1" cy="878.6" r="2" fill="#ff7f0e"/><circle cx="540.2" cy="877.2" r="2" fill="#ff7f0e"/><circle cx="547.4" cy="877.5" r="2" fill="#ff7f0e"/><circle cx="554.6" cy="876.8" r="2" fill="#ff7f0e"/><circle cx="561.8" cy="874.2" r="2" fill="#ff7f0e"/><circle cx="568.9" cy="873.0" r="2" fill="#ff7f0e"/><circle cx="576.1" cy="872.6" r="2" fill="#ff7f0e"/><circle cx="583.3" cy="870.9" r="2" fill="#ff7f0e"/><circle cx="590.4" cy="869.9" r="2" fill="#ff7f0e"/><circle cx="597.6" cy="867.7" r="2" fill="#ff7f0e"/><circle cx="604.8" cy="866.0" r="2" fill="#ff7f0e"/><circle cx="612.0" cy="864.3" r="2" fill="#ff7f0e"/><circle cx="619.1" cy="862.9" r="2" fill="#ff7f0e"/><circle cx="626.3" cy="860.5" r="2" fill="#ff7f0e"/><circle cx="633.5" cy="859.8" r="2" fill="#ff7f0e"/><circle cx="640.6" cy="857.6" r="2" fill="#ff7f0e"/><circle cx="647.8" cy="855.8" r="2" fill="#ff7f0e"/><circle cx="655.0" cy="854.0" r="2" fill="#ff7f0e"/><circle cx="662.2" cy="852.3" r="2" fill="#ff7f0e"/><circle cx="669.3" cy="848.3" r="2" fill="#ff7f0e"/><circle cx="676.5" cy="847.0" r="2" fill="#ff7f0e"/></g>
<g clip-path="url(#lpc)"><polyline points="425.5,909.7 432.7,901.6 439.8,892.4 447.0,885.4 454.2,881.2 461.4,876.2 468.5,871.7 475.7,868.0 482.9,863.3 490.0,860.4 497.2,856.6 504.4,852.9 511.6,849.5 518.7,843.2 525.9,840.1 533.1,837.7 540.2,833.5 547.4,828.8 554.6,827.1 561.8,823.2 568.9,819.7 576.1,812.9 583.3,811.2 590.4,808.4 597.6,805.4 604.8,798.9 612.0,796.7 619.1,793.9 626.3,787.6 633.5,785.4 640.6,782.3 647.8,777.0 655.0,775.2 662.2,767.1 669.3,763.2 676.5,757.9" fill="none" stroke="#2ca02c" stroke-width="1.5" stroke-linejoin="round"/>
<circle cx="425.5" cy="909.7" r="2" fill="#2ca02c"/><circle cx="432.7" cy="901.6" r="2" fill="#2ca02c"/><circle cx="439.8" cy="892.4" r="2" fill="#2ca02c"/><circle cx="447.0" cy="885.4" r="2" fill="#2ca02c"/><circle cx="454.2" cy="881.2" r="2" fill="#2ca02c"/><circle cx="461.4" cy="876.2" r="2" fill="#2ca02c"/><circle cx="468.5" cy="871.7" r="2" fill="#2ca02c"/><circle cx="475.7" cy="868.0" r="2" fill="#2ca02c"/><circle cx="482.9" cy="863.3" r="2" fill="#2ca02c"/><circle cx="490.0" cy="860.4" r="2" fill="#2ca02c"/><circle cx="497.2" cy="856.6" r="2" fill="#2ca02c"/><circle cx="504.4" cy="852.9" r="2" fill="#2ca02c"/><circle cx="511.6" cy="849.5" r="2" fill="#2ca02c"/><circle cx="518.7" cy="843.2" r="2" fill="#2ca02c"/><circle cx="525.9" cy="840.1" r="2" fill="#2ca02c"/><circle cx="533.1" cy="837.7" r="2" fill="#2ca02c"/><circle cx="540.2" cy="833.5" r="2" fill="#2ca02c"/><circle cx="547.4" cy="828.8" r="2" fill="#2ca02c"/><circle cx="554.6" cy="827.1" r="2" fill="#2ca02c"/><circle cx="561.8" cy="823.2" r="2" fill="#2ca02c"/><circle cx="568.9" cy="819.7" r="2" fill="#2ca02c"/><circle cx="576.1" cy="812.9" r="2" fill="#2ca02c"/><circle cx="583.3" cy="811.2" r="2" fill="#2ca02c"/><circle cx="590.4" cy="808.4" r="2" fill="#2ca02c"/><circle cx="597.6" cy="805.4" r="2" fill="#2ca02c"/><circle cx="604.8" cy="798.9" r="2" fill="#2ca02c"/><circle cx="612.0" cy="796.7" r="2" fill="#2ca02c"/><circle cx="619.1" cy="793.9" r="2" fill="#2ca02c"/><circle cx="626.3" cy="787.6" r="2" fill="#2ca02c"/><circle cx="633.5" cy="785.4" r="2" fill="#2ca02c"/><circle cx="640.6" cy="782.3" r="2" fill="#2ca02c"/><circle cx="647.8" cy="777.0" r="2" fill="#2ca02c"/><circle cx="655.0" cy="775.2" r="2" fill="#2ca02c"/><circle cx="662.2" cy="767.1" r="2" fill="#2ca02c"/><circle cx="669.3" cy="763.2" r="2" fill="#2ca02c"/><circle cx="676.5" cy="757.9" r="2" fill="#2ca02c"/></g>
<rect x="425.5" y="748.6" width="251.0" height="207.39999999999998" stroke="#222" stroke-width="0.8" fill="none"/>
<rect x="431.2" y="754.7" width="54.4" height="67.6" rx="2" fill="#fff" fill-opacity="0.8" stroke="#ccc" stroke-width="0.8"/>
<path d="M435.09999999999997 766.5L458.9 766.5" stroke="#1f77b4" stroke-width="1.5" fill="none"/>
<text x="473.2" y="770.3" font-size="12.5" fill="#111" stroke="#111" font-style="italic" text-anchor="middle" letter-spacing="0">T</text><path d="M472.6 759.2h3.1" stroke="#111" stroke-width="1"/>
<path d="M435.09999999999997 788.45L458.9 788.45" stroke="#ff7f0e" stroke-width="1.5" fill="none"/>
<text x="473.2" y="792.25" font-size="12.5" fill="#111" stroke="#111" font-style="italic" text-anchor="middle" letter-spacing="0">T</text><text x="477.1" y="794.1" font-size="8.8" fill="#111" stroke="#111" font-style="italic" letter-spacing="0">E</text><path d="M472.6 781.1h3.1" stroke="#111" stroke-width="1"/>
<path d="M435.09999999999997 810.4L458.9 810.4" stroke="#2ca02c" stroke-width="1.5" fill="none"/>
<text x="473.2" y="814.1999999999999" font-size="12.5" fill="#111" stroke="#111" font-style="italic" text-anchor="middle" letter-spacing="0">T</text><text x="477.1" y="816.1" font-size="8.8" fill="#111" stroke="#111" font-style="italic" letter-spacing="0">I</text><path d="M472.6 803.1h3.1" stroke="#111" stroke-width="1"/>
<text x="378.7" y="806.5" font-size="13.5" fill="#111" stroke="#111" font-style="italic" text-anchor="middle" letter-spacing="0">T</text><path d="M378.0 794.5h3.4" stroke="#111" stroke-width="1"/>
<text x="378.7" y="826.8" font-size="13.5" fill="#111" stroke="#111" font-style="italic" text-anchor="middle" letter-spacing="0">T</text><text x="382.9" y="828.8" font-size="9.4" fill="#111" stroke="#111" font-style="italic" letter-spacing="0">E</text><path d="M378.0 814.8h3.4" stroke="#111" stroke-width="1"/>
<text x="378.7" y="846.6" font-size="13.5" fill="#111" stroke="#111" font-style="italic" text-anchor="middle" letter-spacing="0">T</text><text x="382.9" y="848.6" font-size="9.4" fill="#111" stroke="#111" font-style="italic" letter-spacing="0">I</text><path d="M378.0 834.6h3.4" stroke="#111" stroke-width="1"/>
<text x="626.3" y="984.5" font-size="15.5" fill="#111" stroke="#111" font-style="italic">γ<tspan font-size="10.8" dy="3.4">I</tspan></text>
<text x="436" y="743.4" font-size="17.3" fill="#111" style="font-family:'Liberation Serif',serif" textLength="51.6" lengthAdjust="spacing"><tspan font-style="italic">D</tspan> = 10</text>
</g>
</svg></body></html>
